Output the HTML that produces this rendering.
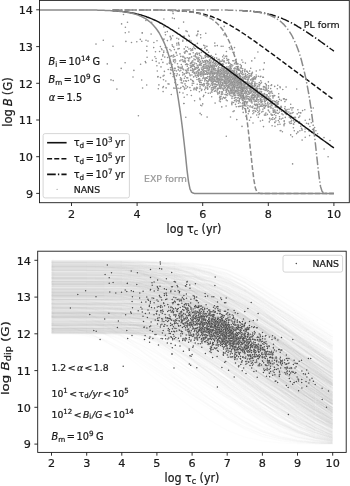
<!DOCTYPE html>
<html><head><meta charset="utf-8"><title>B decay</title>
<style>
html,body{margin:0;padding:0;background:#fff}
svg{display:block}
text{font-family:"DejaVu Sans","Liberation Sans",sans-serif;fill:#1a1a1a;stroke:#1a1a1a;stroke-width:0.22px}
.i{font-style:oblique}
.t{font-size:11.2px}
.a{font-size:9.75px;word-spacing:-1.5px}
.l{font-size:11.1px}
.p{font-size:9.4px}
.b{font-size:9.3px}
</style></head><body>
<svg width="350" height="486" viewBox="0 0 350 486">
<rect width="350" height="486" fill="#fff"/>
<defs>
<clipPath id="ct"><rect x="39.5" y="0.4" width="309.8" height="202.29999999999998"/></clipPath>
<clipPath id="cx"><rect x="112.5" y="0" width="300" height="210"/></clipPath>
<clipPath id="cx1"><rect x="176.5" y="0" width="300" height="210"/></clipPath>
<clipPath id="cx2"><rect x="242.1" y="0" width="300" height="210"/></clipPath>
<clipPath id="cb"><rect x="37.7" y="251.2" width="308.5" height="201.2"/></clipPath>
</defs>

<g clip-path="url(#ct)" fill="none">
<g stroke-linecap="round" fill="none"><path d="M232.3 81.2h0M249.6 90.1h0M210.3 55.7h0M240.4 96.3h0M243.3 96.9h0M229.5 71.8h0M284.7 123.6h0M180.8 70.2h0M206.7 66.1h0M232.4 92.9h0M203.4 62.3h0M245.7 78.8h0M236.8 77.7h0M291.9 110.0h0M177.0 55.2h0M208.3 69.3h0M232.7 77.4h0M213.8 74.2h0M254.0 96.0h0M233.5 90.7h0M233.0 85.2h0M174.4 49.6h0M125.9 41.4h0M226.4 71.6h0M259.3 108.0h0M240.2 78.1h0M212.3 59.0h0M269.8 103.7h0M212.3 83.6h0M230.2 88.4h0M214.4 67.8h0M189.2 54.1h0M204.0 71.1h0M239.0 69.4h0M264.5 101.2h0M254.7 101.7h0M234.1 110.9h0M261.9 99.8h0M302.1 140.1h0M246.3 102.3h0M234.0 60.7h0M199.0 73.9h0M253.1 90.3h0M223.4 64.5h0M291.3 116.3h0M176.8 43.3h0M257.3 90.1h0M175.7 79.8h0M264.4 101.0h0M241.3 80.6h0M187.3 66.3h0M202.6 67.2h0M267.0 94.8h0M238.1 90.7h0M231.2 85.2h0M206.9 63.2h0M271.0 114.1h0M278.5 101.6h0M208.0 74.1h0M188.9 49.0h0M231.0 89.9h0M227.3 72.3h0M244.8 99.4h0M269.7 93.7h0M214.3 58.7h0M264.0 98.2h0M260.1 99.5h0M200.1 86.9h0M222.3 64.4h0M212.9 81.2h0M228.0 70.9h0M249.9 97.3h0M248.6 79.8h0M216.8 79.7h0M165.5 34.7h0M210.8 85.3h0M271.1 85.5h0M226.9 79.1h0M250.0 101.2h0M289.9 113.7h0M203.2 75.7h0M227.2 80.6h0M217.1 70.6h0M224.7 88.2h0M328.1 156.7h0M205.7 68.1h0M212.6 80.5h0M271.1 92.7h0M210.2 64.3h0M203.0 74.1h0M244.6 84.7h0M252.3 86.0h0M184.1 74.4h0M251.2 87.6h0M240.5 85.0h0M239.9 80.8h0M220.8 79.1h0M277.5 104.5h0M173.4 74.6h0M249.9 86.1h0M200.6 61.4h0M184.4 78.2h0M261.8 89.4h0M277.9 107.8h0M209.6 73.6h0M223.5 74.1h0M197.4 47.7h0M231.1 86.3h0M236.1 73.7h0M243.2 112.4h0M256.5 108.9h0M232.4 77.2h0M272.1 114.7h0M218.8 64.3h0M217.4 89.2h0M247.6 74.7h0M211.6 77.9h0M211.5 91.2h0M205.8 33.2h0M243.8 74.4h0M291.6 120.3h0M218.2 68.1h0M248.6 98.9h0M249.1 82.0h0M195.1 73.9h0M218.6 79.6h0M226.5 75.6h0M241.0 84.7h0M225.8 79.8h0M201.2 73.8h0M208.4 70.6h0M230.7 77.2h0M260.8 100.1h0M211.7 69.7h0M165.4 47.5h0M274.4 110.4h0M274.7 86.4h0M273.7 95.5h0M239.6 106.4h0M163.9 26.9h0M187.4 64.5h0M228.5 86.0h0M209.0 79.5h0M190.1 54.0h0M224.2 61.4h0M221.1 70.9h0M226.8 90.8h0M244.3 104.9h0M232.8 60.8h0M282.8 118.2h0M254.9 82.1h0M201.8 105.7h0M218.8 71.8h0M205.9 56.3h0M243.8 105.6h0M170.5 29.5h0M207.3 78.2h0M233.5 87.3h0M185.8 117.3h0M266.4 85.8h0M211.3 89.1h0M207.2 67.0h0M254.1 99.6h0M194.0 72.8h0M239.6 87.6h0M248.7 96.5h0M261.1 104.1h0M196.8 87.4h0M203.6 77.2h0M191.0 67.2h0M251.4 96.5h0M172.9 11.7h0M199.6 62.8h0M213.2 81.3h0M256.3 76.9h0M232.3 102.8h0M250.2 105.8h0M242.3 99.4h0M210.2 76.0h0M230.1 84.4h0M220.8 80.6h0M256.9 88.4h0M266.0 87.4h0M241.9 92.4h0M211.4 73.6h0M189.8 57.9h0M258.6 95.3h0M271.0 101.5h0M236.6 72.3h0M235.1 97.4h0M265.3 105.6h0M285.7 99.7h0M239.0 79.9h0M223.3 69.6h0M257.2 94.4h0M221.3 76.7h0M236.0 97.6h0M244.3 77.9h0M235.5 81.4h0M210.8 66.7h0M188.7 35.2h0M283.7 111.3h0M176.9 38.2h0M218.7 62.5h0M257.9 52.0h0M226.3 100.1h0M243.3 85.4h0M184.0 103.5h0M228.8 91.8h0M225.6 73.3h0M227.3 72.2h0M230.2 76.1h0M247.7 82.8h0M179.9 68.0h0M253.8 112.7h0M235.2 62.9h0M195.1 68.4h0M212.7 82.8h0M222.6 83.9h0M224.2 26.4h0M265.0 96.3h0M165.8 81.0h0M214.2 88.1h0M264.6 87.1h0M218.2 70.7h0M226.4 78.2h0M241.5 68.2h0M234.2 83.3h0M208.7 83.5h0M215.3 88.0h0M188.3 60.5h0M220.2 74.6h0M225.2 81.7h0M259.1 86.1h0M251.6 89.8h0M183.6 69.8h0M228.6 61.0h0M247.2 77.0h0M229.4 69.6h0M154.9 56.8h0M253.6 91.9h0M217.0 61.1h0M242.2 91.3h0M255.5 105.4h0M243.2 96.7h0M192.2 85.3h0M234.2 86.8h0M259.1 97.1h0M219.7 61.6h0M254.4 86.5h0M228.3 62.8h0M184.8 53.2h0M250.4 83.9h0M221.3 73.9h0M268.3 110.1h0M300.3 112.8h0M200.2 72.6h0M268.5 107.2h0M209.3 77.2h0M246.0 116.2h0M205.1 47.3h0M330.0 140.5h0M251.6 75.2h0M221.1 82.5h0M250.0 91.8h0M234.7 80.3h0M262.9 109.3h0M219.4 101.0h0M268.4 81.9h0M230.9 81.3h0M240.2 64.5h0M168.2 69.5h0M188.4 80.5h0M244.7 87.7h0M270.9 101.8h0M225.0 82.0h0M302.1 129.2h0M177.5 63.8h0M265.4 106.8h0M222.5 68.4h0M235.7 95.3h0M250.2 99.3h0M256.7 115.0h0M211.7 66.4h0M252.7 97.7h0M182.9 56.9h0M237.0 85.2h0M215.1 73.6h0M267.5 103.6h0M210.1 67.8h0M219.4 61.0h0M251.6 92.4h0M174.3 60.0h0M243.1 88.0h0M178.5 42.5h0M196.4 87.8h0M200.6 55.7h0M238.0 95.4h0M224.3 86.0h0M218.0 72.4h0M212.9 64.2h0M216.6 79.1h0M226.6 77.1h0M270.1 120.0h0M247.6 98.2h0M255.3 78.1h0M238.1 79.5h0M227.1 78.1h0M214.7 80.2h0M211.9 69.0h0M181.3 64.5h0M231.8 90.5h0M184.2 97.3h0M231.6 89.5h0M208.2 70.7h0M221.9 91.8h0" stroke="#fff" stroke-opacity="0.2" stroke-width="2.2"/><path d="M232.3 81.2h0M249.6 90.1h0M210.3 55.7h0M240.4 96.3h0M243.3 96.9h0M229.5 71.8h0M284.7 123.6h0M180.8 70.2h0M206.7 66.1h0M232.4 92.9h0M203.4 62.3h0M245.7 78.8h0M236.8 77.7h0M291.9 110.0h0M177.0 55.2h0M208.3 69.3h0M232.7 77.4h0M213.8 74.2h0M254.0 96.0h0M233.5 90.7h0M233.0 85.2h0M174.4 49.6h0M125.9 41.4h0M226.4 71.6h0M259.3 108.0h0M240.2 78.1h0M212.3 59.0h0M269.8 103.7h0M212.3 83.6h0M230.2 88.4h0M214.4 67.8h0M189.2 54.1h0M204.0 71.1h0M239.0 69.4h0M264.5 101.2h0M254.7 101.7h0M234.1 110.9h0M261.9 99.8h0M302.1 140.1h0M246.3 102.3h0M234.0 60.7h0M199.0 73.9h0M253.1 90.3h0M223.4 64.5h0M291.3 116.3h0M176.8 43.3h0M257.3 90.1h0M175.7 79.8h0M264.4 101.0h0M241.3 80.6h0M187.3 66.3h0M202.6 67.2h0M267.0 94.8h0M238.1 90.7h0M231.2 85.2h0M206.9 63.2h0M271.0 114.1h0M278.5 101.6h0M208.0 74.1h0M188.9 49.0h0M231.0 89.9h0M227.3 72.3h0M244.8 99.4h0M269.7 93.7h0M214.3 58.7h0M264.0 98.2h0M260.1 99.5h0M200.1 86.9h0M222.3 64.4h0M212.9 81.2h0M228.0 70.9h0M249.9 97.3h0M248.6 79.8h0M216.8 79.7h0M165.5 34.7h0M210.8 85.3h0M271.1 85.5h0M226.9 79.1h0M250.0 101.2h0M289.9 113.7h0M203.2 75.7h0M227.2 80.6h0M217.1 70.6h0M224.7 88.2h0M328.1 156.7h0M205.7 68.1h0M212.6 80.5h0M271.1 92.7h0M210.2 64.3h0M203.0 74.1h0M244.6 84.7h0M252.3 86.0h0M184.1 74.4h0M251.2 87.6h0M240.5 85.0h0M239.9 80.8h0M220.8 79.1h0M277.5 104.5h0M173.4 74.6h0M249.9 86.1h0M200.6 61.4h0M184.4 78.2h0M261.8 89.4h0M277.9 107.8h0M209.6 73.6h0M223.5 74.1h0M197.4 47.7h0M231.1 86.3h0M236.1 73.7h0M243.2 112.4h0M256.5 108.9h0M232.4 77.2h0M272.1 114.7h0M218.8 64.3h0M217.4 89.2h0M247.6 74.7h0M211.6 77.9h0M211.5 91.2h0M205.8 33.2h0M243.8 74.4h0M291.6 120.3h0M218.2 68.1h0M248.6 98.9h0M249.1 82.0h0M195.1 73.9h0M218.6 79.6h0M226.5 75.6h0M241.0 84.7h0M225.8 79.8h0M201.2 73.8h0M208.4 70.6h0M230.7 77.2h0M260.8 100.1h0M211.7 69.7h0M165.4 47.5h0M274.4 110.4h0M274.7 86.4h0M273.7 95.5h0M239.6 106.4h0M163.9 26.9h0M187.4 64.5h0M228.5 86.0h0M209.0 79.5h0M190.1 54.0h0M224.2 61.4h0M221.1 70.9h0M226.8 90.8h0M244.3 104.9h0M232.8 60.8h0M282.8 118.2h0M254.9 82.1h0M201.8 105.7h0M218.8 71.8h0M205.9 56.3h0M243.8 105.6h0M170.5 29.5h0M207.3 78.2h0M233.5 87.3h0M185.8 117.3h0M266.4 85.8h0M211.3 89.1h0M207.2 67.0h0M254.1 99.6h0M194.0 72.8h0M239.6 87.6h0M248.7 96.5h0M261.1 104.1h0M196.8 87.4h0M203.6 77.2h0M191.0 67.2h0M251.4 96.5h0M172.9 11.7h0M199.6 62.8h0M213.2 81.3h0M256.3 76.9h0M232.3 102.8h0M250.2 105.8h0M242.3 99.4h0M210.2 76.0h0M230.1 84.4h0M220.8 80.6h0M256.9 88.4h0M266.0 87.4h0M241.9 92.4h0M211.4 73.6h0M189.8 57.9h0M258.6 95.3h0M271.0 101.5h0M236.6 72.3h0M235.1 97.4h0M265.3 105.6h0M285.7 99.7h0M239.0 79.9h0M223.3 69.6h0M257.2 94.4h0M221.3 76.7h0M236.0 97.6h0M244.3 77.9h0M235.5 81.4h0M210.8 66.7h0M188.7 35.2h0M283.7 111.3h0M176.9 38.2h0M218.7 62.5h0M257.9 52.0h0M226.3 100.1h0M243.3 85.4h0M184.0 103.5h0M228.8 91.8h0M225.6 73.3h0M227.3 72.2h0M230.2 76.1h0M247.7 82.8h0M179.9 68.0h0M253.8 112.7h0M235.2 62.9h0M195.1 68.4h0M212.7 82.8h0M222.6 83.9h0M224.2 26.4h0M265.0 96.3h0M165.8 81.0h0M214.2 88.1h0M264.6 87.1h0M218.2 70.7h0M226.4 78.2h0M241.5 68.2h0M234.2 83.3h0M208.7 83.5h0M215.3 88.0h0M188.3 60.5h0M220.2 74.6h0M225.2 81.7h0M259.1 86.1h0M251.6 89.8h0M183.6 69.8h0M228.6 61.0h0M247.2 77.0h0M229.4 69.6h0M154.9 56.8h0M253.6 91.9h0M217.0 61.1h0M242.2 91.3h0M255.5 105.4h0M243.2 96.7h0M192.2 85.3h0M234.2 86.8h0M259.1 97.1h0M219.7 61.6h0M254.4 86.5h0M228.3 62.8h0M184.8 53.2h0M250.4 83.9h0M221.3 73.9h0M268.3 110.1h0M300.3 112.8h0M200.2 72.6h0M268.5 107.2h0M209.3 77.2h0M246.0 116.2h0M205.1 47.3h0M330.0 140.5h0M251.6 75.2h0M221.1 82.5h0M250.0 91.8h0M234.7 80.3h0M262.9 109.3h0M219.4 101.0h0M268.4 81.9h0M230.9 81.3h0M240.2 64.5h0M168.2 69.5h0M188.4 80.5h0M244.7 87.7h0M270.9 101.8h0M225.0 82.0h0M302.1 129.2h0M177.5 63.8h0M265.4 106.8h0M222.5 68.4h0M235.7 95.3h0M250.2 99.3h0M256.7 115.0h0M211.7 66.4h0M252.7 97.7h0M182.9 56.9h0M237.0 85.2h0M215.1 73.6h0M267.5 103.6h0M210.1 67.8h0M219.4 61.0h0M251.6 92.4h0M174.3 60.0h0M243.1 88.0h0M178.5 42.5h0M196.4 87.8h0M200.6 55.7h0M238.0 95.4h0M224.3 86.0h0M218.0 72.4h0M212.9 64.2h0M216.6 79.1h0M226.6 77.1h0M270.1 120.0h0M247.6 98.2h0M255.3 78.1h0M238.1 79.5h0M227.1 78.1h0M214.7 80.2h0M211.9 69.0h0M181.3 64.5h0M231.8 90.5h0M184.2 97.3h0M231.6 89.5h0M208.2 70.7h0M221.9 91.8h0" stroke="#8e8e8e" stroke-width="1.6"/><path d="M219.4 63.8h0M324.0 137.6h0M195.2 55.6h0M254.9 88.9h0M206.5 49.8h0M239.4 93.1h0M201.4 52.4h0M207.5 82.1h0M247.9 108.5h0M274.7 122.3h0M260.8 76.3h0M182.9 86.2h0M226.2 76.6h0M225.3 56.5h0M233.3 73.9h0M221.2 46.2h0M256.6 101.2h0M238.0 82.4h0M215.0 83.8h0M232.8 77.8h0M278.0 103.1h0M208.1 70.5h0M262.7 77.2h0M176.9 45.0h0M301.5 128.4h0M244.3 77.6h0M198.5 74.4h0M268.9 106.7h0M208.1 66.9h0M237.3 90.1h0M217.9 82.1h0M311.3 122.7h0M234.1 81.9h0M195.7 69.2h0M248.8 73.5h0M215.0 77.3h0M244.4 86.9h0M258.0 112.6h0M247.9 88.2h0M248.5 94.3h0M265.8 115.2h0M219.0 69.8h0M235.0 100.6h0M313.3 108.0h0M227.0 83.0h0M255.9 108.2h0M178.3 69.9h0M297.8 132.0h0M218.3 69.3h0M233.1 85.2h0M230.4 71.6h0M257.1 89.0h0M220.0 84.5h0M200.3 64.4h0M255.4 88.9h0M227.8 70.8h0M165.2 32.2h0M250.4 92.4h0M226.3 81.8h0M230.9 80.3h0M203.0 70.7h0M197.3 65.5h0M243.1 103.6h0M293.4 127.8h0M231.4 83.4h0M306.5 123.2h0M213.3 74.9h0M199.4 53.4h0M207.1 117.1h0M164.4 71.4h0M218.8 79.3h0M193.6 71.2h0M232.0 76.0h0M232.1 89.0h0M212.9 66.0h0M240.7 94.6h0M244.2 89.4h0M302.0 130.3h0M226.1 84.5h0M226.0 77.9h0M240.3 75.9h0M208.1 81.7h0M249.9 100.5h0M264.0 99.3h0M224.6 68.6h0M274.4 114.5h0M255.3 95.9h0M228.9 82.7h0M197.3 68.4h0M193.9 59.0h0M225.0 94.5h0M207.2 81.3h0M224.3 87.1h0M170.8 39.7h0M247.4 85.9h0M254.3 108.4h0M259.9 70.0h0M220.4 101.8h0M244.8 70.3h0M265.3 83.5h0M251.9 101.9h0M245.8 93.2h0M240.6 90.6h0M210.0 72.6h0M243.8 87.3h0M190.8 90.5h0M254.5 94.7h0M244.3 88.5h0M274.1 103.3h0M213.5 72.0h0M266.6 98.5h0M242.2 105.5h0M191.2 63.3h0M252.6 97.9h0M209.4 86.8h0M233.9 85.1h0M194.8 63.1h0M226.1 106.0h0M271.4 105.5h0M178.7 28.3h0M197.8 61.3h0M264.8 102.0h0M187.9 72.4h0M241.6 96.6h0M277.3 113.2h0M254.2 91.2h0M127.5 22.2h0M255.6 85.6h0M280.9 130.5h0M238.5 92.0h0M179.2 48.5h0M259.0 104.1h0M283.0 114.8h0M213.1 75.8h0M236.0 92.4h0M238.4 80.5h0M217.1 65.2h0M234.3 86.0h0M196.4 63.7h0M218.2 78.7h0M219.2 67.7h0M215.8 90.2h0M265.3 101.4h0M219.2 71.4h0M257.3 105.6h0M215.7 73.5h0M260.2 76.8h0M121.2 68.4h0M196.5 35.3h0M247.0 83.1h0M202.7 103.9h0M218.4 82.1h0M262.0 93.9h0M232.0 96.7h0M185.5 80.7h0M245.9 96.9h0M317.6 133.8h0M228.0 77.5h0M212.6 77.7h0M242.9 62.2h0M263.5 105.4h0M218.9 93.6h0M228.2 80.4h0M281.2 100.4h0M247.7 85.9h0M281.4 110.5h0M157.3 71.0h0M233.2 83.8h0M223.7 68.7h0M151.7 22.3h0M211.6 67.1h0M204.5 74.1h0M182.5 83.0h0M243.4 97.3h0M241.0 81.7h0M233.3 71.9h0M218.8 64.3h0M157.8 76.9h0M215.2 72.3h0M248.8 111.4h0M277.5 103.1h0M231.2 68.6h0M234.5 47.6h0M216.0 76.4h0M280.3 107.3h0M259.1 106.6h0M230.1 82.8h0M242.5 74.2h0M230.1 88.5h0M184.6 89.2h0M233.8 73.5h0M198.7 72.9h0M261.0 89.1h0M223.4 73.4h0M217.2 79.3h0M178.0 48.9h0M209.8 73.2h0M237.3 80.3h0M231.3 92.0h0M245.5 73.8h0M254.4 86.6h0M233.4 86.9h0M207.2 85.3h0M252.8 111.0h0M216.0 79.8h0M253.0 123.0h0M218.0 64.1h0M199.0 57.7h0M235.6 80.1h0M183.4 36.4h0M251.1 76.2h0M227.0 80.0h0M230.0 80.6h0M232.8 76.3h0M194.6 100.7h0M217.1 79.7h0M186.7 73.1h0M245.1 83.0h0M249.7 71.1h0M96.0 44.1h0M192.9 62.3h0M243.5 100.2h0M205.1 62.2h0M294.5 122.3h0M145.9 62.7h0M215.0 80.7h0M246.1 101.9h0M200.0 88.6h0M279.5 116.8h0M217.2 82.0h0M194.3 88.1h0M235.5 104.4h0M234.8 81.7h0M191.6 56.9h0M211.6 70.8h0M221.7 64.9h0M213.2 78.5h0M215.1 91.1h0M222.4 60.0h0M194.3 69.5h0M208.4 61.9h0M216.2 63.2h0M202.2 85.2h0M170.2 56.4h0M213.9 88.7h0M224.4 72.4h0M293.3 117.6h0M242.5 87.3h0M243.9 91.3h0M246.2 99.1h0M180.7 68.1h0M173.4 60.1h0M223.2 77.8h0M271.6 115.1h0M266.1 90.0h0M264.2 107.9h0M244.6 85.8h0M211.9 92.3h0M213.4 62.7h0M224.4 73.3h0M181.4 80.6h0M213.2 65.1h0M229.8 78.3h0M252.6 78.6h0M245.2 82.9h0M198.3 72.4h0M292.1 108.0h0M245.7 84.1h0M216.0 76.5h0M219.3 70.2h0M284.0 125.8h0M204.7 48.3h0M237.4 88.1h0M235.4 81.3h0M241.8 92.0h0M218.2 72.9h0M257.2 97.1h0M217.1 76.0h0M238.4 106.6h0M230.6 68.3h0M244.2 93.2h0M230.6 69.2h0M196.1 72.9h0M250.7 68.3h0M228.2 87.6h0M291.5 123.2h0M239.5 85.1h0M231.7 72.0h0M208.7 61.8h0M251.6 96.8h0M249.7 93.2h0M252.4 72.2h0M247.1 79.6h0M251.2 107.1h0M232.8 78.6h0M236.4 75.5h0M235.3 86.9h0M218.5 69.8h0M235.6 75.1h0M145.3 61.6h0M252.9 113.7h0M186.1 88.2h0M181.2 82.7h0M240.0 77.6h0M209.5 59.6h0M284.2 121.6h0M251.0 99.8h0M233.8 90.1h0M223.7 90.4h0M209.8 86.7h0M204.8 74.5h0M214.2 77.4h0M204.1 83.6h0M201.2 73.9h0M221.6 79.1h0M233.0 73.3h0" stroke="#fff" stroke-opacity="0.2" stroke-width="2.2"/><path d="M219.4 63.8h0M324.0 137.6h0M195.2 55.6h0M254.9 88.9h0M206.5 49.8h0M239.4 93.1h0M201.4 52.4h0M207.5 82.1h0M247.9 108.5h0M274.7 122.3h0M260.8 76.3h0M182.9 86.2h0M226.2 76.6h0M225.3 56.5h0M233.3 73.9h0M221.2 46.2h0M256.6 101.2h0M238.0 82.4h0M215.0 83.8h0M232.8 77.8h0M278.0 103.1h0M208.1 70.5h0M262.7 77.2h0M176.9 45.0h0M301.5 128.4h0M244.3 77.6h0M198.5 74.4h0M268.9 106.7h0M208.1 66.9h0M237.3 90.1h0M217.9 82.1h0M311.3 122.7h0M234.1 81.9h0M195.7 69.2h0M248.8 73.5h0M215.0 77.3h0M244.4 86.9h0M258.0 112.6h0M247.9 88.2h0M248.5 94.3h0M265.8 115.2h0M219.0 69.8h0M235.0 100.6h0M313.3 108.0h0M227.0 83.0h0M255.9 108.2h0M178.3 69.9h0M297.8 132.0h0M218.3 69.3h0M233.1 85.2h0M230.4 71.6h0M257.1 89.0h0M220.0 84.5h0M200.3 64.4h0M255.4 88.9h0M227.8 70.8h0M165.2 32.2h0M250.4 92.4h0M226.3 81.8h0M230.9 80.3h0M203.0 70.7h0M197.3 65.5h0M243.1 103.6h0M293.4 127.8h0M231.4 83.4h0M306.5 123.2h0M213.3 74.9h0M199.4 53.4h0M207.1 117.1h0M164.4 71.4h0M218.8 79.3h0M193.6 71.2h0M232.0 76.0h0M232.1 89.0h0M212.9 66.0h0M240.7 94.6h0M244.2 89.4h0M302.0 130.3h0M226.1 84.5h0M226.0 77.9h0M240.3 75.9h0M208.1 81.7h0M249.9 100.5h0M264.0 99.3h0M224.6 68.6h0M274.4 114.5h0M255.3 95.9h0M228.9 82.7h0M197.3 68.4h0M193.9 59.0h0M225.0 94.5h0M207.2 81.3h0M224.3 87.1h0M170.8 39.7h0M247.4 85.9h0M254.3 108.4h0M259.9 70.0h0M220.4 101.8h0M244.8 70.3h0M265.3 83.5h0M251.9 101.9h0M245.8 93.2h0M240.6 90.6h0M210.0 72.6h0M243.8 87.3h0M190.8 90.5h0M254.5 94.7h0M244.3 88.5h0M274.1 103.3h0M213.5 72.0h0M266.6 98.5h0M242.2 105.5h0M191.2 63.3h0M252.6 97.9h0M209.4 86.8h0M233.9 85.1h0M194.8 63.1h0M226.1 106.0h0M271.4 105.5h0M178.7 28.3h0M197.8 61.3h0M264.8 102.0h0M187.9 72.4h0M241.6 96.6h0M277.3 113.2h0M254.2 91.2h0M127.5 22.2h0M255.6 85.6h0M280.9 130.5h0M238.5 92.0h0M179.2 48.5h0M259.0 104.1h0M283.0 114.8h0M213.1 75.8h0M236.0 92.4h0M238.4 80.5h0M217.1 65.2h0M234.3 86.0h0M196.4 63.7h0M218.2 78.7h0M219.2 67.7h0M215.8 90.2h0M265.3 101.4h0M219.2 71.4h0M257.3 105.6h0M215.7 73.5h0M260.2 76.8h0M121.2 68.4h0M196.5 35.3h0M247.0 83.1h0M202.7 103.9h0M218.4 82.1h0M262.0 93.9h0M232.0 96.7h0M185.5 80.7h0M245.9 96.9h0M317.6 133.8h0M228.0 77.5h0M212.6 77.7h0M242.9 62.2h0M263.5 105.4h0M218.9 93.6h0M228.2 80.4h0M281.2 100.4h0M247.7 85.9h0M281.4 110.5h0M157.3 71.0h0M233.2 83.8h0M223.7 68.7h0M151.7 22.3h0M211.6 67.1h0M204.5 74.1h0M182.5 83.0h0M243.4 97.3h0M241.0 81.7h0M233.3 71.9h0M218.8 64.3h0M157.8 76.9h0M215.2 72.3h0M248.8 111.4h0M277.5 103.1h0M231.2 68.6h0M234.5 47.6h0M216.0 76.4h0M280.3 107.3h0M259.1 106.6h0M230.1 82.8h0M242.5 74.2h0M230.1 88.5h0M184.6 89.2h0M233.8 73.5h0M198.7 72.9h0M261.0 89.1h0M223.4 73.4h0M217.2 79.3h0M178.0 48.9h0M209.8 73.2h0M237.3 80.3h0M231.3 92.0h0M245.5 73.8h0M254.4 86.6h0M233.4 86.9h0M207.2 85.3h0M252.8 111.0h0M216.0 79.8h0M253.0 123.0h0M218.0 64.1h0M199.0 57.7h0M235.6 80.1h0M183.4 36.4h0M251.1 76.2h0M227.0 80.0h0M230.0 80.6h0M232.8 76.3h0M194.6 100.7h0M217.1 79.7h0M186.7 73.1h0M245.1 83.0h0M249.7 71.1h0M96.0 44.1h0M192.9 62.3h0M243.5 100.2h0M205.1 62.2h0M294.5 122.3h0M145.9 62.7h0M215.0 80.7h0M246.1 101.9h0M200.0 88.6h0M279.5 116.8h0M217.2 82.0h0M194.3 88.1h0M235.5 104.4h0M234.8 81.7h0M191.6 56.9h0M211.6 70.8h0M221.7 64.9h0M213.2 78.5h0M215.1 91.1h0M222.4 60.0h0M194.3 69.5h0M208.4 61.9h0M216.2 63.2h0M202.2 85.2h0M170.2 56.4h0M213.9 88.7h0M224.4 72.4h0M293.3 117.6h0M242.5 87.3h0M243.9 91.3h0M246.2 99.1h0M180.7 68.1h0M173.4 60.1h0M223.2 77.8h0M271.6 115.1h0M266.1 90.0h0M264.2 107.9h0M244.6 85.8h0M211.9 92.3h0M213.4 62.7h0M224.4 73.3h0M181.4 80.6h0M213.2 65.1h0M229.8 78.3h0M252.6 78.6h0M245.2 82.9h0M198.3 72.4h0M292.1 108.0h0M245.7 84.1h0M216.0 76.5h0M219.3 70.2h0M284.0 125.8h0M204.7 48.3h0M237.4 88.1h0M235.4 81.3h0M241.8 92.0h0M218.2 72.9h0M257.2 97.1h0M217.1 76.0h0M238.4 106.6h0M230.6 68.3h0M244.2 93.2h0M230.6 69.2h0M196.1 72.9h0M250.7 68.3h0M228.2 87.6h0M291.5 123.2h0M239.5 85.1h0M231.7 72.0h0M208.7 61.8h0M251.6 96.8h0M249.7 93.2h0M252.4 72.2h0M247.1 79.6h0M251.2 107.1h0M232.8 78.6h0M236.4 75.5h0M235.3 86.9h0M218.5 69.8h0M235.6 75.1h0M145.3 61.6h0M252.9 113.7h0M186.1 88.2h0M181.2 82.7h0M240.0 77.6h0M209.5 59.6h0M284.2 121.6h0M251.0 99.8h0M233.8 90.1h0M223.7 90.4h0M209.8 86.7h0M204.8 74.5h0M214.2 77.4h0M204.1 83.6h0M201.2 73.9h0M221.6 79.1h0M233.0 73.3h0" stroke="#8e8e8e" stroke-width="1.6"/><path d="M274.5 103.9h0M196.9 73.2h0M235.9 80.6h0M234.9 82.2h0M225.4 72.4h0M260.0 101.2h0M185.4 61.1h0M234.3 77.9h0M244.2 83.9h0M216.3 81.4h0M240.1 92.7h0M219.7 77.1h0M212.4 66.3h0M169.0 84.1h0M171.3 70.1h0M275.0 111.2h0M251.4 73.7h0M257.0 99.7h0M170.5 69.7h0M227.2 60.0h0M191.1 70.4h0M220.7 84.0h0M221.0 85.9h0M252.9 87.8h0M268.7 93.2h0M237.6 91.7h0M203.3 96.6h0M240.5 95.3h0M199.5 55.1h0M295.5 117.7h0M262.8 96.9h0M255.6 77.7h0M158.9 84.9h0M270.1 91.7h0M262.5 101.4h0M173.1 76.6h0M242.4 103.6h0M197.2 84.3h0M156.9 65.7h0M201.1 84.3h0M209.4 79.7h0M192.4 65.7h0M222.2 77.1h0M231.2 80.1h0M221.6 72.8h0M219.8 62.6h0M219.5 65.3h0M207.2 88.4h0M218.4 88.8h0M169.6 61.1h0M256.2 75.0h0M265.1 90.5h0M246.8 93.0h0M170.5 73.4h0M241.0 91.6h0M232.0 98.4h0M233.9 68.7h0M197.9 53.2h0M216.7 79.2h0M199.8 64.8h0M268.0 105.9h0M185.4 58.6h0M217.0 77.0h0M242.6 70.5h0M170.5 37.0h0M228.8 79.1h0M257.3 88.8h0M270.9 107.7h0M267.2 95.2h0M230.7 84.2h0M220.8 77.1h0M273.2 112.1h0M212.6 65.5h0M206.3 73.9h0M289.3 117.1h0M184.2 48.9h0M213.1 70.3h0M212.2 68.1h0M186.1 73.3h0M220.3 83.7h0M251.9 82.4h0M226.9 85.4h0M229.9 65.8h0M216.7 81.9h0M213.3 61.3h0M224.3 69.8h0M297.2 113.9h0M311.2 108.0h0M125.4 27.3h0M242.3 79.7h0M262.6 120.3h0M269.6 112.1h0M217.8 71.0h0M232.7 86.8h0M212.2 71.5h0M219.9 80.0h0M261.2 94.1h0M233.0 75.8h0M253.8 78.7h0M193.6 47.0h0M284.4 98.9h0M251.4 95.5h0M209.4 69.1h0M245.5 101.4h0M238.2 88.3h0M171.2 38.4h0M219.4 78.9h0M259.2 104.2h0M211.4 79.8h0M235.0 70.1h0M261.0 102.3h0M222.3 85.4h0M233.9 93.4h0M266.2 94.7h0M230.5 73.5h0M222.9 60.3h0M180.3 79.8h0M192.5 72.3h0M227.9 72.0h0M192.7 69.0h0M227.0 72.3h0M243.7 87.2h0M196.3 57.0h0M203.4 67.3h0M228.3 68.8h0M249.4 88.0h0M259.0 111.6h0M219.9 96.3h0M230.6 68.0h0M257.6 106.3h0M190.2 75.7h0M233.8 83.5h0M208.8 84.6h0M194.9 59.5h0M219.2 74.4h0M232.8 65.2h0M223.4 80.1h0M293.6 124.3h0M243.1 86.3h0M205.9 74.3h0M227.5 60.0h0M245.8 93.9h0M235.6 78.9h0M198.0 57.2h0M246.9 104.0h0M210.6 62.2h0M247.7 101.8h0M252.3 99.0h0M254.1 78.7h0M253.8 99.4h0M284.2 120.7h0M220.0 71.4h0M187.2 57.8h0M239.6 99.2h0M220.6 64.9h0M214.4 91.2h0M237.6 83.4h0M267.6 103.2h0M232.7 87.4h0M254.9 89.0h0M264.0 105.2h0M234.3 88.4h0M260.8 83.5h0M282.8 89.5h0M213.2 72.3h0M239.9 87.1h0M237.8 86.2h0M201.4 73.2h0M200.1 99.6h0M191.6 49.7h0M272.4 93.3h0M228.7 91.3h0M201.4 114.7h0M158.3 88.8h0M240.9 89.1h0M193.2 70.8h0M89.2 57.4h0M285.1 106.7h0M211.5 83.8h0M215.1 84.2h0M242.6 108.9h0M244.3 88.1h0M256.9 104.5h0M190.7 79.3h0M243.0 74.3h0M257.8 86.1h0M209.1 68.8h0M228.9 80.4h0M238.4 78.7h0M213.8 78.7h0M227.5 79.3h0M231.5 80.1h0M214.9 87.1h0M227.8 75.1h0M210.9 63.1h0M228.9 84.9h0M229.1 81.5h0M276.8 100.7h0M201.1 65.6h0M252.0 78.7h0M217.3 73.8h0M206.8 68.2h0M247.7 72.2h0M211.5 76.9h0M251.9 85.4h0M234.3 71.4h0M231.5 74.8h0M229.3 86.5h0M226.3 89.2h0M238.2 83.6h0M230.4 66.9h0M220.1 74.5h0M273.7 111.1h0M209.8 77.0h0M232.0 85.4h0M224.4 81.3h0M257.0 105.6h0M289.0 109.3h0M240.9 82.0h0M190.2 65.3h0M225.8 80.4h0M212.7 82.0h0M232.5 88.4h0M233.8 86.9h0M246.2 96.7h0M208.7 73.3h0M236.7 91.3h0M236.0 62.3h0M246.7 102.9h0M225.7 72.5h0M222.7 71.2h0M246.2 95.6h0M253.0 78.1h0M204.9 78.3h0M233.6 102.5h0M205.4 87.1h0M265.7 99.0h0M209.9 55.5h0M213.2 89.0h0M271.5 119.1h0M240.9 97.1h0M216.3 76.4h0M293.5 120.7h0M259.0 114.6h0M300.7 126.3h0M224.3 76.3h0M217.0 91.8h0M156.0 58.5h0M186.8 63.9h0M269.0 97.4h0M223.5 85.0h0M215.6 84.4h0M281.7 109.7h0M226.2 92.5h0M229.6 81.6h0M296.7 89.0h0M211.0 66.8h0M234.3 76.9h0M198.0 65.2h0M256.8 94.9h0M257.4 105.0h0M252.2 73.1h0M242.8 93.7h0M218.1 75.9h0M214.9 65.4h0M260.8 80.8h0M242.2 71.6h0M146.7 50.9h0M185.6 64.5h0M259.4 88.3h0M202.9 78.4h0M224.6 67.3h0M239.8 76.5h0M221.1 67.7h0M248.3 99.6h0M190.2 54.0h0M243.7 88.9h0M198.4 75.3h0M240.8 72.9h0M215.8 54.2h0M195.7 54.0h0M201.8 89.4h0M236.2 64.3h0M214.5 77.3h0M246.9 71.3h0M205.5 74.1h0M262.5 95.2h0M230.8 74.3h0M185.3 76.2h0M178.1 88.2h0M188.8 58.4h0M251.4 100.2h0M159.6 51.5h0M211.7 58.0h0M241.9 84.8h0M217.2 84.9h0M207.2 67.5h0M256.9 90.8h0M255.8 92.3h0M205.0 67.1h0M196.4 90.1h0M211.7 80.8h0M222.1 68.0h0M305.1 129.0h0M211.3 65.2h0M205.6 71.2h0M250.4 75.5h0M239.3 86.7h0M241.3 65.6h0M205.6 74.3h0M285.3 117.4h0M261.6 102.1h0M256.9 97.8h0M191.0 79.6h0M239.7 81.2h0M287.1 109.6h0" stroke="#fff" stroke-opacity="0.2" stroke-width="2.2"/><path d="M274.5 103.9h0M196.9 73.2h0M235.9 80.6h0M234.9 82.2h0M225.4 72.4h0M260.0 101.2h0M185.4 61.1h0M234.3 77.9h0M244.2 83.9h0M216.3 81.4h0M240.1 92.7h0M219.7 77.1h0M212.4 66.3h0M169.0 84.1h0M171.3 70.1h0M275.0 111.2h0M251.4 73.7h0M257.0 99.7h0M170.5 69.7h0M227.2 60.0h0M191.1 70.4h0M220.7 84.0h0M221.0 85.9h0M252.9 87.8h0M268.7 93.2h0M237.6 91.7h0M203.3 96.6h0M240.5 95.3h0M199.5 55.1h0M295.5 117.7h0M262.8 96.9h0M255.6 77.7h0M158.9 84.9h0M270.1 91.7h0M262.5 101.4h0M173.1 76.6h0M242.4 103.6h0M197.2 84.3h0M156.9 65.7h0M201.1 84.3h0M209.4 79.7h0M192.4 65.7h0M222.2 77.1h0M231.2 80.1h0M221.6 72.8h0M219.8 62.6h0M219.5 65.3h0M207.2 88.4h0M218.4 88.8h0M169.6 61.1h0M256.2 75.0h0M265.1 90.5h0M246.8 93.0h0M170.5 73.4h0M241.0 91.6h0M232.0 98.4h0M233.9 68.7h0M197.9 53.2h0M216.7 79.2h0M199.8 64.8h0M268.0 105.9h0M185.4 58.6h0M217.0 77.0h0M242.6 70.5h0M170.5 37.0h0M228.8 79.1h0M257.3 88.8h0M270.9 107.7h0M267.2 95.2h0M230.7 84.2h0M220.8 77.1h0M273.2 112.1h0M212.6 65.5h0M206.3 73.9h0M289.3 117.1h0M184.2 48.9h0M213.1 70.3h0M212.2 68.1h0M186.1 73.3h0M220.3 83.7h0M251.9 82.4h0M226.9 85.4h0M229.9 65.8h0M216.7 81.9h0M213.3 61.3h0M224.3 69.8h0M297.2 113.9h0M311.2 108.0h0M125.4 27.3h0M242.3 79.7h0M262.6 120.3h0M269.6 112.1h0M217.8 71.0h0M232.7 86.8h0M212.2 71.5h0M219.9 80.0h0M261.2 94.1h0M233.0 75.8h0M253.8 78.7h0M193.6 47.0h0M284.4 98.9h0M251.4 95.5h0M209.4 69.1h0M245.5 101.4h0M238.2 88.3h0M171.2 38.4h0M219.4 78.9h0M259.2 104.2h0M211.4 79.8h0M235.0 70.1h0M261.0 102.3h0M222.3 85.4h0M233.9 93.4h0M266.2 94.7h0M230.5 73.5h0M222.9 60.3h0M180.3 79.8h0M192.5 72.3h0M227.9 72.0h0M192.7 69.0h0M227.0 72.3h0M243.7 87.2h0M196.3 57.0h0M203.4 67.3h0M228.3 68.8h0M249.4 88.0h0M259.0 111.6h0M219.9 96.3h0M230.6 68.0h0M257.6 106.3h0M190.2 75.7h0M233.8 83.5h0M208.8 84.6h0M194.9 59.5h0M219.2 74.4h0M232.8 65.2h0M223.4 80.1h0M293.6 124.3h0M243.1 86.3h0M205.9 74.3h0M227.5 60.0h0M245.8 93.9h0M235.6 78.9h0M198.0 57.2h0M246.9 104.0h0M210.6 62.2h0M247.7 101.8h0M252.3 99.0h0M254.1 78.7h0M253.8 99.4h0M284.2 120.7h0M220.0 71.4h0M187.2 57.8h0M239.6 99.2h0M220.6 64.9h0M214.4 91.2h0M237.6 83.4h0M267.6 103.2h0M232.7 87.4h0M254.9 89.0h0M264.0 105.2h0M234.3 88.4h0M260.8 83.5h0M282.8 89.5h0M213.2 72.3h0M239.9 87.1h0M237.8 86.2h0M201.4 73.2h0M200.1 99.6h0M191.6 49.7h0M272.4 93.3h0M228.7 91.3h0M201.4 114.7h0M158.3 88.8h0M240.9 89.1h0M193.2 70.8h0M89.2 57.4h0M285.1 106.7h0M211.5 83.8h0M215.1 84.2h0M242.6 108.9h0M244.3 88.1h0M256.9 104.5h0M190.7 79.3h0M243.0 74.3h0M257.8 86.1h0M209.1 68.8h0M228.9 80.4h0M238.4 78.7h0M213.8 78.7h0M227.5 79.3h0M231.5 80.1h0M214.9 87.1h0M227.8 75.1h0M210.9 63.1h0M228.9 84.9h0M229.1 81.5h0M276.8 100.7h0M201.1 65.6h0M252.0 78.7h0M217.3 73.8h0M206.8 68.2h0M247.7 72.2h0M211.5 76.9h0M251.9 85.4h0M234.3 71.4h0M231.5 74.8h0M229.3 86.5h0M226.3 89.2h0M238.2 83.6h0M230.4 66.9h0M220.1 74.5h0M273.7 111.1h0M209.8 77.0h0M232.0 85.4h0M224.4 81.3h0M257.0 105.6h0M289.0 109.3h0M240.9 82.0h0M190.2 65.3h0M225.8 80.4h0M212.7 82.0h0M232.5 88.4h0M233.8 86.9h0M246.2 96.7h0M208.7 73.3h0M236.7 91.3h0M236.0 62.3h0M246.7 102.9h0M225.7 72.5h0M222.7 71.2h0M246.2 95.6h0M253.0 78.1h0M204.9 78.3h0M233.6 102.5h0M205.4 87.1h0M265.7 99.0h0M209.9 55.5h0M213.2 89.0h0M271.5 119.1h0M240.9 97.1h0M216.3 76.4h0M293.5 120.7h0M259.0 114.6h0M300.7 126.3h0M224.3 76.3h0M217.0 91.8h0M156.0 58.5h0M186.8 63.9h0M269.0 97.4h0M223.5 85.0h0M215.6 84.4h0M281.7 109.7h0M226.2 92.5h0M229.6 81.6h0M296.7 89.0h0M211.0 66.8h0M234.3 76.9h0M198.0 65.2h0M256.8 94.9h0M257.4 105.0h0M252.2 73.1h0M242.8 93.7h0M218.1 75.9h0M214.9 65.4h0M260.8 80.8h0M242.2 71.6h0M146.7 50.9h0M185.6 64.5h0M259.4 88.3h0M202.9 78.4h0M224.6 67.3h0M239.8 76.5h0M221.1 67.7h0M248.3 99.6h0M190.2 54.0h0M243.7 88.9h0M198.4 75.3h0M240.8 72.9h0M215.8 54.2h0M195.7 54.0h0M201.8 89.4h0M236.2 64.3h0M214.5 77.3h0M246.9 71.3h0M205.5 74.1h0M262.5 95.2h0M230.8 74.3h0M185.3 76.2h0M178.1 88.2h0M188.8 58.4h0M251.4 100.2h0M159.6 51.5h0M211.7 58.0h0M241.9 84.8h0M217.2 84.9h0M207.2 67.5h0M256.9 90.8h0M255.8 92.3h0M205.0 67.1h0M196.4 90.1h0M211.7 80.8h0M222.1 68.0h0M305.1 129.0h0M211.3 65.2h0M205.6 71.2h0M250.4 75.5h0M239.3 86.7h0M241.3 65.6h0M205.6 74.3h0M285.3 117.4h0M261.6 102.1h0M256.9 97.8h0M191.0 79.6h0M239.7 81.2h0M287.1 109.6h0" stroke="#8e8e8e" stroke-width="1.6"/><path d="M240.6 90.2h0M163.1 76.1h0M204.2 85.2h0M206.8 65.2h0M272.8 117.7h0M231.5 64.8h0M218.5 66.9h0M224.1 62.0h0M214.6 80.8h0M235.1 86.3h0M162.7 55.9h0M234.8 94.8h0M254.0 89.2h0M286.8 111.5h0M201.6 63.4h0M228.6 76.8h0M193.0 69.7h0M273.0 110.1h0M250.9 99.4h0M230.4 78.2h0M244.8 71.8h0M243.1 78.7h0M207.4 74.5h0M189.3 73.3h0M232.1 73.3h0M166.1 87.9h0M223.8 72.6h0M230.5 117.0h0M237.9 75.8h0M254.8 84.6h0M191.0 50.6h0M209.7 60.1h0M324.1 149.0h0M185.0 58.2h0M188.7 68.1h0M223.6 55.2h0M237.5 88.6h0M249.7 76.1h0M206.9 70.1h0M273.7 110.2h0M241.9 83.3h0M111.0 79.9h0M210.7 79.6h0M230.9 70.4h0M229.6 68.9h0M256.9 98.4h0M230.3 79.7h0M245.1 76.2h0M217.3 45.6h0M227.6 82.1h0M242.8 95.8h0M216.8 79.3h0M259.1 92.7h0M193.5 65.3h0M240.6 87.0h0M221.4 94.6h0M309.6 119.4h0M242.7 107.5h0M194.1 88.7h0M255.2 83.2h0M290.1 123.4h0M232.8 96.2h0M234.1 89.5h0M242.6 77.4h0M243.9 98.9h0M228.3 80.6h0M206.7 50.0h0M245.8 88.3h0M192.5 48.8h0M251.5 84.3h0M222.2 84.4h0M241.1 94.1h0M252.0 97.1h0M251.2 85.2h0M231.6 91.7h0M225.1 76.2h0M264.3 62.9h0M254.5 83.9h0M261.4 102.2h0M233.4 74.3h0M240.6 106.2h0M203.8 95.4h0M184.5 60.2h0M252.3 91.2h0M228.4 72.4h0M202.9 66.6h0M240.2 94.7h0M169.9 49.5h0M288.9 112.1h0M212.4 73.7h0M185.8 85.7h0M176.1 52.2h0M270.6 102.4h0M285.2 113.2h0M226.8 78.5h0M251.8 90.3h0M187.5 69.1h0M254.3 92.5h0M184.9 61.5h0M198.7 78.8h0M293.6 124.0h0M259.1 88.7h0M198.0 67.7h0M232.4 82.6h0M195.1 59.7h0M213.4 69.0h0M209.5 63.0h0M254.2 86.1h0M276.0 102.2h0M238.8 82.6h0M226.3 73.2h0M253.9 90.1h0M198.4 58.7h0M237.5 74.5h0M205.4 57.5h0M158.0 76.5h0M224.7 80.2h0M202.1 72.5h0M113.2 80.6h0M161.0 66.9h0M255.7 101.3h0M182.7 75.0h0M221.9 76.8h0M161.5 59.5h0M266.8 89.4h0M244.1 76.8h0M226.6 91.9h0M246.8 89.4h0M217.4 74.6h0M215.0 45.9h0M297.2 121.6h0M252.5 107.6h0M225.7 94.6h0M208.3 93.2h0M286.1 87.0h0M193.4 81.3h0M234.1 77.9h0M315.9 130.7h0M252.3 80.9h0M247.6 94.3h0M186.8 64.5h0M273.0 97.9h0M231.9 79.6h0M237.5 75.6h0M175.2 68.4h0M230.5 70.1h0M204.7 80.9h0M148.0 41.1h0M211.8 76.6h0M267.4 91.1h0M264.7 99.2h0M230.4 64.0h0M205.9 67.8h0M192.9 70.9h0M243.3 90.3h0M238.5 79.3h0M163.7 39.6h0M211.9 83.1h0M237.8 85.4h0M247.5 90.3h0M285.4 110.6h0M256.4 101.2h0M225.8 79.2h0M234.0 90.5h0M146.7 85.0h0M213.1 68.6h0M228.1 90.2h0M229.7 84.9h0M229.3 47.6h0M223.1 61.3h0M242.4 72.6h0M214.5 79.0h0M197.4 43.4h0M207.4 50.2h0M212.9 72.5h0M182.5 59.8h0M220.7 71.4h0M220.5 61.3h0M171.6 55.9h0M212.2 90.4h0M240.9 86.1h0M163.7 52.4h0M219.0 84.6h0M224.6 86.1h0M219.2 74.0h0M225.4 70.3h0M225.5 77.0h0M220.4 65.2h0M263.4 77.3h0M238.0 77.2h0M218.9 78.2h0M247.3 86.2h0M196.6 77.2h0M214.3 73.9h0M192.4 80.5h0M289.3 122.0h0M182.9 40.3h0M262.7 94.7h0M174.6 73.7h0M187.2 31.6h0M247.9 86.9h0M248.0 98.5h0M199.7 81.4h0M186.0 30.9h0M217.0 77.3h0M240.8 80.9h0M208.2 72.9h0M269.8 98.7h0M214.8 43.1h0M173.1 13.6h0M251.8 91.2h0M216.9 81.7h0M226.5 86.1h0M235.5 85.2h0M244.8 71.3h0M292.6 163.9h0M271.7 91.3h0M259.7 110.1h0M224.4 80.7h0M172.2 44.9h0M201.9 75.0h0M274.6 112.0h0M146.9 46.2h0M211.1 79.0h0M184.3 52.2h0M224.6 71.7h0M250.0 89.4h0M227.5 89.4h0M175.0 82.6h0M198.8 69.9h0M244.6 108.5h0M217.7 93.9h0M147.1 57.3h0M264.7 94.2h0M210.5 65.6h0M207.2 87.1h0M203.7 58.3h0M246.9 91.6h0M276.0 112.4h0M192.3 64.4h0M183.1 61.4h0M216.9 70.2h0M262.7 104.1h0M231.9 66.8h0M233.0 76.7h0M225.0 78.8h0M263.6 89.4h0M255.0 84.0h0M260.7 96.1h0M213.2 73.3h0M258.0 99.9h0M242.4 99.9h0M246.6 92.1h0M271.9 103.7h0M300.8 112.9h0M192.9 81.2h0M239.3 101.5h0M185.1 62.2h0M248.8 92.0h0M173.7 47.1h0M238.7 84.4h0M174.9 62.7h0M210.7 58.5h0M198.2 60.2h0M156.2 61.4h0M219.5 86.2h0M210.1 75.0h0M254.8 92.3h0M200.1 113.4h0M226.6 86.1h0M223.1 71.7h0M232.0 87.5h0M260.6 89.1h0M264.8 105.7h0M229.1 84.6h0M188.9 59.0h0M221.6 87.8h0M242.8 93.3h0M211.9 68.1h0M209.5 66.6h0M233.7 87.1h0M280.0 86.7h0M236.5 81.6h0M234.1 79.5h0M225.9 90.6h0M277.6 106.7h0M233.2 86.0h0M233.9 73.4h0M220.9 74.8h0M267.4 114.4h0M215.6 81.6h0M296.3 121.3h0M309.6 135.6h0M237.5 83.4h0M172.1 64.6h0M229.7 79.2h0M200.4 80.4h0M249.4 110.1h0M229.0 62.9h0M167.3 31.6h0M263.4 86.9h0M215.1 86.5h0M277.3 88.8h0M285.4 109.9h0M263.3 96.8h0M237.0 75.6h0M291.4 116.8h0M210.5 65.9h0M278.7 93.7h0M206.4 83.4h0M208.5 55.4h0M240.3 82.2h0M205.6 92.5h0M239.8 83.9h0M290.9 113.6h0M199.5 70.1h0" stroke="#fff" stroke-opacity="0.2" stroke-width="2.2"/><path d="M240.6 90.2h0M163.1 76.1h0M204.2 85.2h0M206.8 65.2h0M272.8 117.7h0M231.5 64.8h0M218.5 66.9h0M224.1 62.0h0M214.6 80.8h0M235.1 86.3h0M162.7 55.9h0M234.8 94.8h0M254.0 89.2h0M286.8 111.5h0M201.6 63.4h0M228.6 76.8h0M193.0 69.7h0M273.0 110.1h0M250.9 99.4h0M230.4 78.2h0M244.8 71.8h0M243.1 78.7h0M207.4 74.5h0M189.3 73.3h0M232.1 73.3h0M166.1 87.9h0M223.8 72.6h0M230.5 117.0h0M237.9 75.8h0M254.8 84.6h0M191.0 50.6h0M209.7 60.1h0M324.1 149.0h0M185.0 58.2h0M188.7 68.1h0M223.6 55.2h0M237.5 88.6h0M249.7 76.1h0M206.9 70.1h0M273.7 110.2h0M241.9 83.3h0M111.0 79.9h0M210.7 79.6h0M230.9 70.4h0M229.6 68.9h0M256.9 98.4h0M230.3 79.7h0M245.1 76.2h0M217.3 45.6h0M227.6 82.1h0M242.8 95.8h0M216.8 79.3h0M259.1 92.7h0M193.5 65.3h0M240.6 87.0h0M221.4 94.6h0M309.6 119.4h0M242.7 107.5h0M194.1 88.7h0M255.2 83.2h0M290.1 123.4h0M232.8 96.2h0M234.1 89.5h0M242.6 77.4h0M243.9 98.9h0M228.3 80.6h0M206.7 50.0h0M245.8 88.3h0M192.5 48.8h0M251.5 84.3h0M222.2 84.4h0M241.1 94.1h0M252.0 97.1h0M251.2 85.2h0M231.6 91.7h0M225.1 76.2h0M264.3 62.9h0M254.5 83.9h0M261.4 102.2h0M233.4 74.3h0M240.6 106.2h0M203.8 95.4h0M184.5 60.2h0M252.3 91.2h0M228.4 72.4h0M202.9 66.6h0M240.2 94.7h0M169.9 49.5h0M288.9 112.1h0M212.4 73.7h0M185.8 85.7h0M176.1 52.2h0M270.6 102.4h0M285.2 113.2h0M226.8 78.5h0M251.8 90.3h0M187.5 69.1h0M254.3 92.5h0M184.9 61.5h0M198.7 78.8h0M293.6 124.0h0M259.1 88.7h0M198.0 67.7h0M232.4 82.6h0M195.1 59.7h0M213.4 69.0h0M209.5 63.0h0M254.2 86.1h0M276.0 102.2h0M238.8 82.6h0M226.3 73.2h0M253.9 90.1h0M198.4 58.7h0M237.5 74.5h0M205.4 57.5h0M158.0 76.5h0M224.7 80.2h0M202.1 72.5h0M113.2 80.6h0M161.0 66.9h0M255.7 101.3h0M182.7 75.0h0M221.9 76.8h0M161.5 59.5h0M266.8 89.4h0M244.1 76.8h0M226.6 91.9h0M246.8 89.4h0M217.4 74.6h0M215.0 45.9h0M297.2 121.6h0M252.5 107.6h0M225.7 94.6h0M208.3 93.2h0M286.1 87.0h0M193.4 81.3h0M234.1 77.9h0M315.9 130.7h0M252.3 80.9h0M247.6 94.3h0M186.8 64.5h0M273.0 97.9h0M231.9 79.6h0M237.5 75.6h0M175.2 68.4h0M230.5 70.1h0M204.7 80.9h0M148.0 41.1h0M211.8 76.6h0M267.4 91.1h0M264.7 99.2h0M230.4 64.0h0M205.9 67.8h0M192.9 70.9h0M243.3 90.3h0M238.5 79.3h0M163.7 39.6h0M211.9 83.1h0M237.8 85.4h0M247.5 90.3h0M285.4 110.6h0M256.4 101.2h0M225.8 79.2h0M234.0 90.5h0M146.7 85.0h0M213.1 68.6h0M228.1 90.2h0M229.7 84.9h0M229.3 47.6h0M223.1 61.3h0M242.4 72.6h0M214.5 79.0h0M197.4 43.4h0M207.4 50.2h0M212.9 72.5h0M182.5 59.8h0M220.7 71.4h0M220.5 61.3h0M171.6 55.9h0M212.2 90.4h0M240.9 86.1h0M163.7 52.4h0M219.0 84.6h0M224.6 86.1h0M219.2 74.0h0M225.4 70.3h0M225.5 77.0h0M220.4 65.2h0M263.4 77.3h0M238.0 77.2h0M218.9 78.2h0M247.3 86.2h0M196.6 77.2h0M214.3 73.9h0M192.4 80.5h0M289.3 122.0h0M182.9 40.3h0M262.7 94.7h0M174.6 73.7h0M187.2 31.6h0M247.9 86.9h0M248.0 98.5h0M199.7 81.4h0M186.0 30.9h0M217.0 77.3h0M240.8 80.9h0M208.2 72.9h0M269.8 98.7h0M214.8 43.1h0M173.1 13.6h0M251.8 91.2h0M216.9 81.7h0M226.5 86.1h0M235.5 85.2h0M244.8 71.3h0M292.6 163.9h0M271.7 91.3h0M259.7 110.1h0M224.4 80.7h0M172.2 44.9h0M201.9 75.0h0M274.6 112.0h0M146.9 46.2h0M211.1 79.0h0M184.3 52.2h0M224.6 71.7h0M250.0 89.4h0M227.5 89.4h0M175.0 82.6h0M198.8 69.9h0M244.6 108.5h0M217.7 93.9h0M147.1 57.3h0M264.7 94.2h0M210.5 65.6h0M207.2 87.1h0M203.7 58.3h0M246.9 91.6h0M276.0 112.4h0M192.3 64.4h0M183.1 61.4h0M216.9 70.2h0M262.7 104.1h0M231.9 66.8h0M233.0 76.7h0M225.0 78.8h0M263.6 89.4h0M255.0 84.0h0M260.7 96.1h0M213.2 73.3h0M258.0 99.9h0M242.4 99.9h0M246.6 92.1h0M271.9 103.7h0M300.8 112.9h0M192.9 81.2h0M239.3 101.5h0M185.1 62.2h0M248.8 92.0h0M173.7 47.1h0M238.7 84.4h0M174.9 62.7h0M210.7 58.5h0M198.2 60.2h0M156.2 61.4h0M219.5 86.2h0M210.1 75.0h0M254.8 92.3h0M200.1 113.4h0M226.6 86.1h0M223.1 71.7h0M232.0 87.5h0M260.6 89.1h0M264.8 105.7h0M229.1 84.6h0M188.9 59.0h0M221.6 87.8h0M242.8 93.3h0M211.9 68.1h0M209.5 66.6h0M233.7 87.1h0M280.0 86.7h0M236.5 81.6h0M234.1 79.5h0M225.9 90.6h0M277.6 106.7h0M233.2 86.0h0M233.9 73.4h0M220.9 74.8h0M267.4 114.4h0M215.6 81.6h0M296.3 121.3h0M309.6 135.6h0M237.5 83.4h0M172.1 64.6h0M229.7 79.2h0M200.4 80.4h0M249.4 110.1h0M229.0 62.9h0M167.3 31.6h0M263.4 86.9h0M215.1 86.5h0M277.3 88.8h0M285.4 109.9h0M263.3 96.8h0M237.0 75.6h0M291.4 116.8h0M210.5 65.9h0M278.7 93.7h0M206.4 83.4h0M208.5 55.4h0M240.3 82.2h0M205.6 92.5h0M239.8 83.9h0M290.9 113.6h0M199.5 70.1h0" stroke="#8e8e8e" stroke-width="1.6"/><path d="M180.0 67.2h0M266.2 84.5h0M229.3 94.8h0M266.6 98.9h0M193.1 72.0h0M231.6 81.4h0M244.1 102.0h0M161.5 48.8h0M224.6 82.1h0M173.8 88.1h0M183.9 61.6h0M240.8 84.1h0M203.8 62.1h0M280.2 130.7h0M231.4 64.8h0M246.6 82.6h0M248.1 91.4h0M200.5 74.0h0M234.1 52.3h0M216.9 78.1h0M214.9 86.4h0M272.7 103.7h0M223.0 88.0h0M253.1 81.2h0M225.0 75.8h0M284.9 101.6h0M178.7 39.1h0M245.0 84.9h0M292.4 136.8h0M251.9 96.6h0M257.6 90.7h0M225.5 87.7h0M167.4 40.6h0M278.6 96.9h0M236.7 70.0h0M249.1 86.2h0M220.9 96.5h0M234.7 74.3h0M225.3 83.2h0M229.7 81.5h0M207.1 65.3h0M229.6 77.5h0M217.1 85.0h0M238.7 84.7h0M252.1 94.0h0M217.0 73.4h0M254.3 97.5h0M223.4 70.5h0M212.5 84.6h0M196.8 58.1h0M277.7 85.2h0M174.8 56.5h0M211.7 96.7h0M274.6 95.8h0M176.6 75.7h0M263.3 94.4h0M186.7 40.8h0M188.3 70.1h0M275.7 117.7h0M302.6 110.6h0M230.4 90.1h0M207.2 87.5h0M205.0 55.9h0M238.6 95.5h0M227.9 87.6h0M169.3 62.9h0M227.6 78.9h0M235.4 83.1h0M251.9 85.3h0M261.5 82.2h0M237.2 87.6h0M241.3 89.1h0M182.3 67.9h0M186.2 51.0h0M235.5 68.2h0M231.3 83.7h0M233.1 84.1h0M225.0 85.4h0M261.1 105.4h0M238.9 93.2h0M225.3 71.5h0M238.4 97.6h0M241.9 91.1h0M227.4 76.4h0M298.7 123.0h0M277.9 124.6h0M203.1 68.7h0M214.7 69.1h0M198.1 75.2h0M197.5 88.1h0M209.0 79.9h0M228.6 90.7h0M199.2 69.4h0M222.2 98.9h0M257.9 95.2h0M259.3 95.0h0M257.6 95.9h0M226.3 136.3h0M177.6 84.7h0M193.2 52.8h0M140.6 64.3h0M205.1 79.4h0M272.4 95.8h0M255.8 89.0h0M172.8 35.8h0M228.5 73.5h0M251.7 85.0h0M241.7 87.2h0M255.7 111.4h0M212.8 82.4h0M231.9 88.3h0M298.8 112.6h0M233.5 81.7h0M217.9 72.4h0M133.9 70.4h0M210.1 62.4h0M136.8 41.7h0M238.8 90.2h0M268.5 110.7h0M171.9 67.1h0M217.9 81.4h0M170.5 67.8h0M246.0 75.8h0M230.6 66.1h0M121.6 23.9h0M276.2 104.0h0M187.2 51.6h0M198.2 31.2h0M246.1 92.4h0M236.4 79.8h0M298.8 117.4h0M220.7 81.4h0M286.4 99.6h0M261.5 106.1h0M278.1 104.1h0M240.1 86.1h0M205.5 63.1h0M125.3 32.8h0M225.6 77.2h0M272.6 115.2h0M208.6 70.8h0M219.6 80.3h0M218.8 79.8h0M249.2 94.1h0M203.8 83.8h0M257.2 108.0h0M229.4 92.4h0M252.8 85.8h0M185.6 70.3h0M254.5 104.4h0M231.9 79.3h0M305.2 120.3h0M184.4 36.2h0M182.8 41.3h0M211.6 87.8h0M215.6 77.1h0M196.1 75.3h0M157.0 40.8h0M237.8 89.5h0M254.6 88.8h0M238.1 66.5h0M170.2 36.4h0M238.2 100.9h0M233.3 75.3h0M253.9 94.4h0M212.3 76.9h0M242.3 89.3h0M238.7 87.7h0M249.3 77.8h0M263.5 126.6h0M254.0 77.7h0M237.0 78.9h0M211.3 80.1h0M258.4 76.2h0M227.7 69.8h0M242.7 96.9h0M245.9 91.7h0M264.8 98.5h0M221.8 106.9h0M242.8 91.2h0M233.9 82.4h0M234.8 82.3h0M171.0 50.7h0M305.2 137.3h0M202.5 60.5h0M192.2 61.2h0M141.8 41.2h0M230.9 95.6h0M205.9 54.9h0M212.6 66.0h0M226.3 76.8h0M273.0 108.4h0M255.7 105.0h0M247.9 86.7h0M199.6 78.5h0M309.0 131.0h0M243.9 85.0h0M236.2 59.3h0M285.2 112.0h0M220.1 80.6h0M222.4 92.2h0M235.0 83.7h0M246.8 98.0h0M250.4 90.4h0M239.4 94.9h0M214.3 81.1h0M243.6 96.6h0M160.4 46.6h0M240.1 102.8h0M178.6 43.6h0M221.4 64.3h0M189.7 40.3h0M244.4 104.6h0M192.7 50.1h0M230.6 80.1h0M230.5 84.4h0M218.1 68.9h0M222.1 91.9h0M200.8 84.8h0M233.4 90.5h0M234.7 72.5h0M279.2 122.0h0M274.5 103.7h0M231.1 84.6h0M203.5 74.3h0M249.1 111.4h0M214.2 66.5h0M256.3 71.0h0M218.9 71.1h0M260.8 98.7h0M197.8 75.1h0M243.8 87.9h0M228.7 59.5h0M240.7 95.9h0M273.6 111.5h0M239.1 91.0h0M265.9 113.0h0M224.2 58.3h0M228.1 76.9h0M252.9 106.3h0M237.3 80.4h0M200.2 64.6h0M254.7 104.2h0M237.3 74.2h0M192.3 83.3h0M226.9 73.8h0M251.3 83.1h0M209.9 67.1h0M206.9 46.4h0M162.0 49.7h0M195.1 76.1h0M258.7 96.4h0M234.7 91.9h0M261.6 112.0h0M284.7 108.5h0M233.0 52.3h0M250.4 93.0h0M237.2 75.2h0M290.7 134.9h0M251.9 86.6h0M229.3 92.9h0M242.3 106.6h0M200.9 64.8h0M232.0 70.6h0M245.4 86.9h0M287.0 113.0h0M220.3 82.1h0M274.3 101.3h0M235.8 91.2h0M264.6 108.2h0M242.5 98.8h0M238.8 83.4h0M125.1 62.8h0M207.7 68.8h0M233.1 75.6h0M232.9 93.7h0M184.5 88.0h0M200.0 75.1h0M201.6 57.1h0M199.8 84.6h0M249.2 93.0h0M229.5 88.0h0M197.7 34.1h0M187.1 94.7h0M217.3 88.3h0M186.6 77.7h0M291.6 117.5h0M274.9 122.6h0M201.6 58.5h0M222.6 79.5h0M179.9 60.9h0M234.5 63.7h0M234.8 77.0h0M210.0 62.3h0M248.0 88.0h0M216.2 65.9h0M239.6 98.6h0M264.6 105.3h0M279.6 118.9h0M174.3 18.6h0M248.7 92.5h0M203.5 66.1h0M197.4 54.4h0M202.4 84.5h0M199.1 59.9h0M213.6 68.6h0M214.9 70.2h0M275.3 101.6h0M251.5 96.3h0M268.4 88.1h0M216.0 84.5h0M258.3 117.3h0M268.5 90.8h0M251.0 98.2h0M215.6 64.4h0M216.5 72.8h0" stroke="#fff" stroke-opacity="0.2" stroke-width="2.2"/><path d="M180.0 67.2h0M266.2 84.5h0M229.3 94.8h0M266.6 98.9h0M193.1 72.0h0M231.6 81.4h0M244.1 102.0h0M161.5 48.8h0M224.6 82.1h0M173.8 88.1h0M183.9 61.6h0M240.8 84.1h0M203.8 62.1h0M280.2 130.7h0M231.4 64.8h0M246.6 82.6h0M248.1 91.4h0M200.5 74.0h0M234.1 52.3h0M216.9 78.1h0M214.9 86.4h0M272.7 103.7h0M223.0 88.0h0M253.1 81.2h0M225.0 75.8h0M284.9 101.6h0M178.7 39.1h0M245.0 84.9h0M292.4 136.8h0M251.9 96.6h0M257.6 90.7h0M225.5 87.7h0M167.4 40.6h0M278.6 96.9h0M236.7 70.0h0M249.1 86.2h0M220.9 96.5h0M234.7 74.3h0M225.3 83.2h0M229.7 81.5h0M207.1 65.3h0M229.6 77.5h0M217.1 85.0h0M238.7 84.7h0M252.1 94.0h0M217.0 73.4h0M254.3 97.5h0M223.4 70.5h0M212.5 84.6h0M196.8 58.1h0M277.7 85.2h0M174.8 56.5h0M211.7 96.7h0M274.6 95.8h0M176.6 75.7h0M263.3 94.4h0M186.7 40.8h0M188.3 70.1h0M275.7 117.7h0M302.6 110.6h0M230.4 90.1h0M207.2 87.5h0M205.0 55.9h0M238.6 95.5h0M227.9 87.6h0M169.3 62.9h0M227.6 78.9h0M235.4 83.1h0M251.9 85.3h0M261.5 82.2h0M237.2 87.6h0M241.3 89.1h0M182.3 67.9h0M186.2 51.0h0M235.5 68.2h0M231.3 83.7h0M233.1 84.1h0M225.0 85.4h0M261.1 105.4h0M238.9 93.2h0M225.3 71.5h0M238.4 97.6h0M241.9 91.1h0M227.4 76.4h0M298.7 123.0h0M277.9 124.6h0M203.1 68.7h0M214.7 69.1h0M198.1 75.2h0M197.5 88.1h0M209.0 79.9h0M228.6 90.7h0M199.2 69.4h0M222.2 98.9h0M257.9 95.2h0M259.3 95.0h0M257.6 95.9h0M226.3 136.3h0M177.6 84.7h0M193.2 52.8h0M140.6 64.3h0M205.1 79.4h0M272.4 95.8h0M255.8 89.0h0M172.8 35.8h0M228.5 73.5h0M251.7 85.0h0M241.7 87.2h0M255.7 111.4h0M212.8 82.4h0M231.9 88.3h0M298.8 112.6h0M233.5 81.7h0M217.9 72.4h0M133.9 70.4h0M210.1 62.4h0M136.8 41.7h0M238.8 90.2h0M268.5 110.7h0M171.9 67.1h0M217.9 81.4h0M170.5 67.8h0M246.0 75.8h0M230.6 66.1h0M121.6 23.9h0M276.2 104.0h0M187.2 51.6h0M198.2 31.2h0M246.1 92.4h0M236.4 79.8h0M298.8 117.4h0M220.7 81.4h0M286.4 99.6h0M261.5 106.1h0M278.1 104.1h0M240.1 86.1h0M205.5 63.1h0M125.3 32.8h0M225.6 77.2h0M272.6 115.2h0M208.6 70.8h0M219.6 80.3h0M218.8 79.8h0M249.2 94.1h0M203.8 83.8h0M257.2 108.0h0M229.4 92.4h0M252.8 85.8h0M185.6 70.3h0M254.5 104.4h0M231.9 79.3h0M305.2 120.3h0M184.4 36.2h0M182.8 41.3h0M211.6 87.8h0M215.6 77.1h0M196.1 75.3h0M157.0 40.8h0M237.8 89.5h0M254.6 88.8h0M238.1 66.5h0M170.2 36.4h0M238.2 100.9h0M233.3 75.3h0M253.9 94.4h0M212.3 76.9h0M242.3 89.3h0M238.7 87.7h0M249.3 77.8h0M263.5 126.6h0M254.0 77.7h0M237.0 78.9h0M211.3 80.1h0M258.4 76.2h0M227.7 69.8h0M242.7 96.9h0M245.9 91.7h0M264.8 98.5h0M221.8 106.9h0M242.8 91.2h0M233.9 82.4h0M234.8 82.3h0M171.0 50.7h0M305.2 137.3h0M202.5 60.5h0M192.2 61.2h0M141.8 41.2h0M230.9 95.6h0M205.9 54.9h0M212.6 66.0h0M226.3 76.8h0M273.0 108.4h0M255.7 105.0h0M247.9 86.7h0M199.6 78.5h0M309.0 131.0h0M243.9 85.0h0M236.2 59.3h0M285.2 112.0h0M220.1 80.6h0M222.4 92.2h0M235.0 83.7h0M246.8 98.0h0M250.4 90.4h0M239.4 94.9h0M214.3 81.1h0M243.6 96.6h0M160.4 46.6h0M240.1 102.8h0M178.6 43.6h0M221.4 64.3h0M189.7 40.3h0M244.4 104.6h0M192.7 50.1h0M230.6 80.1h0M230.5 84.4h0M218.1 68.9h0M222.1 91.9h0M200.8 84.8h0M233.4 90.5h0M234.7 72.5h0M279.2 122.0h0M274.5 103.7h0M231.1 84.6h0M203.5 74.3h0M249.1 111.4h0M214.2 66.5h0M256.3 71.0h0M218.9 71.1h0M260.8 98.7h0M197.8 75.1h0M243.8 87.9h0M228.7 59.5h0M240.7 95.9h0M273.6 111.5h0M239.1 91.0h0M265.9 113.0h0M224.2 58.3h0M228.1 76.9h0M252.9 106.3h0M237.3 80.4h0M200.2 64.6h0M254.7 104.2h0M237.3 74.2h0M192.3 83.3h0M226.9 73.8h0M251.3 83.1h0M209.9 67.1h0M206.9 46.4h0M162.0 49.7h0M195.1 76.1h0M258.7 96.4h0M234.7 91.9h0M261.6 112.0h0M284.7 108.5h0M233.0 52.3h0M250.4 93.0h0M237.2 75.2h0M290.7 134.9h0M251.9 86.6h0M229.3 92.9h0M242.3 106.6h0M200.9 64.8h0M232.0 70.6h0M245.4 86.9h0M287.0 113.0h0M220.3 82.1h0M274.3 101.3h0M235.8 91.2h0M264.6 108.2h0M242.5 98.8h0M238.8 83.4h0M125.1 62.8h0M207.7 68.8h0M233.1 75.6h0M232.9 93.7h0M184.5 88.0h0M200.0 75.1h0M201.6 57.1h0M199.8 84.6h0M249.2 93.0h0M229.5 88.0h0M197.7 34.1h0M187.1 94.7h0M217.3 88.3h0M186.6 77.7h0M291.6 117.5h0M274.9 122.6h0M201.6 58.5h0M222.6 79.5h0M179.9 60.9h0M234.5 63.7h0M234.8 77.0h0M210.0 62.3h0M248.0 88.0h0M216.2 65.9h0M239.6 98.6h0M264.6 105.3h0M279.6 118.9h0M174.3 18.6h0M248.7 92.5h0M203.5 66.1h0M197.4 54.4h0M202.4 84.5h0M199.1 59.9h0M213.6 68.6h0M214.9 70.2h0M275.3 101.6h0M251.5 96.3h0M268.4 88.1h0M216.0 84.5h0M258.3 117.3h0M268.5 90.8h0M251.0 98.2h0M215.6 64.4h0M216.5 72.8h0" stroke="#8e8e8e" stroke-width="1.6"/><path d="M160.5 77.6h0M211.1 80.9h0M224.1 82.4h0M217.9 81.5h0M225.8 97.2h0M203.1 69.8h0M213.7 61.5h0M225.1 73.8h0M224.9 98.3h0M200.5 72.0h0M184.1 57.3h0M272.8 119.5h0M232.1 74.7h0M167.1 64.1h0M234.0 95.5h0M219.7 91.5h0M234.6 68.1h0M242.7 74.7h0M228.0 85.6h0M198.8 79.5h0M214.5 72.2h0M206.7 80.5h0M238.5 103.3h0M234.4 82.8h0M190.8 42.3h0M221.9 94.2h0M195.1 44.9h0M140.3 39.4h0M271.4 101.2h0M217.8 71.4h0M224.1 86.3h0M199.4 91.7h0M196.2 72.1h0M223.0 72.2h0M236.1 99.5h0M266.3 105.2h0M229.7 75.9h0M245.5 79.1h0M228.3 87.6h0M219.9 80.7h0M271.6 84.9h0M229.4 87.1h0M202.4 70.5h0M235.2 85.0h0M239.1 90.2h0M240.8 98.1h0M219.0 80.5h0M272.4 101.2h0M175.6 61.0h0M290.2 117.2h0M268.3 98.3h0M194.5 48.2h0M230.9 70.0h0M238.4 93.1h0M186.5 71.8h0M255.0 93.9h0M204.2 84.2h0M274.6 118.9h0M266.6 96.4h0M237.2 85.5h0M278.3 120.5h0M228.2 80.3h0M194.4 66.6h0M213.3 87.9h0M251.5 84.3h0M213.0 65.7h0M257.6 110.3h0M279.3 112.3h0M256.2 87.2h0M305.0 131.8h0M195.0 68.2h0M290.6 118.3h0M187.5 86.9h0M250.8 117.4h0M257.5 94.2h0M213.6 60.5h0M271.3 104.1h0M232.5 83.6h0M193.7 83.3h0M242.6 100.3h0M269.7 98.8h0M103.3 40.3h0M216.7 58.1h0M226.1 63.1h0M220.7 69.7h0M229.9 73.9h0M203.7 65.1h0M247.4 96.2h0M231.7 103.6h0M238.6 92.6h0M217.9 92.6h0M256.2 104.3h0M268.5 107.0h0M211.5 79.0h0M207.8 88.3h0M229.6 71.4h0M170.2 60.4h0M266.5 100.2h0M240.5 87.9h0M279.7 109.7h0M231.6 84.1h0M204.1 84.6h0M264.4 115.1h0M236.9 79.9h0M201.0 76.3h0M229.7 84.1h0M172.6 46.3h0M197.0 67.3h0M131.5 42.5h0M246.4 115.2h0M213.7 87.1h0M280.2 87.8h0M226.6 71.8h0M276.4 107.2h0M240.9 76.5h0M207.9 85.2h0M242.3 95.8h0M255.7 90.9h0M183.5 86.7h0M191.2 65.7h0M162.9 54.7h0M226.3 82.1h0M163.8 51.0h0M209.2 68.7h0M193.6 76.9h0M258.1 93.7h0M257.8 107.7h0M220.3 87.4h0M256.0 88.6h0M213.4 87.3h0M249.2 99.9h0M245.1 91.7h0M223.0 88.8h0M123.5 14.5h0M183.6 22.1h0M222.0 80.8h0M282.4 131.8h0M213.9 66.5h0M229.2 75.1h0M238.3 90.4h0M202.2 70.1h0M247.7 81.0h0M275.8 106.4h0M218.7 70.6h0M223.4 69.1h0M223.8 82.1h0M237.7 98.0h0M232.7 92.3h0M176.4 71.0h0M182.9 68.9h0M251.8 83.4h0M270.7 99.5h0M237.8 64.1h0M248.0 76.9h0M190.3 48.8h0M200.6 34.7h0M234.7 76.0h0M244.2 105.5h0M240.6 95.5h0M258.9 84.2h0M207.3 61.9h0M224.7 77.9h0M219.2 73.7h0M153.9 42.5h0M234.0 94.7h0M217.6 79.5h0M204.2 78.3h0M270.7 88.6h0M206.7 72.8h0M274.6 95.5h0M237.1 76.1h0M222.8 94.0h0M226.6 94.6h0M227.8 86.1h0M215.3 62.9h0M229.5 70.4h0M179.4 75.1h0M240.4 67.9h0M199.5 59.7h0M198.7 70.8h0M234.9 74.0h0M249.8 73.7h0M261.2 97.0h0M257.2 94.8h0M275.9 121.0h0M226.9 66.7h0M210.6 72.9h0M228.6 78.2h0M261.3 96.2h0M269.3 121.9h0M219.6 92.9h0M234.6 82.1h0M180.6 77.9h0M216.3 78.3h0M204.8 68.0h0M212.9 79.5h0M210.7 73.9h0M201.6 48.7h0M230.8 83.0h0M212.0 69.2h0M226.2 79.4h0M227.9 76.7h0M212.4 73.7h0M228.5 85.6h0M204.3 72.8h0M207.2 83.6h0M277.3 110.4h0M220.6 98.5h0M269.9 92.0h0M163.5 79.7h0M234.1 77.5h0M192.8 66.3h0M238.6 80.7h0M265.9 88.9h0M229.9 80.8h0M251.5 97.2h0M228.3 82.7h0M238.1 93.9h0M225.9 75.9h0M191.1 41.1h0M228.3 81.2h0M248.8 85.1h0M233.6 72.3h0M133.0 77.0h0M201.3 68.0h0M224.1 76.7h0M194.1 64.2h0M190.6 67.5h0M252.7 94.4h0M212.6 76.2h0M203.6 64.9h0M238.2 87.8h0M264.3 108.1h0M218.9 73.7h0M242.0 126.4h0M204.8 45.7h0M290.7 113.3h0M203.8 68.7h0M240.0 96.1h0M191.4 95.5h0M304.8 109.8h0M296.6 133.6h0M240.9 95.4h0M241.4 84.3h0M244.0 81.9h0M220.0 88.0h0M222.7 56.7h0M240.7 77.6h0M240.6 82.8h0M232.0 102.0h0M190.5 70.2h0M275.7 113.0h0M224.8 81.4h0M173.1 55.8h0M231.5 73.9h0M235.4 78.2h0M240.8 93.1h0M272.0 105.7h0M249.1 86.0h0M194.0 69.7h0M280.0 124.2h0M234.0 93.5h0M248.0 105.7h0M232.8 91.0h0M290.7 104.3h0M174.3 68.2h0M260.2 106.3h0M297.9 109.7h0M216.3 86.3h0M194.3 73.2h0M181.6 79.1h0M224.2 61.0h0M217.5 90.1h0M207.6 72.4h0M275.1 107.0h0M235.3 74.8h0M178.4 67.6h0M226.7 58.3h0M236.5 87.6h0M232.4 87.6h0M253.8 89.1h0M271.0 107.9h0M234.2 78.4h0M262.4 97.5h0M261.6 101.6h0M212.6 73.0h0M215.5 86.9h0M218.0 88.5h0M219.0 88.0h0M237.0 68.6h0M261.3 92.2h0M223.2 70.5h0M232.8 87.9h0M203.0 61.9h0M268.9 99.3h0M205.4 88.2h0M217.6 79.0h0M209.8 69.7h0M236.4 74.0h0M218.5 72.4h0M229.1 80.6h0M252.6 79.2h0M180.1 88.5h0M205.7 71.0h0M239.8 70.4h0M222.6 76.4h0M210.3 71.4h0M255.2 100.2h0M234.1 80.2h0M196.2 88.6h0M230.2 67.9h0M252.0 103.0h0M250.1 99.1h0M225.6 82.4h0M164.0 75.4h0M244.5 86.6h0" stroke="#fff" stroke-opacity="0.2" stroke-width="2.2"/><path d="M160.5 77.6h0M211.1 80.9h0M224.1 82.4h0M217.9 81.5h0M225.8 97.2h0M203.1 69.8h0M213.7 61.5h0M225.1 73.8h0M224.9 98.3h0M200.5 72.0h0M184.1 57.3h0M272.8 119.5h0M232.1 74.7h0M167.1 64.1h0M234.0 95.5h0M219.7 91.5h0M234.6 68.1h0M242.7 74.7h0M228.0 85.6h0M198.8 79.5h0M214.5 72.2h0M206.7 80.5h0M238.5 103.3h0M234.4 82.8h0M190.8 42.3h0M221.9 94.2h0M195.1 44.9h0M140.3 39.4h0M271.4 101.2h0M217.8 71.4h0M224.1 86.3h0M199.4 91.7h0M196.2 72.1h0M223.0 72.2h0M236.1 99.5h0M266.3 105.2h0M229.7 75.9h0M245.5 79.1h0M228.3 87.6h0M219.9 80.7h0M271.6 84.9h0M229.4 87.1h0M202.4 70.5h0M235.2 85.0h0M239.1 90.2h0M240.8 98.1h0M219.0 80.5h0M272.4 101.2h0M175.6 61.0h0M290.2 117.2h0M268.3 98.3h0M194.5 48.2h0M230.9 70.0h0M238.4 93.1h0M186.5 71.8h0M255.0 93.9h0M204.2 84.2h0M274.6 118.9h0M266.6 96.4h0M237.2 85.5h0M278.3 120.5h0M228.2 80.3h0M194.4 66.6h0M213.3 87.9h0M251.5 84.3h0M213.0 65.7h0M257.6 110.3h0M279.3 112.3h0M256.2 87.2h0M305.0 131.8h0M195.0 68.2h0M290.6 118.3h0M187.5 86.9h0M250.8 117.4h0M257.5 94.2h0M213.6 60.5h0M271.3 104.1h0M232.5 83.6h0M193.7 83.3h0M242.6 100.3h0M269.7 98.8h0M103.3 40.3h0M216.7 58.1h0M226.1 63.1h0M220.7 69.7h0M229.9 73.9h0M203.7 65.1h0M247.4 96.2h0M231.7 103.6h0M238.6 92.6h0M217.9 92.6h0M256.2 104.3h0M268.5 107.0h0M211.5 79.0h0M207.8 88.3h0M229.6 71.4h0M170.2 60.4h0M266.5 100.2h0M240.5 87.9h0M279.7 109.7h0M231.6 84.1h0M204.1 84.6h0M264.4 115.1h0M236.9 79.9h0M201.0 76.3h0M229.7 84.1h0M172.6 46.3h0M197.0 67.3h0M131.5 42.5h0M246.4 115.2h0M213.7 87.1h0M280.2 87.8h0M226.6 71.8h0M276.4 107.2h0M240.9 76.5h0M207.9 85.2h0M242.3 95.8h0M255.7 90.9h0M183.5 86.7h0M191.2 65.7h0M162.9 54.7h0M226.3 82.1h0M163.8 51.0h0M209.2 68.7h0M193.6 76.9h0M258.1 93.7h0M257.8 107.7h0M220.3 87.4h0M256.0 88.6h0M213.4 87.3h0M249.2 99.9h0M245.1 91.7h0M223.0 88.8h0M123.5 14.5h0M183.6 22.1h0M222.0 80.8h0M282.4 131.8h0M213.9 66.5h0M229.2 75.1h0M238.3 90.4h0M202.2 70.1h0M247.7 81.0h0M275.8 106.4h0M218.7 70.6h0M223.4 69.1h0M223.8 82.1h0M237.7 98.0h0M232.7 92.3h0M176.4 71.0h0M182.9 68.9h0M251.8 83.4h0M270.7 99.5h0M237.8 64.1h0M248.0 76.9h0M190.3 48.8h0M200.6 34.7h0M234.7 76.0h0M244.2 105.5h0M240.6 95.5h0M258.9 84.2h0M207.3 61.9h0M224.7 77.9h0M219.2 73.7h0M153.9 42.5h0M234.0 94.7h0M217.6 79.5h0M204.2 78.3h0M270.7 88.6h0M206.7 72.8h0M274.6 95.5h0M237.1 76.1h0M222.8 94.0h0M226.6 94.6h0M227.8 86.1h0M215.3 62.9h0M229.5 70.4h0M179.4 75.1h0M240.4 67.9h0M199.5 59.7h0M198.7 70.8h0M234.9 74.0h0M249.8 73.7h0M261.2 97.0h0M257.2 94.8h0M275.9 121.0h0M226.9 66.7h0M210.6 72.9h0M228.6 78.2h0M261.3 96.2h0M269.3 121.9h0M219.6 92.9h0M234.6 82.1h0M180.6 77.9h0M216.3 78.3h0M204.8 68.0h0M212.9 79.5h0M210.7 73.9h0M201.6 48.7h0M230.8 83.0h0M212.0 69.2h0M226.2 79.4h0M227.9 76.7h0M212.4 73.7h0M228.5 85.6h0M204.3 72.8h0M207.2 83.6h0M277.3 110.4h0M220.6 98.5h0M269.9 92.0h0M163.5 79.7h0M234.1 77.5h0M192.8 66.3h0M238.6 80.7h0M265.9 88.9h0M229.9 80.8h0M251.5 97.2h0M228.3 82.7h0M238.1 93.9h0M225.9 75.9h0M191.1 41.1h0M228.3 81.2h0M248.8 85.1h0M233.6 72.3h0M133.0 77.0h0M201.3 68.0h0M224.1 76.7h0M194.1 64.2h0M190.6 67.5h0M252.7 94.4h0M212.6 76.2h0M203.6 64.9h0M238.2 87.8h0M264.3 108.1h0M218.9 73.7h0M242.0 126.4h0M204.8 45.7h0M290.7 113.3h0M203.8 68.7h0M240.0 96.1h0M191.4 95.5h0M304.8 109.8h0M296.6 133.6h0M240.9 95.4h0M241.4 84.3h0M244.0 81.9h0M220.0 88.0h0M222.7 56.7h0M240.7 77.6h0M240.6 82.8h0M232.0 102.0h0M190.5 70.2h0M275.7 113.0h0M224.8 81.4h0M173.1 55.8h0M231.5 73.9h0M235.4 78.2h0M240.8 93.1h0M272.0 105.7h0M249.1 86.0h0M194.0 69.7h0M280.0 124.2h0M234.0 93.5h0M248.0 105.7h0M232.8 91.0h0M290.7 104.3h0M174.3 68.2h0M260.2 106.3h0M297.9 109.7h0M216.3 86.3h0M194.3 73.2h0M181.6 79.1h0M224.2 61.0h0M217.5 90.1h0M207.6 72.4h0M275.1 107.0h0M235.3 74.8h0M178.4 67.6h0M226.7 58.3h0M236.5 87.6h0M232.4 87.6h0M253.8 89.1h0M271.0 107.9h0M234.2 78.4h0M262.4 97.5h0M261.6 101.6h0M212.6 73.0h0M215.5 86.9h0M218.0 88.5h0M219.0 88.0h0M237.0 68.6h0M261.3 92.2h0M223.2 70.5h0M232.8 87.9h0M203.0 61.9h0M268.9 99.3h0M205.4 88.2h0M217.6 79.0h0M209.8 69.7h0M236.4 74.0h0M218.5 72.4h0M229.1 80.6h0M252.6 79.2h0M180.1 88.5h0M205.7 71.0h0M239.8 70.4h0M222.6 76.4h0M210.3 71.4h0M255.2 100.2h0M234.1 80.2h0M196.2 88.6h0M230.2 67.9h0M252.0 103.0h0M250.1 99.1h0M225.6 82.4h0M164.0 75.4h0M244.5 86.6h0" stroke="#8e8e8e" stroke-width="1.6"/><path d="M205.2 79.7h0M187.7 77.9h0M250.4 89.1h0M249.6 88.2h0M248.2 79.4h0M232.4 79.5h0M186.9 70.3h0M218.5 83.5h0M199.3 64.9h0M220.3 64.8h0M281.5 111.2h0M243.9 88.3h0M270.4 100.2h0M278.2 113.5h0M267.0 98.3h0M237.7 78.7h0M250.7 79.9h0M231.2 73.3h0M239.2 74.2h0M258.2 102.1h0M197.2 71.6h0M299.8 116.1h0M262.9 111.4h0M232.5 82.3h0M256.2 92.1h0M258.1 94.2h0M241.9 87.5h0M230.1 49.1h0M197.0 79.5h0M297.9 132.0h0M245.8 81.9h0M151.1 34.1h0M183.0 93.0h0M243.9 79.1h0M241.3 91.5h0M264.8 96.3h0M212.3 75.1h0M281.5 107.3h0M213.6 69.3h0M228.9 63.1h0M230.5 92.0h0M152.4 60.3h0M279.5 99.4h0M176.3 52.9h0M236.3 101.8h0M282.0 113.9h0M219.3 73.0h0M183.8 103.5h0M260.2 93.4h0M186.9 70.8h0M220.7 69.2h0M257.3 96.9h0M251.8 60.9h0M258.3 92.3h0M198.1 67.1h0M220.5 79.4h0M244.9 82.8h0M233.8 94.2h0M220.9 88.8h0M253.6 92.4h0M231.1 89.9h0M235.9 92.0h0M227.1 79.1h0M221.4 61.3h0M221.6 70.5h0M226.4 70.9h0M272.1 125.7h0M191.9 75.0h0M309.9 126.5h0M240.9 81.2h0M251.5 74.8h0M193.9 89.8h0M242.9 102.3h0M207.6 76.8h0M198.3 76.5h0M192.5 68.5h0M248.9 77.2h0M269.6 118.4h0M233.6 93.8h0M153.7 47.6h0M252.2 83.3h0M212.7 59.2h0M271.1 103.4h0M138.4 115.7h0M268.2 107.0h0M193.1 65.3h0M200.8 74.8h0M234.5 100.6h0M241.9 60.0h0M241.8 97.6h0M241.1 86.6h0M227.2 60.3h0M211.4 72.3h0M264.8 100.9h0M219.0 62.7h0M237.8 63.8h0M229.9 93.6h0M225.4 87.3h0M185.0 83.9h0M232.0 90.5h0M208.6 52.2h0M230.2 73.3h0M295.8 121.1h0M242.7 68.8h0M244.5 87.4h0M260.4 121.0h0M223.5 75.8h0M208.2 73.2h0M253.7 95.3h0M224.3 83.2h0M245.3 88.7h0M224.7 98.1h0M203.6 66.7h0M242.2 98.9h0M245.0 69.4h0M196.7 53.1h0M243.2 83.1h0M228.8 86.3h0M232.6 89.0h0M263.5 69.4h0M142.2 33.1h0M243.8 90.3h0M208.8 65.2h0M253.9 77.3h0M248.2 78.7h0M192.9 60.7h0M180.8 56.4h0M231.9 76.6h0M222.8 63.9h0M218.9 80.8h0M227.1 95.5h0M260.4 98.8h0M222.5 66.3h0M200.6 74.5h0M207.5 60.9h0M155.5 51.7h0M179.8 71.0h0M214.0 84.7h0M226.5 75.2h0M194.4 72.9h0M263.9 89.2h0M308.5 124.0h0M214.5 66.0h0M167.6 57.5h0M221.2 85.0h0M220.2 99.1h0M225.8 83.4h0M233.9 77.2h0M199.5 81.0h0M189.9 87.6h0M258.2 99.8h0M257.0 89.4h0M235.4 79.1h0M226.4 89.7h0M228.0 78.8h0M206.3 77.8h0M261.5 95.6h0M248.7 92.0h0M243.6 95.3h0M209.3 76.6h0M234.3 98.3h0M197.4 59.0h0M205.8 66.1h0M236.6 90.7h0M128.9 32.0h0M264.4 86.8h0M162.9 62.4h0M214.6 69.2h0M208.8 70.1h0M226.5 68.1h0M241.6 93.8h0M214.3 77.1h0M236.7 76.4h0M238.0 81.6h0M262.4 94.5h0M242.1 96.2h0M209.0 63.8h0M243.0 107.2h0M266.0 90.3h0M252.5 95.2h0M241.7 93.0h0M252.9 95.3h0M178.1 66.6h0M290.7 107.8h0M176.4 75.7h0M205.4 64.2h0M198.4 61.5h0M190.0 74.9h0M183.7 81.1h0M226.4 51.5h0M237.5 87.8h0M202.6 69.8h0M210.8 80.1h0M193.2 64.7h0M201.5 90.4h0M270.2 106.4h0M183.0 56.4h0M259.7 84.9h0M219.7 88.1h0M286.3 114.5h0M286.1 110.4h0M234.5 75.9h0M213.9 83.9h0M250.8 89.7h0M236.7 86.0h0M293.1 112.5h0M162.9 87.6h0M211.6 77.5h0M214.3 73.5h0M146.0 40.3h0M249.1 75.8h0M235.2 77.1h0M275.9 115.7h0M241.3 66.9h0M234.8 87.2h0M262.1 96.1h0M241.4 85.7h0M261.6 91.8h0M195.3 56.8h0M253.9 110.6h0M236.3 106.7h0M281.3 119.0h0M223.0 88.9h0M278.0 107.2h0M199.9 98.3h0M204.2 70.8h0M239.2 100.4h0M237.4 77.4h0M245.0 92.8h0M312.6 129.5h0M236.2 66.7h0M206.1 60.4h0M239.2 86.4h0M221.4 85.9h0M199.0 78.7h0M271.9 101.2h0M213.0 89.6h0M210.3 93.1h0M212.9 67.5h0M222.3 65.5h0M262.8 94.7h0M233.5 85.9h0M215.6 68.7h0M179.0 44.9h0M219.3 85.4h0M204.5 60.8h0M236.8 72.0h0M226.8 56.3h0M249.8 83.5h0M260.8 100.4h0M186.2 50.8h0M164.8 57.1h0M236.4 88.6h0M231.1 85.2h0M247.7 107.9h0M222.5 83.1h0M224.8 71.0h0M220.7 96.9h0M244.9 97.5h0M196.9 35.8h0M222.3 82.5h0M221.9 79.1h0M239.5 79.5h0M222.2 74.2h0M233.8 71.1h0M219.3 75.5h0M203.8 72.9h0M189.3 36.3h0M254.5 97.4h0M200.7 37.8h0M215.1 103.1h0M224.0 34.9h0M257.2 97.1h0M260.9 106.3h0M233.9 84.9h0M239.1 83.4h0M259.3 82.6h0M219.7 79.0h0M265.5 106.1h0M223.2 66.7h0M223.5 76.2h0M228.9 66.9h0M212.8 62.6h0M235.2 75.0h0M240.0 87.6h0M237.9 93.0h0M175.1 59.6h0M230.6 88.2h0M195.6 68.0h0M255.5 93.0h0M275.0 126.2h0M245.0 78.1h0M246.3 86.8h0M249.9 106.7h0M244.9 98.7h0M227.1 88.7h0M227.2 100.8h0M246.9 71.4h0M206.2 67.2h0M231.9 104.7h0M116.9 89.1h0M311.7 132.5h0M201.4 71.7h0M209.6 60.4h0M231.4 82.6h0M175.0 88.2h0M218.3 63.5h0M222.2 64.2h0M226.5 83.9h0M187.6 47.3h0M257.3 94.0h0M244.9 93.1h0M235.9 90.3h0M164.0 39.0h0M180.0 53.9h0M224.1 73.0h0" stroke="#fff" stroke-opacity="0.2" stroke-width="2.2"/><path d="M205.2 79.7h0M187.7 77.9h0M250.4 89.1h0M249.6 88.2h0M248.2 79.4h0M232.4 79.5h0M186.9 70.3h0M218.5 83.5h0M199.3 64.9h0M220.3 64.8h0M281.5 111.2h0M243.9 88.3h0M270.4 100.2h0M278.2 113.5h0M267.0 98.3h0M237.7 78.7h0M250.7 79.9h0M231.2 73.3h0M239.2 74.2h0M258.2 102.1h0M197.2 71.6h0M299.8 116.1h0M262.9 111.4h0M232.5 82.3h0M256.2 92.1h0M258.1 94.2h0M241.9 87.5h0M230.1 49.1h0M197.0 79.5h0M297.9 132.0h0M245.8 81.9h0M151.1 34.1h0M183.0 93.0h0M243.9 79.1h0M241.3 91.5h0M264.8 96.3h0M212.3 75.1h0M281.5 107.3h0M213.6 69.3h0M228.9 63.1h0M230.5 92.0h0M152.4 60.3h0M279.5 99.4h0M176.3 52.9h0M236.3 101.8h0M282.0 113.9h0M219.3 73.0h0M183.8 103.5h0M260.2 93.4h0M186.9 70.8h0M220.7 69.2h0M257.3 96.9h0M251.8 60.9h0M258.3 92.3h0M198.1 67.1h0M220.5 79.4h0M244.9 82.8h0M233.8 94.2h0M220.9 88.8h0M253.6 92.4h0M231.1 89.9h0M235.9 92.0h0M227.1 79.1h0M221.4 61.3h0M221.6 70.5h0M226.4 70.9h0M272.1 125.7h0M191.9 75.0h0M309.9 126.5h0M240.9 81.2h0M251.5 74.8h0M193.9 89.8h0M242.9 102.3h0M207.6 76.8h0M198.3 76.5h0M192.5 68.5h0M248.9 77.2h0M269.6 118.4h0M233.6 93.8h0M153.7 47.6h0M252.2 83.3h0M212.7 59.2h0M271.1 103.4h0M138.4 115.7h0M268.2 107.0h0M193.1 65.3h0M200.8 74.8h0M234.5 100.6h0M241.9 60.0h0M241.8 97.6h0M241.1 86.6h0M227.2 60.3h0M211.4 72.3h0M264.8 100.9h0M219.0 62.7h0M237.8 63.8h0M229.9 93.6h0M225.4 87.3h0M185.0 83.9h0M232.0 90.5h0M208.6 52.2h0M230.2 73.3h0M295.8 121.1h0M242.7 68.8h0M244.5 87.4h0M260.4 121.0h0M223.5 75.8h0M208.2 73.2h0M253.7 95.3h0M224.3 83.2h0M245.3 88.7h0M224.7 98.1h0M203.6 66.7h0M242.2 98.9h0M245.0 69.4h0M196.7 53.1h0M243.2 83.1h0M228.8 86.3h0M232.6 89.0h0M263.5 69.4h0M142.2 33.1h0M243.8 90.3h0M208.8 65.2h0M253.9 77.3h0M248.2 78.7h0M192.9 60.7h0M180.8 56.4h0M231.9 76.6h0M222.8 63.9h0M218.9 80.8h0M227.1 95.5h0M260.4 98.8h0M222.5 66.3h0M200.6 74.5h0M207.5 60.9h0M155.5 51.7h0M179.8 71.0h0M214.0 84.7h0M226.5 75.2h0M194.4 72.9h0M263.9 89.2h0M308.5 124.0h0M214.5 66.0h0M167.6 57.5h0M221.2 85.0h0M220.2 99.1h0M225.8 83.4h0M233.9 77.2h0M199.5 81.0h0M189.9 87.6h0M258.2 99.8h0M257.0 89.4h0M235.4 79.1h0M226.4 89.7h0M228.0 78.8h0M206.3 77.8h0M261.5 95.6h0M248.7 92.0h0M243.6 95.3h0M209.3 76.6h0M234.3 98.3h0M197.4 59.0h0M205.8 66.1h0M236.6 90.7h0M128.9 32.0h0M264.4 86.8h0M162.9 62.4h0M214.6 69.2h0M208.8 70.1h0M226.5 68.1h0M241.6 93.8h0M214.3 77.1h0M236.7 76.4h0M238.0 81.6h0M262.4 94.5h0M242.1 96.2h0M209.0 63.8h0M243.0 107.2h0M266.0 90.3h0M252.5 95.2h0M241.7 93.0h0M252.9 95.3h0M178.1 66.6h0M290.7 107.8h0M176.4 75.7h0M205.4 64.2h0M198.4 61.5h0M190.0 74.9h0M183.7 81.1h0M226.4 51.5h0M237.5 87.8h0M202.6 69.8h0M210.8 80.1h0M193.2 64.7h0M201.5 90.4h0M270.2 106.4h0M183.0 56.4h0M259.7 84.9h0M219.7 88.1h0M286.3 114.5h0M286.1 110.4h0M234.5 75.9h0M213.9 83.9h0M250.8 89.7h0M236.7 86.0h0M293.1 112.5h0M162.9 87.6h0M211.6 77.5h0M214.3 73.5h0M146.0 40.3h0M249.1 75.8h0M235.2 77.1h0M275.9 115.7h0M241.3 66.9h0M234.8 87.2h0M262.1 96.1h0M241.4 85.7h0M261.6 91.8h0M195.3 56.8h0M253.9 110.6h0M236.3 106.7h0M281.3 119.0h0M223.0 88.9h0M278.0 107.2h0M199.9 98.3h0M204.2 70.8h0M239.2 100.4h0M237.4 77.4h0M245.0 92.8h0M312.6 129.5h0M236.2 66.7h0M206.1 60.4h0M239.2 86.4h0M221.4 85.9h0M199.0 78.7h0M271.9 101.2h0M213.0 89.6h0M210.3 93.1h0M212.9 67.5h0M222.3 65.5h0M262.8 94.7h0M233.5 85.9h0M215.6 68.7h0M179.0 44.9h0M219.3 85.4h0M204.5 60.8h0M236.8 72.0h0M226.8 56.3h0M249.8 83.5h0M260.8 100.4h0M186.2 50.8h0M164.8 57.1h0M236.4 88.6h0M231.1 85.2h0M247.7 107.9h0M222.5 83.1h0M224.8 71.0h0M220.7 96.9h0M244.9 97.5h0M196.9 35.8h0M222.3 82.5h0M221.9 79.1h0M239.5 79.5h0M222.2 74.2h0M233.8 71.1h0M219.3 75.5h0M203.8 72.9h0M189.3 36.3h0M254.5 97.4h0M200.7 37.8h0M215.1 103.1h0M224.0 34.9h0M257.2 97.1h0M260.9 106.3h0M233.9 84.9h0M239.1 83.4h0M259.3 82.6h0M219.7 79.0h0M265.5 106.1h0M223.2 66.7h0M223.5 76.2h0M228.9 66.9h0M212.8 62.6h0M235.2 75.0h0M240.0 87.6h0M237.9 93.0h0M175.1 59.6h0M230.6 88.2h0M195.6 68.0h0M255.5 93.0h0M275.0 126.2h0M245.0 78.1h0M246.3 86.8h0M249.9 106.7h0M244.9 98.7h0M227.1 88.7h0M227.2 100.8h0M246.9 71.4h0M206.2 67.2h0M231.9 104.7h0M116.9 89.1h0M311.7 132.5h0M201.4 71.7h0M209.6 60.4h0M231.4 82.6h0M175.0 88.2h0M218.3 63.5h0M222.2 64.2h0M226.5 83.9h0M187.6 47.3h0M257.3 94.0h0M244.9 93.1h0M235.9 90.3h0M164.0 39.0h0M180.0 53.9h0M224.1 73.0h0" stroke="#8e8e8e" stroke-width="1.6"/><path d="M246.1 77.3h0M234.9 76.3h0M266.4 97.3h0M241.5 73.8h0M197.8 75.4h0M263.7 86.6h0M253.3 88.4h0M241.1 79.5h0M225.2 79.1h0M249.8 88.5h0M237.5 81.6h0M208.4 66.8h0M237.0 84.8h0M221.8 93.1h0M211.7 72.0h0M180.9 87.6h0M278.6 97.3h0M238.4 80.5h0M190.4 63.4h0M226.3 69.0h0M246.6 77.2h0M257.6 86.8h0M142.3 32.8h0M268.1 104.2h0M270.1 96.1h0M233.4 75.2h0M293.1 107.8h0M273.6 112.3h0M227.2 74.7h0M239.4 79.9h0M248.5 86.3h0M268.5 85.9h0M236.4 82.9h0M234.0 80.0h0M256.9 83.8h0M201.8 69.3h0M223.6 74.9h0M241.7 78.7h0M295.2 117.2h0M234.3 79.5h0M240.8 71.4h0M237.5 85.4h0M201.8 58.4h0M212.5 85.3h0M230.0 76.1h0M191.6 62.4h0M294.8 117.4h0M141.7 80.0h0M212.8 87.3h0M174.8 70.4h0M230.3 79.2h0M245.6 90.5h0M236.4 71.7h0M261.6 96.4h0M252.9 79.1h0M235.4 77.8h0M212.7 56.7h0M204.7 89.7h0M262.2 106.2h0M203.5 71.6h0M245.5 76.4h0M216.3 66.5h0M222.0 66.3h0M187.8 64.5h0M219.6 97.8h0M260.3 94.2h0M206.3 71.3h0M265.2 114.1h0M208.8 55.7h0M201.2 82.5h0M237.9 90.0h0M214.4 63.6h0M191.2 66.5h0M264.4 93.5h0M249.9 93.3h0M231.8 92.8h0M230.6 90.7h0M224.3 74.2h0M251.5 100.8h0M253.1 97.7h0M218.2 78.6h0M244.1 88.5h0M238.1 77.0h0M308.3 123.5h0M208.9 57.1h0M254.8 58.1h0M253.6 79.7h0M212.3 78.3h0M255.4 111.3h0M224.7 76.2h0M253.5 97.5h0M266.5 89.1h0M213.1 75.5h0M228.6 86.8h0M227.5 73.6h0M226.3 56.1h0M250.3 87.1h0M235.0 90.3h0M255.1 95.7h0M233.9 92.5h0M184.2 73.8h0M195.2 48.8h0M256.7 89.0h0M205.5 61.4h0M234.4 86.5h0M163.9 19.0h0M260.0 91.4h0M246.2 87.7h0M234.7 84.3h0M249.5 120.2h0M186.4 81.2h0M181.0 60.1h0M215.2 70.2h0M241.1 83.4h0M179.6 92.4h0M233.1 111.6h0M252.4 86.3h0M168.1 83.9h0M247.0 102.3h0M214.8 77.3h0M234.5 87.9h0M261.4 89.1h0M195.5 54.1h0M223.4 97.4h0M238.2 82.2h0M113.0 46.3h0M247.8 79.6h0M220.6 73.1h0M248.2 113.8h0M222.6 79.5h0M182.6 72.6h0M241.7 85.4h0M234.0 74.1h0M218.7 63.5h0M211.2 81.8h0M222.1 68.9h0M273.1 96.4h0M212.9 65.7h0M196.3 67.8h0M246.7 88.0h0M216.2 66.2h0M229.3 81.1h0M234.8 93.3h0M284.0 124.4h0M219.3 79.7h0M208.6 81.1h0M248.6 83.8h0M199.7 64.9h0M163.1 91.6h0M281.1 106.4h0M145.9 20.5h0M232.8 84.3h0M237.1 93.7h0M181.7 68.1h0M214.1 79.6h0M173.6 61.4h0M200.2 64.1h0M277.1 102.2h0M230.6 89.0h0M240.8 88.2h0M230.7 83.1h0M241.7 85.8h0M272.2 102.4h0M268.4 106.3h0M182.2 66.3h0M235.8 77.9h0M268.2 96.8h0M240.2 82.1h0M169.6 63.4h0M211.5 66.3h0M218.1 59.5h0M250.4 87.3h0M214.5 57.8h0M222.8 83.4h0M171.3 94.5h0M211.1 71.2h0M251.4 91.8h0M197.9 31.4h0M197.9 70.8h0M234.3 93.5h0M200.3 61.9h0M244.2 93.3h0M219.0 82.3h0M204.4 64.8h0M283.5 98.9h0M227.7 93.8h0M255.1 97.1h0M196.0 89.3h0M231.5 90.6h0M186.4 73.0h0M206.5 77.9h0M223.8 97.6h0M234.5 86.5h0M222.0 73.4h0M198.1 58.3h0M218.7 83.1h0M217.8 81.1h0M238.4 87.7h0M245.6 75.1h0M209.2 80.1h0M209.8 74.1h0M206.9 56.4h0M209.8 79.2h0M259.6 113.5h0M173.2 57.0h0M188.9 61.0h0M227.3 74.8h0M219.1 59.4h0M216.0 72.0h0M172.4 18.0h0M246.1 91.5h0M233.9 78.4h0M228.7 63.3h0M254.1 78.7h0M219.9 86.4h0M314.6 127.5h0M267.9 102.2h0M198.9 81.0h0M251.3 87.9h0M246.0 106.1h0M263.7 95.7h0M263.7 105.7h0M167.2 52.2h0M177.2 73.9h0M242.9 95.9h0M236.8 119.6h0M219.9 76.1h0M243.5 80.2h0M233.6 81.3h0M209.5 78.8h0M299.5 121.9h0M266.7 97.9h0M294.3 130.8h0M163.4 86.5h0M265.3 103.8h0M256.5 99.1h0M273.0 100.7h0M220.2 99.6h0M216.9 79.0h0M202.1 73.9h0M211.2 61.0h0M234.7 95.5h0M237.1 100.5h0M159.1 63.1h0M229.9 75.7h0M239.4 87.7h0M217.5 78.0h0M223.6 89.9h0M237.3 69.5h0M186.1 81.0h0M213.5 81.2h0M231.3 77.3h0M224.6 75.2h0M245.4 63.1h0M142.6 88.0h0M233.4 85.7h0M173.6 55.0h0M247.3 82.3h0M251.2 102.0h0M199.7 82.5h0M221.2 76.1h0M227.2 68.3h0M203.8 66.5h0M243.6 87.7h0M291.0 121.5h0M235.9 78.6h0M194.0 56.1h0M211.3 55.5h0M166.9 47.8h0M254.7 76.7h0M221.4 80.0h0M251.0 79.8h0M213.1 76.2h0M210.4 77.8h0M274.9 110.0h0M207.8 56.9h0M253.8 98.1h0M292.3 113.0h0M213.6 69.4h0M254.8 96.4h0M233.2 71.5h0M232.3 78.9h0M107.3 63.9h0M257.2 104.4h0M202.0 80.3h0M254.0 101.0h0M223.0 46.2h0M200.7 105.2h0M229.8 75.6h0M299.9 130.8h0M226.1 81.1h0M230.4 72.7h0M236.7 87.8h0M216.5 75.1h0M203.7 45.3h0M205.7 78.1h0M239.6 82.6h0M209.6 67.5h0M207.7 89.3h0M257.8 95.6h0M257.3 94.3h0M206.0 68.2h0M232.8 70.6h0M227.6 87.9h0M229.9 81.2h0M185.3 51.9h0M235.7 91.4h0M203.4 86.0h0M227.1 83.8h0M242.9 84.0h0M255.5 78.9h0M185.7 46.8h0M213.7 68.4h0M229.2 70.5h0M198.3 67.4h0M230.9 93.8h0" stroke="#fff" stroke-opacity="0.2" stroke-width="2.2"/><path d="M246.1 77.3h0M234.9 76.3h0M266.4 97.3h0M241.5 73.8h0M197.8 75.4h0M263.7 86.6h0M253.3 88.4h0M241.1 79.5h0M225.2 79.1h0M249.8 88.5h0M237.5 81.6h0M208.4 66.8h0M237.0 84.8h0M221.8 93.1h0M211.7 72.0h0M180.9 87.6h0M278.6 97.3h0M238.4 80.5h0M190.4 63.4h0M226.3 69.0h0M246.6 77.2h0M257.6 86.8h0M142.3 32.8h0M268.1 104.2h0M270.1 96.1h0M233.4 75.2h0M293.1 107.8h0M273.6 112.3h0M227.2 74.7h0M239.4 79.9h0M248.5 86.3h0M268.5 85.9h0M236.4 82.9h0M234.0 80.0h0M256.9 83.8h0M201.8 69.3h0M223.6 74.9h0M241.7 78.7h0M295.2 117.2h0M234.3 79.5h0M240.8 71.4h0M237.5 85.4h0M201.8 58.4h0M212.5 85.3h0M230.0 76.1h0M191.6 62.4h0M294.8 117.4h0M141.7 80.0h0M212.8 87.3h0M174.8 70.4h0M230.3 79.2h0M245.6 90.5h0M236.4 71.7h0M261.6 96.4h0M252.9 79.1h0M235.4 77.8h0M212.7 56.7h0M204.7 89.7h0M262.2 106.2h0M203.5 71.6h0M245.5 76.4h0M216.3 66.5h0M222.0 66.3h0M187.8 64.5h0M219.6 97.8h0M260.3 94.2h0M206.3 71.3h0M265.2 114.1h0M208.8 55.7h0M201.2 82.5h0M237.9 90.0h0M214.4 63.6h0M191.2 66.5h0M264.4 93.5h0M249.9 93.3h0M231.8 92.8h0M230.6 90.7h0M224.3 74.2h0M251.5 100.8h0M253.1 97.7h0M218.2 78.6h0M244.1 88.5h0M238.1 77.0h0M308.3 123.5h0M208.9 57.1h0M254.8 58.1h0M253.6 79.7h0M212.3 78.3h0M255.4 111.3h0M224.7 76.2h0M253.5 97.5h0M266.5 89.1h0M213.1 75.5h0M228.6 86.8h0M227.5 73.6h0M226.3 56.1h0M250.3 87.1h0M235.0 90.3h0M255.1 95.7h0M233.9 92.5h0M184.2 73.8h0M195.2 48.8h0M256.7 89.0h0M205.5 61.4h0M234.4 86.5h0M163.9 19.0h0M260.0 91.4h0M246.2 87.7h0M234.7 84.3h0M249.5 120.2h0M186.4 81.2h0M181.0 60.1h0M215.2 70.2h0M241.1 83.4h0M179.6 92.4h0M233.1 111.6h0M252.4 86.3h0M168.1 83.9h0M247.0 102.3h0M214.8 77.3h0M234.5 87.9h0M261.4 89.1h0M195.5 54.1h0M223.4 97.4h0M238.2 82.2h0M113.0 46.3h0M247.8 79.6h0M220.6 73.1h0M248.2 113.8h0M222.6 79.5h0M182.6 72.6h0M241.7 85.4h0M234.0 74.1h0M218.7 63.5h0M211.2 81.8h0M222.1 68.9h0M273.1 96.4h0M212.9 65.7h0M196.3 67.8h0M246.7 88.0h0M216.2 66.2h0M229.3 81.1h0M234.8 93.3h0M284.0 124.4h0M219.3 79.7h0M208.6 81.1h0M248.6 83.8h0M199.7 64.9h0M163.1 91.6h0M281.1 106.4h0M145.9 20.5h0M232.8 84.3h0M237.1 93.7h0M181.7 68.1h0M214.1 79.6h0M173.6 61.4h0M200.2 64.1h0M277.1 102.2h0M230.6 89.0h0M240.8 88.2h0M230.7 83.1h0M241.7 85.8h0M272.2 102.4h0M268.4 106.3h0M182.2 66.3h0M235.8 77.9h0M268.2 96.8h0M240.2 82.1h0M169.6 63.4h0M211.5 66.3h0M218.1 59.5h0M250.4 87.3h0M214.5 57.8h0M222.8 83.4h0M171.3 94.5h0M211.1 71.2h0M251.4 91.8h0M197.9 31.4h0M197.9 70.8h0M234.3 93.5h0M200.3 61.9h0M244.2 93.3h0M219.0 82.3h0M204.4 64.8h0M283.5 98.9h0M227.7 93.8h0M255.1 97.1h0M196.0 89.3h0M231.5 90.6h0M186.4 73.0h0M206.5 77.9h0M223.8 97.6h0M234.5 86.5h0M222.0 73.4h0M198.1 58.3h0M218.7 83.1h0M217.8 81.1h0M238.4 87.7h0M245.6 75.1h0M209.2 80.1h0M209.8 74.1h0M206.9 56.4h0M209.8 79.2h0M259.6 113.5h0M173.2 57.0h0M188.9 61.0h0M227.3 74.8h0M219.1 59.4h0M216.0 72.0h0M172.4 18.0h0M246.1 91.5h0M233.9 78.4h0M228.7 63.3h0M254.1 78.7h0M219.9 86.4h0M314.6 127.5h0M267.9 102.2h0M198.9 81.0h0M251.3 87.9h0M246.0 106.1h0M263.7 95.7h0M263.7 105.7h0M167.2 52.2h0M177.2 73.9h0M242.9 95.9h0M236.8 119.6h0M219.9 76.1h0M243.5 80.2h0M233.6 81.3h0M209.5 78.8h0M299.5 121.9h0M266.7 97.9h0M294.3 130.8h0M163.4 86.5h0M265.3 103.8h0M256.5 99.1h0M273.0 100.7h0M220.2 99.6h0M216.9 79.0h0M202.1 73.9h0M211.2 61.0h0M234.7 95.5h0M237.1 100.5h0M159.1 63.1h0M229.9 75.7h0M239.4 87.7h0M217.5 78.0h0M223.6 89.9h0M237.3 69.5h0M186.1 81.0h0M213.5 81.2h0M231.3 77.3h0M224.6 75.2h0M245.4 63.1h0M142.6 88.0h0M233.4 85.7h0M173.6 55.0h0M247.3 82.3h0M251.2 102.0h0M199.7 82.5h0M221.2 76.1h0M227.2 68.3h0M203.8 66.5h0M243.6 87.7h0M291.0 121.5h0M235.9 78.6h0M194.0 56.1h0M211.3 55.5h0M166.9 47.8h0M254.7 76.7h0M221.4 80.0h0M251.0 79.8h0M213.1 76.2h0M210.4 77.8h0M274.9 110.0h0M207.8 56.9h0M253.8 98.1h0M292.3 113.0h0M213.6 69.4h0M254.8 96.4h0M233.2 71.5h0M232.3 78.9h0M107.3 63.9h0M257.2 104.4h0M202.0 80.3h0M254.0 101.0h0M223.0 46.2h0M200.7 105.2h0M229.8 75.6h0M299.9 130.8h0M226.1 81.1h0M230.4 72.7h0M236.7 87.8h0M216.5 75.1h0M203.7 45.3h0M205.7 78.1h0M239.6 82.6h0M209.6 67.5h0M207.7 89.3h0M257.8 95.6h0M257.3 94.3h0M206.0 68.2h0M232.8 70.6h0M227.6 87.9h0M229.9 81.2h0M185.3 51.9h0M235.7 91.4h0M203.4 86.0h0M227.1 83.8h0M242.9 84.0h0M255.5 78.9h0M185.7 46.8h0M213.7 68.4h0M229.2 70.5h0M198.3 67.4h0M230.9 93.8h0" stroke="#8e8e8e" stroke-width="1.6"/></g>
<path d="M38.7 9.9L40.2 9.9L41.7 9.9L43.2 9.9L44.6 9.9L46.1 9.9L47.6 9.9L49.1 9.9L50.6 9.9L52.1 9.9L53.5 9.9L55.0 9.9L56.5 9.9L58.0 9.9L59.5 9.9L61.0 9.9L62.4 9.9L63.9 9.9L65.4 9.9L66.9 9.9L68.4 9.9L69.9 9.9L71.3 9.9L72.8 9.9L74.3 9.9L75.8 9.9L77.3 9.9L78.8 9.9L80.2 9.9L81.7 10.0L83.2 10.0L84.7 10.0L86.2 10.0L87.7 10.0L89.1 10.0L90.6 10.0L92.1 10.1L93.6 10.1L95.1 10.1L96.6 10.1L98.0 10.2L99.5 10.2L101.0 10.2L102.5 10.3L104.0 10.3L105.5 10.4L106.9 10.4L108.4 10.5L109.9 10.6L111.4 10.7L112.9 10.7L114.4 10.8L115.8 10.9L117.3 11.0L118.8 11.2L120.3 11.3L121.8 11.4L123.3 11.6L124.7 11.8L126.2 12.0L127.7 12.2L129.2 12.4L130.7 12.7L132.2 12.9L133.6 13.2L135.1 13.5L136.6 13.9L138.1 14.2L139.6 14.6L141.1 15.0L142.5 15.5L144.0 15.9L145.5 16.4L147.0 17.0L148.5 17.5L150.0 18.1L151.4 18.7L152.9 19.3L154.4 20.0L155.9 20.7L157.4 21.4L158.9 22.2L160.3 23.0L161.8 23.7L163.3 24.6L164.8 25.4L166.3 26.3L167.8 27.1L169.2 28.0L170.7 29.0L172.2 29.9L173.7 30.8L175.2 31.8L176.7 32.8L178.1 33.8L179.6 34.7L181.1 35.8L182.6 36.8L184.1 37.8L185.6 38.8L187.0 39.9L188.5 40.9L190.0 42.0L191.5 43.0L193.0 44.1L194.5 45.1L195.9 46.2L197.4 47.3L198.9 48.4L200.4 49.4L201.9 50.5L203.4 51.6L204.8 52.7L206.3 53.8L207.8 54.9L209.3 56.0L210.8 57.0L212.3 58.1L213.7 59.2L215.2 60.3L216.7 61.4L218.2 62.5L219.7 63.6L221.2 64.7L222.6 65.8L224.1 66.9L225.6 68.0L227.1 69.1L228.6 70.2L230.1 71.3L231.5 72.4L233.0 73.5L234.5 74.6L236.0 75.7L237.5 76.9L239.0 78.0L240.4 79.1L241.9 80.2L243.4 81.3L244.9 82.4L246.4 83.5L247.9 84.6L249.3 85.7L250.8 86.8L252.3 87.9L253.8 89.0L255.3 90.1L256.8 91.2L258.2 92.3L259.7 93.4L261.2 94.5L262.7 95.6L264.2 96.7L265.7 97.8L267.1 98.9L268.6 100.0L270.1 101.1L271.6 102.2L273.1 103.4L274.6 104.5L276.0 105.6L277.5 106.7L279.0 107.8L280.5 108.9L282.0 110.0L283.5 111.1L284.9 112.2L286.4 113.3L287.9 114.4L289.4 115.5L290.9 116.6L292.4 117.7L293.8 118.8L295.3 119.9L296.8 120.9L298.3 122.0L299.8 123.1L301.3 124.2L302.7 125.3L304.2 126.4L305.7 127.5L307.2 128.6L308.7 129.7L310.2 130.8L311.6 131.8L313.1 132.9L314.6 134.0L316.1 135.1L317.6 136.2L319.1 137.2L320.5 138.3L322.0 139.4L323.5 140.5L325.0 141.5L326.5 142.6L328.0 143.6L329.4 144.7L330.9 145.8L332.4 146.8L333.9 147.8" stroke="#111" stroke-width="1.45" clip-path="url(#cx)"/>
<path d="M38.7 9.8L40.2 9.8L41.7 9.8L43.2 9.8L44.6 9.8L46.1 9.8L47.6 9.8L49.1 9.8L50.6 9.8L52.1 9.8L53.5 9.8L55.0 9.8L56.5 9.9L58.0 9.9L59.5 9.9L61.0 9.9L62.4 9.9L63.9 9.9L65.4 9.9L66.9 9.9L68.4 9.9L69.9 9.9L71.3 9.9L72.8 9.9L74.3 9.9L75.8 9.9L77.3 9.9L78.8 9.9L80.2 9.9L81.7 9.9L83.2 9.9L84.7 9.9L86.2 9.9L87.7 9.9L89.1 9.9L90.6 9.9L92.1 9.9L93.6 9.9L95.1 9.9L96.6 9.9L98.0 9.9L99.5 9.9L101.0 9.9L102.5 9.9L104.0 9.9L105.5 9.9L106.9 9.9L108.4 9.9L109.9 9.9L111.4 9.9L112.9 9.9L114.4 9.9L115.8 9.9L117.3 9.9L118.8 9.9L120.3 9.9L121.8 9.9L123.3 9.9L124.7 9.9L126.2 9.9L127.7 9.9L129.2 9.9L130.7 9.9L132.2 9.9L133.6 9.9L135.1 9.9L136.6 9.9L138.1 9.9L139.6 9.9L141.1 9.9L142.5 9.9L144.0 9.9L145.5 9.9L147.0 10.0L148.5 10.0L150.0 10.0L151.4 10.0L152.9 10.0L154.4 10.0L155.9 10.0L157.4 10.1L158.9 10.1L160.3 10.1L161.8 10.1L163.3 10.2L164.8 10.2L166.3 10.2L167.8 10.3L169.2 10.3L170.7 10.4L172.2 10.4L173.7 10.5L175.2 10.6L176.7 10.6L178.1 10.7L179.6 10.8L181.1 10.9L182.6 11.0L184.1 11.1L185.6 11.3L187.0 11.4L188.5 11.6L190.0 11.7L191.5 11.9L193.0 12.1L194.5 12.4L195.9 12.6L197.4 12.9L198.9 13.2L200.4 13.5L201.9 13.8L203.4 14.1L204.8 14.5L206.3 14.9L207.8 15.4L209.3 15.8L210.8 16.3L212.3 16.8L213.7 17.4L215.2 18.0L216.7 18.6L218.2 19.2L219.7 19.9L221.2 20.6L222.6 21.3L224.1 22.0L225.6 22.8L227.1 23.6L228.6 24.4L230.1 25.2L231.5 26.1L233.0 26.9L234.5 27.8L236.0 28.8L237.5 29.7L239.0 30.6L240.4 31.6L241.9 32.6L243.4 33.5L244.9 34.5L246.4 35.5L247.9 36.5L249.3 37.6L250.8 38.6L252.3 39.6L253.8 40.7L255.3 41.7L256.8 42.8L258.2 43.8L259.7 44.9L261.2 46.0L262.7 47.0L264.2 48.1L265.7 49.2L267.1 50.3L268.6 51.4L270.1 52.4L271.6 53.5L273.1 54.6L274.6 55.7L276.0 56.8L277.5 57.9L279.0 59.0L280.5 60.1L282.0 61.2L283.5 62.3L284.9 63.4L286.4 64.5L287.9 65.6L289.4 66.7L290.9 67.8L292.4 68.9L293.8 70.0L295.3 71.1L296.8 72.2L298.3 73.3L299.8 74.4L301.3 75.5L302.7 76.6L304.2 77.7L305.7 78.8L307.2 79.9L308.7 81.0L310.2 82.1L311.6 83.2L313.1 84.3L314.6 85.4L316.1 86.5L317.6 87.7L319.1 88.8L320.5 89.9L322.0 91.0L323.5 92.1L325.0 93.2L326.5 94.3L328.0 95.4L329.4 96.5L330.9 97.6L332.4 98.7L333.9 99.8" stroke="#111" stroke-width="1.45" stroke-dasharray="5.0 2.16" clip-path="url(#cx1)"/>
<path d="M38.7 9.8L40.2 9.8L41.7 9.8L43.2 9.8L44.6 9.8L46.1 9.8L47.6 9.8L49.1 9.8L50.6 9.8L52.1 9.8L53.5 9.8L55.0 9.8L56.5 9.8L58.0 9.8L59.5 9.8L61.0 9.8L62.4 9.8L63.9 9.8L65.4 9.8L66.9 9.8L68.4 9.8L69.9 9.8L71.3 9.8L72.8 9.8L74.3 9.8L75.8 9.8L77.3 9.8L78.8 9.8L80.2 9.8L81.7 9.8L83.2 9.8L84.7 9.8L86.2 9.8L87.7 9.8L89.1 9.8L90.6 9.8L92.1 9.8L93.6 9.8L95.1 9.8L96.6 9.8L98.0 9.8L99.5 9.8L101.0 9.8L102.5 9.8L104.0 9.8L105.5 9.8L106.9 9.8L108.4 9.8L109.9 9.8L111.4 9.8L112.9 9.8L114.4 9.8L115.8 9.8L117.3 9.8L118.8 9.8L120.3 9.8L121.8 9.9L123.3 9.9L124.7 9.9L126.2 9.9L127.7 9.9L129.2 9.9L130.7 9.9L132.2 9.9L133.6 9.9L135.1 9.9L136.6 9.9L138.1 9.9L139.6 9.9L141.1 9.9L142.5 9.9L144.0 9.9L145.5 9.9L147.0 9.9L148.5 9.9L150.0 9.9L151.4 9.9L152.9 9.9L154.4 9.9L155.9 9.9L157.4 9.9L158.9 9.9L160.3 9.9L161.8 9.9L163.3 9.9L164.8 9.9L166.3 9.9L167.8 9.9L169.2 9.9L170.7 9.9L172.2 9.9L173.7 9.9L175.2 9.9L176.7 9.9L178.1 9.9L179.6 9.9L181.1 9.9L182.6 9.9L184.1 9.9L185.6 9.9L187.0 9.9L188.5 9.9L190.0 9.9L191.5 9.9L193.0 9.9L194.5 9.9L195.9 9.9L197.4 9.9L198.9 9.9L200.4 9.9L201.9 9.9L203.4 9.9L204.8 9.9L206.3 9.9L207.8 9.9L209.3 9.9L210.8 9.9L212.3 9.9L213.7 10.0L215.2 10.0L216.7 10.0L218.2 10.0L219.7 10.0L221.2 10.0L222.6 10.1L224.1 10.1L225.6 10.1L227.1 10.1L228.6 10.2L230.1 10.2L231.5 10.2L233.0 10.3L234.5 10.3L236.0 10.4L237.5 10.4L239.0 10.5L240.4 10.5L241.9 10.6L243.4 10.7L244.9 10.8L246.4 10.9L247.9 11.0L249.3 11.1L250.8 11.2L252.3 11.4L253.8 11.5L255.3 11.7L256.8 11.9L258.2 12.1L259.7 12.3L261.2 12.5L262.7 12.8L264.2 13.1L265.7 13.4L267.1 13.7L268.6 14.1L270.1 14.4L271.6 14.8L273.1 15.3L274.6 15.7L276.0 16.2L277.5 16.7L279.0 17.3L280.5 17.8L282.0 18.4L283.5 19.1L284.9 19.7L286.4 20.4L287.9 21.1L289.4 21.8L290.9 22.6L292.4 23.4L293.8 24.2L295.3 25.0L296.8 25.9L298.3 26.8L299.8 27.6L301.3 28.6L302.7 29.5L304.2 30.4L305.7 31.4L307.2 32.3L308.7 33.3L310.2 34.3L311.6 35.3L313.1 36.3L314.6 37.3L316.1 38.4L317.6 39.4L319.1 40.4L320.5 41.5L322.0 42.5L323.5 43.6L325.0 44.7L326.5 45.7L328.0 46.8L329.4 47.9L330.9 49.0L332.4 50.0L333.9 51.1" stroke="#111" stroke-width="1.45" stroke-dasharray="8.64 2.16 1.35 2.16" clip-path="url(#cx2)"/>
<path d="M38.7 9.9L40.2 9.9L41.7 9.9L43.2 9.9L44.6 9.9L46.1 9.9L47.6 9.9L49.1 9.9L50.6 9.9L52.1 9.9L53.5 9.9L55.0 9.9L56.5 9.9L58.0 9.9L59.5 9.9L61.0 9.9L62.4 9.9L63.9 9.9L65.4 9.9L66.9 9.9L68.4 9.9L69.9 9.9L71.3 9.9L72.8 9.9L74.3 9.9L75.8 9.9L77.3 9.9L78.8 9.9L80.2 9.9L81.7 10.0L83.2 10.0L84.7 10.0L86.2 10.0L87.7 10.0L89.1 10.0L90.6 10.0L92.1 10.1L93.6 10.1L95.1 10.1L96.6 10.1L98.0 10.2L99.5 10.2L101.0 10.2L102.5 10.3L104.0 10.3L105.5 10.4L106.9 10.4L108.4 10.5L109.9 10.6L111.4 10.7L112.9 10.7L114.4 10.8L115.8 11.0L117.3 11.1L118.8 11.2L120.3 11.4L121.8 11.5L123.3 11.7L124.7 11.9L126.2 12.1L127.7 12.4L129.2 12.7L130.7 13.0L132.2 13.3L133.6 13.7L135.1 14.1L136.6 14.6L138.1 15.1L139.6 15.7L141.1 16.4L142.5 17.1L144.0 17.9L145.5 18.7L147.0 19.7L148.5 20.8L150.0 22.0L151.4 23.3L152.9 24.8L154.4 26.5L155.9 28.3L157.4 30.3L158.9 32.5L160.3 35.0L161.8 37.8L163.3 40.9L164.8 44.3L166.3 48.0L167.8 52.2L169.2 56.9L170.7 62.0L172.2 67.8L173.7 74.1L175.2 81.2L176.7 89.0L178.1 97.7L179.6 107.3L181.1 117.9L182.6 129.6L184.1 142.5L185.6 156.1L187.0 169.8L188.5 181.6L190.0 189.1L191.5 192.2L193.0 193.1L194.5 193.4L195.9 193.4L197.4 193.4L198.9 193.4L200.4 193.4L201.9 193.4L203.4 193.4L204.8 193.4L206.3 193.4L207.8 193.4L209.3 193.4L210.8 193.4L212.3 193.4L213.7 193.4L215.2 193.4L216.7 193.4L218.2 193.4L219.7 193.4L221.2 193.4L222.6 193.4L224.1 193.4L225.6 193.4L227.1 193.4L228.6 193.4L230.1 193.4L231.5 193.4L233.0 193.4L234.5 193.4L236.0 193.4L237.5 193.4L239.0 193.4L240.4 193.4L241.9 193.4L243.4 193.4L244.9 193.4L246.4 193.4L247.9 193.4L249.3 193.4L250.8 193.4L252.3 193.4L253.8 193.4L255.3 193.4L256.8 193.4L258.2 193.4L259.7 193.4L261.2 193.4L262.7 193.4L264.2 193.4L265.7 193.4L267.1 193.4L268.6 193.4L270.1 193.4L271.6 193.4L273.1 193.4L274.6 193.4L276.0 193.4L277.5 193.4L279.0 193.4L280.5 193.4L282.0 193.4L283.5 193.4L284.9 193.4L286.4 193.4L287.9 193.4L289.4 193.4L290.9 193.4L292.4 193.4L293.8 193.4L295.3 193.4L296.8 193.4L298.3 193.4L299.8 193.4L301.3 193.4L302.7 193.4L304.2 193.4L305.7 193.4L307.2 193.4L308.7 193.4L310.2 193.4L311.6 193.4L313.1 193.4L314.6 193.4L316.1 193.4L317.6 193.4L319.1 193.4L320.5 193.4L322.0 193.4L323.5 193.4L325.0 193.4L326.5 193.4L328.0 193.4L329.4 193.4L330.9 193.4L332.4 193.4L333.9 193.4" stroke="#8a8a8a" stroke-width="1.5"/>
<path d="M38.7 9.8L40.2 9.8L41.7 9.8L43.2 9.8L44.6 9.8L46.1 9.8L47.6 9.8L49.1 9.8L50.6 9.8L52.1 9.8L53.5 9.8L55.0 9.8L56.5 9.9L58.0 9.9L59.5 9.9L61.0 9.9L62.4 9.9L63.9 9.9L65.4 9.9L66.9 9.9L68.4 9.9L69.9 9.9L71.3 9.9L72.8 9.9L74.3 9.9L75.8 9.9L77.3 9.9L78.8 9.9L80.2 9.9L81.7 9.9L83.2 9.9L84.7 9.9L86.2 9.9L87.7 9.9L89.1 9.9L90.6 9.9L92.1 9.9L93.6 9.9L95.1 9.9L96.6 9.9L98.0 9.9L99.5 9.9L101.0 9.9L102.5 9.9L104.0 9.9L105.5 9.9L106.9 9.9L108.4 9.9L109.9 9.9L111.4 9.9L112.9 9.9L114.4 9.9L115.8 9.9L117.3 9.9L118.8 9.9L120.3 9.9L121.8 9.9L123.3 9.9L124.7 9.9L126.2 9.9L127.7 9.9L129.2 9.9L130.7 9.9L132.2 9.9L133.6 9.9L135.1 9.9L136.6 9.9L138.1 9.9L139.6 9.9L141.1 9.9L142.5 9.9L144.0 9.9L145.5 9.9L147.0 9.9L148.5 10.0L150.0 10.0L151.4 10.0L152.9 10.0L154.4 10.0L155.9 10.0L157.4 10.1L158.9 10.1L160.3 10.1L161.8 10.1L163.3 10.2L164.8 10.2L166.3 10.2L167.8 10.3L169.2 10.3L170.7 10.4L172.2 10.4L173.7 10.5L175.2 10.6L176.7 10.6L178.1 10.7L179.6 10.8L181.1 10.9L182.6 11.1L184.1 11.2L185.6 11.3L187.0 11.5L188.5 11.7L190.0 11.9L191.5 12.1L193.0 12.3L194.5 12.6L195.9 12.9L197.4 13.3L198.9 13.6L200.4 14.0L201.9 14.5L203.4 15.0L204.8 15.6L206.3 16.2L207.8 16.9L209.3 17.7L210.8 18.5L212.3 19.5L213.7 20.5L215.2 21.7L216.7 23.0L218.2 24.5L219.7 26.1L221.2 27.9L222.6 29.8L224.1 32.0L225.6 34.5L227.1 37.2L228.6 40.2L230.1 43.5L231.5 47.2L233.0 51.3L234.5 55.8L236.0 60.9L237.5 66.5L239.0 72.7L240.4 79.6L241.9 87.2L243.4 95.7L244.9 105.1L246.4 115.5L247.9 126.9L249.3 139.5L250.8 153.0L252.3 166.9L253.8 179.3L255.3 187.8L256.8 191.8L258.2 193.0L259.7 193.3L261.2 193.4L262.7 193.4L264.2 193.4L265.7 193.4L267.1 193.4L268.6 193.4L270.1 193.4L271.6 193.4L273.1 193.4L274.6 193.4L276.0 193.4L277.5 193.4L279.0 193.4L280.5 193.4L282.0 193.4L283.5 193.4L284.9 193.4L286.4 193.4L287.9 193.4L289.4 193.4L290.9 193.4L292.4 193.4L293.8 193.4L295.3 193.4L296.8 193.4L298.3 193.4L299.8 193.4L301.3 193.4L302.7 193.4L304.2 193.4L305.7 193.4L307.2 193.4L308.7 193.4L310.2 193.4L311.6 193.4L313.1 193.4L314.6 193.4L316.1 193.4L317.6 193.4L319.1 193.4L320.5 193.4L322.0 193.4L323.5 193.4L325.0 193.4L326.5 193.4L328.0 193.4L329.4 193.4L330.9 193.4L332.4 193.4L333.9 193.4" stroke="#8a8a8a" stroke-width="1.5" stroke-dasharray="5.0 2.16" clip-path="url(#cx)"/>
<path d="M38.7 9.8L40.2 9.8L41.7 9.8L43.2 9.8L44.6 9.8L46.1 9.8L47.6 9.8L49.1 9.8L50.6 9.8L52.1 9.8L53.5 9.8L55.0 9.8L56.5 9.8L58.0 9.8L59.5 9.8L61.0 9.8L62.4 9.8L63.9 9.8L65.4 9.8L66.9 9.8L68.4 9.8L69.9 9.8L71.3 9.8L72.8 9.8L74.3 9.8L75.8 9.8L77.3 9.8L78.8 9.8L80.2 9.8L81.7 9.8L83.2 9.8L84.7 9.8L86.2 9.8L87.7 9.8L89.1 9.8L90.6 9.8L92.1 9.8L93.6 9.8L95.1 9.8L96.6 9.8L98.0 9.8L99.5 9.8L101.0 9.8L102.5 9.8L104.0 9.8L105.5 9.8L106.9 9.8L108.4 9.8L109.9 9.8L111.4 9.8L112.9 9.8L114.4 9.8L115.8 9.8L117.3 9.8L118.8 9.8L120.3 9.8L121.8 9.9L123.3 9.9L124.7 9.9L126.2 9.9L127.7 9.9L129.2 9.9L130.7 9.9L132.2 9.9L133.6 9.9L135.1 9.9L136.6 9.9L138.1 9.9L139.6 9.9L141.1 9.9L142.5 9.9L144.0 9.9L145.5 9.9L147.0 9.9L148.5 9.9L150.0 9.9L151.4 9.9L152.9 9.9L154.4 9.9L155.9 9.9L157.4 9.9L158.9 9.9L160.3 9.9L161.8 9.9L163.3 9.9L164.8 9.9L166.3 9.9L167.8 9.9L169.2 9.9L170.7 9.9L172.2 9.9L173.7 9.9L175.2 9.9L176.7 9.9L178.1 9.9L179.6 9.9L181.1 9.9L182.6 9.9L184.1 9.9L185.6 9.9L187.0 9.9L188.5 9.9L190.0 9.9L191.5 9.9L193.0 9.9L194.5 9.9L195.9 9.9L197.4 9.9L198.9 9.9L200.4 9.9L201.9 9.9L203.4 9.9L204.8 9.9L206.3 9.9L207.8 9.9L209.3 9.9L210.8 9.9L212.3 9.9L213.7 10.0L215.2 10.0L216.7 10.0L218.2 10.0L219.7 10.0L221.2 10.0L222.6 10.0L224.1 10.1L225.6 10.1L227.1 10.1L228.6 10.2L230.1 10.2L231.5 10.2L233.0 10.3L234.5 10.3L236.0 10.4L237.5 10.4L239.0 10.5L240.4 10.5L241.9 10.6L243.4 10.7L244.9 10.8L246.4 10.9L247.9 11.0L249.3 11.2L250.8 11.3L252.3 11.5L253.8 11.6L255.3 11.8L256.8 12.0L258.2 12.3L259.7 12.5L261.2 12.8L262.7 13.2L264.2 13.5L265.7 13.9L267.1 14.4L268.6 14.9L270.1 15.4L271.6 16.1L273.1 16.7L274.6 17.5L276.0 18.3L277.5 19.3L279.0 20.3L280.5 21.4L282.0 22.7L283.5 24.1L284.9 25.7L286.4 27.4L287.9 29.4L289.4 31.5L290.9 33.9L292.4 36.5L293.8 39.5L295.3 42.7L296.8 46.3L298.3 50.3L299.8 54.8L301.3 59.7L302.7 65.2L304.2 71.2L305.7 78.0L307.2 85.4L308.7 93.7L310.2 102.9L311.6 113.1L313.1 124.3L314.6 136.6L316.1 150.0L317.6 163.8L319.1 176.8L320.5 186.4L322.0 191.2L323.5 192.9L325.0 193.3L326.5 193.4L328.0 193.4L329.4 193.4L330.9 193.4L332.4 193.4L333.9 193.4" stroke="#8a8a8a" stroke-width="1.5" stroke-dasharray="8.64 2.16 1.35 2.16" clip-path="url(#cx)"/>
</g>
<rect x="39.5" y="0.4" width="309.8" height="202.29999999999998" fill="none" stroke="#1a1a1a" stroke-width="0.9"/>
<path d="M71.5 202.7v3.3M137.1 202.7v3.3M202.7 202.7v3.3M268.3 202.7v3.3M333.9 202.7v3.3M39.5 193.4h-3.3M39.5 156.7h-3.3M39.5 120.0h-3.3M39.5 83.3h-3.3M39.5 46.6h-3.3M39.5 9.8h-3.3" stroke="#1a1a1a" stroke-width="0.9" fill="none"/>
<text class="t" x="71.5" y="218" text-anchor="middle">2</text>
<text class="t" x="137.1" y="218" text-anchor="middle">4</text>
<text class="t" x="202.7" y="218" text-anchor="middle">6</text>
<text class="t" x="268.3" y="218" text-anchor="middle">8</text>
<text class="t" x="333.9" y="218" text-anchor="middle">10</text>
<text class="t" x="33.0" y="197.7" text-anchor="end">9</text>
<text class="t" x="33.0" y="161.0" text-anchor="end">10</text>
<text class="t" x="33.0" y="124.3" text-anchor="end">11</text>
<text class="t" x="33.0" y="87.6" text-anchor="end">12</text>
<text class="t" x="33.0" y="50.9" text-anchor="end">13</text>
<text class="t" x="33.0" y="14.1" text-anchor="end">14</text>
<text class="l" transform="translate(194 232.9) scale(1 1.07)" text-anchor="middle">log τ<tspan dy="2.2" font-size="8px">c</tspan><tspan dy="-2.2"> (yr)</tspan></text>
<text class="l" transform="translate(11.9 102.0) rotate(-90)" style="font-size:11.7px;word-spacing:-0.9px" text-anchor="middle">log <tspan class="i">B</tspan> (G)</text>
<text class="a" x="48.5" y="65"><tspan class="i">B</tspan><tspan dy="1.8" font-size="7.2px">i</tspan><tspan dy="-1.8"> = 10</tspan><tspan dy="-4.0" font-size="7.2px">14</tspan><tspan dy="4.0" dx="0.8"> G</tspan></text>
<text class="a" x="48.5" y="82.9"><tspan class="i">B</tspan><tspan dy="1.8" font-size="7.2px">m</tspan><tspan dy="-1.8"> = 10</tspan><tspan dy="-4.0" font-size="7.2px">9</tspan><tspan dy="4.0" dx="0.8"> G</tspan></text>
<text class="a" x="48.8" y="101.4"><tspan class="i">α</tspan> = 1.5</text>
<text class="p" x="303.8" y="27.7">PL form</text>
<text class="p" x="144" y="182.2" style="fill:#999;stroke:#999">EXP form</text>
<rect x="43.1" y="133.6" width="86.3" height="64.3" rx="2" fill="#fff" fill-opacity="0.8" stroke="#ccc" stroke-width="0.8"/>
<path d="M47.1 142.7h19.5" stroke="#111" stroke-width="1.6" fill="none"/>
<text class="a" x="73.7" y="146.2">τ<tspan dy="1.8" font-size="7.2px">d</tspan><tspan dy="-1.8"> = 10</tspan><tspan dy="-4.0" font-size="7.2px">3</tspan><tspan dy="4.0" dx="0.8"> yr</tspan></text>
<path d="M47.1 158.7h19.5" stroke="#111" stroke-width="1.6" stroke-dasharray="5.0 2.16" fill="none"/>
<text class="a" x="73.7" y="162.2">τ<tspan dy="1.8" font-size="7.2px">d</tspan><tspan dy="-1.8"> = 10</tspan><tspan dy="-4.0" font-size="7.2px">5</tspan><tspan dy="4.0" dx="0.8"> yr</tspan></text>
<path d="M47.1 174.4h19.5" stroke="#111" stroke-width="1.6" stroke-dasharray="8.64 2.16 1.35 2.16" fill="none"/>
<text class="a" x="73.7" y="177.9">τ<tspan dy="1.8" font-size="7.2px">d</tspan><tspan dy="-1.8"> = 10</tspan><tspan dy="-4.0" font-size="7.2px">7</tspan><tspan dy="4.0" dx="0.8"> yr</tspan></text>
<circle cx="57.1" cy="189.3" r="0.65" fill="#9a9a9a"/>
<text class="p" x="73.7" y="192.8">NANS</text>
<g clip-path="url(#cb)" fill="none">
<g stroke="#606060" stroke-opacity="0.0158" stroke-width="1.3">
<path d="M51.5 297.1L104.2 297.3L121.8 297.6L139.4 298.7L156.9 301.5L174.5 307.5L192.1 317.3L209.7 329.5L227.2 342.9L280.0 384.0L297.5 397.4L315.1 410.2L332.7 421.7"/>
<path d="M51.5 316.2L139.4 316.4L156.9 316.8L174.5 318.1L192.1 321.3L209.7 327.8L227.2 337.5L244.8 349.1L297.5 386.4L315.1 398.6L332.7 410.3"/>
<path d="M51.5 277.0L86.7 277.1L104.2 277.4L121.8 278.5L139.4 281.2L156.9 286.8L174.5 295.5L192.1 306.1L209.7 317.4L297.5 375.9L315.1 387.5L332.7 398.8"/>
<path d="M51.5 324.7L121.8 324.9L139.4 325.4L156.9 326.6L174.5 329.8L192.1 335.8L209.7 344.4L227.2 354.5L280.0 386.5L297.5 397.1L315.1 407.2L332.7 416.6"/>
<path d="M51.5 290.8L139.4 290.9L156.9 291.2L174.5 292.0L192.1 294.2L209.7 299.5L227.2 308.9L244.8 321.4L262.4 335.6L315.1 379.9L332.7 394.5"/>
<path d="M51.5 307.0L104.2 307.3L121.8 307.9L139.4 309.7L156.9 314.2L174.5 322.3L192.1 333.5L209.7 346.3L262.4 386.5L280.0 399.5L297.5 411.9L315.1 423.0L332.7 431.7"/>
<path d="M51.5 269.6L121.8 269.7L139.4 270.0L156.9 270.8L174.5 273.0L192.1 277.9L209.7 286.2L227.2 297.0L244.8 309.0L332.7 371.3"/>
<path d="M51.5 331.1L156.9 331.2L174.5 331.5L192.1 332.5L209.7 335.1L227.2 340.5L244.8 348.9L262.4 359.2L315.1 392.8L332.7 403.8"/>
<path d="M51.5 289.5L86.7 289.7L104.2 290.2L121.8 291.6L139.4 295.0L156.9 301.3L174.5 310.1L192.1 320.1L297.5 384.1L315.1 394.5L332.7 404.7"/>
<path d="M51.5 309.9L104.2 310.0L121.8 310.3L139.4 311.2L156.9 313.7L174.5 319.3L192.1 328.9L209.7 341.5L227.2 355.4L262.4 384.3L280.0 398.4L297.5 411.8L315.1 423.6L332.7 432.7"/>
<path d="M51.5 272.2L139.4 272.3L156.9 272.7L174.5 273.8L192.1 276.6L209.7 282.8L227.2 292.4L244.8 304.4L262.4 317.3L332.7 370.6"/>
<path d="M51.5 321.6L86.7 321.7L104.2 322.0L121.8 322.9L139.4 325.3L156.9 330.5L174.5 339.1L192.1 349.9L209.7 361.6L244.8 385.8L262.4 397.7L280.0 409.0L297.5 419.4L315.1 428.2L332.7 434.8"/>
<path d="M51.5 284.0L121.8 284.2L139.4 284.6L156.9 285.7L174.5 288.5L192.1 294.2L209.7 302.8L227.2 313.1L244.8 324.2L332.7 380.8"/>
<path d="M51.5 299.4L156.9 299.6L174.5 300.1L192.1 301.4L209.7 304.6L227.2 310.7L244.8 319.3L262.4 329.1L332.7 371.1"/>
<path d="M51.5 267.9L104.2 268.2L121.8 268.7L139.4 270.3L156.9 274.3L174.5 282.2L192.1 293.5L209.7 306.8L227.2 320.8L297.5 378.2L315.1 392.3L332.7 405.8"/>
<path d="M51.5 330.6L121.8 330.7L139.4 330.9L156.9 331.6L174.5 333.5L192.1 338.0L209.7 346.1L227.2 357.1L244.8 369.4L280.0 394.9L297.5 407.1L315.1 418.4L332.7 428.0"/>
<path d="M51.5 294.5L156.9 294.6L174.5 294.9L192.1 295.7L209.7 298.0L227.2 303.0L244.8 311.3L262.4 321.8L280.0 333.4L332.7 369.5"/>
<path d="M51.5 314.1L86.7 314.3L104.2 314.7L121.8 315.9L139.4 319.0L156.9 325.0L174.5 333.7L192.1 344.0L262.4 388.1L280.0 398.9L297.5 409.2L315.1 418.8L332.7 427.0"/>
<path d="M51.5 276.1L121.8 276.3L139.4 276.8L156.9 278.3L174.5 281.8L192.1 288.2L209.7 296.8L227.2 306.6L332.7 369.1"/>
<path d="M51.5 324.6L139.4 324.7L156.9 325.0L174.5 325.9L192.1 328.5L209.7 334.2L227.2 343.7L244.8 356.0L262.4 369.4L297.5 396.8L315.1 409.8L332.7 421.5"/>
<path d="M51.5 285.0L86.7 285.1L104.2 285.4L121.8 286.1L139.4 288.2L156.9 293.0L174.5 301.4L192.1 312.5L209.7 324.7L297.5 388.8L315.1 401.2L332.7 412.8"/>
<path d="M51.5 306.7L69.1 307.1L86.7 308.2L104.2 311.3L121.8 317.4L139.4 326.5L156.9 337.3L227.2 384.3L244.8 395.8L262.4 407.0L280.0 417.3L297.5 426.2L315.1 433.2L332.7 438.0"/>
<path d="M51.5 269.9L156.9 270.0L174.5 270.4L192.1 271.6L209.7 274.4L227.2 280.2L244.8 288.7L262.4 298.9L297.5 320.6L332.7 342.8"/>
<path d="M51.5 323.8L104.2 323.9L121.8 324.3L139.4 325.2L156.9 327.7L174.5 332.7L192.1 340.4L209.7 349.7L280.0 390.1L297.5 400.0L315.1 409.4L332.7 418.2"/>
<path d="M51.5 291.6L121.8 291.7L139.4 291.9L156.9 292.5L174.5 294.3L192.1 298.8L209.7 307.4L227.2 319.6L244.8 333.7L297.5 378.7L315.1 393.5L332.7 407.7"/>
<path d="M51.5 313.0L156.9 313.1L174.5 313.4L192.1 314.2L209.7 316.3L227.2 321.3L244.8 330.1L262.4 341.8L280.0 354.9L332.7 395.4"/>
<path d="M51.5 269.6L86.7 269.9L104.2 270.6L121.8 272.4L139.4 276.8L156.9 284.7L174.5 295.3L192.1 307.3L297.5 382.9L315.1 395.2L332.7 407.0"/>
<path d="M51.5 319.3L104.2 319.4L121.8 319.7L139.4 320.5L156.9 322.7L174.5 327.6L192.1 335.7L209.7 345.9L227.2 357.1L280.0 391.6L297.5 402.7L315.1 413.2L332.7 422.6"/>
<path d="M51.5 288.5L139.4 288.7L156.9 289.0L174.5 290.0L192.1 292.6L209.7 298.0L227.2 306.1L244.8 316.0L262.4 326.5L332.7 369.8"/>
<path d="M51.5 299.4L86.7 299.6L104.2 300.0L121.8 301.2L139.4 304.5L156.9 311.3L174.5 322.2L192.1 335.5L209.7 349.8L244.8 379.3L262.4 393.8L280.0 407.7L297.5 420.3L315.1 430.5L332.7 437.3"/>
<path d="M51.5 260.5L121.8 260.7L139.4 261.2L156.9 262.7L174.5 266.4L192.1 273.7L209.7 284.3L227.2 296.8L244.8 310.1L332.7 377.8"/>
<path d="M51.5 331.8L139.4 331.9L156.9 332.1L174.5 332.7L192.1 334.5L209.7 338.7L227.2 346.3L244.8 356.6L262.4 368.2L297.5 392.4L315.1 404.2L332.7 415.2"/>
<path d="M51.5 292.1L104.2 292.3L121.8 292.8L139.4 294.3L156.9 297.9L174.5 304.5L192.1 313.9L209.7 324.6L297.5 381.8L315.1 393.0L332.7 403.9"/>
<path d="M51.5 314.5L121.8 314.6L139.4 314.8L156.9 315.4L174.5 317.1L192.1 321.2L209.7 328.2L227.2 337.3L244.8 347.5L315.1 389.7L332.7 400.0"/>
<path d="M51.5 276.1L156.9 276.3L174.5 276.7L192.1 277.8L209.7 280.9L227.2 287.5L244.8 297.9L262.4 310.9L280.0 325.0L332.7 368.6"/>
<path d="M51.5 325.6L86.7 325.8L104.2 326.4L121.8 328.0L139.4 332.0L156.9 339.6L174.5 350.3L192.1 362.7L227.2 388.6L244.8 401.3L262.4 413.3L280.0 423.9L297.5 432.3L315.1 437.9L332.7 441.1"/>
<path d="M51.5 286.3L104.2 286.4L121.8 286.6L139.4 287.3L156.9 289.2L174.5 293.7L192.1 301.6L209.7 312.0L227.2 323.6L315.1 384.5L332.7 396.4"/>
<path d="M51.5 301.7L139.4 301.8L156.9 302.1L174.5 303.0L192.1 305.3L209.7 310.2L227.2 318.3L244.8 328.3L262.4 339.2L332.7 384.2"/>
<path d="M51.5 267.2L86.7 267.3L104.2 267.5L121.8 268.2L139.4 270.1L156.9 274.5L174.5 281.6L192.1 290.8L209.7 301.0L332.7 374.8"/>
<path d="M51.5 327.6L121.8 327.8L139.4 328.2L156.9 329.5L174.5 332.8L192.1 339.8L209.7 350.4L227.2 363.3L262.4 390.9L280.0 404.5L297.5 417.0L315.1 427.6L332.7 435.3"/>
<path d="M51.5 295.5L139.4 295.6L156.9 295.8L174.5 296.3L192.1 297.8L209.7 301.6L227.2 308.9L244.8 319.4L262.4 331.5L332.7 383.3"/>
<path d="M51.5 310.4L104.2 310.6L121.8 311.0L139.4 312.3L156.9 315.5L174.5 321.9L192.1 331.2L209.7 342.3L280.0 389.7L297.5 401.2L315.1 412.2L332.7 422.0"/>
<path d="M51.5 275.6L121.8 275.7L139.4 275.9L156.9 276.4L174.5 277.9L192.1 281.6L209.7 288.3L227.2 297.5L244.8 308.0L332.7 363.7"/>
<path d="M51.5 317.1L86.7 317.4L104.2 318.0L121.8 319.6L139.4 323.5L156.9 330.2L174.5 339.1L192.1 349.0L262.4 390.0L280.0 400.0L297.5 409.5L315.1 418.4L332.7 426.1"/>
<path d="M51.5 283.6L86.7 283.9L104.2 284.3L121.8 285.7L139.4 289.4L156.9 296.6L174.5 307.4L192.1 320.3L209.7 334.0L262.4 376.0L280.0 389.8L297.5 403.2L315.1 415.6L332.7 426.3"/>
<path d="M51.5 299.6L104.2 299.7L121.8 299.9L139.4 300.5L156.9 302.2L174.5 306.3L192.1 313.9L209.7 324.4L227.2 336.5L297.5 387.4L315.1 399.7L332.7 411.5"/>
<path d="M51.5 265.8L139.4 265.9L156.9 266.2L174.5 266.9L192.1 268.9L209.7 273.5L227.2 281.4L244.8 291.6L262.4 302.9L332.7 350.3"/>
<path d="M51.5 326.2L104.2 326.5L121.8 327.1L139.4 328.7L156.9 332.7L174.5 339.6L192.1 348.9L209.7 359.3L262.4 391.7L280.0 402.2L297.5 412.1L315.1 421.2L332.7 428.8"/>
<path d="M51.5 296.1L121.8 296.2L139.4 296.4L156.9 297.2L174.5 299.2L192.1 303.6L209.7 310.8L227.2 319.8L244.8 329.7L332.7 380.8"/>
<path d="M51.5 311.6L139.4 311.7L156.9 311.8L174.5 312.3L192.1 313.8L209.7 317.5L227.2 325.1L244.8 336.6L262.4 350.3L315.1 394.5L332.7 408.6"/>
<path d="M51.5 269.4L104.2 269.6L121.8 270.0L139.4 271.2L156.9 274.3L174.5 280.8L192.1 290.9L209.7 303.3L227.2 316.6L315.1 385.1L332.7 398.4"/>
<path d="M51.5 320.6L139.4 320.8L156.9 321.3L174.5 322.7L192.1 326.3L209.7 333.2L227.2 343.2L244.8 354.8L297.5 391.8L315.1 403.8L332.7 415.0"/>
<path d="M51.5 286.2L156.9 286.3L174.5 286.5L192.1 287.1L209.7 288.8L227.2 292.9L244.8 300.1L262.4 309.8L280.0 320.8L332.7 355.6"/>
<path d="M51.5 301.4L86.7 301.6L104.2 302.1L121.8 303.6L139.4 307.2L156.9 313.8L174.5 322.8L192.1 332.9L280.0 386.6L297.5 397.0L315.1 407.1L332.7 416.5"/>
<path d="M51.5 263.8L104.2 263.9L121.8 264.3L139.4 265.2L156.9 267.9L174.5 273.8L192.1 283.8L209.7 296.7L227.2 310.9L315.1 384.7L332.7 399.0"/>
<path d="M51.5 323.8L139.4 324.0L156.9 324.4L174.5 325.5L192.1 328.6L209.7 335.0L227.2 345.0L244.8 357.1L297.5 396.4L315.1 408.9L332.7 420.3"/>
<path d="M51.5 293.2L86.7 293.3L104.2 293.7L121.8 294.6L139.4 297.2L156.9 302.7L174.5 311.5L192.1 322.5L209.7 334.5L280.0 383.8L297.5 395.8L315.1 407.4L332.7 418.1"/>
<path d="M51.5 306.8L121.8 307.0L139.4 307.4L156.9 308.6L174.5 311.5L192.1 317.5L209.7 326.4L227.2 336.8L315.1 393.3L332.7 404.2"/>
<path d="M51.5 275.2L139.4 275.2L156.9 275.4L174.5 275.9L192.1 277.3L209.7 280.7L227.2 287.1L244.8 295.8L262.4 305.8L332.7 348.3"/>
<path d="M51.5 312.4L104.2 312.6L121.8 313.2L139.4 315.0L156.9 319.2L174.5 327.4L192.1 339.1L209.7 352.6L262.4 395.2L280.0 408.7L297.5 420.9L315.1 430.7L332.7 437.4"/>
<path d="M51.5 279.6L121.8 279.7L139.4 279.9L156.9 280.7L174.5 282.7L192.1 287.5L209.7 295.9L227.2 307.1L244.8 319.7L332.7 385.7"/>
<path d="M51.5 299.1L156.9 299.2L174.5 299.5L192.1 300.4L209.7 302.9L227.2 308.1L244.8 316.7L262.4 327.5L280.0 339.2L332.7 375.6"/>
<path d="M51.5 333.4L86.7 333.6L104.2 334.0L121.8 335.3L139.4 338.6L156.9 344.8L174.5 353.8L192.1 364.2L244.8 397.1L262.4 407.6L280.0 417.3L297.5 425.9L315.1 432.7L332.7 437.5"/>
<path d="M51.5 332.1L121.8 332.3L139.4 332.9L156.9 334.5L174.5 338.1L192.1 344.7L209.7 353.5L227.2 363.4L280.0 394.3L297.5 404.2L315.1 413.6L332.7 422.1"/>
<path d="M51.5 299.0L139.4 299.1L156.9 299.4L174.5 300.5L192.1 303.2L209.7 309.2L227.2 319.1L244.8 331.6L262.4 345.3L315.1 387.6L332.7 401.3"/>
<path d="M51.5 312.1L69.1 313.7L86.7 317.8L104.2 325.3L121.8 335.9L139.4 348.1L192.1 386.6L209.7 399.1L227.2 411.1L244.8 421.8L262.4 430.5L280.0 436.7L297.5 440.4L315.1 442.4L332.7 443.3"/>
<path d="M51.5 278.5L121.8 278.7L139.4 279.0L156.9 280.0L174.5 282.7L192.1 288.3L209.7 297.0L227.2 307.8L244.8 319.4L332.7 379.3"/>
<path d="M51.5 327.8L156.9 328.0L174.5 328.4L192.1 329.6L209.7 332.7L227.2 338.7L244.8 347.4L262.4 357.7L315.1 390.3L332.7 401.0"/>
<path d="M51.5 284.1L104.2 284.3L121.8 284.7L139.4 285.7L156.9 288.3L174.5 293.6L192.1 301.5L209.7 311.0L332.7 383.2"/>
<path d="M51.5 302.2L121.8 302.3L139.4 302.5L156.9 303.2L174.5 304.9L192.1 309.3L209.7 317.5L227.2 328.9L244.8 342.0L297.5 383.4L315.1 397.0L332.7 409.9"/>
<path d="M51.5 266.1L156.9 266.2L174.5 266.4L192.1 267.2L209.7 269.3L227.2 274.2L244.8 282.6L262.4 293.6L280.0 305.8L332.7 344.1"/>
<path d="M51.5 327.4L86.7 327.5L104.2 327.9L121.8 329.0L139.4 331.9L156.9 337.8L174.5 346.7L192.1 357.4L244.8 392.0L262.4 403.2L280.0 413.8L297.5 423.2L315.1 430.9L332.7 436.5"/>
<path d="M51.5 293.7L121.8 293.9L139.4 294.4L156.9 295.8L174.5 299.1L192.1 305.4L209.7 314.3L227.2 324.5L332.7 389.8"/>
<path d="M51.5 308.1L139.4 308.2L156.9 308.4L174.5 309.0L192.1 310.6L209.7 314.4L227.2 321.0L244.8 329.7L262.4 339.5L332.7 380.1"/>
<path d="M51.5 269.4L86.7 269.5L104.2 269.7L121.8 270.5L139.4 272.6L156.9 277.8L174.5 287.1L192.1 299.6L209.7 313.8L297.5 388.6L315.1 402.9L332.7 416.3"/>
<path d="M51.5 317.6L121.8 317.7L139.4 318.0L156.9 319.0L174.5 321.5L192.1 327.1L209.7 336.5L227.2 348.4L244.8 361.5L280.0 388.4L297.5 401.5L315.1 413.8L332.7 424.6"/>
<path d="M51.5 279.1L156.9 279.3L174.5 279.7L192.1 280.8L209.7 283.7L227.2 289.9L244.8 299.2L262.4 310.6L280.0 322.8L332.7 360.4"/>
<path d="M51.5 302.7L104.2 302.8L121.8 303.1L139.4 304.0L156.9 306.5L174.5 311.8L192.1 320.2L209.7 330.5L227.2 341.7L297.5 387.8L315.1 398.9L332.7 409.6"/>
<path d="M51.5 262.0L139.4 262.2L156.9 262.6L174.5 263.7L192.1 266.6L209.7 272.3L227.2 280.7L244.8 290.6L332.7 344.4"/>
<path d="M51.5 328.8L156.9 328.9L174.5 329.1L192.1 329.8L209.7 331.9L227.2 336.7L244.8 345.6L262.4 357.8L280.0 371.6L315.1 400.0L332.7 413.3"/>
<path d="M51.5 297.4L86.7 297.7L104.2 298.4L121.8 300.5L139.4 305.3L156.9 313.9L174.5 325.2L192.1 338.0L262.4 391.2L280.0 403.9L297.5 415.8L315.1 426.1L332.7 433.9"/>
<path d="M51.5 316.0L104.2 316.1L121.8 316.4L139.4 317.3L156.9 319.8L174.5 325.1L192.1 333.8L209.7 344.7L227.2 356.5L280.0 393.0L297.5 404.7L315.1 415.6L332.7 425.1"/>
<path d="M51.5 277.3L139.4 277.4L156.9 277.8L174.5 278.9L192.1 281.8L209.7 287.6L227.2 296.3L244.8 306.7L262.4 317.8L332.7 363.5"/>
<path d="M51.5 321.5L86.7 321.6L104.2 321.9L121.8 322.8L139.4 325.2L156.9 330.3L174.5 338.1L192.1 347.7L262.4 389.4L280.0 399.6L297.5 409.4L315.1 418.4L332.7 426.3"/>
<path d="M51.5 283.9L121.8 284.2L139.4 284.7L156.9 286.4L174.5 290.5L192.1 298.4L209.7 309.9L227.2 323.3L244.8 337.5L297.5 380.7L315.1 394.8L332.7 408.3"/>
<path d="M51.5 303.8L139.4 303.9L156.9 304.1L174.5 304.8L192.1 306.7L209.7 311.3L227.2 319.6L244.8 330.6L262.4 343.1L315.1 382.3L332.7 395.2"/>
<path d="M51.5 266.7L104.2 266.9L121.8 267.5L139.4 269.1L156.9 273.0L174.5 280.2L192.1 290.2L209.7 301.6L332.7 386.4"/>
<path d="M51.5 326.6L69.1 326.9L86.7 327.9L104.2 330.4L121.8 335.7L139.4 344.0L156.9 354.1L227.2 397.9L244.8 408.4L262.4 418.0L280.0 426.4L297.5 433.1L315.1 437.7L332.7 440.6"/>
<path d="M51.5 289.3L156.9 289.4L174.5 289.7L192.1 290.6L209.7 292.9L227.2 297.7L244.8 305.3L262.4 314.7L280.0 324.9L332.7 356.3"/>
<path d="M51.5 306.6L86.7 306.9L104.2 307.5L121.8 309.3L139.4 313.7L156.9 322.0L174.5 333.6L192.1 346.8L244.8 388.8L262.4 402.3L280.0 415.0L297.5 425.9L315.1 434.1L332.7 439.3"/>
<path d="M51.5 270.0L104.2 270.1L121.8 270.4L139.4 271.2L156.9 273.3L174.5 278.2L192.1 286.7L209.7 297.9L227.2 310.2L315.1 375.0L332.7 387.8"/>
<path d="M51.5 317.2L139.4 317.3L156.9 317.6L174.5 318.6L192.1 321.1L209.7 326.5L227.2 335.1L244.8 345.8L262.4 357.3L315.1 392.6L332.7 404.0"/>
<path d="M51.5 279.7L86.7 279.8L104.2 280.1L121.8 280.9L139.4 283.0L156.9 287.7L174.5 295.4L192.1 305.1L209.7 315.8L315.1 382.2L332.7 393.0"/>
<path d="M51.5 299.7L121.8 299.8L139.4 300.1L156.9 301.1L174.5 303.6L192.1 308.7L209.7 316.5L227.2 325.9L332.7 387.4"/>
<path d="M51.5 333.7L139.4 333.8L156.9 334.0L174.5 334.5L192.1 336.2L209.7 340.4L227.2 348.4L244.8 359.6L262.4 372.5L297.5 399.3L315.1 411.9L332.7 423.2"/>
<path d="M51.5 333.1L104.2 333.3L121.8 333.8L139.4 335.2L156.9 338.7L174.5 345.6L192.1 355.6L209.7 367.3L244.8 392.0L262.4 404.1L280.0 415.4L297.5 425.3L315.1 433.0L332.7 438.2"/>
<path d="M51.5 291.6L121.8 291.7L139.4 291.9L156.9 292.5L174.5 294.2L192.1 298.2L209.7 305.4L227.2 315.2L244.8 326.3L332.7 384.9"/>
<path d="M51.5 313.6L156.9 313.8L174.5 314.0L192.1 314.7L209.7 316.7L227.2 321.2L244.8 328.7L262.4 338.2L280.0 348.7L332.7 381.2"/>
<path d="M51.5 276.3L86.7 276.4L104.2 276.8L121.8 277.9L139.4 280.6L156.9 286.0L174.5 293.9L192.1 303.3L332.7 384.6"/>
<path d="M51.5 324.4L104.2 324.6L121.8 324.8L139.4 325.5L156.9 327.6L174.5 332.5L192.1 341.5L209.7 353.9L227.2 367.9L262.4 396.9L280.0 410.7L297.5 422.9L315.1 432.4L332.7 438.5"/>
<path d="M51.5 286.8L139.4 286.9L156.9 287.2L174.5 288.1L192.1 290.5L209.7 295.9L227.2 305.1L244.8 317.0L262.4 330.0L332.7 384.2"/>
<path d="M51.5 304.1L86.7 304.2L104.2 304.4L121.8 305.1L139.4 307.1L156.9 311.7L174.5 319.8L192.1 330.5L209.7 342.3L280.0 391.8L297.5 403.7L315.1 414.8L332.7 424.6"/>
<path d="M51.5 267.6L121.8 267.7L139.4 268.0L156.9 268.9L174.5 271.3L192.1 276.4L209.7 284.6L227.2 294.9L244.8 306.0L332.7 363.9"/>
<path d="M51.5 328.7L156.9 328.9L174.5 329.3L192.1 330.4L209.7 333.1L227.2 338.7L244.8 346.9L262.4 356.7L315.1 388.3L332.7 398.6"/>
<path d="M51.5 293.2L104.2 293.4L121.8 293.8L139.4 295.1L156.9 298.6L174.5 305.7L192.1 316.7L209.7 329.9L227.2 344.2L280.0 387.9L297.5 402.0L315.1 415.1L332.7 426.3"/>
<path d="M51.5 308.9L121.8 309.0L139.4 309.2L156.9 309.7L174.5 311.3L192.1 315.2L209.7 322.7L227.2 333.4L244.8 345.9L297.5 385.4L315.1 398.4L332.7 410.7"/>
<path d="M51.5 271.9L156.9 272.0L174.5 272.2L192.1 272.9L209.7 274.8L227.2 279.2L244.8 287.0L262.4 297.4L280.0 309.1L332.7 345.9"/>
<path d="M51.5 317.0L86.7 317.3L104.2 317.9L121.8 319.5L139.4 323.4L156.9 330.4L174.5 340.0L192.1 350.7L244.8 384.4L262.4 395.5L280.0 406.2L297.5 416.1L315.1 424.9L332.7 432.0"/>
<path d="M51.5 278.7L104.2 278.8L121.8 279.1L139.4 279.8L156.9 281.8L174.5 286.1L192.1 293.4L209.7 302.7L227.2 312.9L332.7 376.4"/>
<path d="M51.5 300.6L69.1 300.9L86.7 301.6L104.2 303.8L121.8 308.8L139.4 317.8L156.9 329.9L174.5 343.5L227.2 386.2L244.8 400.1L262.4 413.2L280.0 424.6L297.5 433.3L315.1 438.9L332.7 441.8"/>
<path d="M51.5 267.4L86.7 267.6L104.2 267.9L121.8 269.0L139.4 271.8L156.9 277.8L174.5 287.4L192.1 299.1L209.7 311.9L297.5 377.6L315.1 390.6L332.7 403.1"/>
<path d="M51.5 330.0L121.8 330.2L139.4 330.6L156.9 331.9L174.5 335.2L192.1 341.6L209.7 351.1L227.2 362.2L280.0 397.5L297.5 408.7L315.1 419.0L332.7 427.8"/>
<path d="M51.5 297.0L139.4 297.0L156.9 297.2L174.5 297.8L192.1 299.3L209.7 303.1L227.2 309.9L244.8 319.2L262.4 329.7L332.7 374.4"/>
<path d="M51.5 314.1L104.2 314.3L121.8 314.8L139.4 316.1L156.9 319.3L174.5 325.3L192.1 333.7L209.7 343.5L280.0 384.8L297.5 395.0L315.1 404.8L332.7 414.1"/>
<path d="M51.5 272.3L121.8 272.4L139.4 272.7L156.9 273.5L174.5 275.8L192.1 281.0L209.7 290.2L227.2 302.3L244.8 315.7L332.7 386.1"/>
<path d="M51.5 319.2L156.9 319.4L174.5 319.7L192.1 320.7L209.7 323.4L227.2 329.1L244.8 338.4L262.4 349.8L280.0 362.3L315.1 387.7L332.7 400.2"/>
<path d="M51.5 285.2L86.7 285.4L104.2 285.9L121.8 287.3L139.4 290.8L156.9 297.6L174.5 307.2L192.1 318.3L297.5 389.3L315.1 400.7L332.7 411.6"/>
<path d="M51.5 303.5L104.2 303.6L121.8 303.8L139.4 304.4L156.9 306.1L174.5 310.1L192.1 317.2L209.7 326.6L227.2 337.1L297.5 381.0L315.1 391.8L332.7 402.3"/>
<path d="M51.5 265.5L139.4 265.7L156.9 265.9L174.5 266.7L192.1 268.7L209.7 273.2L227.2 280.5L244.8 289.6L262.4 299.5L332.7 340.8"/>
<path d="M51.5 328.9L86.7 329.1L104.2 329.4L121.8 330.3L139.4 332.8L156.9 338.4L174.5 347.8L192.1 359.8L209.7 373.0L244.8 399.8L262.4 412.4L280.0 423.6L297.5 432.3L315.1 438.1L332.7 441.3"/>
<path d="M51.5 287.3L121.8 287.4L139.4 287.8L156.9 288.9L174.5 291.8L192.1 297.9L209.7 307.3L227.2 318.8L244.8 331.2L315.1 381.9L332.7 394.3"/>
<path d="M51.5 307.5L156.9 307.7L174.5 308.2L192.1 309.5L209.7 312.8L227.2 319.3L244.8 328.7L262.4 339.5L332.7 386.0"/>
<path d="M51.5 265.9L104.2 266.1L121.8 266.5L139.4 267.6L156.9 270.4L174.5 276.1L192.1 284.5L209.7 294.5L244.8 316.1L332.7 370.7"/>
<path d="M51.5 318.2L139.4 318.4L156.9 318.9L174.5 320.3L192.1 323.6L209.7 329.6L227.2 338.0L244.8 347.5L315.1 387.7L332.7 397.5"/>
<path d="M51.5 276.9L156.9 277.1L174.5 277.4L192.1 278.3L209.7 281.0L227.2 286.9L244.8 297.1L262.4 310.2L280.0 324.7L332.7 370.1"/>
<path d="M51.5 299.0L86.7 299.2L104.2 299.7L121.8 301.0L139.4 304.5L156.9 311.6L174.5 322.2L192.1 334.8L209.7 348.3L262.4 389.3L280.0 402.5L297.5 414.9L315.1 425.6L332.7 433.7"/>
<path d="M51.5 332.0L121.8 332.3L139.4 332.9L156.9 334.5L174.5 338.5L192.1 345.9L209.7 356.2L227.2 368.0L262.4 392.6L280.0 404.6L297.5 415.8L315.1 425.5L332.7 433.1"/>
<path d="M51.5 262.0L139.4 262.1L156.9 262.4L174.5 263.1L192.1 265.0L209.7 269.5L227.2 277.2L244.8 287.2L262.4 298.4L332.7 345.2"/>
<path d="M51.5 295.0L104.2 295.3L121.8 295.9L139.4 297.5L156.9 301.4L174.5 308.2L192.1 317.3L209.7 327.6L297.5 381.7L315.1 392.3L332.7 402.6"/>
<path d="M51.5 316.0L121.8 316.2L139.4 316.5L156.9 317.6L174.5 320.4L192.1 326.8L209.7 337.1L227.2 350.2L244.8 364.5L280.0 393.6L297.5 407.6L315.1 420.2L332.7 430.5"/>
<path d="M51.5 280.1L156.9 280.3L174.5 280.7L192.1 282.0L209.7 285.3L227.2 292.1L244.8 302.3L262.4 314.7L280.0 327.9L332.7 368.6"/>
<path d="M51.5 325.0L69.1 325.9L86.7 328.5L104.2 333.9L121.8 342.8L139.4 353.8L156.9 365.8L192.1 390.2L209.7 402.1L227.2 413.3L244.8 423.3L262.4 431.4L280.0 437.0L297.5 440.5L315.1 442.4L332.7 443.3"/>
<path d="M51.5 286.4L139.4 286.6L156.9 287.1L174.5 288.3L192.1 291.5L209.7 297.8L227.2 306.9L244.8 317.5L332.7 374.8"/>
<path d="M51.5 305.0L156.9 305.0L174.5 305.2L192.1 305.8L209.7 307.3L227.2 311.0L244.8 317.5L262.4 326.5L280.0 336.6L332.7 368.5"/>
<path d="M51.5 265.6L86.7 266.0L104.2 266.6L121.8 268.6L139.4 273.4L156.9 282.2L174.5 294.3L192.1 308.0L280.0 380.8L297.5 395.1L315.1 408.7L332.7 421.0"/>
<path d="M51.5 327.0L104.2 327.1L121.8 327.4L139.4 328.3L156.9 330.6L174.5 335.9L192.1 344.8L209.7 356.3L227.2 369.0L262.4 395.0L280.0 407.5L297.5 418.9L315.1 428.5L332.7 435.5"/>
<path d="M51.5 297.8L139.4 298.0L156.9 298.4L174.5 299.4L192.1 302.1L209.7 307.9L227.2 316.9L244.8 327.9L262.4 339.8L332.7 388.5"/>
<path d="M51.5 311.3L86.7 311.4L104.2 311.7L121.8 312.6L139.4 314.9L156.9 319.9L174.5 327.9L192.1 338.0L209.7 348.9L262.4 382.6L280.0 393.7L297.5 404.4L315.1 414.5L332.7 423.5"/>
<path d="M51.5 278.0L121.8 278.2L139.4 278.6L156.9 279.6L174.5 282.3L192.1 287.8L209.7 295.9L227.2 305.5L332.7 368.7"/>
<path d="M51.5 320.5L139.4 320.6L156.9 320.8L174.5 321.4L192.1 323.3L209.7 327.8L227.2 336.3L244.8 348.0L262.4 361.4L297.5 389.4L315.1 403.0L332.7 415.8"/>
<path d="M51.5 281.5L104.2 281.7L121.8 282.3L139.4 283.8L156.9 287.6L174.5 294.9L192.1 305.4L209.7 317.5L297.5 382.7L315.1 395.4L332.7 407.7"/>
<path d="M51.5 304.2L121.8 304.3L139.4 304.5L156.9 305.1L174.5 307.0L192.1 311.3L209.7 318.9L227.2 329.0L244.8 340.5L315.1 388.3L332.7 399.9"/>
<path d="M51.5 267.1L156.9 267.2L174.5 267.5L192.1 268.3L209.7 270.4L227.2 275.2L244.8 283.0L262.4 292.9L280.0 303.6L332.7 337.2"/>
<path d="M51.5 330.8L86.7 331.0L104.2 331.4L121.8 332.5L139.4 335.5L156.9 341.2L174.5 349.4L192.1 359.0L244.8 389.6L262.4 399.6L280.0 409.2L297.5 418.1L315.1 425.9L332.7 432.2"/>
<path d="M51.5 295.0L104.2 295.1L121.8 295.3L139.4 296.1L156.9 298.1L174.5 303.0L192.1 311.7L209.7 323.5L227.2 336.8L280.0 378.7L297.5 392.5L315.1 405.8L332.7 418.0"/>
<path d="M51.5 309.3L139.4 309.4L156.9 309.7L174.5 310.6L192.1 313.0L209.7 318.4L227.2 327.2L244.8 338.5L262.4 350.9L315.1 389.1L332.7 401.4"/>
<path d="M51.5 275.3L86.7 275.4L104.2 275.6L121.8 276.3L139.4 278.4L156.9 283.0L174.5 290.8L192.1 301.0L209.7 312.4L315.1 383.5L332.7 395.0"/>
<path d="M51.5 320.7L121.8 320.9L139.4 321.2L156.9 322.1L174.5 324.5L192.1 329.5L209.7 337.5L227.2 347.4L244.8 358.0L297.5 390.6L315.1 401.1L332.7 411.2"/>
<path d="M51.5 281.3L156.9 281.5L174.5 281.9L192.1 283.0L209.7 285.8L227.2 291.3L244.8 299.3L262.4 308.8L332.7 349.7"/>
<path d="M51.5 304.6L104.2 304.9L121.8 305.4L139.4 306.8L156.9 310.6L174.5 318.2L192.1 329.7L209.7 343.5L227.2 358.2L262.4 388.1L280.0 402.5L297.5 416.0L315.1 427.4L332.7 435.5"/>
<path d="M51.5 266.8L121.8 266.9L139.4 267.1L156.9 267.7L174.5 269.4L192.1 273.6L209.7 281.6L227.2 292.8L244.8 305.7L332.7 374.3"/>
<path d="M51.5 328.7L156.9 328.8L174.5 329.0L192.1 329.8L209.7 331.8L227.2 336.6L244.8 344.8L262.4 355.5L280.0 367.5L315.1 392.1L332.7 404.1"/>
<path d="M51.5 289.2L86.7 289.4L104.2 289.7L121.8 290.8L139.4 293.6L156.9 299.3L174.5 308.1L192.1 318.7L209.7 330.0L280.0 376.6L297.5 388.1L315.1 399.3L332.7 410.0"/>
<path d="M51.5 306.1L69.1 306.6L86.7 308.0L104.2 311.5L121.8 318.0L139.4 326.9L156.9 337.0L244.8 390.7L262.4 401.0L280.0 410.9L297.5 420.0L315.1 427.7L332.7 433.8"/>
<path d="M51.5 268.4L139.4 268.5L156.9 268.8L174.5 269.6L192.1 271.9L209.7 277.4L227.2 286.9L244.8 299.5L262.4 313.6L332.7 372.8"/>
<path d="M51.5 317.4L104.2 317.7L121.8 318.4L139.4 320.3L156.9 324.8L174.5 333.1L192.1 344.3L209.7 357.1L262.4 396.7L280.0 409.3L297.5 420.6L315.1 429.9L332.7 436.5"/>
<path d="M51.5 282.1L121.8 282.3L139.4 282.5L156.9 283.4L174.5 285.6L192.1 290.7L209.7 299.1L227.2 309.9L244.8 321.8L332.7 383.7"/>
<path d="M51.5 300.6L156.9 300.8L174.5 301.1L192.1 302.1L209.7 304.8L227.2 310.3L244.8 318.8L262.4 329.2L280.0 340.3L332.7 374.7"/>
<path d="M51.5 265.3L104.2 265.4L121.8 265.7L139.4 266.5L156.9 268.7L174.5 273.5L192.1 281.2L209.7 290.7L227.2 301.0L332.7 365.2"/>
<path d="M51.5 332.0L139.4 332.2L156.9 332.7L174.5 334.2L192.1 338.1L209.7 345.7L227.2 356.9L244.8 370.2L280.0 398.2L297.5 411.5L315.1 423.3L332.7 432.5"/>
<path d="M51.5 292.5L156.9 292.6L174.5 292.8L192.1 293.4L209.7 295.2L227.2 299.6L244.8 307.5L262.4 318.5L280.0 331.0L332.7 370.5"/>
<path d="M51.5 319.1L86.7 319.4L104.2 320.1L121.8 321.9L139.4 326.2L156.9 333.9L174.5 344.2L192.1 355.8L244.8 391.8L262.4 403.4L280.0 414.3L297.5 424.0L315.1 431.7L332.7 437.2"/>
<path d="M51.5 281.9L104.2 282.0L121.8 282.3L139.4 283.1L156.9 285.3L174.5 290.1L192.1 298.0L209.7 308.0L227.2 318.9L332.7 386.5"/>
<path d="M51.5 320.0L139.4 320.1L156.9 320.5L174.5 321.5L192.1 324.0L209.7 329.3L227.2 337.3L244.8 346.9L315.1 388.3L332.7 398.4"/>
<path d="M51.5 289.9L86.7 290.0L104.2 290.4L121.8 291.6L139.4 294.8L156.9 301.5L174.5 312.0L192.1 324.8L209.7 338.7L262.4 381.3L280.0 395.2L297.5 408.6L315.1 420.6L332.7 430.4"/>
<path d="M51.5 304.0L121.8 304.2L139.4 304.7L156.9 306.1L174.5 309.8L192.1 316.9L209.7 327.2L227.2 339.3L297.5 390.8L315.1 403.2L332.7 414.9"/>
<path d="M51.5 270.7L139.4 270.8L156.9 271.0L174.5 271.6L192.1 273.3L209.7 277.5L227.2 284.9L244.8 295.0L262.4 306.3L332.7 354.4"/>
<path d="M51.5 325.9L104.2 326.2L121.8 326.7L139.4 328.1L156.9 331.6L174.5 338.2L192.1 347.3L209.7 357.7L262.4 390.5L280.0 401.1L297.5 411.3L315.1 420.6L332.7 428.4"/>
<path d="M51.5 289.2L121.8 289.3L139.4 289.5L156.9 290.1L174.5 291.8L192.1 295.8L209.7 302.7L227.2 311.6L244.8 321.5L332.7 373.3"/>
<path d="M51.5 308.9L156.9 309.1L174.5 309.5L192.1 310.6L209.7 313.6L227.2 320.0L244.8 330.1L262.4 342.7L280.0 356.2L315.1 383.9L332.7 397.5"/>
<path d="M51.5 270.7L86.7 271.0L104.2 271.5L121.8 273.1L139.4 277.1L156.9 284.5L174.5 294.9L192.1 306.9L297.5 383.6L315.1 396.1L332.7 408.1"/>
<path d="M51.5 318.3L104.2 318.5L121.8 318.7L139.4 319.4L156.9 321.3L174.5 325.7L192.1 333.4L209.7 343.5L227.2 354.7L280.0 389.7L297.5 401.1L315.1 411.8L332.7 421.6"/>
<path d="M51.5 280.5L139.4 280.6L156.9 280.9L174.5 281.7L192.1 284.0L209.7 288.9L227.2 296.8L244.8 306.5L262.4 317.1L332.7 361.1"/>
<path d="M51.5 296.1L86.7 296.2L104.2 296.4L121.8 297.1L139.4 299.0L156.9 303.3L174.5 310.3L192.1 319.3L209.7 329.2L297.5 380.2L332.7 400.1"/>
<path d="M51.5 260.9L121.8 261.1L139.4 261.6L156.9 263.0L174.5 266.5L192.1 273.9L209.7 285.2L227.2 298.9L244.8 313.6L315.1 373.9L332.7 388.7"/>
<path d="M51.5 331.4L69.1 331.6L86.7 332.0L104.2 333.2L121.8 336.4L139.4 343.1L156.9 353.3L174.5 365.6L209.7 392.1L227.2 405.1L244.8 417.1L262.4 427.3L280.0 434.8L297.5 439.5L315.1 442.0L332.7 443.2"/>
<path d="M51.5 295.0L104.2 295.2L121.8 295.6L139.4 297.0L156.9 300.4L174.5 307.1L192.1 316.9L209.7 328.5L297.5 390.8L315.1 402.8L332.7 414.1"/>
<path d="M51.5 312.1L121.8 312.2L139.4 312.4L156.9 312.9L174.5 314.5L192.1 318.4L209.7 325.5L227.2 335.1L244.8 346.1L315.1 391.9L332.7 403.0"/>
<path d="M51.5 275.3L156.9 275.4L174.5 275.7L192.1 276.4L209.7 278.3L227.2 282.7L244.8 290.0L262.4 299.4L280.0 309.7L332.7 342.1"/>
<path d="M51.5 320.6L86.7 320.8L104.2 321.4L121.8 322.9L139.4 326.8L156.9 334.5L174.5 345.9L192.1 359.5L227.2 388.2L244.8 402.4L262.4 415.5L280.0 426.8L297.5 435.0L315.1 439.9L332.7 442.3"/>
<path d="M51.5 285.3L104.2 285.4L121.8 285.6L139.4 286.3L156.9 288.1L174.5 292.4L192.1 300.5L209.7 311.6L227.2 324.3L297.5 377.9L315.1 391.1L332.7 403.9"/>
<path d="M51.5 300.9L139.4 301.1L156.9 301.3L174.5 302.1L192.1 304.2L209.7 309.1L227.2 317.4L244.8 328.1L262.4 339.9L332.7 389.0"/>
<path d="M51.5 265.5L104.2 265.8L121.8 266.5L139.4 268.3L156.9 272.4L174.5 279.8L192.1 289.5L209.7 300.4L332.7 380.4"/>
<path d="M51.5 324.5L121.8 324.7L139.4 324.9L156.9 325.7L174.5 327.8L192.1 332.5L209.7 340.0L227.2 349.4L244.8 359.6L297.5 391.1L315.1 401.3L332.7 411.0"/>
<path d="M51.5 288.6L156.9 288.8L174.5 289.3L192.1 290.7L209.7 294.4L227.2 301.8L244.8 312.9L262.4 326.1L280.0 340.3L332.7 383.5"/>
<path d="M51.5 305.6L104.2 305.8L121.8 306.2L139.4 307.3L156.9 310.4L174.5 316.7L192.1 326.6L209.7 338.5L227.2 351.3L280.0 390.6L297.5 403.2L315.1 415.0L332.7 425.3"/>
<path d="M51.5 272.8L139.4 273.1L156.9 273.6L174.5 275.0L192.1 278.5L209.7 285.2L227.2 294.9L244.8 306.2L332.7 366.9"/>
<path d="M51.5 312.7L156.9 312.8L174.5 313.0L192.1 313.6L209.7 315.2L227.2 319.2L244.8 326.3L262.4 335.8L280.0 346.5L332.7 380.0"/>
<path d="M51.5 278.7L86.7 278.9L104.2 279.4L121.8 280.9L139.4 284.4L156.9 290.9L174.5 299.6L192.1 309.5L315.1 382.9L332.7 393.1"/>
<path d="M51.5 296.8L104.2 296.9L121.8 297.2L139.4 298.2L156.9 300.8L174.5 306.6L192.1 316.3L209.7 328.7L227.2 342.4L280.0 384.7L297.5 398.4L315.1 411.5L332.7 423.1"/>
<path d="M51.5 333.2L139.4 333.4L156.9 333.7L174.5 334.9L192.1 337.9L209.7 344.2L227.2 353.8L244.8 365.5L280.0 390.7L297.5 403.0L315.1 414.7L332.7 424.8"/>
<path d="M51.5 330.4L86.7 330.6L104.2 330.9L121.8 331.8L139.4 334.3L156.9 339.7L174.5 348.3L192.1 359.0L244.8 393.9L262.4 405.2L280.0 415.8L297.5 425.0L315.1 432.4L332.7 437.6"/>
<path d="M51.5 294.4L121.8 294.6L139.4 295.0L156.9 296.2L174.5 299.1L192.1 304.9L209.7 313.6L227.2 323.8L332.7 389.9"/>
<path d="M51.5 313.9L139.4 314.0L156.9 314.1L174.5 314.6L192.1 316.0L209.7 319.4L227.2 325.6L244.8 334.2L262.4 343.9L332.7 384.9"/>
<path d="M51.5 278.1L104.2 278.3L121.8 278.9L139.4 280.6L156.9 284.8L174.5 292.8L192.1 304.1L209.7 317.1L297.5 386.5L315.1 399.9L332.7 412.6"/>
<path d="M51.5 327.2L121.8 327.3L139.4 327.6L156.9 328.3L174.5 330.3L192.1 335.0L209.7 343.2L227.2 354.1L244.8 366.2L280.0 391.2L297.5 403.3L315.1 414.7L332.7 424.7"/>
<path d="M51.5 286.4L156.9 286.5L174.5 286.8L192.1 287.7L209.7 290.1L227.2 295.3L244.8 303.6L262.4 314.1L280.0 325.5L332.7 360.8"/>
<path d="M51.5 307.0L69.1 309.1L86.7 313.7L104.2 321.2L121.8 330.8L139.4 341.3L209.7 384.9L227.2 395.5L244.8 405.8L262.4 415.4L280.0 424.0L297.5 431.1L315.1 436.3L332.7 439.7"/>
<path d="M51.5 269.2L121.8 269.4L139.4 270.0L156.9 271.5L174.5 275.2L192.1 281.6L209.7 290.3L227.2 300.0L332.7 361.3"/>
<path d="M51.5 322.9L139.4 323.1L156.9 323.4L174.5 324.5L192.1 327.4L209.7 333.9L227.2 344.4L244.8 357.6L262.4 371.9L280.0 386.6L297.5 401.0L315.1 414.5L332.7 426.1"/>
<path d="M51.5 295.6L86.7 295.7L104.2 296.0L121.8 296.8L139.4 299.3L156.9 304.7L174.5 313.9L192.1 325.7L209.7 338.8L262.4 379.5L280.0 392.9L297.5 405.8L315.1 417.7L332.7 427.8"/>
<path d="M51.5 309.7L121.8 309.9L139.4 310.2L156.9 311.3L174.5 314.1L192.1 320.0L209.7 329.3L227.2 340.5L244.8 352.7L297.5 389.9L315.1 401.8L332.7 413.2"/>
<path d="M51.5 270.4L156.9 270.6L174.5 271.0L192.1 272.3L209.7 275.6L227.2 281.9L244.8 291.1L262.4 301.8L332.7 348.0"/>
<path d="M51.5 316.9L104.2 317.1L121.8 317.4L139.4 318.5L156.9 321.3L174.5 326.8L192.1 335.1L209.7 344.9L280.0 387.4L297.5 397.8L315.1 407.8L332.7 417.1"/>
<path d="M51.5 279.5L121.8 279.6L139.4 279.8L156.9 280.5L174.5 282.4L192.1 287.1L209.7 295.8L227.2 307.9L244.8 321.7L315.1 380.2L332.7 394.6"/>
<path d="M51.5 303.4L156.9 303.5L174.5 303.8L192.1 304.6L209.7 306.9L227.2 312.1L244.8 321.0L262.4 332.5L280.0 345.3L332.7 385.2"/>
<path d="M51.5 266.0L86.7 266.2L104.2 266.6L121.8 267.8L139.4 270.8L156.9 277.1L174.5 286.5L192.1 297.7L209.7 309.8L315.1 383.7L332.7 395.7"/>
<path d="M51.5 329.1L121.8 329.4L139.4 329.9L156.9 331.3L174.5 334.8L192.1 341.4L209.7 350.7L227.2 361.3L280.0 394.8L297.5 405.5L315.1 415.6L332.7 424.5"/>
<path d="M51.5 294.4L139.4 294.5L156.9 294.7L174.5 295.3L192.1 297.0L209.7 301.0L227.2 308.0L244.8 317.0L262.4 327.2L332.7 369.5"/>
<path d="M51.5 308.3L86.7 308.5L104.2 308.7L121.8 309.4L139.4 311.6L156.9 316.6L174.5 325.6L192.1 337.7L209.7 351.3L262.4 393.9L280.0 407.5L297.5 419.8L315.1 429.8L332.7 436.8"/>
<path d="M51.5 274.8L121.8 275.0L139.4 275.3L156.9 276.2L174.5 278.7L192.1 284.2L209.7 293.3L227.2 304.9L244.8 317.6L332.7 383.4"/>
<path d="M51.5 320.9L156.9 321.0L174.5 321.4L192.1 322.5L209.7 325.4L227.2 331.4L244.8 340.5L262.4 351.5L315.1 387.2L332.7 398.9"/>
<path d="M51.5 283.6L104.2 283.7L121.8 284.0L139.4 284.9L156.9 287.4L174.5 292.6L192.1 300.8L209.7 310.8L227.2 321.7L315.1 377.9L332.7 388.9"/>
<path d="M51.5 303.5L139.4 303.7L156.9 304.1L174.5 305.2L192.1 308.1L209.7 313.7L227.2 321.9L244.8 331.6L332.7 383.5"/>
<path d="M51.5 265.9L156.9 266.0L174.5 266.2L192.1 266.9L209.7 268.9L227.2 273.7L244.8 282.4L262.4 294.2L280.0 307.5L332.7 349.9"/>
<path d="M51.5 327.4L86.7 327.7L104.2 328.3L121.8 330.0L139.4 334.2L156.9 341.9L174.5 352.5L192.1 364.6L227.2 389.9L244.8 402.3L262.4 413.9L280.0 424.2L297.5 432.3L315.1 437.8L332.7 441.0"/>
<path d="M51.5 289.2L104.2 289.3L121.8 289.6L139.4 290.3L156.9 292.4L174.5 297.0L192.1 305.0L209.7 315.3L227.2 326.7L315.1 386.2L332.7 397.8"/>
<path d="M51.5 308.6L139.4 308.7L156.9 309.0L174.5 309.9L192.1 312.4L209.7 317.5L227.2 325.6L244.8 335.5L262.4 346.3L332.7 390.2"/>
<path d="M51.5 270.2L86.7 270.3L104.2 270.6L121.8 271.3L139.4 273.4L156.9 277.8L174.5 285.1L192.1 294.2L209.7 304.2L332.7 376.6"/>
<path d="M51.5 320.1L69.1 320.6L86.7 322.2L104.2 326.2L121.8 333.9L139.4 345.0L156.9 357.9L209.7 398.5L227.2 411.3L244.8 422.7L262.4 431.7L280.0 437.7L297.5 441.1L315.1 442.8L332.7 443.5"/>
<path d="M51.5 283.2L139.4 283.3L156.9 283.5L174.5 284.1L192.1 285.7L209.7 289.7L227.2 297.1L244.8 307.5L262.4 319.4L332.7 370.2"/>
<path d="M51.5 297.3L104.2 297.5L121.8 298.0L139.4 299.3L156.9 302.7L174.5 309.2L192.1 318.5L209.7 329.4L297.5 387.7L315.1 399.1L332.7 409.9"/>
<path d="M51.5 261.1L121.8 261.1L139.4 261.3L156.9 261.9L174.5 263.5L192.1 267.3L209.7 274.2L227.2 283.4L244.8 293.7L332.7 348.3"/>
<path d="M51.5 333.7L156.9 333.8L174.5 334.1L192.1 334.8L209.7 336.7L227.2 341.0L244.8 348.1L262.4 357.0L280.0 366.7L332.7 396.6"/>
<path d="M51.5 295.4L86.7 295.6L104.2 296.2L121.8 297.8L139.4 302.0L156.9 310.1L174.5 321.9L192.1 335.7L209.7 350.3L244.8 380.0L262.4 394.6L280.0 408.6L297.5 421.1L315.1 431.1L332.7 437.8"/>
<path d="M51.5 315.6L104.2 315.7L121.8 315.9L139.4 316.6L156.9 318.5L174.5 323.2L192.1 331.5L209.7 342.9L227.2 355.7L280.0 395.7L297.5 408.4L315.1 420.0L332.7 429.5"/>
<path d="M51.5 272.0L139.4 272.1L156.9 272.4L174.5 273.2L192.1 275.5L209.7 280.7L227.2 289.2L244.8 300.2L262.4 312.2L332.7 362.1"/>
<path d="M51.5 325.9L86.7 326.0L104.2 326.2L121.8 326.9L139.4 328.8L156.9 333.2L174.5 340.8L192.1 350.7L209.7 361.7L262.4 395.6L280.0 406.4L297.5 416.5L315.1 425.3L332.7 432.4"/>
<path d="M51.5 281.9L121.8 282.0L139.4 282.3L156.9 283.2L174.5 285.4L192.1 290.3L209.7 298.1L227.2 307.7L244.8 318.0L332.7 371.7"/>
<path d="M51.5 305.9L139.4 305.9L156.9 306.1L174.5 306.6L192.1 308.2L209.7 312.1L227.2 319.9L244.8 331.3L262.4 344.8L315.1 388.0L332.7 402.1"/>
<path d="M51.5 266.4L104.2 266.6L121.8 267.0L139.4 268.2L156.9 271.5L174.5 278.2L192.1 288.3L209.7 300.4L227.2 313.5L315.1 380.3L332.7 393.4"/>
<path d="M51.5 327.6L121.8 327.7L139.4 327.8L156.9 328.4L174.5 329.9L192.1 333.6L209.7 340.6L227.2 350.5L244.8 362.0L297.5 397.9L315.1 409.3L332.7 419.7"/>
<path d="M51.5 291.1L156.9 291.2L174.5 291.4L192.1 292.1L209.7 293.9L227.2 298.1L244.8 305.4L262.4 315.1L280.0 325.9L332.7 359.9"/>
<path d="M51.5 306.6L86.7 306.7L104.2 307.1L121.8 308.0L139.4 310.5L156.9 315.7L174.5 323.6L192.1 333.2L280.0 385.5L297.5 395.8L315.1 405.7L332.7 415.1"/>
<path d="M51.5 270.1L104.2 270.2L121.8 270.4L139.4 271.0L156.9 272.7L174.5 276.9L192.1 285.0L209.7 296.5L227.2 309.9L244.8 324.0L315.1 381.5L332.7 395.5"/>
<path d="M51.5 318.5L139.4 318.6L156.9 318.8L174.5 319.5L192.1 321.6L209.7 326.3L227.2 334.6L244.8 345.7L262.4 358.2L297.5 384.0L315.1 396.8L332.7 409.0"/>
<path d="M51.5 283.1L104.2 283.4L121.8 283.9L139.4 285.6L156.9 289.6L174.5 297.0L192.1 307.0L209.7 318.4L297.5 378.7L315.1 390.6L332.7 402.1"/>
<path d="M51.5 294.9L121.8 295.0L139.4 295.2L156.9 296.0L174.5 298.0L192.1 302.5L209.7 310.0L227.2 319.8L244.8 330.5L332.7 386.3"/>
<path d="M51.5 333.1L156.9 333.2L174.5 333.5L192.1 334.4L209.7 336.8L227.2 341.8L244.8 349.4L262.4 358.8L332.7 399.4"/>
<path d="M51.5 329.0L104.2 329.2L121.8 329.5L139.4 330.6L156.9 333.5L174.5 339.8L192.1 349.8L209.7 362.3L244.8 389.6L262.4 403.0L280.0 415.5L297.5 426.3L315.1 434.4L332.7 439.4"/>
<path d="M51.5 293.2L139.4 293.4L156.9 293.9L174.5 295.2L192.1 298.5L209.7 305.2L227.2 315.2L244.8 327.0L262.4 339.6L315.1 378.3L332.7 391.0"/>
<path d="M51.5 310.3L86.7 310.6L104.2 311.1L121.8 312.7L139.4 316.5L156.9 323.5L174.5 333.3L192.1 344.4L262.4 391.4L280.0 402.8L297.5 413.5L315.1 423.1L332.7 430.9"/>
<path d="M51.5 274.0L86.7 274.3L104.2 274.9L121.8 276.6L139.4 280.7L156.9 287.7L174.5 297.1L192.1 307.6L315.1 384.8L332.7 395.5"/>
<path d="M51.5 317.5L104.2 317.6L121.8 317.9L139.4 318.6L156.9 320.7L174.5 325.2L192.1 332.4L209.7 341.5L227.2 351.5L297.5 392.2L315.1 402.0L332.7 411.3"/>
<path d="M51.5 285.5L139.4 285.7L156.9 286.2L174.5 287.5L192.1 291.0L209.7 298.1L227.2 308.7L244.8 321.4L262.4 334.9L315.1 376.4L332.7 390.1"/>
<path d="M51.5 301.7L86.7 301.9L104.2 302.3L121.8 303.4L139.4 306.3L156.9 312.4L174.5 321.8L192.1 333.3L209.7 345.6L262.4 383.4L280.0 395.8L297.5 407.7L315.1 418.6L332.7 427.8"/>
<path d="M51.5 266.7L121.8 266.9L139.4 267.4L156.9 268.7L174.5 272.1L192.1 278.6L209.7 288.0L227.2 298.8L332.7 369.1"/>
<path d="M51.5 321.8L139.4 321.9L156.9 322.1L174.5 322.7L192.1 324.3L209.7 328.2L227.2 335.0L244.8 344.1L262.4 354.4L315.1 386.6L332.7 397.2"/>
<path d="M51.5 284.0L104.2 284.2L121.8 284.7L139.4 286.1L156.9 289.4L174.5 295.4L192.1 303.8L209.7 313.3L332.7 384.3"/>
<path d="M51.5 306.5L121.8 306.7L139.4 307.0L156.9 308.0L174.5 310.6L192.1 316.6L209.7 326.7L227.2 339.8L244.8 354.3L280.0 384.3L297.5 398.9L315.1 412.8L332.7 424.8"/>
<path d="M51.5 268.4L156.9 268.6L174.5 269.0L192.1 270.1L209.7 273.2L227.2 279.6L244.8 289.7L262.4 302.1L280.0 315.5L332.7 356.9"/>
<path d="M51.5 312.5L86.7 312.7L104.2 313.3L121.8 314.9L139.4 318.9L156.9 326.3L174.5 336.7L192.1 348.5L244.8 386.0L262.4 398.2L280.0 409.9L297.5 420.5L315.1 429.3L332.7 435.8"/>
<path d="M51.5 279.4L104.2 279.5L121.8 279.8L139.4 280.5L156.9 282.4L174.5 286.9L192.1 294.6L209.7 304.7L227.2 315.8L332.7 385.7"/>
<path d="M51.5 299.2L139.4 299.3L156.9 299.6L174.5 300.5L192.1 302.8L209.7 307.8L227.2 315.6L244.8 325.3L262.4 335.8L332.7 379.1"/>
<path d="M51.5 331.6L86.7 331.8L104.2 332.1L121.8 333.2L139.4 336.1L156.9 342.4L174.5 352.7L192.1 365.8L227.2 394.3L244.8 408.2L262.4 420.7L280.0 430.8L297.5 437.5L315.1 441.2L332.7 442.9"/>
<path d="M51.5 332.3L121.8 332.6L139.4 333.0L156.9 334.3L174.5 337.6L192.1 344.4L209.7 354.6L227.2 366.9L262.4 393.1L280.0 405.8L297.5 417.6L315.1 427.6L332.7 435.0"/>
<path d="M51.5 297.2L139.4 297.3L156.9 297.4L174.5 298.0L192.1 299.5L209.7 303.3L227.2 310.5L244.8 320.5L262.4 332.2L332.7 381.6"/>
<path d="M51.5 311.9L104.2 312.1L121.8 312.5L139.4 313.8L156.9 317.0L174.5 323.3L192.1 332.3L209.7 343.0L280.0 388.4L297.5 399.5L315.1 410.1L332.7 419.7"/>
<path d="M51.5 277.8L121.8 277.9L139.4 278.1L156.9 278.6L174.5 280.2L192.1 283.8L209.7 290.4L227.2 299.4L244.8 309.5L332.7 363.0"/>
<path d="M51.5 328.2L156.9 328.4L174.5 328.7L192.1 329.7L209.7 332.4L227.2 338.4L244.8 348.4L262.4 361.2L280.0 375.1L297.5 389.2L315.1 403.1L332.7 416.0"/>
<path d="M51.5 286.8L86.7 287.0L104.2 287.5L121.8 288.9L139.4 292.5L156.9 299.6L174.5 310.0L192.1 322.3L209.7 335.3L280.0 388.3L297.5 401.1L315.1 413.2L332.7 423.8"/>
<path d="M51.5 306.0L104.2 306.1L121.8 306.3L139.4 306.9L156.9 308.6L174.5 312.7L192.1 320.2L209.7 330.3L227.2 341.9L297.5 390.3L315.1 402.0L332.7 413.1"/>
<path d="M51.5 265.0L139.4 265.1L156.9 265.4L174.5 266.1L192.1 268.1L209.7 272.7L227.2 280.4L244.8 290.2L262.4 301.1L332.7 346.5"/>
<path d="M51.5 329.6L69.1 330.8L86.7 334.0L104.2 339.9L121.8 348.4L139.4 358.2L192.1 389.3L209.7 399.4L227.2 409.1L244.8 418.2L262.4 426.1L280.0 432.4L297.5 437.1L315.1 440.1L332.7 441.9"/>
<path d="M51.5 292.6L121.8 292.7L139.4 293.1L156.9 294.2L174.5 297.2L192.1 303.6L209.7 313.8L227.2 326.6L244.8 340.4L297.5 383.1L315.1 397.0L332.7 410.2"/>
<path d="M51.5 309.5L156.9 309.8L174.5 310.2L192.1 311.5L209.7 314.9L227.2 321.8L244.8 331.9L262.4 343.9L332.7 395.3"/>
<path d="M51.5 273.2L104.2 273.4L121.8 273.7L139.4 274.8L156.9 277.7L174.5 283.6L192.1 292.6L209.7 303.6L227.2 315.3L315.1 375.6L332.7 387.5"/>
<path d="M51.5 322.8L139.4 323.0L156.9 323.5L174.5 324.8L192.1 328.1L209.7 334.4L227.2 343.4L244.8 353.7L297.5 386.7L315.1 397.5L332.7 407.9"/>
<path d="M51.5 282.7L156.9 282.8L174.5 282.9L192.1 283.5L209.7 285.1L227.2 288.9L244.8 295.5L262.4 304.4L280.0 314.2L332.7 345.4"/>
<path d="M51.5 302.1L86.7 302.4L104.2 303.1L121.8 305.2L139.4 310.1L156.9 318.8L174.5 330.6L192.1 343.9L244.8 385.6L262.4 399.2L280.0 412.0L297.5 423.4L315.1 432.3L332.7 438.2"/>
<path d="M51.5 261.5L104.2 261.6L121.8 261.9L139.4 262.8L156.9 265.2L174.5 270.6L192.1 279.5L209.7 290.8L227.2 303.2L332.7 380.4"/>
<path d="M51.5 325.9L139.4 326.0L156.9 326.4L174.5 327.5L192.1 330.3L209.7 336.2L227.2 345.1L244.8 355.8L297.5 390.6L315.1 401.9L332.7 412.7"/>
<path d="M51.5 296.9L86.7 297.0L104.2 297.3L121.8 298.2L139.4 300.6L156.9 305.7L174.5 313.7L192.1 323.6L209.7 334.2L297.5 388.9L315.1 399.5L332.7 409.7"/>
<path d="M51.5 314.9L121.8 315.1L139.4 315.5L156.9 316.6L174.5 319.4L192.1 324.9L209.7 332.9L227.2 342.4L315.1 393.0L332.7 402.8"/>
<path d="M51.5 277.9L139.4 278.0L156.9 278.3L174.5 279.0L192.1 281.1L209.7 286.2L227.2 295.4L244.8 308.0L262.4 322.3L332.7 382.4"/>
<path d="M51.5 323.4L104.2 323.7L121.8 324.3L139.4 326.0L156.9 330.3L174.5 338.3L192.1 349.4L209.7 362.2L244.8 389.1L262.4 402.2L280.0 414.5L297.5 425.3L315.1 433.5L332.7 438.8"/>
<path d="M51.5 286.7L121.8 286.9L139.4 287.1L156.9 287.8L174.5 289.9L192.1 294.7L209.7 302.9L227.2 313.7L244.8 325.7L332.7 388.4"/>
<path d="M51.5 303.5L156.9 303.6L174.5 303.9L192.1 304.8L209.7 307.3L227.2 312.5L244.8 320.9L262.4 331.2L280.0 342.5L332.7 377.2"/>
<path d="M51.5 264.5L86.7 264.7L104.2 265.1L121.8 266.4L139.4 269.7L156.9 275.8L174.5 284.6L192.1 294.7L332.7 381.1"/>
<path d="M51.5 329.4L104.2 329.6L121.8 329.8L139.4 330.7L156.9 333.0L174.5 338.4L192.1 347.9L209.7 360.5L227.2 374.5L244.8 388.8L262.4 402.9L280.0 416.1L297.5 427.2L315.1 435.3L332.7 440.0"/>
<path d="M51.5 293.2L139.4 293.4L156.9 293.7L174.5 294.7L192.1 297.4L209.7 303.4L227.2 312.9L244.8 324.9L262.4 338.0L315.1 378.3L332.7 391.5"/>
<path d="M51.5 312.3L86.7 312.4L104.2 312.7L121.8 313.5L139.4 315.8L156.9 320.8L174.5 329.3L192.1 340.1L209.7 352.0L262.4 388.7L280.0 400.6L297.5 411.9L315.1 422.1L332.7 430.4"/>
<path d="M51.5 269.0L121.8 269.2L139.4 269.5L156.9 270.5L174.5 273.2L192.1 278.7L209.7 287.2L227.2 297.6L244.8 308.8L332.7 366.2"/>
<path d="M51.5 314.5L156.9 314.7L174.5 315.1L192.1 316.3L209.7 319.4L227.2 325.4L244.8 333.9L262.4 343.8L332.7 385.9"/>
<path d="M51.5 284.0L104.2 284.3L121.8 284.8L139.4 286.3L156.9 290.1L174.5 297.8L192.1 309.1L209.7 322.4L227.2 336.6L280.0 380.1L297.5 394.3L315.1 408.0L332.7 420.3"/>
<path d="M51.5 302.8L69.1 303.1L86.7 304.0L104.2 306.6L121.8 312.2L139.4 321.4L156.9 333.1L174.5 345.9L227.2 385.3L244.8 398.2L262.4 410.4L280.0 421.4L297.5 430.4L315.1 436.7L332.7 440.5"/>
<path d="M51.5 262.0L156.9 262.1L174.5 262.3L192.1 263.1L209.7 265.2L227.2 270.1L244.8 278.3L262.4 288.9L280.0 300.5L332.7 337.1"/>
<path d="M51.5 329.9L86.7 330.1L104.2 330.5L121.8 331.6L139.4 334.5L156.9 340.3L174.5 349.0L192.1 359.3L244.8 392.4L262.4 403.1L280.0 413.3L297.5 422.4L315.1 430.0L332.7 435.7"/>
<path d="M51.5 293.3L121.8 293.6L139.4 294.0L156.9 295.4L174.5 298.7L192.1 305.0L209.7 313.6L227.2 323.4L332.7 386.2"/>
<path d="M51.5 313.5L139.4 313.6L156.9 313.9L174.5 314.8L192.1 317.2L209.7 322.7L227.2 332.2L244.8 344.4L262.4 358.0L297.5 386.1L315.1 399.8L332.7 412.8"/>
<path d="M51.5 275.7L86.7 275.8L104.2 276.0L121.8 276.7L139.4 278.7L156.9 283.4L174.5 291.6L192.1 302.6L209.7 315.0L297.5 380.1L315.1 392.8L332.7 405.2"/>
<path d="M51.5 322.4L121.8 322.5L139.4 322.8L156.9 323.7L174.5 326.0L192.1 331.2L209.7 339.6L227.2 350.2L244.8 361.7L280.0 385.4L297.5 397.0L315.1 408.2L332.7 418.5"/>
<path d="M51.5 287.6L156.9 287.8L174.5 288.1L192.1 289.2L209.7 291.9L227.2 297.5L244.8 306.0L262.4 316.2L297.5 338.1L332.7 360.4"/>
<path d="M51.5 300.5L104.2 300.7L121.8 301.0L139.4 301.9L156.9 304.2L174.5 309.1L192.1 316.7L209.7 326.0L227.2 336.1L315.1 387.7L332.7 397.8"/>
<path d="M51.5 268.0L121.8 268.1L139.4 268.3L156.9 268.8L174.5 270.4L192.1 274.3L209.7 282.0L227.2 293.0L244.8 306.0L262.4 319.7L332.7 375.8"/>
<path d="M51.5 330.2L156.9 330.3L174.5 330.5L192.1 331.1L209.7 333.0L227.2 337.4L244.8 345.4L262.4 356.1L280.0 368.2L315.1 393.1L332.7 405.2"/>
<path d="M51.5 292.0L86.7 292.3L104.2 292.8L121.8 294.5L139.4 298.4L156.9 305.5L174.5 315.3L192.1 326.5L280.0 385.3L297.5 396.8L315.1 407.8L332.7 418.0"/>
<path d="M51.5 312.7L104.2 312.9L121.8 313.1L139.4 313.8L156.9 315.7L174.5 320.1L192.1 327.5L209.7 337.1L227.2 347.6L297.5 391.0L315.1 401.5L332.7 411.5"/>
<path d="M51.5 272.5L139.4 272.7L156.9 273.0L174.5 273.9L192.1 276.2L209.7 281.0L227.2 288.6L244.8 297.8L262.4 307.8L332.7 348.8"/>
<path d="M51.5 316.1L86.7 316.3L104.2 316.7L121.8 317.8L139.4 320.9L156.9 327.6L174.5 338.3L192.1 351.7L209.7 366.2L244.8 395.6L262.4 409.6L280.0 422.0L297.5 431.9L315.1 438.2L332.7 441.6"/>
<path d="M51.5 284.6L121.8 284.8L139.4 285.3L156.9 286.6L174.5 290.2L192.1 297.3L209.7 307.9L227.2 320.4L244.8 333.8L315.1 388.3L332.7 401.5"/>
<path d="M51.5 297.7L139.4 297.8L156.9 297.9L174.5 298.5L192.1 300.2L209.7 304.2L227.2 311.7L244.8 322.0L262.4 333.8L332.7 383.7"/>
<path d="M51.5 332.3L104.2 332.5L121.8 333.0L139.4 334.4L156.9 337.8L174.5 344.3L192.1 353.6L209.7 364.3L262.4 398.2L280.0 408.9L297.5 418.8L315.1 427.3L332.7 433.9"/>
<path d="M51.5 329.2L121.8 329.3L139.4 329.5L156.9 330.0L174.5 331.7L192.1 335.6L209.7 342.4L227.2 351.5L244.8 361.7L297.5 393.4L315.1 403.7L332.7 413.3"/>
<path d="M51.5 295.8L156.9 296.0L174.5 296.3L192.1 297.4L209.7 300.3L227.2 306.7L244.8 317.1L262.4 330.1L280.0 344.3L332.7 388.2"/>
<path d="M51.5 313.5L86.7 313.8L104.2 314.3L121.8 315.8L139.4 319.7L156.9 327.1L174.5 337.8L192.1 350.2L244.8 389.9L262.4 402.8L280.0 414.8L297.5 425.3L315.1 433.3L332.7 438.6"/>
<path d="M51.5 275.6L104.2 275.7L121.8 275.9L139.4 276.6L156.9 278.4L174.5 282.7L192.1 290.5L209.7 300.9L227.2 312.6L332.7 386.5"/>
<path d="M51.5 323.7L69.1 323.9L86.7 324.4L104.2 325.8L121.8 329.4L139.4 336.0L156.9 345.3L174.5 355.9L227.2 389.6L244.8 400.6L262.4 411.0L280.0 420.6L297.5 428.6L315.1 434.8L332.7 438.9"/>
<path d="M51.5 286.8L104.2 287.2L121.8 287.8L139.4 289.6L156.9 293.8L174.5 300.9L192.1 310.1L209.7 320.2L315.1 383.9L332.7 394.3"/>
<path d="M51.5 303.0L121.8 303.2L139.4 303.6L156.9 304.8L174.5 308.0L192.1 314.7L209.7 325.3L227.2 338.3L244.8 352.3L280.0 381.0L297.5 395.1L315.1 408.6L332.7 420.8"/>
<path d="M51.5 266.1L139.4 266.2L156.9 266.3L174.5 266.8L192.1 268.3L209.7 271.9L227.2 279.0L244.8 289.4L262.4 301.6L280.0 314.6L332.7 354.3"/>
<path d="M51.5 324.1L104.2 324.3L121.8 324.7L139.4 325.9L156.9 328.9L174.5 335.1L192.1 344.4L209.7 355.4L262.4 391.1L280.0 402.7L297.5 413.7L315.1 423.4L332.7 431.3"/>
<path d="M51.5 291.3L139.4 291.6L156.9 292.1L174.5 293.5L192.1 297.0L209.7 303.6L227.2 312.7L244.8 323.3L332.7 379.4"/>
<path d="M51.5 302.9L156.9 303.0L174.5 303.2L192.1 303.8L209.7 305.6L227.2 309.5L244.8 316.4L262.4 325.4L280.0 335.4L332.7 366.7"/>
<path d="M51.5 268.0L86.7 268.2L104.2 268.6L121.8 269.9L139.4 273.4L156.9 280.5L174.5 291.2L192.1 304.1L209.7 318.0L280.0 374.8L297.5 388.9L315.1 402.5L332.7 415.2"/>
<path d="M51.5 314.3L121.8 314.5L139.4 315.1L156.9 316.7L174.5 320.6L192.1 328.0L209.7 338.5L227.2 350.7L280.0 389.0L297.5 401.5L315.1 413.2L332.7 423.6"/>
<path d="M51.5 280.9L139.4 281.0L156.9 281.2L174.5 281.9L192.1 283.8L209.7 288.3L227.2 296.0L244.8 306.2L262.4 317.6L332.7 365.4"/>
<path d="M51.5 294.0L104.2 294.3L121.8 294.8L139.4 296.4L156.9 300.2L174.5 307.0L192.1 316.3L209.7 326.8L297.5 382.1L315.1 392.9L332.7 403.4"/>
<path d="M51.5 261.9L121.8 262.0L139.4 262.2L156.9 262.9L174.5 264.8L192.1 269.0L209.7 276.1L227.2 285.2L244.8 295.1L332.7 346.9"/>
<path d="M51.5 328.9L156.9 329.1L174.5 329.5L192.1 330.7L209.7 334.0L227.2 340.8L244.8 351.1L262.4 363.7L297.5 390.7L315.1 404.0L332.7 416.3"/>
<path d="M51.5 293.8L104.2 293.9L121.8 294.3L139.4 295.3L156.9 298.0L174.5 303.8L192.1 313.0L209.7 324.4L227.2 336.8L297.5 387.6L315.1 399.9L332.7 411.6"/>
<path d="M51.5 316.5L139.4 316.7L156.9 317.1L174.5 318.3L192.1 321.5L209.7 327.7L227.2 336.9L244.8 347.7L315.1 394.1L332.7 405.2"/>
<path d="M51.5 278.8L156.9 278.8L174.5 279.0L192.1 279.5L209.7 281.0L227.2 284.6L244.8 291.2L262.4 300.3L280.0 310.6L332.7 343.3"/>
<path d="M51.5 319.6L86.7 319.8L104.2 320.4L121.8 322.0L139.4 325.6L156.9 332.1L174.5 340.7L192.1 350.4L262.4 390.7L280.0 400.5L297.5 409.8L315.1 418.5L332.7 426.1"/>
<path d="M51.5 284.7L104.2 284.9L121.8 285.3L139.4 286.4L156.9 289.3L174.5 295.8L192.1 306.3L209.7 319.5L227.2 334.0L280.0 378.7L297.5 393.4L315.1 407.5L332.7 420.3"/>
<path d="M51.5 305.7L139.4 305.9L156.9 306.3L174.5 307.6L192.1 311.0L209.7 317.9L227.2 328.3L244.8 340.7L262.4 354.0L297.5 381.1L315.1 394.4L332.7 407.2"/>
<path d="M51.5 268.1L86.7 268.3L104.2 268.6L121.8 269.7L139.4 272.5L156.9 278.5L174.5 287.7L192.1 299.0L209.7 311.2L297.5 373.9L315.1 386.2L332.7 398.4"/>
<path d="M51.5 327.8L121.8 328.1L139.4 328.5L156.9 329.8L174.5 333.1L192.1 339.4L209.7 348.6L227.2 359.3L280.0 393.2L297.5 404.2L315.1 414.5L332.7 423.6"/>
<path d="M51.5 293.2L139.4 293.3L156.9 293.5L174.5 294.1L192.1 295.6L209.7 299.4L227.2 306.1L244.8 315.1L262.4 325.3L332.7 368.2"/>
<path d="M51.5 311.1L69.1 312.6L86.7 316.5L104.2 324.3L121.8 335.7L139.4 349.2L192.1 392.4L209.7 406.3L227.2 419.0L244.8 429.4L262.4 436.6L280.0 440.7L297.5 442.7L315.1 443.5L332.7 443.9"/>
<path d="M51.5 274.6L121.8 274.7L139.4 275.0L156.9 275.8L174.5 278.1L192.1 283.3L209.7 292.2L227.2 303.8L244.8 316.6L332.7 383.5"/>
<path d="M51.5 320.0L156.9 320.2L174.5 320.5L192.1 321.5L209.7 324.2L227.2 329.9L244.8 338.9L262.4 349.9L280.0 361.8L315.1 386.1L332.7 398.0"/>
<path d="M51.5 281.3L86.7 281.6L104.2 282.1L121.8 283.5L139.4 287.0L156.9 293.7L174.5 303.0L192.1 313.6L297.5 381.8L315.1 393.0L332.7 403.8"/>
<path d="M51.5 302.8L104.2 302.9L121.8 303.1L139.4 303.8L156.9 305.5L174.5 309.5L192.1 316.4L209.7 325.5L227.2 335.6L315.1 388.3L332.7 398.5"/>
<path d="M51.5 262.4L139.4 262.5L156.9 262.9L174.5 264.1L192.1 267.1L209.7 273.6L227.2 284.0L244.8 296.8L262.4 310.8L332.7 368.5"/>
<path d="M51.5 330.4L86.7 330.5L104.2 330.8L121.8 331.7L139.4 334.2L156.9 339.7L174.5 348.8L192.1 360.4L209.7 373.0L244.8 398.5L262.4 410.6L280.0 421.5L297.5 430.4L315.1 436.7L332.7 440.4"/>
<path d="M51.5 292.2L121.8 292.3L139.4 292.7L156.9 293.8L174.5 296.7L192.1 302.7L209.7 311.9L227.2 322.9L244.8 334.7L315.1 383.0L332.7 394.9"/>
<path d="M51.5 310.2L156.9 310.5L174.5 310.9L192.1 312.3L209.7 315.7L227.2 322.1L244.8 331.1L262.4 341.6L332.7 386.0"/>
<path d="M51.5 272.7L104.2 272.9L121.8 273.3L139.4 274.4L156.9 277.3L174.5 282.9L192.1 291.1L209.7 300.8L332.7 373.9"/>
<path d="M51.5 320.0L121.8 320.1L139.4 320.4L156.9 321.1L174.5 323.1L192.1 327.8L209.7 336.5L227.2 348.3L244.8 361.6L280.0 389.3L297.5 402.8L315.1 415.4L332.7 426.3"/>
<path d="M51.5 283.1L156.9 283.2L174.5 283.5L192.1 284.4L209.7 286.7L227.2 292.0L244.8 300.8L262.4 312.1L280.0 324.6L332.7 363.3"/>
<path d="M51.5 303.4L86.7 303.6L104.2 304.0L121.8 305.3L139.4 308.5L156.9 314.8L174.5 324.0L192.1 335.0L262.4 382.3L280.0 394.0L297.5 405.2L315.1 415.7L332.7 425.0"/>
<path d="M51.5 265.0L121.8 265.3L139.4 265.8L156.9 267.3L174.5 270.9L192.1 277.6L209.7 286.8L227.2 297.2L332.7 363.6"/>
<path d="M51.5 328.0L139.4 328.1L156.9 328.3L174.5 329.0L192.1 330.8L209.7 334.9L227.2 341.8L244.8 350.7L262.4 360.6L315.1 391.0L332.7 400.9"/>
<path d="M51.5 289.8L86.7 289.9L104.2 290.2L121.8 291.0L139.4 293.2L156.9 298.3L174.5 307.2L192.1 319.1L209.7 332.3L280.0 387.5L297.5 400.8L315.1 413.4L332.7 424.4"/>
<path d="M51.5 306.0L121.8 306.1L139.4 306.4L156.9 307.4L174.5 310.0L192.1 315.6L209.7 324.6L227.2 335.9L244.8 348.2L297.5 386.1L315.1 398.4L332.7 410.1"/>
<path d="M51.5 271.0L156.9 271.2L174.5 271.6L192.1 272.7L209.7 275.7L227.2 281.8L244.8 290.8L262.4 301.6L280.0 313.1L332.7 348.4"/>
<path d="M51.5 315.8L104.2 316.0L121.8 316.3L139.4 317.3L156.9 319.8L174.5 325.1L192.1 333.2L209.7 343.1L280.0 386.1L297.5 396.7L315.1 406.9L332.7 416.4"/>
<path d="M51.5 282.4L139.4 282.6L156.9 283.0L174.5 284.2L192.1 287.1L209.7 292.8L227.2 301.0L244.8 310.4L332.7 361.2"/>
<path d="M51.5 295.4L156.9 295.5L174.5 295.8L192.1 296.6L209.7 298.9L227.2 304.2L244.8 313.6L262.4 326.3L280.0 340.4L332.7 384.8"/>
<path d="M51.5 263.0L86.7 263.3L104.2 264.0L121.8 265.9L139.4 270.6L156.9 279.0L174.5 290.3L192.1 303.2L297.5 384.6L315.1 397.8L332.7 410.4"/>
<path d="M51.5 331.3L69.1 332.1L86.7 334.3L104.2 339.3L121.8 347.7L139.4 358.6L156.9 370.4L192.1 394.8L209.7 406.5L227.2 417.3L244.8 426.7L262.4 433.9L280.0 438.6L297.5 441.4L315.1 442.8L332.7 443.5"/>
<path d="M51.5 295.0L139.4 295.2L156.9 295.5L174.5 296.6L192.1 299.3L209.7 304.9L227.2 313.5L244.8 324.0L262.4 335.2L332.7 381.2"/>
<path d="M51.5 311.3L86.7 311.4L104.2 311.7L121.8 312.6L139.4 314.9L156.9 319.7L174.5 327.5L192.1 337.1L209.7 347.4L280.0 390.0L297.5 400.2L315.1 410.1L332.7 419.2"/>
<path d="M51.5 277.5L121.8 277.7L139.4 278.2L156.9 279.8L174.5 283.7L192.1 291.5L209.7 302.9L227.2 316.4L244.8 330.7L297.5 374.6L315.1 389.1L332.7 403.1"/>
<path d="M51.5 324.8L139.4 324.9L156.9 325.1L174.5 325.7L192.1 327.5L209.7 332.0L227.2 340.0L244.8 351.1L262.4 363.6L297.5 389.7L315.1 402.5L332.7 414.5"/>
<path d="M51.5 290.0L104.2 290.2L121.8 290.8L139.4 292.3L156.9 296.0L174.5 303.1L192.1 313.0L209.7 324.5L297.5 385.5L315.1 397.4L332.7 408.8"/>
<path d="M51.5 304.8L121.8 304.9L139.4 305.2L156.9 305.8L174.5 307.6L192.1 311.8L209.7 319.2L227.2 328.9L244.8 339.7L315.1 384.8L332.7 395.9"/>
<path d="M51.5 270.1L156.9 270.2L174.5 270.5L192.1 271.3L209.7 273.4L227.2 278.1L244.8 285.6L262.4 295.0L280.0 305.3L332.7 337.0"/>
<path d="M51.5 326.0L86.7 326.2L104.2 326.8L121.8 328.5L139.4 332.8L156.9 340.9L174.5 352.4L192.1 365.7L227.2 393.6L244.8 407.1L262.4 419.4L280.0 429.5L297.5 436.6L315.1 440.6L332.7 442.6"/>
<path d="M51.5 287.2L104.2 287.3L121.8 287.6L139.4 288.3L156.9 290.3L174.5 295.0L192.1 303.4L209.7 314.5L227.2 327.0L297.5 379.3L315.1 392.2L332.7 404.6"/>
<path d="M51.5 313.7L139.4 313.8L156.9 314.1L174.5 315.0L192.1 317.4L209.7 322.6L227.2 331.1L244.8 341.8L262.4 353.4L315.1 389.3L332.7 400.9"/>
<path d="M51.5 274.9L86.7 275.0L104.2 275.2L121.8 275.9L139.4 277.9L156.9 282.5L174.5 290.0L192.1 299.8L209.7 310.5L315.1 377.7L332.7 388.7"/>
<path d="M51.5 317.3L121.8 317.4L139.4 317.7L156.9 318.6L174.5 321.0L192.1 326.0L209.7 333.7L227.2 343.1L315.1 394.4L332.7 404.2"/>
<path d="M51.5 278.5L139.4 278.6L156.9 278.7L174.5 279.3L192.1 280.9L209.7 284.9L227.2 292.7L244.8 303.9L262.4 317.0L280.0 330.8L332.7 373.1"/>
<path d="M51.5 298.9L104.2 299.1L121.8 299.6L139.4 300.9L156.9 304.2L174.5 310.9L192.1 320.9L209.7 332.8L227.2 345.3L280.0 383.9L297.5 396.4L315.1 408.4L332.7 419.4"/>
<path d="M51.5 262.1L121.8 262.2L139.4 262.4L156.9 262.9L174.5 264.5L192.1 268.3L209.7 275.4L227.2 285.2L244.8 296.4L332.7 355.9"/>
<path d="M51.5 328.3L156.9 328.4L174.5 328.7L192.1 329.3L209.7 331.2L227.2 335.5L244.8 342.9L262.4 352.4L280.0 362.9L332.7 395.3"/>
<path d="M51.5 291.4L86.7 291.6L104.2 291.9L121.8 292.9L139.4 295.5L156.9 300.8L174.5 308.6L192.1 318.0L315.1 389.6L332.7 399.5"/>
<path d="M51.5 307.4L104.2 307.5L121.8 307.7L139.4 308.3L156.9 310.1L174.5 314.4L192.1 322.5L209.7 333.8L227.2 346.8L280.0 387.8L297.5 401.1L315.1 413.6L332.7 424.5"/>
<path d="M51.5 273.0L139.4 273.1L156.9 273.3L174.5 274.1L192.1 276.2L209.7 281.0L227.2 289.3L244.8 300.2L262.4 312.3L332.7 363.1"/>
<path d="M51.5 323.0L104.2 323.3L121.8 323.9L139.4 325.7L156.9 329.8L174.5 337.1L192.1 347.0L209.7 358.0L262.4 392.5L280.0 403.7L297.5 414.1L315.1 423.5L332.7 431.1"/>
<path d="M51.5 284.5L121.8 284.7L139.4 284.9L156.9 285.7L174.5 287.8L192.1 292.4L209.7 299.9L227.2 309.5L244.8 320.0L332.7 374.3"/>
<path d="M51.5 301.4L86.7 301.8L104.2 302.5L121.8 304.6L139.4 309.0L156.9 316.2L174.5 325.2L192.1 335.0L280.0 385.6L297.5 395.4L315.1 405.0L332.7 414.0"/>
<path d="M51.5 266.9L104.2 267.1L121.8 267.5L139.4 268.8L156.9 272.1L174.5 279.2L192.1 290.3L209.7 303.9L227.2 318.6L297.5 379.2L315.1 394.0L332.7 408.2"/>
<path d="M51.5 325.4L139.4 325.7L156.9 326.2L174.5 327.7L192.1 331.5L209.7 339.0L227.2 349.8L244.8 362.5L280.0 389.3L297.5 402.5L315.1 414.8L332.7 425.5"/>
<path d="M51.5 289.3L156.9 289.4L174.5 289.6L192.1 290.2L209.7 292.0L227.2 296.3L244.8 304.1L262.4 314.6L280.0 326.6L332.7 364.3"/>
<path d="M51.5 308.0L86.7 308.3L104.2 308.8L121.8 310.4L139.4 314.2L156.9 321.2L174.5 330.8L192.1 341.8L262.4 388.0L280.0 399.3L297.5 410.0L315.1 419.8L332.7 428.2"/>
<path d="M51.5 268.2L104.2 268.3L121.8 268.5L139.4 269.2L156.9 271.1L174.5 275.4L192.1 282.6L209.7 292.0L227.2 302.4L332.7 367.5"/>
<path d="M51.5 316.5L139.4 316.7L156.9 317.1L174.5 318.4L192.1 321.7L209.7 328.7L227.2 339.5L244.8 352.9L262.4 367.2L297.5 396.3L315.1 410.0L332.7 422.3"/>
<path d="M51.5 281.3L86.7 281.5L104.2 281.8L121.8 282.8L139.4 285.6L156.9 291.5L174.5 301.1L192.1 313.1L209.7 326.1L280.0 380.2L297.5 393.4L315.1 406.2L332.7 418.0"/>
<path d="M51.5 298.9L121.8 299.1L139.4 299.5L156.9 300.7L174.5 303.9L192.1 310.2L209.7 319.8L227.2 331.2L244.8 343.3L297.5 380.4L315.1 392.6L332.7 404.4"/>
<path d="M51.5 260.4L139.4 260.5L156.9 260.7L174.5 261.2L192.1 262.7L209.7 266.3L227.2 273.1L244.8 282.5L262.4 293.2L332.7 339.2"/>
<path d="M51.5 328.5L104.2 328.7L121.8 329.1L139.4 330.4L156.9 333.4L174.5 339.4L192.1 347.9L209.7 357.8L262.4 389.2L280.0 399.5L297.5 409.4L315.1 418.5L332.7 426.4"/>
<path d="M51.5 295.8L121.8 296.0L139.4 296.2L156.9 297.0L174.5 299.2L192.1 304.4L209.7 313.5L227.2 325.8L244.8 339.7L297.5 383.0L315.1 397.2L332.7 410.6"/>
<path d="M51.5 311.5L156.9 311.7L174.5 312.0L192.1 312.9L209.7 315.5L227.2 321.2L244.8 330.4L262.4 342.1L280.0 354.9L332.7 394.2"/>
<path d="M51.5 277.0L86.7 277.2L104.2 277.6L121.8 279.0L139.4 282.4L156.9 289.1L174.5 298.8L192.1 310.1L297.5 383.2L315.1 395.2L332.7 406.6"/>
<path d="M51.5 328.7L104.2 328.8L121.8 329.0L139.4 329.6L156.9 331.2L174.5 335.1L192.1 342.1L209.7 351.6L227.2 362.3L280.0 395.5L297.5 406.1L315.1 416.1L332.7 424.8"/>
<path d="M51.5 286.4L139.4 286.5L156.9 286.7L174.5 287.5L192.1 289.4L209.7 293.8L227.2 301.1L244.8 310.3L262.4 320.4L332.7 362.6"/>
<path d="M51.5 307.5L86.7 307.6L104.2 307.9L121.8 308.8L139.4 311.2L156.9 316.7L174.5 326.2L192.1 338.5L209.7 352.1L262.4 394.3L280.0 407.7L297.5 419.9L315.1 429.9L332.7 436.8"/>
<path d="M51.5 271.9L121.8 272.0L139.4 272.4L156.9 273.4L174.5 276.2L192.1 282.2L209.7 291.7L227.2 303.4L244.8 316.1L332.7 381.4"/>
<path d="M51.5 331.0L156.9 331.2L174.5 331.6L192.1 332.9L209.7 336.1L227.2 342.6L244.8 352.0L262.4 363.0L315.1 398.1L332.7 409.2"/>
<path d="M51.5 287.9L104.2 288.0L121.8 288.4L139.4 289.4L156.9 292.2L174.5 297.8L192.1 306.3L209.7 316.4L227.2 327.3L315.1 383.0L332.7 393.9"/>
<path d="M51.5 313.7L139.4 313.9L156.9 314.4L174.5 315.7L192.1 318.8L209.7 324.8L227.2 333.3L244.8 343.0L315.1 384.2L332.7 394.3"/>
<path d="M51.5 274.8L156.9 274.9L174.5 275.2L192.1 276.0L209.7 278.3L227.2 283.5L244.8 292.7L262.4 304.7L280.0 318.0L332.7 360.1"/>
<path d="M51.5 317.9L69.1 320.0L86.7 324.8L104.2 333.1L121.8 344.1L139.4 356.3L192.1 394.2L209.7 406.3L227.2 417.4L244.8 427.0L262.4 434.3L280.0 439.0L297.5 441.6L315.1 443.0L332.7 443.6"/>
<path d="M51.5 281.2L121.8 281.4L139.4 281.9L156.9 283.3L174.5 286.8L192.1 293.6L209.7 303.1L227.2 314.1L332.7 385.0"/>
<path d="M51.5 304.8L139.4 304.9L156.9 305.1L174.5 305.7L192.1 307.4L209.7 311.4L227.2 318.5L244.8 327.8L262.4 338.2L332.7 381.9"/>
<path d="M51.5 264.5L104.2 264.7L121.8 265.3L139.4 266.7L156.9 270.1L174.5 276.4L192.1 284.9L209.7 294.6L332.7 366.5"/>
<path d="M51.5 332.0L121.8 332.2L139.4 332.5L156.9 333.5L174.5 336.2L192.1 342.3L209.7 352.6L227.2 365.7L262.4 394.5L280.0 408.6L297.5 421.2L315.1 431.3L332.7 437.9"/>
<path d="M51.5 294.6L156.9 294.7L174.5 295.2L192.1 296.4L209.7 299.5L227.2 306.1L244.8 316.3L262.4 328.7L280.0 342.0L332.7 383.0"/>
<path d="M51.5 310.8L104.2 311.0L121.8 311.3L139.4 312.3L156.9 314.9L174.5 320.6L192.1 329.6L209.7 340.8L227.2 353.0L280.0 390.3L297.5 402.3L315.1 413.7L332.7 423.7"/>
<path d="M51.5 277.0L139.4 277.2L156.9 277.6L174.5 278.8L192.1 281.9L209.7 288.0L227.2 297.0L244.8 307.7L280.0 330.6L332.7 365.7"/>
<path d="M51.5 322.4L156.9 322.5L174.5 322.6L192.1 323.2L209.7 324.6L227.2 328.1L244.8 334.6L262.4 343.4L280.0 353.6L332.7 385.6"/>
<path d="M51.5 281.7L86.7 282.1L104.2 282.9L121.8 285.1L139.4 290.3L156.9 299.6L174.5 312.1L192.1 326.1L262.4 385.0L280.0 399.3L297.5 412.8L315.1 424.6L332.7 433.5"/>
<path d="M51.5 307.4L104.2 307.6L121.8 307.9L139.4 308.8L156.9 311.4L174.5 317.2L192.1 326.5L209.7 338.4L227.2 351.4L280.0 391.4L297.5 404.2L315.1 416.1L332.7 426.4"/>
<path d="M51.5 267.4L139.4 267.6L156.9 268.0L174.5 269.1L192.1 272.1L209.7 278.3L227.2 287.7L244.8 299.0L262.4 311.1L332.7 360.8"/>
<path d="M51.5 325.3L86.7 325.4L104.2 325.7L121.8 326.7L139.4 329.2L156.9 334.6L174.5 342.9L192.1 353.2L262.4 397.9L280.0 408.6L297.5 418.4L315.1 426.9L332.7 433.5"/>
<path d="M51.5 292.3L121.8 292.5L139.4 292.9L156.9 294.1L174.5 297.0L192.1 302.8L209.7 311.2L227.2 321.1L332.7 384.7"/>
<path d="M51.5 309.3L139.4 309.4L156.9 309.7L174.5 310.4L192.1 312.5L209.7 317.4L227.2 326.4L244.8 338.5L262.4 352.2L315.1 395.0L332.7 408.6"/>
<path d="M51.5 274.1L104.2 274.4L121.8 275.0L139.4 276.7L156.9 280.8L174.5 288.6L192.1 299.4L209.7 311.9L297.5 378.0L315.1 391.0L332.7 403.6"/>
<path d="M51.5 316.8L121.8 316.9L139.4 317.1L156.9 317.8L174.5 319.9L192.1 324.5L209.7 332.5L227.2 343.0L244.8 354.6L297.5 390.7L315.1 402.3L332.7 413.3"/>
<path d="M51.5 281.7L156.9 281.9L174.5 282.2L192.1 283.1L209.7 285.5L227.2 290.6L244.8 298.8L262.4 308.9L280.0 319.8L332.7 353.7"/>
<path d="M51.5 297.0L86.7 297.2L104.2 297.6L121.8 298.9L139.4 302.2L156.9 308.2L174.5 316.7L192.1 326.5L297.5 389.2L315.1 399.3L332.7 409.0"/>
<path d="M51.5 333.2L104.2 333.3L121.8 333.6L139.4 334.4L156.9 336.7L174.5 342.0L192.1 351.2L209.7 363.3L227.2 376.8L244.8 390.6L262.4 404.1L280.0 416.6L297.5 427.3L315.1 435.1L332.7 439.8"/>
<path d="M51.5 331.9L139.4 332.1L156.9 332.4L174.5 333.4L192.1 336.1L209.7 341.9L227.2 351.2L244.8 362.7L297.5 400.4L315.1 412.2L332.7 422.8"/>
<path d="M51.5 296.1L86.7 296.2L104.2 296.5L121.8 297.3L139.4 299.6L156.9 304.5L174.5 312.8L192.1 323.3L209.7 334.8L280.0 382.6L297.5 394.3L315.1 405.6L332.7 416.2"/>
<path d="M51.5 313.3L69.1 313.7L86.7 314.9L104.2 318.0L121.8 324.0L139.4 332.7L156.9 343.0L227.2 387.0L244.8 397.7L262.4 408.1L280.0 417.7L297.5 426.0L315.1 432.7L332.7 437.5"/>
<path d="M51.5 276.8L156.9 277.0L174.5 277.4L192.1 278.6L209.7 281.7L227.2 287.5L244.8 295.8L262.4 305.5L332.7 346.9"/>
<path d="M51.5 325.6L104.2 325.8L121.8 326.3L139.4 327.8L156.9 331.5L174.5 339.0L192.1 349.9L209.7 362.7L244.8 389.9L262.4 403.3L280.0 415.7L297.5 426.4L315.1 434.3L332.7 439.3"/>
<path d="M51.5 283.7L121.8 283.8L139.4 284.0L156.9 284.6L174.5 286.4L192.1 290.7L209.7 298.4L227.2 309.1L244.8 321.1L332.7 384.9"/>
<path d="M51.5 304.0L156.9 304.1L174.5 304.3L192.1 305.1L209.7 307.2L227.2 312.0L244.8 320.0L262.4 330.2L280.0 341.5L332.7 376.8"/>
<path d="M51.5 266.0L86.7 266.1L104.2 266.5L121.8 267.6L139.4 270.5L156.9 276.2L174.5 284.7L192.1 294.8L227.2 316.4L332.7 382.3"/>
<path d="M51.5 330.5L121.8 330.7L139.4 331.2L156.9 332.5L174.5 335.8L192.1 341.9L209.7 350.3L227.2 359.9L280.0 390.0L297.5 399.8L315.1 409.3L332.7 418.0"/>
<path d="M51.5 288.7L139.4 288.9L156.9 289.2L174.5 290.1L192.1 292.7L209.7 298.6L227.2 308.7L244.8 321.7L262.4 336.1L315.1 380.9L332.7 395.6"/>
<path d="M51.5 304.4L86.7 304.5L104.2 304.7L121.8 305.5L139.4 307.6L156.9 312.6L174.5 321.3L192.1 332.9L209.7 345.9L262.4 386.5L280.0 399.7L297.5 412.2L315.1 423.3L332.7 432.0"/>
<path d="M51.5 270.9L121.8 271.1L139.4 271.4L156.9 272.3L174.5 274.8L192.1 280.3L209.7 289.1L227.2 300.2L244.8 312.4L332.7 375.2"/>
<path d="M51.5 321.5L156.9 321.7L174.5 322.0L192.1 323.2L209.7 326.1L227.2 332.0L244.8 340.9L262.4 351.4L332.7 396.8"/>
<path d="M51.5 281.4L104.2 281.6L121.8 281.9L139.4 282.8L156.9 285.3L174.5 290.4L192.1 298.4L209.7 308.1L227.2 318.6L332.7 383.2"/>
<path d="M51.5 300.0L121.8 300.1L139.4 300.3L156.9 300.9L174.5 302.5L192.1 306.8L209.7 314.9L227.2 326.7L244.8 340.3L297.5 384.0L315.1 398.3L332.7 411.8"/>
<path d="M51.5 262.6L156.9 262.7L174.5 263.0L192.1 263.7L209.7 265.7L227.2 270.4L244.8 278.8L262.4 290.1L280.0 302.9L332.7 343.1"/>
<path d="M51.5 330.3L86.7 330.5L104.2 331.2L121.8 332.9L139.4 337.1L156.9 344.6L174.5 354.8L192.1 366.4L227.2 390.6L244.8 402.3L262.4 413.5L280.0 423.4L297.5 431.3L315.1 437.0L332.7 440.4"/>
<path d="M51.5 291.9L104.2 292.0L121.8 292.3L139.4 293.0L156.9 295.1L174.5 299.7L192.1 307.5L209.7 317.5L227.2 328.4L315.1 385.3L332.7 396.4"/>
<path d="M51.5 312.4L139.4 312.5L156.9 312.9L174.5 313.8L192.1 316.2L209.7 321.4L227.2 329.2L244.8 338.8L332.7 391.3"/>
<path d="M51.5 274.1L86.7 274.3L104.2 274.7L121.8 275.8L139.4 278.8L156.9 285.3L174.5 295.7L192.1 308.6L209.7 322.6L280.0 380.4L297.5 394.5L315.1 408.1L332.7 420.3"/>
<path d="M51.5 322.1L121.8 322.3L139.4 322.8L156.9 324.1L174.5 327.6L192.1 334.5L209.7 344.8L227.2 356.9L280.0 395.5L297.5 407.9L315.1 419.2L332.7 428.6"/>
<path d="M51.5 283.6L139.4 283.7L156.9 283.9L174.5 284.4L192.1 286.1L209.7 290.0L227.2 297.3L244.8 307.3L262.4 318.8L332.7 367.3"/>
<path d="M51.5 300.0L104.2 300.2L121.8 300.7L139.4 302.0L156.9 305.4L174.5 311.8L192.1 320.8L209.7 331.3L297.5 387.2L315.1 398.1L332.7 408.5"/>
<path d="M51.5 266.5L121.8 266.6L139.4 266.8L156.9 267.4L174.5 269.0L192.1 272.9L209.7 279.6L227.2 288.5L244.8 298.4L332.7 350.9"/>
<path d="M51.5 323.7L86.7 324.1L104.2 325.0L121.8 327.5L139.4 333.2L156.9 342.7L174.5 355.0L192.1 368.5L227.2 396.2L244.8 409.3L262.4 421.2L280.0 430.8L297.5 437.3L315.1 441.0L332.7 442.7"/>
<path d="M51.5 290.4L86.7 290.6L104.2 291.1L121.8 292.6L139.4 296.4L156.9 303.7L174.5 314.0L192.1 326.1L280.0 390.5L297.5 402.9L315.1 414.5L332.7 424.7"/>
<path d="M51.5 307.6L104.2 307.7L121.8 307.9L139.4 308.6L156.9 310.4L174.5 314.6L192.1 322.2L209.7 332.3L227.2 343.6L297.5 390.9L315.1 402.4L332.7 413.1"/>
<path d="M51.5 270.5L139.4 270.7L156.9 270.9L174.5 271.7L192.1 273.9L209.7 278.6L227.2 286.4L244.8 296.1L262.4 306.8L332.7 351.3"/>
<path d="M51.5 313.2L104.2 313.5L121.8 314.2L139.4 316.0L156.9 320.1L174.5 327.0L192.1 336.0L209.7 345.9L280.0 386.9L297.5 396.9L315.1 406.5L332.7 415.6"/>
<path d="M51.5 280.9L121.8 281.1L139.4 281.5L156.9 282.7L174.5 285.8L192.1 292.3L209.7 302.6L227.2 315.1L244.8 328.7L315.1 384.2L332.7 397.8"/>
<path d="M51.5 294.9L139.4 294.9L156.9 295.1L174.5 295.6L192.1 297.0L209.7 300.6L227.2 307.6L244.8 317.6L262.4 329.5L332.7 380.1"/>
<path d="M51.5 264.1L104.2 264.3L121.8 264.7L139.4 265.8L156.9 268.8L174.5 274.9L192.1 284.0L209.7 294.7L227.2 306.2L332.7 377.1"/>
<path d="M51.5 333.0L139.4 333.2L156.9 333.7L174.5 335.1L192.1 338.6L209.7 345.0L227.2 353.9L244.8 364.1L297.5 396.1L315.1 406.4L332.7 415.9"/>
<path d="M51.5 293.8L156.9 293.9L174.5 294.1L192.1 294.7L209.7 296.5L227.2 300.4L244.8 307.1L262.4 315.9L280.0 325.6L332.7 356.2"/>
<path d="M51.5 312.7L86.7 312.9L104.2 313.4L121.8 314.8L139.4 318.5L156.9 326.1L174.5 337.5L192.1 351.1L244.8 395.0L262.4 409.0L280.0 421.5L297.5 431.4L315.1 437.9L332.7 441.4"/>
<path d="M51.5 279.7L104.2 279.8L121.8 280.0L139.4 280.6L156.9 282.3L174.5 286.5L192.1 294.4L209.7 305.5L227.2 318.2L315.1 386.1L332.7 399.2"/>
<path d="M51.5 326.1L139.4 326.3L156.9 326.5L174.5 327.2L192.1 329.3L209.7 334.0L227.2 342.1L244.8 352.8L262.4 364.6L297.5 389.2L315.1 401.2L332.7 412.5"/>
<path d="M51.5 284.7L104.2 285.0L121.8 285.6L139.4 287.3L156.9 291.3L174.5 298.5L192.1 308.2L209.7 319.1L315.1 388.2L332.7 399.4"/>
<path d="M51.5 307.9L121.8 308.0L139.4 308.2L156.9 309.0L174.5 311.0L192.1 315.5L209.7 322.9L227.2 332.3L244.8 342.6L315.1 385.3L332.7 395.8"/>
<path d="M51.5 267.0L156.9 267.2L174.5 267.7L192.1 269.0L209.7 272.5L227.2 279.7L244.8 290.8L262.4 304.1L280.0 318.4L332.7 362.5"/>
<path d="M51.5 329.2L104.2 329.4L121.8 329.7L139.4 330.8L156.9 333.7L174.5 339.9L192.1 349.6L209.7 361.5L262.4 400.3L280.0 412.5L297.5 423.3L315.1 431.9L332.7 437.7"/>
<path d="M51.5 291.3L139.4 291.5L156.9 292.0L174.5 293.3L192.1 296.6L209.7 303.2L227.2 312.9L244.8 324.2L332.7 385.3"/>
<path d="M51.5 304.5L156.9 304.6L174.5 304.8L192.1 305.3L209.7 306.9L227.2 310.7L244.8 317.7L262.4 327.1L280.0 337.9L332.7 371.8"/>
<path d="M51.5 269.5L86.7 269.7L104.2 270.2L121.8 271.6L139.4 275.0L156.9 281.3L174.5 290.0L192.1 299.9L332.7 384.6"/>
<path d="M51.5 317.0L104.2 317.1L121.8 317.4L139.4 318.3L156.9 320.8L174.5 326.4L192.1 335.9L209.7 348.4L227.2 362.1L262.4 390.4L280.0 404.1L297.5 416.8L315.1 427.5L332.7 435.3"/>
<path d="M51.5 285.1L139.4 285.3L156.9 285.7L174.5 286.8L192.1 289.6L209.7 295.7L227.2 305.3L244.8 317.1L262.4 329.9L332.7 382.4"/>
<path d="M51.5 300.6L69.1 302.3L86.7 306.4L104.2 313.7L121.8 323.8L139.4 335.2L209.7 383.4L227.2 395.2L244.8 406.5L262.4 417.1L280.0 426.2L297.5 433.4L315.1 438.2L332.7 441.1"/>
<path d="M51.5 263.6L121.8 263.8L139.4 264.1L156.9 265.2L174.5 268.0L192.1 273.7L209.7 282.3L227.2 292.5L244.8 303.5L332.7 359.7"/>
<path d="M51.5 330.5L156.9 330.8L174.5 331.2L192.1 332.5L209.7 335.8L227.2 341.8L244.8 350.3L262.4 360.1L315.1 390.8L332.7 400.8"/>
<path d="M51.5 290.6L104.2 290.9L121.8 291.4L139.4 293.0L156.9 297.0L174.5 304.8L192.1 316.0L209.7 329.2L280.0 385.2L297.5 398.9L315.1 411.9L332.7 423.3"/>
<path d="M51.5 315.8L121.8 315.9L139.4 316.1L156.9 316.8L174.5 318.7L192.1 323.2L209.7 331.3L227.2 342.1L244.8 354.4L297.5 392.5L315.1 404.8L332.7 416.2"/>
<path d="M51.5 274.5L156.9 274.6L174.5 274.9L192.1 275.7L209.7 278.0L227.2 283.0L244.8 291.2L262.4 301.7L280.0 313.2L332.7 349.0"/>
<path d="M51.5 320.9L86.7 321.1L104.2 321.5L121.8 322.7L139.4 325.7L156.9 331.7L174.5 340.4L192.1 350.6L262.4 394.0L280.0 404.5L297.5 414.3L315.1 423.2L332.7 430.5"/>
<path d="M51.5 286.1L121.8 286.3L139.4 286.8L156.9 288.3L174.5 291.8L192.1 298.1L209.7 306.7L227.2 316.4L332.7 378.2"/>
<path d="M51.5 298.9L139.4 299.1L156.9 299.4L174.5 300.3L192.1 302.8L209.7 308.5L227.2 318.0L244.8 330.1L262.4 343.5L315.1 384.8L332.7 398.2"/>
<path d="M51.5 268.8L86.7 268.9L104.2 269.2L121.8 270.0L139.4 272.1L156.9 276.9L174.5 285.2L192.1 296.1L209.7 308.3L315.1 384.5L332.7 396.9"/>
<path d="M51.5 325.7L121.8 325.8L139.4 326.1L156.9 327.1L174.5 329.5L192.1 334.8L209.7 343.3L227.2 353.7L244.8 365.0L280.0 388.1L297.5 399.4L315.1 410.2L332.7 420.1"/>
<path d="M51.5 288.8L156.9 289.0L174.5 289.4L192.1 290.5L209.7 293.4L227.2 299.2L244.8 307.6L262.4 317.7L332.7 361.0"/>
<path d="M51.5 312.2L104.2 312.4L121.8 312.7L139.4 313.7L156.9 316.1L174.5 321.2L192.1 328.8L209.7 338.1L297.5 388.4L315.1 398.2L332.7 407.6"/>
<path d="M51.5 273.8L121.8 273.9L139.4 274.1L156.9 274.7L174.5 276.5L192.1 281.0L209.7 289.6L227.2 301.6L244.8 315.5L332.7 389.7"/>
<path d="M51.5 318.7L156.9 318.8L174.5 319.1L192.1 319.8L209.7 322.0L227.2 327.0L244.8 335.7L262.4 347.3L280.0 360.2L315.1 386.9L332.7 400.0"/>
<path d="M51.5 278.1L86.7 278.2L104.2 278.6L121.8 279.7L139.4 282.6L156.9 288.7L174.5 298.0L192.1 309.3L209.7 321.4L297.5 383.7L315.1 395.9L332.7 407.5"/>
<path d="M51.5 296.1L121.8 296.3L139.4 296.8L156.9 298.1L174.5 301.5L192.1 307.9L209.7 317.2L227.2 327.9L315.1 385.2L332.7 396.3"/>
<path d="M51.5 333.6L139.4 333.7L156.9 333.9L174.5 334.5L192.1 336.1L209.7 339.9L227.2 346.7L244.8 355.7L262.4 365.9L315.1 397.2L332.7 407.2"/>
<path d="M51.5 330.9L86.7 331.0L104.2 331.3L121.8 332.0L139.4 334.0L156.9 338.8L174.5 347.6L192.1 359.7L209.7 373.4L244.8 401.5L262.4 414.6L280.0 425.9L297.5 434.4L315.1 439.5L332.7 442.1"/>
<path d="M51.5 299.6L121.8 299.8L139.4 300.0L156.9 300.9L174.5 303.3L192.1 308.6L209.7 317.6L227.2 329.2L244.8 342.0L297.5 381.7L315.1 394.8L332.7 407.3"/>
<path d="M51.5 312.6L156.9 312.8L174.5 313.1L192.1 314.2L209.7 317.0L227.2 322.8L244.8 331.8L262.4 342.8L280.0 354.7L332.7 391.1"/>
<path d="M51.5 277.5L104.2 277.6L121.8 277.9L139.4 278.8L156.9 281.1L174.5 286.1L192.1 294.2L209.7 304.3L227.2 315.3L332.7 383.3"/>
<path d="M51.5 319.8L69.1 320.0L86.7 320.6L104.2 322.2L121.8 326.1L139.4 332.9L156.9 341.9L174.5 352.0L244.8 393.6L262.4 403.7L280.0 413.1L297.5 421.8L315.1 429.0L332.7 434.7"/>
<path d="M51.5 282.5L156.9 282.6L174.5 282.9L192.1 283.5L209.7 285.4L227.2 290.0L244.8 298.5L262.4 310.3L280.0 323.7L332.7 366.6"/>
<path d="M51.5 299.0L86.7 299.3L104.2 300.0L121.8 302.0L139.4 306.8L156.9 315.2L174.5 326.3L192.1 338.7L262.4 390.7L280.0 403.2L297.5 414.9L315.1 425.1L332.7 433.1"/>
<path d="M51.5 265.6L104.2 265.7L121.8 266.0L139.4 266.9L156.9 269.3L174.5 274.6L192.1 283.1L209.7 293.8L227.2 305.4L332.7 377.9"/>
<path d="M51.5 325.1L139.4 325.2L156.9 325.6L174.5 326.7L192.1 329.5L209.7 335.2L227.2 343.7L244.8 353.9L315.1 397.7L332.7 408.1"/>
<path d="M51.5 292.4L86.7 292.6L104.2 292.9L121.8 293.8L139.4 296.2L156.9 301.1L174.5 308.9L192.1 318.3L209.7 328.4L297.5 380.4L315.1 390.7L332.7 400.7"/>
<path d="M51.5 308.3L121.8 308.6L139.4 309.2L156.9 310.8L174.5 314.8L192.1 322.6L209.7 333.8L227.2 346.8L280.0 388.5L297.5 402.0L315.1 414.6L332.7 425.6"/>
<path d="M51.5 274.5L139.4 274.6L156.9 274.8L174.5 275.5L192.1 277.4L209.7 282.0L227.2 290.0L244.8 300.9L262.4 313.1L332.7 364.6"/>
<path d="M51.5 315.7L104.2 316.0L121.8 316.5L139.4 318.1L156.9 321.9L174.5 329.0L192.1 338.8L209.7 350.0L262.4 385.2L280.0 396.7L297.5 407.8L315.1 418.0L332.7 426.9"/>
<path d="M51.5 283.6L121.8 283.7L139.4 283.9L156.9 284.6L174.5 286.5L192.1 290.9L209.7 298.2L227.2 307.7L244.8 318.3L332.7 373.4"/>
<path d="M51.5 299.8L156.9 299.9L174.5 300.2L192.1 301.1L209.7 303.3L227.2 308.1L244.8 315.6L262.4 324.9L280.0 334.8L332.7 365.6"/>
<path d="M51.5 264.4L86.7 264.7L104.2 265.3L121.8 267.1L139.4 271.4L156.9 279.5L174.5 290.9L192.1 303.8L297.5 386.6L315.1 399.9L332.7 412.5"/>
<path d="M51.5 330.2L104.2 330.3L121.8 330.6L139.4 331.4L156.9 333.5L174.5 338.3L192.1 346.6L209.7 357.5L227.2 369.5L262.4 394.2L280.0 406.1L297.5 417.2L315.1 426.7L332.7 434.0"/>
<path d="M51.5 291.4L139.4 291.6L156.9 291.9L174.5 292.8L192.1 295.3L209.7 300.6L227.2 309.1L244.8 319.5L262.4 330.9L332.7 377.6"/>
<path d="M51.5 312.1L86.7 312.2L104.2 312.4L121.8 313.2L139.4 315.3L156.9 319.9L174.5 327.5L192.1 337.0L209.7 347.5L280.0 390.5L297.5 401.0L315.1 410.9L332.7 420.0"/>
<path d="M51.5 273.6L121.8 273.7L139.4 274.0L156.9 275.0L174.5 277.5L192.1 282.5L209.7 290.2L227.2 299.4L262.4 319.4L332.7 360.2"/>
<path d="M51.5 322.2L139.4 322.3L156.9 322.6L174.5 323.2L192.1 325.1L209.7 329.6L227.2 338.3L244.8 350.6L262.4 364.7L297.5 394.1L315.1 408.3L332.7 421.0"/>
<path d="M51.5 280.1L104.2 280.4L121.8 280.9L139.4 282.4L156.9 286.2L174.5 293.7L192.1 304.6L209.7 317.3L227.2 330.8L297.5 385.7L315.1 399.1L332.7 411.7"/>
<path d="M51.5 303.1L121.8 303.2L139.4 303.4L156.9 304.0L174.5 305.8L192.1 310.1L209.7 317.9L227.2 328.5L244.8 340.4L315.1 390.4L332.7 402.5"/>
<path d="M51.5 262.6L156.9 262.7L174.5 263.0L192.1 263.8L209.7 265.9L227.2 270.7L244.8 278.7L262.4 288.9L280.0 300.1L332.7 335.1"/>
<path d="M51.5 319.8L86.7 320.0L104.2 320.4L121.8 321.5L139.4 324.5L156.9 330.2L174.5 338.7L192.1 348.6L262.4 391.3L280.0 401.6L297.5 411.5L315.1 420.5L332.7 428.2"/>
<path d="M51.5 293.3L104.2 293.4L121.8 293.6L139.4 294.4L156.9 296.4L174.5 301.3L192.1 310.3L209.7 322.7L227.2 336.7L280.0 380.8L297.5 395.3L315.1 409.2L332.7 421.6"/>
<path d="M51.5 308.5L69.1 308.7L86.7 309.3L104.2 310.9L121.8 314.9L139.4 322.6L156.9 333.5L174.5 346.1L227.2 386.1L244.8 399.1L262.4 411.5L280.0 422.6L297.5 431.4L315.1 437.5L332.7 440.9"/>
<path d="M51.5 269.9L86.7 270.0L104.2 270.3L121.8 271.0L139.4 273.0L156.9 277.6L174.5 285.7L192.1 296.3L209.7 308.1L315.1 382.6L332.7 394.7"/>
<path d="M51.5 312.8L121.8 312.9L139.4 313.2L156.9 314.1L174.5 316.5L192.1 321.6L209.7 329.8L227.2 340.0L244.8 351.1L297.5 385.2L315.1 396.4L332.7 407.1"/>
<path d="M51.5 279.7L156.9 279.9L174.5 280.3L192.1 281.4L209.7 284.1L227.2 289.7L244.8 297.9L262.4 307.7L332.7 350.3"/>
<path d="M51.5 296.2L104.2 296.4L121.8 296.8L139.4 298.2L156.9 301.6L174.5 308.7L192.1 319.6L209.7 332.8L227.2 347.0L280.0 390.3L297.5 404.1L315.1 417.0L332.7 427.8"/>
<path d="M51.5 261.9L121.8 262.0L139.4 262.2L156.9 262.7L174.5 264.3L192.1 268.2L209.7 275.7L227.2 286.4L244.8 298.7L280.0 325.1L332.7 365.1"/>
<path d="M51.5 332.3L156.9 332.4L174.5 332.6L192.1 333.3L209.7 335.2L227.2 339.6L244.8 347.3L262.4 357.7L280.0 369.2L315.1 393.0L332.7 404.6"/>
<path d="M51.5 299.6L86.7 299.8L104.2 300.4L121.8 302.1L139.4 306.0L156.9 313.0L174.5 322.5L192.1 333.2L280.0 389.3L297.5 400.2L315.1 410.6L332.7 420.1"/>
<path d="M51.5 313.3L104.2 313.4L121.8 313.7L139.4 314.4L156.9 316.4L174.5 320.8L192.1 328.0L209.7 337.2L227.2 347.4L297.5 389.1L315.1 399.2L332.7 409.0"/>
<path d="M51.5 285.1L139.4 285.3L156.9 285.8L174.5 287.1L192.1 290.5L209.7 297.5L227.2 308.2L244.8 321.2L262.4 335.1L315.1 377.9L332.7 391.9"/>
<path d="M51.5 328.6L86.7 328.8L104.2 329.1L121.8 330.2L139.4 333.0L156.9 339.0L174.5 348.5L192.1 360.2L244.8 398.1L262.4 410.1L280.0 421.0L297.5 430.0L315.1 436.4L332.7 440.2"/>
<path d="M51.5 283.6L121.8 283.8L139.4 284.2L156.9 285.5L174.5 288.8L192.1 295.2L209.7 304.6L227.2 315.7L332.7 387.5"/>
<path d="M51.5 305.6L139.4 305.7L156.9 305.9L174.5 306.4L192.1 308.0L209.7 311.7L227.2 318.5L244.8 327.8L262.4 338.3L332.7 382.6"/>
<path d="M51.5 271.3L104.2 271.5L121.8 271.9L139.4 273.2L156.9 276.4L174.5 282.4L192.1 290.9L209.7 300.6L332.7 373.3"/>
<path d="M51.5 324.0L121.8 324.2L139.4 324.4L156.9 325.3L174.5 327.5L192.1 332.8L209.7 341.9L227.2 353.9L244.8 367.2L280.0 394.5L297.5 407.7L315.1 419.6L332.7 429.5"/>
<path d="M51.5 289.9L156.9 290.0L174.5 290.4L192.1 291.4L209.7 294.0L227.2 299.8L244.8 309.0L262.4 320.4L280.0 332.8L332.7 371.3"/>
<path d="M51.5 308.1L86.7 308.3L104.2 308.8L121.8 310.2L139.4 313.8L156.9 320.5L174.5 330.0L192.1 341.1L262.4 387.9L280.0 399.3L297.5 410.2L315.1 420.2L332.7 428.6"/>
<path d="M51.5 274.8L104.2 274.9L121.8 275.1L139.4 275.7L156.9 277.4L174.5 281.4L192.1 288.5L209.7 297.8L227.2 308.3L332.7 374.2"/>
<path d="M51.5 318.4L139.4 318.5L156.9 318.8L174.5 319.5L192.1 321.6L209.7 326.1L227.2 333.3L244.8 342.4L262.4 352.3L332.7 392.8"/>
<path d="M51.5 281.9L86.7 282.1L104.2 282.4L121.8 283.4L139.4 286.1L156.9 292.3L174.5 302.5L192.1 315.7L209.7 330.2L262.4 375.2L280.0 390.1L297.5 404.5L315.1 417.7L332.7 428.6"/>
<path d="M51.5 305.1L121.8 305.3L139.4 305.7L156.9 306.9L174.5 310.1L192.1 316.7L209.7 326.9L227.2 339.3L244.8 352.6L280.0 379.8L297.5 393.3L315.1 406.2L332.7 418.1"/>
<path d="M51.5 263.3L139.4 263.4L156.9 263.6L174.5 264.1L192.1 265.5L209.7 269.1L227.2 276.1L244.8 286.2L262.4 297.9L332.7 348.1"/>
<path d="M51.5 332.2L69.1 333.2L86.7 335.9L104.2 341.4L121.8 350.0L139.4 360.5L192.1 394.4L209.7 405.4L227.2 415.6L244.8 424.7L262.4 431.9L280.0 437.1L297.5 440.4L315.1 442.2L332.7 443.2"/>
<path d="M51.5 291.6L139.4 291.9L156.9 292.4L174.5 293.8L192.1 297.4L209.7 303.8L227.2 312.7L244.8 322.9L332.7 376.7"/>
<path d="M51.5 310.0L156.9 310.1L174.5 310.4L192.1 311.4L209.7 313.9L227.2 319.8L244.8 329.7L262.4 342.5L280.0 356.6L315.1 385.7L332.7 400.0"/>
<path d="M51.5 277.6L86.7 277.8L104.2 278.3L121.8 279.6L139.4 283.0L156.9 290.0L174.5 300.3L192.1 312.7L209.7 325.8L280.0 379.7L297.5 392.9L315.1 405.7L332.7 417.4"/>
<path d="M51.5 323.5L121.8 323.7L139.4 324.3L156.9 325.9L174.5 329.8L192.1 337.1L209.7 347.2L227.2 358.8L280.0 395.1L297.5 406.8L315.1 417.5L332.7 426.8"/>
<path d="M51.5 284.9L139.4 285.0L156.9 285.2L174.5 285.9L192.1 287.9L209.7 292.3L227.2 299.8L244.8 309.7L262.4 320.6L332.7 366.4"/>
<path d="M51.5 302.3L104.2 302.5L121.8 303.1L139.4 304.7L156.9 308.5L174.5 315.2L192.1 324.2L209.7 334.3L297.5 387.2L315.1 397.5L332.7 407.4"/>
<path d="M51.5 267.9L121.8 268.1L139.4 268.4L156.9 269.4L174.5 272.3L192.1 278.4L209.7 288.6L227.2 301.4L244.8 315.4L315.1 373.4L332.7 387.7"/>
<path d="M51.5 326.9L156.9 327.1L174.5 327.6L192.1 328.8L209.7 332.1L227.2 338.7L244.8 348.7L262.4 360.8L315.1 399.3L332.7 411.4"/>
<path d="M51.5 288.6L104.2 288.7L121.8 289.1L139.4 290.1L156.9 292.8L174.5 298.6L192.1 307.5L209.7 318.5L227.2 330.3L297.5 378.9L315.1 390.9L332.7 402.5"/>
<path d="M51.5 307.4L139.4 307.6L156.9 308.0L174.5 309.3L192.1 312.4L209.7 318.6L227.2 327.5L244.8 337.9L315.1 382.6L332.7 393.6"/>
<path d="M51.5 268.9L156.9 269.0L174.5 269.2L192.1 269.7L209.7 271.3L227.2 274.9L244.8 281.4L262.4 290.2L280.0 300.1L332.7 331.5"/>
<path d="M51.5 317.0L86.7 317.3L104.2 318.0L121.8 319.9L139.4 324.6L156.9 333.2L174.5 345.0L192.1 358.4L227.2 386.3L244.8 400.0L262.4 412.9L280.0 424.3L297.5 433.0L315.1 438.6L332.7 441.7"/>
<path d="M51.5 282.7L104.2 282.9L121.8 283.2L139.4 284.0L156.9 286.3L174.5 291.5L192.1 300.3L209.7 311.6L227.2 324.0L297.5 376.0L315.1 388.8L332.7 401.3"/>
<path d="M51.5 303.1L139.4 303.3L156.9 303.6L174.5 304.6L192.1 307.3L209.7 313.0L227.2 321.8L244.8 332.6L262.4 344.3L315.1 380.1L332.7 391.8"/>
<path d="M51.5 260.6L86.7 260.7L104.2 261.0L121.8 261.8L139.4 264.1L156.9 269.0L174.5 276.9L192.1 286.8L209.7 297.5L332.7 375.5"/>
<path d="M51.5 333.2L121.8 333.3L139.4 333.7L156.9 334.7L174.5 337.4L192.1 342.7L209.7 350.7L227.2 360.2L280.0 390.5L297.5 400.5L315.1 410.0L332.7 418.8"/>
<path d="M51.5 296.5L139.4 296.6L156.9 296.8L174.5 297.4L192.1 299.2L209.7 303.7L227.2 312.0L244.8 323.4L262.4 336.6L332.7 391.8"/>
<path d="M51.5 314.7L104.2 315.0L121.8 315.5L139.4 317.0L156.9 320.7L174.5 327.9L192.1 338.1L209.7 350.0L262.4 387.8L280.0 400.1L297.5 411.8L315.1 422.3L332.7 430.8"/>
<path d="M51.5 280.8L121.8 280.9L139.4 281.2L156.9 281.8L174.5 283.6L192.1 287.8L209.7 295.3L227.2 305.3L244.8 316.5L332.7 375.5"/>
<path d="M51.5 324.1L156.9 324.3L174.5 324.5L192.1 325.3L209.7 327.5L227.2 332.2L244.8 339.8L262.4 349.5L280.0 360.0L332.7 392.4"/>
<path d="M51.5 292.4L86.7 292.6L104.2 292.9L121.8 294.1L139.4 297.0L156.9 302.6L174.5 310.7L192.1 320.2L297.5 381.3L315.1 391.3L332.7 401.1"/>
<path d="M51.5 306.2L69.1 307.0L86.7 309.3L104.2 314.7L121.8 324.2L139.4 336.9L156.9 351.1L209.7 395.4L227.2 409.4L244.8 421.9L262.4 431.7L280.0 438.1L297.5 441.5L315.1 443.1L332.7 443.7"/>
<path d="M51.5 270.1L139.4 270.3L156.9 270.6L174.5 271.6L192.1 274.1L209.7 279.9L227.2 289.3L244.8 301.4L262.4 314.5L332.7 369.2"/>
<path d="M51.5 323.7L86.7 323.8L104.2 324.1L121.8 324.9L139.4 327.0L156.9 331.9L174.5 340.2L192.1 351.0L209.7 363.0L244.8 387.6L262.4 399.7L280.0 411.2L297.5 421.5L315.1 430.1L332.7 436.2"/>
<path d="M51.5 290.1L121.8 290.2L139.4 290.6L156.9 291.5L174.5 294.0L192.1 299.4L209.7 307.8L227.2 318.2L244.8 329.5L332.7 387.2"/>
<path d="M51.5 310.0L156.9 310.1L174.5 310.5L192.1 311.7L209.7 314.6L227.2 320.4L244.8 328.9L262.4 338.8L332.7 381.5"/>
<path d="M51.5 272.4L104.2 272.6L121.8 273.1L139.4 274.5L156.9 278.2L174.5 285.6L192.1 296.9L209.7 310.3L227.2 324.7L297.5 383.5L315.1 397.8L332.7 411.4"/>
<path d="M51.5 317.0L121.8 317.1L139.4 317.3L156.9 317.9L174.5 319.6L192.1 323.7L209.7 331.5L227.2 342.5L244.8 355.0L297.5 394.5L315.1 407.1L332.7 418.7"/>
<path d="M51.5 283.6L156.9 283.7L174.5 284.0L192.1 284.7L209.7 286.7L227.2 291.4L244.8 299.4L262.4 310.0L280.0 321.8L332.7 358.7"/>
<path d="M51.5 300.8L86.7 301.0L104.2 301.3L121.8 302.4L139.4 305.1L156.9 310.8L174.5 319.4L192.1 329.8L209.7 340.9L280.0 386.3L297.5 397.4L315.1 408.0L332.7 417.9"/>
<path d="M51.5 264.3L121.8 264.5L139.4 265.0L156.9 266.3L174.5 269.5L192.1 275.5L209.7 284.1L227.2 294.0L332.7 357.8"/>
<path d="M51.5 324.5L139.4 324.7L156.9 324.9L174.5 325.7L192.1 328.0L209.7 333.3L227.2 342.6L244.8 354.9L262.4 368.6L297.5 396.7L315.1 410.0L332.7 422.0"/>
<path d="M51.5 293.2L104.2 293.5L121.8 294.2L139.4 296.1L156.9 300.6L174.5 308.7L192.1 319.7L209.7 332.1L280.0 384.6L297.5 397.4L315.1 409.6L332.7 420.7"/>
<path d="M51.5 316.2L121.8 316.3L139.4 316.6L156.9 317.4L174.5 319.6L192.1 324.6L209.7 332.9L227.2 343.5L244.8 355.1L297.5 391.1L315.1 402.6L332.7 413.6"/>
<path d="M51.5 273.2L156.9 273.4L174.5 273.7L192.1 274.7L209.7 277.3L227.2 282.8L244.8 291.1L262.4 301.3L280.0 312.3L332.7 346.0"/>
<path d="M51.5 315.1L104.2 315.2L121.8 315.5L139.4 316.3L156.9 318.6L174.5 323.3L192.1 330.8L209.7 340.2L227.2 350.3L297.5 391.7L315.1 401.7L332.7 411.3"/>
<path d="M51.5 286.4L139.4 286.6L156.9 287.1L174.5 288.6L192.1 292.3L209.7 299.8L227.2 310.9L244.8 323.9L262.4 337.8L315.1 380.2L332.7 394.1"/>
<path d="M51.5 294.7L156.9 294.8L174.5 295.0L192.1 295.6L209.7 297.4L227.2 301.7L244.8 309.5L262.4 320.2L280.0 332.4L332.7 371.1"/>
<path d="M51.5 266.0L86.7 266.3L104.2 266.9L121.8 268.7L139.4 273.0L156.9 280.6L174.5 290.7L192.1 302.0L315.1 385.6L332.7 397.2"/>
<path d="M51.5 323.3L104.2 323.4L121.8 323.7L139.4 324.5L156.9 326.6L174.5 331.4L192.1 339.1L209.7 348.9L227.2 359.5L280.0 392.3L297.5 402.8L315.1 412.8L332.7 421.9"/>
<path d="M51.5 290.1L139.4 290.2L156.9 290.6L174.5 291.6L192.1 294.1L209.7 299.3L227.2 307.2L244.8 316.6L332.7 368.0"/>
<path d="M51.5 307.8L86.7 308.0L104.2 308.4L121.8 309.6L139.4 312.7L156.9 319.2L174.5 329.5L192.1 342.0L209.7 355.5L244.8 383.1L262.4 396.6L280.0 409.5L297.5 421.2L315.1 430.6L332.7 437.1"/>
<path d="M51.5 273.2L121.8 273.4L139.4 273.9L156.9 275.4L174.5 278.9L192.1 285.9L209.7 296.0L227.2 307.8L262.4 333.1L332.7 384.1"/>
<path d="M51.5 318.8L69.1 319.0L86.7 319.4L104.2 320.6L121.8 323.7L139.4 329.9L156.9 339.0L174.5 349.8L244.8 396.0L262.4 407.0L280.0 417.2L297.5 426.1L315.1 433.1L332.7 437.9"/>
<path d="M51.5 284.5L104.2 284.7L121.8 285.2L139.4 286.6L156.9 290.1L174.5 296.5L192.1 305.5L209.7 315.8L315.1 381.1L332.7 391.8"/>
<path d="M51.5 295.4L121.8 295.5L139.4 295.7L156.9 296.3L174.5 298.0L192.1 302.0L209.7 308.7L227.2 317.5L244.8 327.2L332.7 378.1"/>
<path d="M51.5 263.8L156.9 264.0L174.5 264.4L192.1 265.6L209.7 268.9L227.2 275.8L244.8 286.6L262.4 300.0L280.0 314.5L332.7 359.5"/>
<path d="M51.5 332.2L86.7 332.5L104.2 333.1L121.8 334.8L139.4 339.0L156.9 346.9L174.5 357.9L192.1 370.6L227.2 396.9L244.8 409.5L262.4 420.9L280.0 430.2L297.5 436.8L315.1 440.6L332.7 442.5"/>
<path d="M51.5 295.5L104.2 295.6L121.8 295.9L139.4 296.6L156.9 298.6L174.5 303.4L192.1 311.5L209.7 322.2L227.2 334.1L297.5 383.9L315.1 396.0L332.7 407.7"/>
<path d="M51.5 316.1L139.4 316.3L156.9 316.6L174.5 317.5L192.1 319.9L209.7 325.1L227.2 333.3L244.8 343.6L262.4 354.8L315.1 389.0L332.7 400.1"/>
<path d="M51.5 277.8L86.7 277.9L104.2 278.1L121.8 278.9L139.4 280.9L156.9 285.4L174.5 292.8L192.1 302.3L209.7 312.6L315.1 377.0L332.7 387.6"/>
<path d="M51.5 324.1L121.8 324.3L139.4 324.7L156.9 326.1L174.5 329.6L192.1 336.8L209.7 347.8L227.2 361.1L262.4 389.6L280.0 403.6L297.5 416.5L315.1 427.5L332.7 435.4"/>
<path d="M51.5 288.2L139.4 288.3L156.9 288.5L174.5 289.0L192.1 290.6L209.7 294.6L227.2 302.2L244.8 313.0L262.4 325.5L332.7 378.7"/>
<path d="M51.5 305.4L104.2 305.6L121.8 306.0L139.4 307.3L156.9 310.7L174.5 317.3L192.1 326.9L209.7 338.3L280.0 386.9L297.5 398.8L315.1 410.2L332.7 420.5"/>
<path d="M51.5 268.6L121.8 268.7L139.4 268.9L156.9 269.4L174.5 271.0L192.1 274.8L209.7 281.8L227.2 291.3L244.8 302.0L332.7 358.9"/>
<path d="M51.5 330.7L156.9 330.9L174.5 331.1L192.1 331.8L209.7 333.7L227.2 338.0L244.8 345.2L262.4 354.4L280.0 364.5L332.7 395.6"/>
<path d="M51.5 294.6L86.7 294.9L104.2 295.4L121.8 296.9L139.4 300.7L156.9 308.2L174.5 319.4L192.1 332.7L209.7 346.7L262.4 389.6L280.0 403.3L297.5 416.1L315.1 427.0L332.7 434.9"/>
<path d="M51.5 312.0L104.2 312.1L121.8 312.3L139.4 312.9L156.9 314.7L174.5 319.0L192.1 326.9L209.7 337.7L227.2 350.1L280.0 389.0L297.5 401.6L315.1 413.5L332.7 424.0"/>
<path d="M51.5 273.0L139.4 273.1L156.9 273.4L174.5 274.2L192.1 276.3L209.7 281.1L227.2 289.2L244.8 299.7L262.4 311.3L332.7 359.7"/>
<path d="M51.5 316.1L104.2 316.4L121.8 317.0L139.4 318.8L156.9 322.9L174.5 330.1L192.1 339.6L209.7 350.3L262.4 383.6L280.0 394.5L297.5 405.1L315.1 415.0L332.7 423.9"/>
<path d="M51.5 279.2L121.8 279.3L139.4 279.5L156.9 280.3L174.5 282.4L192.1 287.0L209.7 294.4L227.2 303.7L244.8 313.8L332.7 366.1"/>
<path d="M51.5 300.2L156.9 300.4L174.5 300.9L192.1 302.3L209.7 305.9L227.2 313.1L244.8 324.0L262.4 336.9L280.0 350.7L315.1 378.8L332.7 392.6"/>
<path d="M51.5 262.0L104.2 262.1L121.8 262.5L139.4 263.7L156.9 266.7L174.5 272.9L192.1 282.5L209.7 294.2L227.2 306.8L332.7 384.4"/>
<path d="M51.5 330.5L139.4 330.7L156.9 331.2L174.5 332.5L192.1 336.0L209.7 342.6L227.2 352.1L244.8 363.1L297.5 397.9L315.1 409.0L332.7 419.1"/>
<path d="M51.5 291.5L156.9 291.6L174.5 291.8L192.1 292.3L209.7 294.0L227.2 297.9L244.8 304.9L262.4 314.2L280.0 324.7L332.7 357.8"/>
<path d="M51.5 313.3L69.1 315.5L86.7 320.2L104.2 327.6L121.8 336.8L139.4 346.8L209.7 387.7L227.2 397.7L244.8 407.3L262.4 416.3L280.0 424.3L297.5 430.9L315.1 435.9L332.7 439.3"/>
<path d="M51.5 274.7L104.2 274.9L121.8 275.2L139.4 276.1L156.9 278.6L174.5 284.4L192.1 293.8L209.7 306.0L227.2 319.3L297.5 374.7L315.1 388.4L332.7 401.7"/>
<path d="M51.5 322.2L139.4 322.4L156.9 322.8L174.5 323.9L192.1 326.9L209.7 333.0L227.2 342.5L244.8 354.0L297.5 391.3L315.1 403.4L332.7 414.7"/>
<path d="M51.5 284.8L86.7 285.0L104.2 285.3L121.8 286.2L139.4 288.7L156.9 294.0L174.5 302.5L192.1 313.0L209.7 324.3L297.5 382.9L315.1 394.3L332.7 405.4"/>
<path d="M51.5 298.9L121.8 299.0L139.4 299.4L156.9 300.6L174.5 303.5L192.1 309.2L209.7 317.7L227.2 327.7L315.1 381.8L332.7 392.5"/>
<path d="M51.5 269.1L139.4 269.2L156.9 269.4L174.5 269.9L192.1 271.3L209.7 274.6L227.2 280.7L244.8 289.1L262.4 298.7L332.7 339.4"/>
<path d="M51.5 326.1L104.2 326.4L121.8 327.1L139.4 328.9L156.9 333.4L174.5 341.9L192.1 353.9L209.7 367.8L244.8 396.7L262.4 410.4L280.0 422.7L297.5 432.2L315.1 438.4L332.7 441.6"/>
<path d="M51.5 290.7L121.8 290.9L139.4 291.1L156.9 291.9L174.5 294.0L192.1 299.1L209.7 307.8L227.2 319.4L244.8 332.3L315.1 386.3L332.7 399.4"/>
<path d="M51.5 305.6L156.9 305.7L174.5 306.0L192.1 307.0L209.7 309.5L227.2 315.0L244.8 323.9L262.4 335.0L280.0 347.0L332.7 384.1"/>
<path d="M51.5 266.9L86.7 267.1L104.2 267.6L121.8 268.9L139.4 272.3L156.9 278.8L174.5 288.0L192.1 298.8L315.1 379.3L332.7 390.6"/>
<path d="M51.5 317.7L104.2 317.8L121.8 317.9L139.4 318.5L156.9 320.2L174.5 324.0L192.1 330.8L209.7 339.9L227.2 350.0L297.5 392.3L315.1 402.5L332.7 412.2"/>
<path d="M51.5 286.5L139.4 286.7L156.9 287.0L174.5 288.1L192.1 291.0L209.7 297.3L227.2 307.6L244.8 320.5L262.4 334.6L315.1 378.2L332.7 392.6"/>
<path d="M51.5 297.2L86.7 297.3L104.2 297.6L121.8 298.5L139.4 300.8L156.9 306.2L174.5 315.2L192.1 326.8L209.7 339.6L262.4 379.3L280.0 392.4L297.5 405.0L315.1 416.8L332.7 426.8"/>
<path d="M51.5 260.4L121.8 260.6L139.4 260.9L156.9 262.0L174.5 264.8L192.1 270.6L209.7 279.6L227.2 290.7L244.8 302.6L332.7 364.1"/>
<path d="M51.5 262.2L156.9 262.4L174.5 262.9L192.1 264.1L209.7 267.4L227.2 273.6L244.8 282.6L262.4 293.1L332.7 338.4"/>
<path d="M51.5 295.7L104.2 295.9L121.8 296.2L139.4 297.3L156.9 300.0L174.5 305.5L192.1 313.6L209.7 323.3L315.1 386.3L332.7 396.5"/>
<path d="M51.5 313.7L121.8 313.8L139.4 314.0L156.9 314.6L174.5 316.5L192.1 321.1L209.7 329.6L227.2 341.4L244.8 354.9L297.5 397.0L315.1 410.2L332.7 422.1"/>
<path d="M51.5 282.0L156.9 282.2L174.5 282.4L192.1 283.2L209.7 285.5L227.2 290.6L244.8 299.3L262.4 310.6L280.0 323.1L332.7 362.4"/>
<path d="M51.5 321.2L86.7 321.4L104.2 321.8L121.8 322.9L139.4 325.9L156.9 332.1L174.5 341.3L192.1 352.3L244.8 387.8L262.4 399.4L280.0 410.5L297.5 420.6L315.1 429.0L332.7 435.3"/>
<path d="M51.5 284.9L121.8 285.2L139.4 285.7L156.9 287.1L174.5 290.6L192.1 297.1L209.7 306.2L227.2 316.7L332.7 383.5"/>
<path d="M51.5 303.8L139.4 303.9L156.9 304.1L174.5 304.7L192.1 306.4L209.7 310.4L227.2 317.2L244.8 326.1L262.4 336.0L332.7 377.5"/>
<path d="M51.5 270.0L86.7 270.1L104.2 270.3L121.8 271.1L139.4 273.2L156.9 278.1L174.5 286.9L192.1 298.7L209.7 312.1L297.5 382.3L315.1 396.0L332.7 409.1"/>
<path d="M51.5 329.1L69.1 329.5L86.7 330.7L104.2 333.8L121.8 340.1L139.4 349.8L156.9 361.5L209.7 399.0L227.2 410.8L244.8 421.5L262.4 430.2L280.0 436.4L297.5 440.3L315.1 442.3L332.7 443.3"/>
<path d="M51.5 292.0L156.9 292.2L174.5 292.5L192.1 293.6L209.7 296.5L227.2 302.4L244.8 311.4L262.4 322.2L280.0 333.7L332.7 369.3"/>
<path d="M51.5 307.8L104.2 308.0L121.8 308.3L139.4 309.2L156.9 311.6L174.5 316.7L192.1 324.8L209.7 334.6L227.2 345.3L297.5 389.1L315.1 399.7L332.7 409.8"/>
<path d="M51.5 274.4L139.4 274.6L156.9 275.0L174.5 276.1L192.1 278.9L209.7 284.5L227.2 292.5L244.8 302.0L332.7 353.3"/>
<path d="M51.5 314.8L156.9 314.9L174.5 315.1L192.1 315.8L209.7 317.8L227.2 322.4L244.8 330.9L262.4 342.4L280.0 355.4L332.7 396.1"/>
<path d="M51.5 280.5L86.7 280.8L104.2 281.4L121.8 283.1L139.4 287.2L156.9 294.8L174.5 305.2L192.1 317.1L280.0 380.3L297.5 392.7L315.1 404.7L332.7 415.9"/>
<path d="M51.5 304.7L104.2 304.8L121.8 305.1L139.4 305.8L156.9 307.8L174.5 312.4L192.1 320.2L209.7 330.4L227.2 341.6L297.5 388.0L315.1 399.3L332.7 410.0"/>
<path d="M51.5 332.6L139.4 332.8L156.9 333.1L174.5 334.0L192.1 336.4L209.7 341.5L227.2 349.4L244.8 359.1L297.5 390.9L315.1 401.3L332.7 411.2"/>
<path d="M51.5 329.2L86.7 329.4L104.2 329.6L121.8 330.4L139.4 332.4L156.9 336.8L174.5 343.9L192.1 352.9L209.7 362.6L262.4 392.5L280.0 402.2L297.5 411.4L315.1 419.9L332.7 427.2"/>
<path d="M51.5 294.1L121.8 294.3L139.4 294.9L156.9 296.3L174.5 300.2L192.1 307.9L209.7 319.6L227.2 333.5L244.8 348.3L280.0 378.5L297.5 393.4L315.1 407.6L332.7 420.5"/>
<path d="M51.5 311.0L139.4 311.1L156.9 311.3L174.5 311.9L192.1 313.7L209.7 318.0L227.2 326.1L244.8 337.4L262.4 350.3L315.1 391.1L332.7 404.2"/>
<path d="M51.5 278.7L104.2 278.9L121.8 279.4L139.4 280.8L156.9 284.5L174.5 291.5L192.1 301.6L209.7 313.3L315.1 388.9L332.7 401.1"/>
<path d="M51.5 320.0L121.8 320.1L139.4 320.3L156.9 320.9L174.5 322.6L192.1 326.8L209.7 334.1L227.2 343.9L244.8 355.0L297.5 389.5L315.1 400.7L332.7 411.4"/>
<path d="M51.5 289.3L156.9 289.4L174.5 289.7L192.1 290.4L209.7 292.5L227.2 297.1L244.8 304.7L262.4 314.2L280.0 324.7L332.7 357.2"/>
<path d="M51.5 304.4L86.7 304.7L104.2 305.2L121.8 306.9L139.4 311.0L156.9 319.1L174.5 330.9L192.1 344.6L244.8 388.6L262.4 402.9L280.0 416.1L297.5 427.3L315.1 435.4L332.7 440.1"/>
<path d="M51.5 262.2L104.2 262.3L121.8 262.5L139.4 263.2L156.9 265.2L174.5 269.8L192.1 278.2L209.7 289.6L227.2 302.4L332.7 383.7"/>
<path d="M51.5 322.1L139.4 322.3L156.9 322.5L174.5 323.4L192.1 325.7L209.7 330.8L227.2 339.4L244.8 350.3L262.4 362.2L297.5 386.7L315.1 398.7L332.7 410.2"/>
<path d="M51.5 289.1L86.7 289.2L104.2 289.4L121.8 290.1L139.4 292.0L156.9 296.4L174.5 304.0L192.1 313.9L209.7 324.9L297.5 382.3L315.1 393.5L332.7 404.4"/>
<path d="M51.5 308.9L121.8 309.0L139.4 309.3L156.9 310.1L174.5 312.4L192.1 317.3L209.7 325.0L227.2 334.6L244.8 345.0L315.1 387.5L332.7 397.8"/>
<path d="M51.5 267.7L139.4 267.8L156.9 268.0L174.5 268.5L192.1 270.1L209.7 274.0L227.2 281.8L244.8 293.2L262.4 306.6L280.0 320.9L332.7 364.8"/>
<path d="M51.5 315.9L104.2 316.1L121.8 316.6L139.4 317.8L156.9 321.1L174.5 327.8L192.1 337.8L209.7 350.0L262.4 389.2L280.0 401.9L297.5 413.9L315.1 424.5L332.7 432.7"/>
<path d="M51.5 278.6L121.8 278.7L139.4 278.8L156.9 279.4L174.5 280.9L192.1 284.6L209.7 291.7L227.2 301.6L244.8 313.0L332.7 374.2"/>
<path d="M51.5 296.0L86.7 296.3L104.2 296.9L121.8 298.6L139.4 302.6L156.9 309.8L174.5 319.3L192.1 330.1L280.0 386.5L297.5 397.5L315.1 408.0L332.7 417.8"/>
<path d="M51.5 263.2L86.7 263.3L104.2 263.6L121.8 264.6L139.4 267.1L156.9 272.3L174.5 280.2L192.1 289.8L209.7 300.0L332.7 374.1"/>
<path d="M51.5 331.5L104.2 331.6L121.8 331.8L139.4 332.4L156.9 334.1L174.5 338.3L192.1 346.4L209.7 357.9L227.2 371.2L262.4 398.8L280.0 411.9L297.5 423.5L315.1 432.5L332.7 438.4"/>
<path d="M51.5 301.4L139.4 301.6L156.9 301.8L174.5 302.5L192.1 304.5L209.7 309.3L227.2 317.6L244.8 328.7L262.4 341.2L315.1 380.2L332.7 393.0"/>
<path d="M51.5 311.6L104.2 311.9L121.8 312.5L139.4 314.2L156.9 318.2L174.5 325.5L192.1 335.5L209.7 346.9L262.4 382.7L280.0 394.4L297.5 405.8L315.1 416.4L332.7 425.6"/>
<path d="M51.5 281.8L121.8 281.9L139.4 282.2L156.9 282.9L174.5 284.9L192.1 289.4L209.7 297.0L227.2 306.7L244.8 317.4L332.7 373.3"/>
<path d="M51.5 325.6L156.9 325.7L174.5 326.0L192.1 326.9L209.7 329.3L227.2 334.3L244.8 342.0L262.4 351.4L332.7 392.2"/>
<path d="M51.5 288.9L104.2 289.1L121.8 289.5L139.4 290.6L156.9 293.5L174.5 299.7L192.1 309.8L209.7 322.3L227.2 335.9L280.0 378.0L297.5 391.8L315.1 405.1L332.7 417.4"/>
<path d="M51.5 304.1L139.4 304.3L156.9 304.8L174.5 306.1L192.1 309.4L209.7 316.2L227.2 326.1L244.8 337.9L315.1 388.8L332.7 401.1"/>
<path d="M51.5 267.3L156.9 267.4L174.5 267.6L192.1 268.1L209.7 269.7L227.2 273.5L244.8 280.6L262.4 290.4L280.0 301.6L332.7 337.0"/>
<path d="M51.5 328.0L86.7 328.2L104.2 328.8L121.8 330.4L139.4 334.3L156.9 341.2L174.5 350.4L192.1 360.8L244.8 393.2L262.4 403.7L280.0 413.5L297.5 422.4L315.1 429.9L332.7 435.5"/>
<path d="M51.5 290.8L104.2 290.9L121.8 291.1L139.4 291.8L156.9 293.8L174.5 298.1L192.1 305.3L209.7 314.3L227.2 324.2L332.7 385.6"/>
<path d="M51.5 309.3L139.4 309.5L156.9 310.0L174.5 311.4L192.1 315.1L209.7 322.6L227.2 334.0L244.8 347.8L262.4 362.5L297.5 392.2L315.1 406.5L332.7 419.5"/>
<path d="M51.5 273.8L86.7 274.0L104.2 274.4L121.8 275.5L139.4 278.5L156.9 284.9L174.5 295.0L192.1 307.4L209.7 320.7L280.0 375.7L297.5 389.3L315.1 402.5L332.7 414.8"/>
<path d="M51.5 324.0L121.8 324.2L139.4 324.7L156.9 326.0L174.5 329.5L192.1 336.3L209.7 346.3L227.2 357.9L280.0 394.9L297.5 406.7L315.1 417.7L332.7 427.0"/>
<path d="M51.5 288.1L139.4 288.2L156.9 288.4L174.5 289.0L192.1 290.6L209.7 294.6L227.2 301.8L244.8 311.5L262.4 322.5L332.7 369.0"/>
<path d="M51.5 306.5L104.2 306.7L121.8 307.2L139.4 308.6L156.9 312.0L174.5 318.3L192.1 327.1L209.7 337.2L297.5 390.9L315.1 401.2L332.7 411.1"/>
<path d="M51.5 264.6L121.8 264.7L139.4 265.0L156.9 265.9L174.5 268.3L192.1 274.0L209.7 283.7L227.2 296.4L244.8 310.6L332.7 384.6"/>
<path d="M51.5 331.6L156.9 331.8L174.5 332.1L192.1 333.2L209.7 336.0L227.2 342.2L244.8 351.9L262.4 363.9L297.5 390.0L315.1 402.9L332.7 414.9"/>
<path d="M51.5 294.7L86.7 294.9L104.2 295.4L121.8 296.9L139.4 300.7L156.9 307.8L174.5 317.9L192.1 329.5L280.0 391.0L297.5 402.9L315.1 414.0L332.7 423.9"/>
<path d="M51.5 312.2L104.2 312.3L121.8 312.5L139.4 313.1L156.9 315.0L174.5 319.2L192.1 326.6L209.7 336.4L227.2 347.3L297.5 392.7L315.1 403.6L332.7 413.9"/>
<path d="M51.5 276.5L139.4 276.6L156.9 276.9L174.5 277.7L192.1 279.9L209.7 284.6L227.2 292.2L244.8 301.7L262.4 312.0L332.7 354.8"/>
<path d="M51.5 325.2L69.1 327.1L86.7 331.8L104.2 340.4L121.8 352.4L139.4 366.0L174.5 394.3L192.1 407.9L209.7 420.3L227.2 430.3L244.8 437.1L262.4 440.9L280.0 442.8L297.5 443.6L332.7 444.0"/>
<path d="M51.5 288.6L121.8 288.8L139.4 289.2L156.9 290.4L174.5 293.5L192.1 299.9L209.7 309.9L227.2 321.9L244.8 334.8L315.1 387.7L332.7 400.5"/>
<path d="M51.5 307.9L139.4 307.9L156.9 308.1L174.5 308.6L192.1 310.0L209.7 313.6L227.2 320.5L244.8 330.3L262.4 341.6L332.7 389.9"/>
<path d="M51.5 264.0L104.2 264.1L121.8 264.6L139.4 265.7L156.9 268.8L174.5 274.8L192.1 283.6L209.7 294.0L244.8 316.4L332.7 373.1"/>
<path d="M51.5 324.4L139.4 324.6L156.9 325.1L174.5 326.6L192.1 330.1L209.7 336.4L227.2 345.1L244.8 355.0L297.5 386.1L315.1 396.3L332.7 406.2"/>
<path d="M51.5 292.8L156.9 293.0L174.5 293.3L192.1 294.2L209.7 296.7L227.2 302.5L244.8 312.1L262.4 324.5L280.0 338.2L332.7 380.7"/>
<path d="M51.5 308.8L86.7 308.9L104.2 309.4L121.8 310.7L139.4 314.1L156.9 320.9L174.5 331.0L192.1 342.9L262.4 394.3L280.0 406.6L297.5 417.9L315.1 427.5L332.7 434.7"/>
<path d="M51.5 270.3L121.8 270.6L139.4 271.2L156.9 272.7L174.5 276.6L192.1 283.8L209.7 293.7L227.2 304.9L332.7 377.0"/>
<path d="M51.5 313.6L139.4 313.7L156.9 314.0L174.5 314.7L192.1 316.6L209.7 320.9L227.2 328.3L244.8 337.9L262.4 348.6L332.7 392.6"/>
<path d="M51.5 281.9L104.2 282.2L121.8 282.8L139.4 284.4L156.9 288.1L174.5 294.7L192.1 303.5L209.7 313.4L332.7 385.9"/>
<path d="M51.5 298.5L121.8 298.7L139.4 299.0L156.9 300.0L174.5 302.8L192.1 308.9L209.7 318.7L227.2 331.1L244.8 344.6L297.5 386.3L315.1 399.9L332.7 412.6"/>
<path d="M51.5 333.0L156.9 333.2L174.5 333.6L192.1 334.9L209.7 338.1L227.2 344.6L244.8 354.3L262.4 366.0L297.5 390.9L315.1 403.1L332.7 414.5"/>
<path d="M51.5 262.7L104.2 262.9L121.8 263.2L139.4 264.2L156.9 266.9L174.5 272.6L192.1 281.3L209.7 292.0L227.2 303.5L332.7 374.6"/>
<path d="M51.5 297.2L139.4 297.4L156.9 297.8L174.5 299.0L192.1 302.2L209.7 308.2L227.2 316.9L244.8 327.1L332.7 381.7"/>
<path d="M51.5 313.9L156.9 314.0L174.5 314.2L192.1 314.7L209.7 316.2L227.2 319.8L244.8 326.2L262.4 334.8L280.0 344.5L332.7 375.0"/>
<path d="M51.5 278.8L86.7 279.1L104.2 279.9L121.8 282.0L139.4 287.0L156.9 296.2L174.5 308.7L192.1 323.0L262.4 382.9L280.0 397.6L297.5 411.4L315.1 423.6L332.7 433.0"/>
<path d="M51.5 318.2L104.2 318.3L121.8 318.6L139.4 319.5L156.9 322.0L174.5 327.5L192.1 336.8L209.7 348.8L227.2 361.9L262.4 388.8L280.0 401.9L297.5 414.3L315.1 425.0L332.7 433.3"/>
<path d="M51.5 284.3L139.4 284.5L156.9 284.8L174.5 285.9L192.1 288.8L209.7 294.8L227.2 304.2L244.8 315.5L262.4 327.7L332.7 378.0"/>
<path d="M51.5 304.2L86.7 304.4L104.2 304.7L121.8 305.6L139.4 308.0L156.9 313.2L174.5 321.5L192.1 331.8L209.7 343.1L280.0 389.2L297.5 400.3L315.1 411.0L332.7 420.6"/>
<path d="M51.5 270.1L121.8 270.3L139.4 270.7L156.9 271.8L174.5 274.6L192.1 280.3L209.7 288.6L227.2 298.5L332.7 363.2"/>
<path d="M51.5 325.6L139.4 325.7L156.9 326.0L174.5 326.7L192.1 328.6L209.7 333.4L227.2 342.2L244.8 354.4L262.4 368.2L297.5 396.9L315.1 410.5L332.7 422.6"/>
<path d="M51.5 289.4L104.2 289.7L121.8 290.3L139.4 291.9L156.9 295.9L174.5 303.5L192.1 314.3L209.7 326.9L280.0 380.4L297.5 393.6L315.1 406.3L332.7 418.0"/>
<path d="M51.5 310.6L69.1 310.9L86.7 311.9L104.2 314.5L121.8 320.1L139.4 329.0L156.9 340.0L174.5 352.0L227.2 388.7L244.8 400.6L262.4 411.9L280.0 422.0L297.5 430.3L315.1 436.3L332.7 440.1"/>
<path d="M51.5 273.5L156.9 273.6L174.5 273.9L192.1 274.8L209.7 277.1L227.2 282.0L244.8 290.1L262.4 300.2L280.0 311.3L332.7 345.6"/>
<path d="M51.5 321.8L86.7 322.0L104.2 322.4L121.8 323.7L139.4 326.7L156.9 332.7L174.5 341.1L192.1 351.0L262.4 392.9L280.0 403.0L297.5 412.6L315.1 421.3L332.7 428.7"/>
<path d="M51.5 281.9L104.2 282.0L121.8 282.2L139.4 283.0L156.9 285.2L174.5 290.3L192.1 299.5L209.7 311.7L227.2 325.4L297.5 383.1L315.1 397.2L332.7 410.6"/>
<path d="M51.5 298.1L139.4 298.2L156.9 298.5L174.5 299.5L192.1 302.0L209.7 307.7L227.2 316.9L244.8 328.5L262.4 341.3L315.1 380.8L332.7 393.7"/>
<path d="M51.5 261.0L86.7 261.1L104.2 261.4L121.8 262.2L139.4 264.3L156.9 269.1L174.5 277.2L192.1 287.8L209.7 299.4L332.7 384.7"/>
<path d="M51.5 328.6L121.8 328.7L139.4 329.1L156.9 330.0L174.5 332.5L192.1 337.8L209.7 346.0L227.2 356.1L280.0 389.2L297.5 400.0L315.1 410.3L332.7 419.8"/>
<path d="M51.5 291.3L156.9 291.5L174.5 291.9L192.1 293.0L209.7 296.0L227.2 301.7L244.8 309.9L262.4 319.6L332.7 361.4"/>
<path d="M51.5 312.9L104.2 313.1L121.8 313.6L139.4 315.0L156.9 318.6L174.5 325.9L192.1 336.8L209.7 349.8L262.4 391.6L280.0 405.1L297.5 417.6L315.1 428.0L332.7 435.5"/>
<path d="M51.5 275.9L121.8 276.0L139.4 276.2L156.9 276.8L174.5 278.4L192.1 282.5L209.7 290.2L227.2 300.8L244.8 313.0L332.7 377.9"/>
<path d="M51.5 318.0L156.9 318.1L174.5 318.3L192.1 319.1L209.7 321.1L227.2 325.6L244.8 333.5L262.4 343.8L280.0 355.2L332.7 390.7"/>
<path d="M51.5 283.0L86.7 283.1L104.2 283.5L121.8 284.5L139.4 287.3L156.9 292.8L174.5 301.3L192.1 311.4L209.7 322.2L297.5 377.8L315.1 388.7L332.7 399.4"/>
<path d="M51.5 304.2L121.8 304.4L139.4 304.9L156.9 306.2L174.5 309.3L192.1 315.3L209.7 323.7L227.2 333.4L315.1 384.8L332.7 394.9"/>
<path d="M51.5 264.5L139.4 264.6L156.9 264.9L174.5 265.7L192.1 267.9L209.7 273.1L227.2 282.2L244.8 294.1L262.4 307.4L332.7 363.3"/>
<path d="M51.5 323.4L104.2 323.8L121.8 324.4L139.4 326.3L156.9 330.7L174.5 338.6L192.1 349.3L209.7 361.3L244.8 386.4L262.4 398.8L280.0 410.5L297.5 421.2L315.1 429.9L332.7 436.2"/>
<path d="M51.5 287.0L121.8 287.1L139.4 287.4L156.9 288.2L174.5 290.4L192.1 295.3L209.7 303.4L227.2 313.7L244.8 325.1L332.7 383.9"/>
<path d="M51.5 306.7L156.9 306.9L174.5 307.2L192.1 308.2L209.7 310.8L227.2 316.2L244.8 324.4L262.4 334.3L332.7 377.6"/>
<path d="M51.5 271.4L104.2 271.5L121.8 271.8L139.4 272.6L156.9 274.8L174.5 279.5L192.1 286.9L209.7 296.1L227.2 305.9L332.7 367.4"/>
<path d="M51.5 315.2L121.8 315.3L139.4 315.5L156.9 316.1L174.5 317.6L192.1 321.7L209.7 329.7L227.2 341.4L244.8 355.2L280.0 384.6L297.5 399.1L315.1 412.8L332.7 424.7"/>
<path d="M51.5 275.5L156.9 275.6L174.5 275.8L192.1 276.5L209.7 278.4L227.2 282.9L244.8 291.2L262.4 302.6L280.0 315.5L332.7 356.3"/>
<path d="M51.5 297.5L86.7 297.7L104.2 298.3L121.8 299.9L139.4 303.9L156.9 311.4L174.5 321.7L192.1 333.4L262.4 383.2L280.0 395.4L297.5 407.2L315.1 418.0L332.7 427.3"/>
<path d="M51.5 262.6L104.2 262.7L121.8 262.9L139.4 263.6L156.9 265.6L174.5 270.1L192.1 277.8L209.7 287.7L227.2 298.8L332.7 368.4"/>
<path d="M51.5 332.1L69.1 332.3L86.7 332.8L104.2 334.3L121.8 337.9L139.4 344.4L156.9 353.3L174.5 363.4L227.2 395.0L244.8 405.1L262.4 414.7L280.0 423.2L297.5 430.3L315.1 435.7L332.7 439.3"/>
<path d="M51.5 298.9L86.7 299.1L104.2 299.4L121.8 300.5L139.4 303.4L156.9 309.7L174.5 320.0L192.1 333.0L209.7 347.2L262.4 390.9L280.0 404.9L297.5 417.7L315.1 428.5L332.7 436.0"/>
<path d="M51.5 313.9L121.8 314.1L139.4 314.6L156.9 315.8L174.5 319.2L192.1 325.9L209.7 336.2L227.2 348.4L280.0 387.9L297.5 400.8L315.1 413.0L332.7 423.7"/>
<path d="M51.5 278.4L139.4 278.5L156.9 278.6L174.5 279.2L192.1 280.7L209.7 284.5L227.2 291.7L244.8 301.7L262.4 313.2L332.7 362.4"/>
<path d="M51.5 321.4L104.2 321.6L121.8 322.1L139.4 323.4L156.9 326.6L174.5 332.8L192.1 341.9L209.7 352.4L262.4 386.1L280.0 397.1L297.5 407.8L315.1 417.6L332.7 426.2"/>
<path d="M51.5 286.6L121.8 286.7L139.4 286.9L156.9 287.5L174.5 289.0L192.1 292.7L209.7 299.3L227.2 308.2L244.8 318.2L332.7 371.2"/>
<path d="M51.5 302.8L156.9 303.0L174.5 303.3L192.1 304.3L209.7 307.0L227.2 313.1L244.8 323.0L262.4 335.7L280.0 349.6L332.7 392.4"/>
<path d="M51.5 263.2L86.7 263.4L104.2 263.9L121.8 265.4L139.4 269.0L156.9 276.1L174.5 286.4L192.1 298.6L209.7 311.5L297.5 377.6L315.1 390.6L332.7 403.1"/>
<path d="M51.5 328.7L104.2 328.8L121.8 329.0L139.4 329.6L156.9 331.3L174.5 335.4L192.1 342.8L209.7 352.9L227.2 364.3L262.4 388.1L280.0 399.8L297.5 410.9L315.1 421.0L332.7 429.4"/>
<path d="M51.5 293.4L139.4 293.5L156.9 293.8L174.5 294.5L192.1 296.5L209.7 301.1L227.2 308.8L244.8 318.6L262.4 329.4L332.7 374.2"/>
<path d="M51.5 308.8L104.2 309.1L121.8 309.7L139.4 311.4L156.9 315.4L174.5 322.2L192.1 331.2L209.7 341.2L280.0 382.8L297.5 393.0L315.1 402.9L332.7 412.4"/>
<path d="M51.5 273.3L121.8 273.5L139.4 273.8L156.9 275.0L174.5 277.9L192.1 284.3L209.7 294.5L227.2 307.1L244.8 320.9L315.1 377.5L332.7 391.4"/>
<path d="M51.5 318.7L156.9 318.9L174.5 319.4L192.1 320.7L209.7 324.2L227.2 331.0L244.8 341.0L262.4 352.9L315.1 391.0L332.7 403.4"/>
<path d="M51.5 283.7L104.2 283.8L121.8 284.2L139.4 285.3L156.9 288.2L174.5 294.1L192.1 303.1L209.7 314.0L227.2 325.6L315.1 385.2L332.7 396.8"/>
<path d="M51.5 299.4L139.4 299.6L156.9 300.1L174.5 301.4L192.1 304.7L209.7 311.0L227.2 320.0L244.8 330.3L332.7 385.3"/>
<path d="M51.5 263.7L156.9 263.8L174.5 264.0L192.1 264.6L209.7 266.2L227.2 270.0L244.8 276.6L262.4 285.4L280.0 295.2L332.7 326.2"/>
<path d="M51.5 262.0L86.7 262.2L104.2 262.6L121.8 263.8L139.4 267.1L156.9 273.8L174.5 284.2L192.1 296.8L209.7 310.3L297.5 379.9L315.1 393.5L332.7 406.6"/>
<path d="M51.5 294.3L121.8 294.6L139.4 295.1L156.9 296.6L174.5 300.3L192.1 307.4L209.7 317.6L227.2 329.4L297.5 380.1L315.1 392.6L332.7 404.6"/>
<path d="M51.5 311.4L139.4 311.5L156.9 311.7L174.5 312.3L192.1 314.1L209.7 318.3L227.2 325.7L244.8 335.7L262.4 346.8L332.7 393.3"/>
<path d="M51.5 272.7L104.2 272.9L121.8 273.5L139.4 274.9L156.9 278.5L174.5 285.1L192.1 294.1L209.7 304.4L332.7 380.8"/>
<path d="M51.5 322.7L121.8 322.8L139.4 323.0L156.9 323.6L174.5 325.4L192.1 329.5L209.7 336.3L227.2 345.1L244.8 354.9L297.5 385.1L315.1 395.0L332.7 404.6"/>
<path d="M51.5 286.4L156.9 286.6L174.5 287.1L192.1 288.3L209.7 291.7L227.2 298.7L244.8 309.7L262.4 323.2L280.0 337.7L332.7 382.3"/>
<path d="M51.5 300.8L69.1 301.7L86.7 304.3L104.2 310.1L121.8 319.5L139.4 331.5L156.9 344.6L209.7 385.1L227.2 398.3L244.8 410.8L262.4 422.0L280.0 431.1L297.5 437.3L315.1 440.8L332.7 442.6"/>
<path d="M51.5 267.6L139.4 267.8L156.9 268.2L174.5 269.5L192.1 272.7L209.7 279.1L227.2 288.7L244.8 300.2L262.4 312.4L332.7 362.5"/>
<path d="M51.5 325.7L156.9 325.8L174.5 325.9L192.1 326.5L209.7 328.0L227.2 331.6L244.8 338.4L262.4 347.9L280.0 358.7L332.7 392.6"/>
<path d="M51.5 288.1L86.7 288.4L104.2 289.0L121.8 290.7L139.4 294.6L156.9 301.5L174.5 310.6L192.1 320.8L297.5 385.0L315.1 395.5L332.7 405.6"/>
<path d="M51.5 305.9L104.2 306.0L121.8 306.4L139.4 307.5L156.9 310.4L174.5 316.9L192.1 327.2L209.7 340.2L227.2 354.4L262.4 383.4L280.0 397.6L297.5 411.1L315.1 423.1L332.7 432.4"/>
<path d="M51.5 270.8L139.4 271.0L156.9 271.4L174.5 272.8L192.1 276.2L209.7 283.0L227.2 293.3L244.8 305.5L262.4 318.6L332.7 372.1"/>
<path d="M51.5 319.3L86.7 319.5L104.2 319.8L121.8 320.9L139.4 323.8L156.9 329.7L174.5 338.8L192.1 349.9L244.8 386.1L262.4 397.9L280.0 409.3L297.5 419.7L315.1 428.5L332.7 435.0"/>
<path d="M51.5 277.7L121.8 277.9L139.4 278.3L156.9 279.7L174.5 282.9L192.1 289.3L209.7 298.3L227.2 308.9L332.7 377.0"/>
<path d="M51.5 299.4L139.4 299.5L156.9 299.6L174.5 300.2L192.1 301.8L209.7 305.5L227.2 312.2L244.8 321.1L262.4 331.2L332.7 373.3"/>
<path d="M51.5 262.8L104.2 263.1L121.8 263.8L139.4 265.8L156.9 270.4L174.5 279.1L192.1 291.0L209.7 304.5L297.5 376.3L315.1 390.5L332.7 404.2"/>
<path d="M51.5 327.1L121.8 327.2L139.4 327.5L156.9 328.3L174.5 330.6L192.1 335.8L209.7 344.6L227.2 355.9L244.8 368.4L280.0 394.1L297.5 406.4L315.1 417.8L332.7 427.5"/>
<path d="M51.5 292.9L156.9 293.1L174.5 293.4L192.1 294.4L209.7 297.1L227.2 302.8L244.8 311.7L262.4 322.5L280.0 334.3L332.7 370.5"/>
<path d="M51.5 315.8L86.7 316.0L104.2 316.5L121.8 317.9L139.4 321.5L156.9 328.1L174.5 337.3L192.1 347.8L262.4 392.0L280.0 402.7L297.5 412.8L315.1 421.9L332.7 429.6"/>
<path d="M51.5 277.7L104.2 277.8L121.8 278.0L139.4 278.6L156.9 280.4L174.5 284.4L192.1 291.3L209.7 300.2L227.2 310.2L332.7 372.9"/>
<path d="M51.5 323.1L139.4 323.2L156.9 323.6L174.5 324.8L192.1 327.8L209.7 334.3L227.2 344.5L244.8 357.1L297.5 398.1L315.1 411.1L332.7 422.7"/>
<path d="M51.5 287.5L86.7 287.6L104.2 287.9L121.8 288.8L139.4 291.4L156.9 296.9L174.5 305.9L192.1 317.3L209.7 329.7L280.0 381.3L297.5 393.9L315.1 406.1L332.7 417.3"/>
<path d="M51.5 308.5L121.8 308.7L139.4 309.1L156.9 310.2L174.5 313.1L192.1 319.1L209.7 328.2L227.2 339.0L297.5 386.0L315.1 397.6L332.7 408.6"/>
<path d="M51.5 265.5L156.9 265.8L174.5 266.2L192.1 267.6L209.7 271.0L227.2 277.4L244.8 286.3L262.4 296.6L332.7 340.7"/>
<path d="M51.5 325.3L104.2 325.5L121.8 325.9L139.4 327.0L156.9 329.9L174.5 335.5L192.1 343.7L209.7 353.2L280.0 393.6L297.5 403.4L315.1 412.7L332.7 421.1"/>
<path d="M51.5 289.8L121.8 289.9L139.4 290.1L156.9 290.8L174.5 292.8L192.1 297.6L209.7 306.2L227.2 317.8L244.8 330.9L315.1 386.0L332.7 399.4"/>
<path d="M51.5 309.6L156.9 309.8L174.5 310.1L192.1 310.9L209.7 313.3L227.2 318.6L244.8 327.3L262.4 338.4L280.0 350.6L332.7 388.3"/>
<path d="M51.5 271.5L86.7 271.7L104.2 272.1L121.8 273.4L139.4 276.5L156.9 282.8L174.5 292.0L192.1 302.8L227.2 326.0L315.1 384.7L332.7 396.1"/>
<path d="M51.5 316.7L69.1 317.3L86.7 318.9L104.2 322.7L121.8 329.5L139.4 338.6L156.9 348.9L227.2 391.9L244.8 402.3L262.4 412.1L280.0 421.1L297.5 428.7L315.1 434.6L332.7 438.6"/>
<path d="M51.5 283.5L139.4 283.6L156.9 283.9L174.5 284.5L192.1 286.4L209.7 290.5L227.2 297.4L244.8 306.2L262.4 316.0L332.7 356.6"/>
<path d="M51.5 300.3L86.7 300.4L104.2 300.7L121.8 301.6L139.4 304.1L156.9 309.8L174.5 319.6L192.1 332.6L209.7 347.1L262.4 392.0L280.0 406.4L297.5 419.4L315.1 430.0L332.7 437.2"/>
<path d="M51.5 264.1L121.8 264.2L139.4 264.6L156.9 265.6L174.5 268.5L192.1 274.7L209.7 284.6L227.2 296.9L244.8 310.2L332.7 379.3"/>
<path d="M51.5 327.8L156.9 328.0L174.5 328.4L192.1 329.7L209.7 333.0L227.2 339.7L244.8 349.4L262.4 361.0L315.1 397.9L332.7 409.6"/>
<path d="M51.5 292.0L104.2 292.2L121.8 292.6L139.4 293.6L156.9 296.4L174.5 302.2L192.1 310.9L209.7 321.5L227.2 332.9L297.5 379.5L315.1 391.0L332.7 402.2"/>
<path d="M51.5 314.0L139.4 314.2L156.9 314.7L174.5 316.0L192.1 319.2L209.7 325.3L227.2 334.0L244.8 344.1L315.1 387.0L332.7 397.5"/>
<path d="M51.5 275.7L156.9 275.8L174.5 276.1L192.1 276.9L209.7 279.2L227.2 284.6L244.8 294.1L262.4 306.8L280.0 320.9L332.7 365.4"/>
<path d="M51.5 316.2L86.7 316.5L104.2 317.2L121.8 319.2L139.4 323.9L156.9 332.4L174.5 343.8L192.1 356.6L244.8 396.4L262.4 409.0L280.0 420.4L297.5 429.8L315.1 436.5L332.7 440.4"/>
<path d="M51.5 285.7L104.2 285.8L121.8 286.1L139.4 287.0L156.9 289.3L174.5 294.5L192.1 303.2L209.7 314.1L227.2 326.1L315.1 388.1L332.7 400.0"/>
<path d="M51.5 301.5L139.4 301.7L156.9 302.0L174.5 303.1L192.1 305.8L209.7 311.5L227.2 320.2L244.8 330.6L262.4 341.8L332.7 387.6"/>
<path d="M51.5 266.5L86.7 266.6L104.2 266.9L121.8 267.8L139.4 270.2L156.9 275.1L174.5 282.9L192.1 292.5L209.7 302.9L332.7 377.9"/>
<path d="M51.5 321.9L121.8 322.2L139.4 322.7L156.9 324.3L174.5 328.3L192.1 336.2L209.7 347.6L227.2 361.1L262.4 389.5L280.0 403.4L297.5 416.3L315.1 427.3L332.7 435.2"/>
<path d="M51.5 288.2L139.4 288.3L156.9 288.5L174.5 289.2L192.1 291.1L209.7 295.6L227.2 303.7L244.8 314.8L262.4 327.4L332.7 380.4"/>
<path d="M51.5 307.4L104.2 307.7L121.8 308.2L139.4 309.8L156.9 313.6L174.5 320.7L192.1 330.7L209.7 342.1L280.0 390.5L297.5 402.2L315.1 413.3L332.7 423.1"/>
<path d="M51.5 272.4L121.8 272.5L139.4 272.7L156.9 273.3L174.5 275.2L192.1 279.5L209.7 286.9L227.2 296.6L244.8 307.4L332.7 364.1"/>
<path d="M51.5 316.2L156.9 316.3L174.5 316.6L192.1 317.4L209.7 319.6L227.2 324.4L244.8 331.9L262.4 341.3L280.0 351.5L332.7 382.9"/>
<path d="M51.5 277.0L86.7 277.3L104.2 277.9L121.8 279.6L139.4 283.9L156.9 292.1L174.5 303.7L192.1 317.0L280.0 388.2L297.5 402.0L315.1 414.8L332.7 425.9"/>
<path d="M51.5 295.7L104.2 295.8L121.8 296.1L139.4 296.8L156.9 298.9L174.5 303.7L192.1 312.1L209.7 323.3L227.2 335.7L297.5 387.7L315.1 400.3L332.7 412.2"/>
<path d="M51.5 263.5L139.4 263.6L156.9 264.0L174.5 264.9L192.1 267.3L209.7 272.6L227.2 281.2L244.8 291.9L262.4 303.5L332.7 351.8"/>
<path d="M51.5 330.0L86.7 330.1L104.2 330.4L121.8 331.1L139.4 333.1L156.9 337.7L174.5 345.3L192.1 355.1L209.7 365.7L244.8 387.7L262.4 398.4L280.0 408.8L297.5 418.3L315.1 426.6L332.7 433.2"/>
<path d="M51.5 297.4L121.8 297.5L139.4 297.8L156.9 298.8L174.5 301.2L192.1 306.2L209.7 314.0L227.2 323.4L262.4 343.8L332.7 385.3"/>
<path d="M51.5 317.7L69.1 317.8L86.7 318.2L104.2 319.4L121.8 322.7L139.4 329.5L156.9 339.9L174.5 352.6L227.2 393.7L244.8 406.9L262.4 419.0L280.0 429.0L297.5 436.1L315.1 440.3L332.7 442.4"/>
<path d="M51.5 278.1L104.2 278.4L121.8 278.8L139.4 280.2L156.9 283.6L174.5 290.4L192.1 300.4L209.7 312.2L227.2 324.8L297.5 376.3L315.1 389.0L332.7 401.3"/>
<path d="M51.5 325.8L121.8 325.9L139.4 326.1L156.9 326.6L174.5 328.2L192.1 332.1L209.7 339.3L227.2 349.1L244.8 360.2L297.5 395.0L315.1 406.2L332.7 416.6"/>
<path d="M51.5 288.9L156.9 289.1L174.5 289.3L192.1 290.0L209.7 291.9L227.2 296.3L244.8 303.7L262.4 313.2L280.0 323.8L332.7 356.7"/>
<path d="M51.5 307.5L86.7 307.6L104.2 308.0L121.8 309.0L139.4 311.6L156.9 316.9L174.5 324.8L192.1 334.2L280.0 385.1L297.5 395.1L315.1 404.8L332.7 413.9"/>
<path d="M51.5 269.5L104.2 269.6L121.8 269.8L139.4 270.5L156.9 272.5L174.5 277.3L192.1 286.2L209.7 298.7L227.2 312.9L315.1 388.1L332.7 402.6"/>
<path d="M51.5 330.1L139.4 330.2L156.9 330.5L174.5 331.4L192.1 333.7L209.7 339.0L227.2 348.1L244.8 359.9L262.4 373.0L297.5 399.6L315.1 412.1L332.7 423.2"/>
<path d="M51.5 296.1L104.2 296.5L121.8 297.1L139.4 299.1L156.9 303.6L174.5 311.6L192.1 322.3L209.7 334.2L280.0 384.3L297.5 396.6L315.1 408.4L332.7 419.1"/>
<path d="M51.5 309.4L121.8 309.5L139.4 309.8L156.9 310.7L174.5 312.9L192.1 318.0L209.7 326.1L227.2 336.4L244.8 347.6L297.5 382.3L315.1 393.7L332.7 404.7"/>
<path d="M51.5 275.0L156.9 275.2L174.5 275.6L192.1 276.6L209.7 279.3L227.2 284.7L244.8 293.0L262.4 302.8L297.5 324.2L332.7 345.9"/>
<path d="M51.5 317.1L104.2 317.3L121.8 317.7L139.4 318.9L156.9 322.3L174.5 329.3L192.1 340.2L209.7 353.6L227.2 367.9L262.4 396.8L280.0 410.5L297.5 422.7L315.1 432.2L332.7 438.3"/>
<path d="M51.5 281.8L121.8 281.9L139.4 282.1L156.9 282.6L174.5 284.1L192.1 287.9L209.7 295.3L227.2 306.0L244.8 318.6L332.7 385.7"/>
<path d="M51.5 300.0L156.9 300.1L174.5 300.3L192.1 301.0L209.7 302.8L227.2 307.1L244.8 314.8L262.4 325.2L280.0 336.9L332.7 373.9"/>
<path d="M51.5 264.3L86.7 264.5L104.2 265.1L121.8 266.7L139.4 270.5L156.9 277.4L174.5 286.9L192.1 297.8L315.1 378.1L332.7 389.4"/>
<path d="M51.5 328.3L104.2 328.4L121.8 328.6L139.4 329.3L156.9 331.2L174.5 335.5L192.1 342.7L209.7 352.0L227.2 362.2L280.0 393.6L297.5 403.7L315.1 413.3L332.7 421.9"/>
<path d="M51.5 295.3L139.4 295.5L156.9 295.9L174.5 297.1L192.1 300.5L209.7 307.4L227.2 318.1L244.8 331.2L262.4 345.4L315.1 388.6L332.7 402.5"/>
<path d="M51.5 315.2L86.7 315.3L104.2 315.7L121.8 316.7L139.4 319.4L156.9 325.3L174.5 334.8L192.1 346.6L209.7 359.4L244.8 385.6L262.4 398.4L280.0 410.6L297.5 421.6L315.1 430.5L332.7 436.8"/>
<path d="M51.5 275.4L121.8 275.6L139.4 276.0L156.9 277.2L174.5 280.4L192.1 286.7L209.7 296.2L227.2 307.4L244.8 319.3L332.7 380.3"/>
<path d="M51.5 328.3L139.4 328.4L156.9 328.5L174.5 329.1L192.1 330.6L209.7 334.2L227.2 340.9L244.8 350.2L262.4 360.8L315.1 393.9L332.7 404.6"/>
<path d="M51.5 286.2L104.2 286.4L121.8 286.8L139.4 288.1L156.9 291.2L174.5 297.1L192.1 305.5L209.7 315.3L332.7 388.6"/>
<path d="M51.5 303.2L121.8 303.3L139.4 303.6L156.9 304.4L174.5 306.6L192.1 311.7L209.7 320.8L227.2 332.9L244.8 346.4L297.5 388.7L315.1 402.4L332.7 415.2"/>
<path d="M51.5 267.9L156.9 268.1L174.5 268.4L192.1 269.3L209.7 271.9L227.2 277.6L244.8 286.7L262.4 298.3L280.0 310.9L332.7 350.0"/>
<path d="M51.5 325.0L69.1 327.3L86.7 332.2L104.2 340.5L121.8 350.9L139.4 362.5L174.5 386.1L192.1 397.7L209.7 408.9L227.2 419.1L244.8 427.8L262.4 434.4L280.0 438.8L297.5 441.4L315.1 442.8L332.7 443.5"/>
<path d="M51.5 288.3L104.2 288.4L121.8 288.6L139.4 289.2L156.9 290.9L174.5 294.8L192.1 301.7L209.7 311.1L227.2 321.7L332.7 388.2"/>
<path d="M51.5 308.0L139.4 308.2L156.9 308.4L174.5 309.1L192.1 311.1L209.7 315.5L227.2 322.7L244.8 331.8L262.4 341.8L332.7 383.1"/>
<path d="M51.5 272.5L86.7 272.6L104.2 272.9L121.8 273.8L139.4 276.2L156.9 281.7L174.5 291.0L192.1 303.1L209.7 316.5L297.5 386.4L315.1 399.9L332.7 412.6"/>
<path d="M51.5 315.0L121.8 315.2L139.4 315.5L156.9 316.6L174.5 319.4L192.1 325.4L209.7 334.8L227.2 346.3L244.8 358.7L280.0 384.0L297.5 396.5L315.1 408.4L332.7 419.3"/>
<path d="M51.5 282.3L156.9 282.5L174.5 282.9L192.1 284.2L209.7 287.5L227.2 293.9L244.8 303.2L262.4 314.1L332.7 361.3"/>
<path d="M51.5 300.1L104.2 300.2L121.8 300.6L139.4 301.7L156.9 304.4L174.5 310.0L192.1 318.4L209.7 328.5L297.5 382.9L315.1 393.6L332.7 404.0"/>
<path d="M51.5 260.7L139.4 260.9L156.9 261.3L174.5 262.6L192.1 265.8L209.7 271.8L227.2 280.2L244.8 289.8L332.7 341.0"/>
<path d="M51.5 331.1L156.9 331.2L174.5 331.5L192.1 332.4L209.7 334.9L227.2 340.6L244.8 350.5L262.4 363.3L280.0 377.6L297.5 392.1L315.1 406.3L332.7 419.2"/>
<path d="M51.5 291.1L86.7 291.2L104.2 291.7L121.8 293.0L139.4 296.3L156.9 303.2L174.5 313.5L192.1 326.0L209.7 339.3L262.4 380.3L280.0 393.7L297.5 406.6L315.1 418.5L332.7 428.4"/>
<path d="M51.5 314.5L121.8 314.8L139.4 315.3L156.9 316.9L174.5 320.7L192.1 327.9L209.7 338.1L227.2 349.8L280.0 387.0L297.5 399.1L315.1 410.7L332.7 421.1"/>
<path d="M51.5 281.6L139.4 281.7L156.9 281.9L174.5 282.6L192.1 284.4L209.7 288.7L227.2 296.2L244.8 306.1L262.4 317.2L332.7 363.6"/>
<path d="M51.5 321.7L104.2 322.0L121.8 322.5L139.4 324.1L156.9 327.8L174.5 334.4L192.1 343.4L209.7 353.6L262.4 385.5L280.0 396.0L297.5 406.1L315.1 415.6L332.7 424.1"/>
<path d="M51.5 283.6L121.8 283.8L139.4 284.1L156.9 285.1L174.5 287.8L192.1 293.9L209.7 304.1L227.2 317.0L244.8 331.2L297.5 375.3L315.1 389.9L332.7 403.9"/>
<path d="M51.5 305.2L156.9 305.4L174.5 305.8L192.1 307.0L209.7 310.2L227.2 316.8L244.8 326.8L262.4 339.0L280.0 352.1L332.7 392.0"/>
<path d="M51.5 264.6L104.2 264.7L121.8 265.0L139.4 266.0L156.9 268.7L174.5 274.3L192.1 283.2L209.7 294.3L227.2 306.3L332.7 380.5"/>
<path d="M51.5 323.8L139.4 324.0L156.9 324.4L174.5 325.6L192.1 328.6L209.7 334.7L227.2 343.6L244.8 354.1L297.5 387.8L315.1 398.8L332.7 409.4"/>
<path d="M51.5 292.6L156.9 292.7L174.5 292.8L192.1 293.4L209.7 294.8L227.2 298.3L244.8 304.8L262.4 313.6L280.0 323.6L332.7 355.4"/>
<path d="M51.5 310.6L86.7 310.9L104.2 311.7L121.8 314.0L139.4 319.2L156.9 328.4L174.5 340.6L192.1 354.4L227.2 382.9L244.8 397.0L262.4 410.4L280.0 422.3L297.5 431.8L315.1 438.0L332.7 441.4"/>
<path d="M51.5 275.6L104.2 275.7L121.8 276.0L139.4 277.0L156.9 279.6L174.5 285.3L192.1 294.6L209.7 306.3L227.2 319.1L315.1 385.0L332.7 397.9"/>
<path d="M51.5 317.4L139.4 317.6L156.9 318.0L174.5 319.2L192.1 322.2L209.7 328.4L227.2 337.6L244.8 348.7L315.1 396.4L332.7 407.8"/>
<path d="M51.5 280.3L86.7 280.4L104.2 280.7L121.8 281.7L139.4 284.3L156.9 289.6L174.5 297.9L192.1 308.1L209.7 319.0L315.1 386.5L332.7 397.4"/>
<path d="M51.5 299.1L69.1 299.6L86.7 300.9L104.2 304.2L121.8 310.3L139.4 318.9L156.9 328.7L244.8 380.9L262.4 391.2L280.0 401.2L297.5 410.8L315.1 419.6L332.7 427.2"/>
<path d="M51.5 266.3L139.4 266.4L156.9 266.7L174.5 267.4L192.1 269.5L209.7 274.5L227.2 283.3L244.8 295.3L262.4 308.7L332.7 365.5"/>
<path d="M51.5 331.9L104.2 332.2L121.8 332.8L139.4 334.5L156.9 338.6L174.5 346.3L192.1 357.0L209.7 369.1L244.8 394.4L262.4 406.6L280.0 417.8L297.5 427.4L315.1 434.6L332.7 439.2"/>
<path d="M51.5 296.6L121.8 296.8L139.4 297.0L156.9 297.7L174.5 299.8L192.1 304.4L209.7 312.4L227.2 322.7L244.8 334.2L315.1 381.9L332.7 393.6"/>
<path d="M51.5 315.4L156.9 315.6L174.5 315.9L192.1 316.8L209.7 319.2L227.2 324.3L244.8 332.4L262.4 342.4L280.0 353.1L332.7 386.1"/>
<path d="M51.5 278.1L86.7 278.3L104.2 278.8L121.8 280.1L139.4 283.3L156.9 289.3L174.5 297.8L192.1 307.5L315.1 379.8L332.7 390.0"/>
<path d="M51.5 324.6L104.2 324.7L121.8 325.0L139.4 325.8L156.9 328.1L174.5 333.4L192.1 342.5L209.7 354.4L227.2 367.7L262.4 394.9L280.0 407.9L297.5 419.8L315.1 429.6L332.7 436.4"/>
<path d="M51.5 284.6L139.4 284.8L156.9 285.1L174.5 286.1L192.1 288.8L209.7 294.6L227.2 303.8L244.8 315.2L262.4 327.6L332.7 378.6"/>
<path d="M51.5 301.6L86.7 301.7L104.2 302.0L121.8 302.8L139.4 305.1L156.9 310.1L174.5 318.2L192.1 328.6L209.7 339.9L280.0 386.8L297.5 398.2L315.1 409.1L332.7 419.1"/>
<path d="M51.5 264.4L121.8 264.6L139.4 264.9L156.9 265.9L174.5 268.6L192.1 274.0L209.7 282.2L227.2 292.2L244.8 302.9L332.7 357.8"/>
<path d="M51.5 325.6L156.9 325.8L174.5 326.2L192.1 327.5L209.7 330.5L227.2 336.4L244.8 344.6L262.4 354.1L332.7 394.2"/>
<path d="M51.5 290.3L104.2 290.6L121.8 291.2L139.4 292.8L156.9 296.9L174.5 305.0L192.1 316.8L209.7 330.7L227.2 345.3L280.0 390.0L297.5 404.3L315.1 417.5L332.7 428.4"/>
<path d="M51.5 307.2L121.8 307.3L139.4 307.5L156.9 308.2L174.5 310.1L192.1 314.8L209.7 323.2L227.2 334.5L244.8 347.4L297.5 387.9L315.1 401.0L332.7 413.3"/>
<path d="M51.5 269.1L156.9 269.2L174.5 269.5L192.1 270.4L209.7 272.7L227.2 277.8L244.8 286.3L262.4 297.3L280.0 309.3L332.7 346.9"/>
<path d="M51.5 317.1L86.7 317.2L104.2 317.6L121.8 318.9L139.4 321.9L156.9 328.1L174.5 337.1L192.1 347.7L262.4 393.3L280.0 404.2L297.5 414.5L315.1 423.7L332.7 431.2"/>
<path d="M51.5 279.5L121.8 279.7L139.4 280.3L156.9 281.7L174.5 285.3L192.1 291.8L209.7 300.7L227.2 310.8L332.7 375.3"/>
<path d="M51.5 298.7L139.4 298.8L156.9 299.1L174.5 300.1L192.1 302.7L209.7 308.6L227.2 318.5L244.8 331.2L262.4 345.3L315.1 389.0L332.7 403.1"/>
<path d="M51.5 262.4L86.7 262.5L104.2 262.8L121.8 263.6L139.4 265.7L156.9 270.6L174.5 279.3L192.1 290.7L209.7 303.5L315.1 383.9L332.7 396.9"/>
<path d="M51.5 332.9L121.8 333.1L139.4 333.4L156.9 334.3L174.5 336.8L192.1 342.3L209.7 351.0L227.2 361.9L280.0 397.7L297.5 409.1L315.1 419.5L332.7 428.4"/>
<path d="M51.5 298.8L156.9 299.0L174.5 299.4L192.1 300.5L209.7 303.5L227.2 309.3L244.8 318.1L262.4 328.6L332.7 373.8"/>
<path d="M51.5 312.3L104.2 312.4L121.8 312.7L139.4 313.7L156.9 316.1L174.5 321.3L192.1 329.2L209.7 338.8L297.5 391.1L315.1 401.3L332.7 411.0"/>
<path d="M51.5 281.4L121.8 281.5L139.4 281.7L156.9 282.3L174.5 284.0L192.1 288.2L209.7 296.3L227.2 307.9L244.8 321.3L315.1 378.7L332.7 392.8"/>
<path d="M51.5 322.8L86.7 323.1L104.2 323.8L121.8 325.7L139.4 330.2L156.9 338.4L174.5 349.4L192.1 361.8L227.2 387.7L244.8 400.3L262.4 412.3L280.0 423.0L297.5 431.5L315.1 437.4L332.7 440.8"/>
<path d="M51.5 290.2L86.7 290.5L104.2 291.1L121.8 292.8L139.4 297.0L156.9 304.5L174.5 314.7L192.1 326.1L280.0 386.5L297.5 398.2L315.1 409.4L332.7 419.7"/>
<path d="M51.5 302.0L104.2 302.1L121.8 302.4L139.4 303.2L156.9 305.2L174.5 309.9L192.1 317.6L209.7 327.4L227.2 338.2L297.5 382.9L315.1 393.9L332.7 404.5"/>
<path d="M51.5 266.7L139.4 266.9L156.9 267.2L174.5 268.1L192.1 270.6L209.7 275.7L227.2 283.5L244.8 293.0L262.4 303.2L332.7 345.2"/>
<path d="M51.5 330.3L86.7 330.4L104.2 330.8L121.8 332.0L139.4 335.0L156.9 341.5L174.5 351.7L192.1 364.3L227.2 391.6L244.8 405.0L262.4 417.4L280.0 427.8L297.5 435.4L315.1 440.0L332.7 442.3"/>
<path d="M51.5 292.7L121.8 292.9L139.4 293.4L156.9 294.8L174.5 298.2L192.1 305.1L209.7 315.3L227.2 327.2L315.1 391.4L332.7 403.7"/>
<path d="M51.5 312.6L139.4 312.7L156.9 312.9L174.5 313.5L192.1 315.1L209.7 319.1L227.2 326.3L244.8 336.2L262.4 347.5L315.1 382.9L332.7 394.5"/>
<path d="M51.5 273.4L104.2 273.7L121.8 274.1L139.4 275.5L156.9 278.9L174.5 285.3L192.1 294.2L209.7 304.6L332.7 381.9"/>
<path d="M51.5 318.3L121.8 318.4L139.4 318.6L156.9 319.2L174.5 320.8L192.1 324.7L209.7 331.4L227.2 340.2L244.8 350.0L315.1 390.8L332.7 400.7"/>
<path d="M51.5 276.7L156.9 276.8L174.5 277.2L192.1 278.3L209.7 281.1L227.2 287.3L244.8 297.2L262.4 309.6L280.0 323.0L332.7 364.7"/>
<path d="M51.5 304.0L86.7 304.2L104.2 304.7L121.8 306.3L139.4 310.0L156.9 317.2L174.5 327.5L192.1 339.3L262.4 389.7L280.0 401.9L297.5 413.4L315.1 423.6L332.7 431.7"/>
<path d="M51.5 261.3L104.2 261.4L121.8 261.6L139.4 262.3L156.9 264.1L174.5 268.3L192.1 275.8L209.7 285.8L227.2 297.0L332.7 367.6"/>
<path d="M51.5 332.0L139.4 332.2L156.9 332.4L174.5 333.2L192.1 335.4L209.7 340.1L227.2 347.8L244.8 357.4L262.4 367.9L297.5 389.3L315.1 399.8L332.7 409.8"/>
<path d="M51.5 293.4L104.2 293.7L121.8 294.3L139.4 296.2L156.9 300.3L174.5 307.2L192.1 316.0L209.7 325.8L315.1 386.7L332.7 396.6"/>
<path d="M51.5 310.4L121.8 310.6L139.4 311.0L156.9 312.3L174.5 315.7L192.1 322.8L209.7 333.9L227.2 347.4L244.8 361.9L280.0 391.2L297.5 405.4L315.1 418.4L332.7 429.1"/>
<path d="M51.5 274.4L139.4 274.4L156.9 274.6L174.5 275.2L192.1 276.7L209.7 280.6L227.2 288.1L244.8 298.9L262.4 311.6L297.5 338.5L332.7 365.8"/>
<path d="M51.5 320.6L104.2 320.8L121.8 321.2L139.4 322.5L156.9 325.7L174.5 332.3L192.1 341.9L209.7 353.4L262.4 390.1L280.0 402.0L297.5 413.3L315.1 423.3L332.7 431.4"/>
<path d="M51.5 285.2L121.8 285.3L139.4 285.5L156.9 286.0L174.5 287.6L192.1 291.3L209.7 298.2L227.2 307.7L244.8 318.5L332.7 376.1"/>
<path d="M51.5 303.2L156.9 303.3L174.5 303.5L192.1 304.2L209.7 306.0L227.2 310.2L244.8 317.4L262.4 326.6L280.0 336.9L332.7 369.0"/>
<path d="M51.5 266.1L86.7 266.3L104.2 266.8L121.8 268.2L139.4 271.9L156.9 279.4L174.5 290.6L192.1 304.1L209.7 318.4L280.0 377.0L297.5 391.4L315.1 405.3L332.7 418.1"/>
<path d="M51.5 323.4L104.2 323.5L121.8 323.7L139.4 324.3L156.9 326.0L174.5 330.2L192.1 338.0L209.7 348.9L227.2 361.4L262.4 387.6L280.0 400.4L297.5 412.6L315.1 423.3L332.7 431.9"/>
<path d="M51.5 292.7L139.4 292.8L156.9 293.1L174.5 293.8L192.1 295.8L209.7 300.5L227.2 308.6L244.8 319.2L262.4 330.9L332.7 379.8"/>
<path d="M51.5 309.5L69.1 310.8L86.7 314.1L104.2 320.3L121.8 329.4L139.4 339.9L209.7 384.9L227.2 396.0L244.8 406.6L262.4 416.6L280.0 425.3L297.5 432.3L315.1 437.2L332.7 440.4"/>
<path d="M51.5 273.8L121.8 273.9L139.4 274.2L156.9 274.9L174.5 277.0L192.1 281.5L209.7 288.8L227.2 298.1L244.8 308.3L332.7 361.3"/>
<path d="M51.5 319.1L156.9 319.3L174.5 319.8L192.1 321.1L209.7 324.7L227.2 331.8L244.8 342.7L262.4 355.7L315.1 397.7L332.7 410.9"/>
<path d="M51.5 282.0L104.2 282.2L121.8 282.5L139.4 283.6L156.9 286.5L174.5 292.7L192.1 302.3L209.7 314.1L227.2 326.9L297.5 379.3L315.1 392.2L332.7 404.7"/>
<path d="M51.5 296.1L139.4 296.3L156.9 296.8L174.5 298.1L192.1 301.4L209.7 308.0L227.2 317.5L244.8 328.7L332.7 388.6"/>
<path d="M51.5 330.4L156.9 330.5L174.5 330.7L192.1 331.3L209.7 332.9L227.2 336.7L244.8 343.6L262.4 352.9L280.0 363.5L332.7 396.3"/>
<path d="M51.5 328.8L86.7 329.0L104.2 329.5L121.8 330.9L139.4 334.4L156.9 340.6L174.5 349.2L192.1 359.0L244.8 389.8L262.4 399.8L280.0 409.4L297.5 418.3L315.1 426.1L332.7 432.4"/>
<path d="M51.5 297.8L104.2 297.9L121.8 298.2L139.4 299.1L156.9 301.6L174.5 307.2L192.1 316.7L209.7 328.9L227.2 342.4L280.0 384.4L297.5 398.1L315.1 411.1L332.7 422.6"/>
<path d="M51.5 313.3L139.4 313.5L156.9 313.9L174.5 315.0L192.1 317.8L209.7 323.9L227.2 333.4L244.8 345.0L262.4 357.5L297.5 383.0L315.1 395.6L332.7 407.7"/>
<path d="M51.5 279.3L86.7 279.5L104.2 279.8L121.8 280.6L139.4 283.1L156.9 288.3L174.5 296.7L192.1 307.3L209.7 318.8L297.5 378.3L315.1 390.0L332.7 401.4"/>
<path d="M51.5 321.7L121.8 321.9L139.4 322.2L156.9 323.3L174.5 326.1L192.1 331.8L209.7 340.3L227.2 350.4L297.5 393.7L315.1 404.2L332.7 414.0"/>
<path d="M51.5 283.0L156.9 283.3L174.5 283.7L192.1 285.1L209.7 288.3L227.2 294.4L244.8 302.8L262.4 312.5L332.7 353.6"/>
<path d="M51.5 303.0L104.2 303.2L121.8 303.8L139.4 305.4L156.9 309.4L174.5 317.2L192.1 328.2L209.7 341.1L262.4 382.1L280.0 395.6L297.5 408.6L315.1 420.3L332.7 429.9"/>
<path d="M51.5 265.6L121.8 265.7L139.4 265.9L156.9 266.6L174.5 268.5L192.1 273.0L209.7 281.0L227.2 291.8L244.8 303.8L332.7 367.3"/>
<path d="M51.5 327.6L156.9 327.7L174.5 328.0L192.1 328.9L209.7 331.1L227.2 336.1L244.8 344.3L262.4 354.6L280.0 365.8L315.1 388.8L332.7 400.1"/>
<path d="M51.5 295.0L86.7 295.2L104.2 295.6L121.8 296.8L139.4 299.9L156.9 305.8L174.5 314.5L192.1 324.5L297.5 389.4L315.1 399.8L332.7 409.8"/>
<path d="M51.5 313.4L121.8 313.7L139.4 314.2L156.9 315.7L174.5 319.2L192.1 325.5L209.7 334.0L227.2 343.6L297.5 383.9L315.1 393.8L332.7 403.4"/>
<path d="M51.5 272.4L139.4 272.5L156.9 272.9L174.5 273.9L192.1 276.8L209.7 283.1L227.2 293.6L244.8 306.9L262.4 321.4L332.7 382.0"/>
<path d="M51.5 316.8L86.7 316.9L104.2 317.2L121.8 318.0L139.4 320.4L156.9 325.7L174.5 334.8L192.1 346.7L209.7 359.8L244.8 387.0L262.4 400.2L280.0 412.8L297.5 423.8L315.1 432.5L332.7 438.2"/>
<path d="M51.5 278.5L121.8 278.6L139.4 279.0L156.9 280.0L174.5 282.7L192.1 288.5L209.7 297.7L227.2 309.1L244.8 321.3L332.7 384.4"/>
<path d="M51.5 300.5L156.9 300.7L174.5 301.1L192.1 302.4L209.7 305.6L227.2 311.8L244.8 320.9L262.4 331.7L332.7 378.0"/>
<path d="M51.5 262.8L104.2 263.0L121.8 263.3L139.4 264.3L156.9 267.0L174.5 272.5L192.1 280.7L209.7 290.6L244.8 312.0L332.7 366.5"/>
<path d="M51.5 329.1L69.1 329.5L86.7 330.5L104.2 333.2L121.8 339.3L139.4 349.4L156.9 362.3L174.5 376.5L192.1 390.9L209.7 405.0L227.2 417.9L244.8 428.7L262.4 436.3L280.0 440.6L297.5 442.6L315.1 443.5L332.7 443.9"/>
<path d="M51.5 290.4L156.9 290.5L174.5 290.8L192.1 291.6L209.7 293.8L227.2 298.9L244.8 307.7L262.4 319.3L280.0 332.2L332.7 372.6"/>
<path d="M51.5 311.4L86.7 311.5L104.2 311.9L121.8 313.1L139.4 316.1L156.9 322.2L174.5 331.5L192.1 342.8L209.7 354.9L262.4 391.8L280.0 403.6L297.5 414.7L315.1 424.5L332.7 432.2"/>
<path d="M51.5 276.9L121.8 277.2L139.4 277.6L156.9 279.0L174.5 282.5L192.1 289.0L209.7 298.3L227.2 309.0L332.7 377.8"/>
<path d="M51.5 317.9L139.4 318.0L156.9 318.2L174.5 318.8L192.1 320.5L209.7 324.4L227.2 331.2L244.8 340.3L262.4 350.5L332.7 392.7"/>
<path d="M51.5 282.7L86.7 282.8L104.2 283.1L121.8 283.8L139.4 285.8L156.9 290.7L174.5 299.6L192.1 311.8L209.7 325.6L280.0 383.6L297.5 397.7L315.1 411.2L332.7 423.1"/>
<path d="M51.5 301.1L121.8 301.3L139.4 301.6L156.9 302.5L174.5 304.9L192.1 310.3L209.7 319.3L227.2 330.9L244.8 343.7L297.5 383.3L315.1 396.3L332.7 408.7"/>
<path d="M51.5 268.1L156.9 268.3L174.5 268.7L192.1 269.7L209.7 272.6L227.2 278.4L244.8 287.5L262.4 298.6L280.0 310.5L332.7 347.3"/>
<path d="M51.5 325.0L104.2 325.1L121.8 325.4L139.4 326.3L156.9 328.7L174.5 333.8L192.1 341.9L209.7 352.0L227.2 362.9L280.0 396.2L297.5 406.8L315.1 416.7L332.7 425.4"/>
<path d="M51.5 292.1L139.4 292.3L156.9 292.7L174.5 293.8L192.1 296.5L209.7 302.1L227.2 310.2L244.8 319.9L332.7 372.4"/>
<path d="M51.5 311.2L156.9 311.3L174.5 311.5L192.1 312.2L209.7 314.1L227.2 318.7L244.8 327.3L262.4 339.1L280.0 352.5L332.7 394.7"/>
<path d="M51.5 270.4L86.7 270.7L104.2 271.4L121.8 273.4L139.4 278.0L156.9 286.3L174.5 297.3L192.1 309.7L280.0 375.1L297.5 388.0L315.1 400.6L332.7 412.5"/>
<path d="M51.5 316.8L104.2 316.9L121.8 317.2L139.4 318.1L156.9 320.4L174.5 325.5L192.1 333.9L209.7 344.5L227.2 356.1L280.0 391.7L297.5 403.2L315.1 414.0L332.7 423.6"/>
<path d="M51.5 277.8L139.4 277.9L156.9 278.3L174.5 279.3L192.1 282.1L209.7 287.7L227.2 296.1L244.8 306.3L262.4 317.2L332.7 361.9"/>
<path d="M51.5 294.2L86.7 294.3L104.2 294.6L121.8 295.5L139.4 297.8L156.9 302.6L174.5 310.3L192.1 319.6L209.7 329.7L297.5 381.6L315.1 391.8L332.7 401.7"/>
<path d="M51.5 260.7L121.8 261.0L139.4 261.5L156.9 263.1L174.5 267.0L192.1 274.6L209.7 285.7L227.2 298.7L244.8 312.5L332.7 382.8"/>
<path d="M51.5 329.3L139.4 329.4L156.9 329.6L174.5 330.2L192.1 332.1L209.7 336.5L227.2 344.4L244.8 355.2L262.4 367.2L297.5 392.3L315.1 404.5L332.7 415.9"/>
<path d="M51.5 297.9L104.2 298.1L121.8 298.7L139.4 300.2L156.9 304.0L174.5 310.9L192.1 320.6L209.7 331.7L297.5 390.5L315.1 401.9L332.7 412.6"/>
<path d="M51.5 313.2L121.8 313.3L139.4 313.5L156.9 314.2L174.5 316.0L192.1 320.2L209.7 327.5L227.2 336.9L244.8 347.4L315.1 391.0L332.7 401.5"/>
<path d="M51.5 281.0L156.9 281.2L174.5 281.5L192.1 282.3L209.7 284.5L227.2 289.2L244.8 296.6L262.4 305.8L280.0 315.7L332.7 346.5"/>
<path d="M51.5 323.9L86.7 324.1L104.2 324.8L121.8 326.7L139.4 331.3L156.9 340.0L174.5 352.3L192.1 366.3L227.2 395.6L244.8 409.7L262.4 422.2L280.0 432.0L297.5 438.3L315.1 441.6L332.7 443.1"/>
</g>
<g stroke-linecap="round" fill="none"><path d="M223.8 331.7h0M242.3 340.6h0M200.2 306.2h0M232.5 346.8h0M235.6 347.4h0M220.8 322.3h0M279.9 374.2h0M168.6 320.7h0M196.3 316.6h0M224.0 343.5h0M192.9 312.8h0M238.2 329.4h0M228.7 328.3h0M287.7 360.6h0M164.6 305.7h0M198.1 319.8h0M224.2 327.9h0M204.0 324.7h0M247.1 346.5h0M225.1 341.3h0M224.6 335.8h0M161.7 300.1h0M109.8 291.9h0M217.5 322.2h0M252.7 358.5h0M232.3 328.7h0M202.4 309.5h0M264.0 354.2h0M202.4 334.1h0M221.6 339.0h0M204.7 318.3h0M177.7 304.6h0M193.5 321.6h0M231.0 319.9h0M258.4 351.7h0M247.8 352.3h0M225.7 361.5h0M255.5 350.4h0M298.6 390.8h0M238.8 352.9h0M225.6 311.2h0M188.1 324.5h0M246.2 340.9h0M214.3 315.0h0M287.1 366.9h0M164.3 293.8h0M250.6 340.7h0M163.2 330.4h0M258.3 351.6h0M233.5 331.2h0M175.6 316.8h0M192.0 317.8h0M261.0 345.3h0M230.0 341.3h0M222.7 335.7h0M196.6 313.7h0M265.3 364.7h0M273.3 352.2h0M197.8 324.6h0M177.3 299.5h0M222.4 340.4h0M218.4 322.8h0M237.2 350.0h0M263.9 344.2h0M204.6 309.2h0M257.8 348.8h0M253.7 350.1h0M189.3 337.4h0M213.1 315.0h0M203.0 331.8h0M219.2 321.4h0M242.6 347.9h0M241.2 330.4h0M207.2 330.2h0M152.2 285.2h0M200.7 335.8h0M265.4 336.0h0M218.0 329.6h0M242.7 351.8h0M285.5 364.3h0M192.6 326.2h0M218.4 331.2h0M207.5 321.1h0M215.7 338.7h0M326.5 407.3h0M195.3 318.6h0M202.7 331.0h0M265.4 343.3h0M200.2 314.8h0M192.5 324.6h0M237.0 335.3h0M245.3 336.5h0M172.1 325.0h0M244.0 338.2h0M232.6 335.6h0M232.0 331.4h0M211.5 329.6h0M272.3 355.1h0M160.7 325.1h0M242.6 336.6h0M189.9 311.9h0M172.5 328.8h0M255.5 340.0h0M272.6 358.4h0M199.5 324.2h0M214.4 324.6h0M186.5 298.2h0M222.6 336.9h0M227.8 324.3h0M235.5 363.0h0M249.7 359.5h0M224.0 327.7h0M266.5 365.3h0M209.3 314.8h0M207.9 339.7h0M240.2 325.2h0M201.7 328.5h0M201.5 341.7h0M195.4 283.7h0M236.1 324.9h0M287.4 370.9h0M208.7 318.7h0M241.3 349.5h0M241.8 332.5h0M183.9 324.5h0M209.1 330.2h0M217.6 326.2h0M233.1 335.2h0M216.8 330.4h0M190.5 324.3h0M198.2 321.1h0M222.1 327.7h0M254.4 350.7h0M201.7 320.3h0M152.1 298.0h0M268.9 360.9h0M269.3 336.9h0M268.2 346.1h0M231.6 357.0h0M150.5 277.4h0M175.7 315.0h0M219.7 336.6h0M198.9 330.1h0M178.6 304.5h0M215.1 311.9h0M211.9 321.4h0M217.9 341.4h0M236.6 355.5h0M224.4 311.3h0M278.0 368.8h0M248.0 332.6h0M191.1 356.3h0M209.3 322.3h0M195.6 306.8h0M236.1 356.2h0M157.6 280.0h0M197.1 328.7h0M225.1 337.9h0M174.0 367.9h0M260.4 336.3h0M201.3 339.7h0M196.9 317.6h0M247.2 350.2h0M182.8 323.4h0M231.7 338.1h0M241.3 347.0h0M254.7 354.7h0M185.8 337.9h0M193.1 327.7h0M179.6 317.8h0M244.3 347.0h0M160.2 262.1h0M188.8 313.3h0M203.3 331.8h0M249.6 327.4h0M223.8 353.3h0M243.0 356.4h0M234.6 350.0h0M200.1 326.6h0M221.5 335.0h0M211.5 331.1h0M250.2 338.9h0M259.9 337.9h0M234.1 343.0h0M201.4 324.1h0M178.3 308.4h0M252.0 345.9h0M265.3 352.0h0M228.4 322.9h0M226.9 348.0h0M259.2 356.2h0M281.0 350.3h0M231.0 330.5h0M214.2 320.1h0M250.5 345.0h0M212.0 327.2h0M227.8 348.2h0M236.7 328.5h0M227.2 332.0h0M200.8 317.2h0M177.1 285.6h0M278.9 361.9h0M164.4 288.7h0M209.2 313.0h0M251.2 302.6h0M217.4 350.6h0M235.7 335.9h0M172.1 354.1h0M220.1 342.3h0M216.6 323.8h0M218.4 322.7h0M221.5 326.7h0M240.3 333.3h0M167.7 318.6h0M246.9 363.3h0M226.9 313.4h0M184.0 318.9h0M202.8 333.4h0M213.4 334.5h0M215.2 276.9h0M258.9 346.9h0M152.5 331.6h0M204.5 338.7h0M258.4 337.6h0M208.8 321.2h0M217.5 328.7h0M233.7 318.8h0M225.8 333.9h0M198.6 334.1h0M205.6 338.5h0M176.6 311.0h0M210.8 325.1h0M216.2 332.3h0M252.5 336.7h0M244.5 340.4h0M171.6 320.3h0M219.9 311.5h0M239.8 327.6h0M220.7 320.2h0M140.9 307.3h0M246.7 342.4h0M207.4 311.7h0M234.4 341.9h0M248.7 355.9h0M235.5 347.2h0M180.8 335.9h0M225.9 337.3h0M252.5 347.6h0M210.3 312.1h0M247.5 337.0h0M219.5 313.4h0M172.9 303.7h0M243.2 334.4h0M212.0 324.5h0M262.4 360.7h0M296.7 363.4h0M189.4 323.2h0M262.6 357.8h0M199.1 327.8h0M238.5 366.8h0M194.7 297.8h0M328.5 391.1h0M244.5 325.8h0M211.8 333.1h0M242.8 342.3h0M226.4 330.9h0M256.6 359.9h0M210.0 351.6h0M262.5 332.4h0M222.4 331.8h0M232.2 315.0h0M155.2 320.1h0M176.7 331.0h0M237.1 338.3h0M265.2 352.4h0M216.0 332.6h0M298.6 379.8h0M165.1 314.4h0M259.3 357.4h0M213.3 318.9h0M227.4 345.8h0M243.0 349.8h0M250.0 365.6h0M201.8 316.9h0M245.7 348.3h0M170.9 307.4h0M228.9 335.7h0M205.4 324.1h0M261.6 354.2h0M200.0 318.3h0M210.0 311.6h0M244.5 343.0h0M161.6 310.5h0M235.4 338.6h0M166.1 293.0h0M185.3 338.3h0M189.9 306.3h0M229.9 346.0h0M215.2 336.5h0M208.5 323.0h0M203.0 314.7h0M207.0 329.6h0M217.7 327.6h0M264.4 370.6h0M240.2 348.8h0M248.5 328.6h0M230.0 330.1h0M218.2 328.7h0M205.0 330.7h0M201.9 319.5h0M169.2 315.0h0M223.3 341.0h0M172.3 347.8h0M223.0 340.0h0M198.0 321.2h0M212.7 342.4h0" stroke="#fff" stroke-opacity="0.25" stroke-width="2.2"/><path d="M223.8 331.7h0M242.3 340.6h0M200.2 306.2h0M232.5 346.8h0M235.6 347.4h0M220.8 322.3h0M279.9 374.2h0M168.6 320.7h0M196.3 316.6h0M224.0 343.5h0M192.9 312.8h0M238.2 329.4h0M228.7 328.3h0M287.7 360.6h0M164.6 305.7h0M198.1 319.8h0M224.2 327.9h0M204.0 324.7h0M247.1 346.5h0M225.1 341.3h0M224.6 335.8h0M161.7 300.1h0M109.8 291.9h0M217.5 322.2h0M252.7 358.5h0M232.3 328.7h0M202.4 309.5h0M264.0 354.2h0M202.4 334.1h0M221.6 339.0h0M204.7 318.3h0M177.7 304.6h0M193.5 321.6h0M231.0 319.9h0M258.4 351.7h0M247.8 352.3h0M225.7 361.5h0M255.5 350.4h0M298.6 390.8h0M238.8 352.9h0M225.6 311.2h0M188.1 324.5h0M246.2 340.9h0M214.3 315.0h0M287.1 366.9h0M164.3 293.8h0M250.6 340.7h0M163.2 330.4h0M258.3 351.6h0M233.5 331.2h0M175.6 316.8h0M192.0 317.8h0M261.0 345.3h0M230.0 341.3h0M222.7 335.7h0M196.6 313.7h0M265.3 364.7h0M273.3 352.2h0M197.8 324.6h0M177.3 299.5h0M222.4 340.4h0M218.4 322.8h0M237.2 350.0h0M263.9 344.2h0M204.6 309.2h0M257.8 348.8h0M253.7 350.1h0M189.3 337.4h0M213.1 315.0h0M203.0 331.8h0M219.2 321.4h0M242.6 347.9h0M241.2 330.4h0M207.2 330.2h0M152.2 285.2h0M200.7 335.8h0M265.4 336.0h0M218.0 329.6h0M242.7 351.8h0M285.5 364.3h0M192.6 326.2h0M218.4 331.2h0M207.5 321.1h0M215.7 338.7h0M326.5 407.3h0M195.3 318.6h0M202.7 331.0h0M265.4 343.3h0M200.2 314.8h0M192.5 324.6h0M237.0 335.3h0M245.3 336.5h0M172.1 325.0h0M244.0 338.2h0M232.6 335.6h0M232.0 331.4h0M211.5 329.6h0M272.3 355.1h0M160.7 325.1h0M242.6 336.6h0M189.9 311.9h0M172.5 328.8h0M255.5 340.0h0M272.6 358.4h0M199.5 324.2h0M214.4 324.6h0M186.5 298.2h0M222.6 336.9h0M227.8 324.3h0M235.5 363.0h0M249.7 359.5h0M224.0 327.7h0M266.5 365.3h0M209.3 314.8h0M207.9 339.7h0M240.2 325.2h0M201.7 328.5h0M201.5 341.7h0M195.4 283.7h0M236.1 324.9h0M287.4 370.9h0M208.7 318.7h0M241.3 349.5h0M241.8 332.5h0M183.9 324.5h0M209.1 330.2h0M217.6 326.2h0M233.1 335.2h0M216.8 330.4h0M190.5 324.3h0M198.2 321.1h0M222.1 327.7h0M254.4 350.7h0M201.7 320.3h0M152.1 298.0h0M268.9 360.9h0M269.3 336.9h0M268.2 346.1h0M231.6 357.0h0M150.5 277.4h0M175.7 315.0h0M219.7 336.6h0M198.9 330.1h0M178.6 304.5h0M215.1 311.9h0M211.9 321.4h0M217.9 341.4h0M236.6 355.5h0M224.4 311.3h0M278.0 368.8h0M248.0 332.6h0M191.1 356.3h0M209.3 322.3h0M195.6 306.8h0M236.1 356.2h0M157.6 280.0h0M197.1 328.7h0M225.1 337.9h0M174.0 367.9h0M260.4 336.3h0M201.3 339.7h0M196.9 317.6h0M247.2 350.2h0M182.8 323.4h0M231.7 338.1h0M241.3 347.0h0M254.7 354.7h0M185.8 337.9h0M193.1 327.7h0M179.6 317.8h0M244.3 347.0h0M160.2 262.1h0M188.8 313.3h0M203.3 331.8h0M249.6 327.4h0M223.8 353.3h0M243.0 356.4h0M234.6 350.0h0M200.1 326.6h0M221.5 335.0h0M211.5 331.1h0M250.2 338.9h0M259.9 337.9h0M234.1 343.0h0M201.4 324.1h0M178.3 308.4h0M252.0 345.9h0M265.3 352.0h0M228.4 322.9h0M226.9 348.0h0M259.2 356.2h0M281.0 350.3h0M231.0 330.5h0M214.2 320.1h0M250.5 345.0h0M212.0 327.2h0M227.8 348.2h0M236.7 328.5h0M227.2 332.0h0M200.8 317.2h0M177.1 285.6h0M278.9 361.9h0M164.4 288.7h0M209.2 313.0h0M251.2 302.6h0M217.4 350.6h0M235.7 335.9h0M172.1 354.1h0M220.1 342.3h0M216.6 323.8h0M218.4 322.7h0M221.5 326.7h0M240.3 333.3h0M167.7 318.6h0M246.9 363.3h0M226.9 313.4h0M184.0 318.9h0M202.8 333.4h0M213.4 334.5h0M215.2 276.9h0M258.9 346.9h0M152.5 331.6h0M204.5 338.7h0M258.4 337.6h0M208.8 321.2h0M217.5 328.7h0M233.7 318.8h0M225.8 333.9h0M198.6 334.1h0M205.6 338.5h0M176.6 311.0h0M210.8 325.1h0M216.2 332.3h0M252.5 336.7h0M244.5 340.4h0M171.6 320.3h0M219.9 311.5h0M239.8 327.6h0M220.7 320.2h0M140.9 307.3h0M246.7 342.4h0M207.4 311.7h0M234.4 341.9h0M248.7 355.9h0M235.5 347.2h0M180.8 335.9h0M225.9 337.3h0M252.5 347.6h0M210.3 312.1h0M247.5 337.0h0M219.5 313.4h0M172.9 303.7h0M243.2 334.4h0M212.0 324.5h0M262.4 360.7h0M296.7 363.4h0M189.4 323.2h0M262.6 357.8h0M199.1 327.8h0M238.5 366.8h0M194.7 297.8h0M328.5 391.1h0M244.5 325.8h0M211.8 333.1h0M242.8 342.3h0M226.4 330.9h0M256.6 359.9h0M210.0 351.6h0M262.5 332.4h0M222.4 331.8h0M232.2 315.0h0M155.2 320.1h0M176.7 331.0h0M237.1 338.3h0M265.2 352.4h0M216.0 332.6h0M298.6 379.8h0M165.1 314.4h0M259.3 357.4h0M213.3 318.9h0M227.4 345.8h0M243.0 349.8h0M250.0 365.6h0M201.8 316.9h0M245.7 348.3h0M170.9 307.4h0M228.9 335.7h0M205.4 324.1h0M261.6 354.2h0M200.0 318.3h0M210.0 311.6h0M244.5 343.0h0M161.6 310.5h0M235.4 338.6h0M166.1 293.0h0M185.3 338.3h0M189.9 306.3h0M229.9 346.0h0M215.2 336.5h0M208.5 323.0h0M203.0 314.7h0M207.0 329.6h0M217.7 327.6h0M264.4 370.6h0M240.2 348.8h0M248.5 328.6h0M230.0 330.1h0M218.2 328.7h0M205.0 330.7h0M201.9 319.5h0M169.2 315.0h0M223.3 341.0h0M172.3 347.8h0M223.0 340.0h0M198.0 321.2h0M212.7 342.4h0" stroke="#4a4a4a" stroke-width="1.5"/><path d="M210.0 314.3h0M322.1 388.2h0M184.1 306.1h0M248.1 339.4h0M196.1 300.3h0M231.4 343.6h0M190.7 303.0h0M197.3 332.6h0M240.6 359.1h0M269.2 372.9h0M254.4 326.8h0M170.9 336.7h0M217.3 327.2h0M216.4 307.0h0M224.9 324.5h0M212.0 296.7h0M249.9 351.8h0M230.0 333.0h0M205.3 334.3h0M224.4 328.4h0M272.8 353.7h0M197.9 321.0h0M256.4 327.7h0M164.4 295.5h0M298.0 379.0h0M236.6 328.2h0M187.6 324.9h0M263.1 357.3h0M197.9 317.4h0M229.2 340.7h0M208.4 332.6h0M308.5 373.3h0M225.8 332.4h0M184.6 319.7h0M241.5 324.0h0M205.3 327.9h0M236.8 337.4h0M251.3 363.2h0M240.6 338.7h0M241.1 344.8h0M259.7 365.8h0M209.6 320.3h0M226.7 351.1h0M310.7 358.6h0M218.1 333.5h0M249.2 358.7h0M165.9 320.4h0M294.0 382.6h0M208.8 319.8h0M224.6 335.8h0M221.8 322.1h0M250.4 339.6h0M210.6 335.1h0M189.5 314.9h0M248.5 339.5h0M219.0 321.3h0M152.0 282.7h0M243.2 342.9h0M217.3 332.3h0M222.3 330.9h0M192.5 321.3h0M186.3 316.0h0M235.4 354.2h0M289.3 378.4h0M222.9 334.0h0M303.4 373.8h0M203.5 325.4h0M188.6 303.9h0M196.8 367.7h0M151.1 321.9h0M209.4 329.9h0M182.4 321.8h0M223.5 326.5h0M223.6 339.5h0M203.0 316.5h0M232.8 345.1h0M236.5 339.9h0M298.5 380.9h0M217.1 335.1h0M217.0 328.5h0M232.4 326.4h0M197.9 332.3h0M242.6 351.1h0M257.8 349.9h0M215.6 319.1h0M268.9 365.1h0M248.5 346.5h0M220.1 333.3h0M186.3 318.9h0M182.7 309.6h0M216.0 345.1h0M196.9 331.9h0M215.2 337.7h0M157.9 290.2h0M240.0 336.4h0M247.3 358.9h0M253.3 320.6h0M211.1 352.4h0M237.3 320.8h0M259.2 334.0h0M244.9 352.5h0M238.3 343.8h0M232.7 341.2h0M199.9 323.2h0M236.1 337.9h0M179.4 341.0h0M247.6 345.2h0M236.7 339.0h0M268.6 353.9h0M203.7 322.5h0M260.6 349.1h0M234.4 356.1h0M179.8 313.8h0M245.6 348.5h0M199.3 337.4h0M225.5 335.6h0M183.6 313.6h0M217.1 356.6h0M265.8 356.1h0M166.4 278.7h0M186.8 311.9h0M258.6 352.6h0M176.3 322.9h0M233.8 347.2h0M272.1 363.8h0M247.3 341.8h0M111.5 272.7h0M248.8 336.1h0M275.9 381.1h0M230.5 342.6h0M166.9 299.0h0M252.5 354.7h0M278.1 365.4h0M203.2 326.4h0M227.7 343.0h0M230.4 331.1h0M207.6 315.7h0M225.9 336.5h0M185.3 314.2h0M208.7 329.3h0M209.8 318.3h0M206.2 340.8h0M259.2 352.0h0M209.8 321.9h0M250.7 356.2h0M206.0 324.0h0M253.7 327.4h0M104.7 318.9h0M185.4 285.8h0M239.6 333.6h0M192.1 354.4h0M208.9 332.6h0M255.7 344.5h0M223.5 347.2h0M173.7 331.2h0M238.4 347.4h0M315.2 384.4h0M219.2 328.0h0M202.7 328.2h0M235.2 312.7h0M257.2 356.0h0M209.4 344.1h0M219.4 330.9h0M276.2 351.0h0M240.3 336.5h0M276.5 361.1h0M143.5 321.5h0M224.8 334.3h0M214.7 319.3h0M137.4 272.7h0M201.6 317.6h0M194.0 324.7h0M170.4 333.5h0M235.7 347.8h0M233.1 332.2h0M224.8 322.5h0M209.4 314.8h0M144.0 327.4h0M205.5 322.8h0M241.5 362.0h0M272.2 353.7h0M222.6 319.2h0M226.2 298.1h0M206.3 327.0h0M275.3 357.9h0M252.5 357.2h0M221.5 333.4h0M234.7 324.7h0M221.4 339.1h0M172.7 339.7h0M225.4 324.1h0M187.8 323.4h0M254.6 339.6h0M214.3 324.0h0M207.6 329.9h0M165.7 299.4h0M199.7 323.7h0M229.2 330.8h0M222.7 342.6h0M238.0 324.4h0M247.5 337.2h0M225.0 337.5h0M197.0 335.9h0M245.8 361.6h0M206.4 330.3h0M246.0 373.6h0M208.5 314.7h0M188.1 308.2h0M227.3 330.7h0M171.5 286.8h0M244.0 326.8h0M218.1 330.6h0M221.4 331.1h0M224.3 326.9h0M183.4 351.3h0M207.6 330.2h0M175.0 323.6h0M237.6 333.6h0M242.5 321.6h0M77.8 294.6h0M181.6 312.8h0M235.9 350.8h0M194.7 312.7h0M290.5 372.9h0M131.3 313.2h0M205.3 331.3h0M238.6 352.5h0M189.2 339.2h0M274.4 367.3h0M207.7 332.6h0M183.1 338.6h0M227.3 355.0h0M226.5 332.2h0M180.2 307.4h0M201.6 321.3h0M212.5 315.4h0M203.3 329.1h0M205.4 341.7h0M213.3 310.5h0M183.1 320.0h0M198.2 312.4h0M206.6 313.7h0M191.6 335.7h0M157.3 306.9h0M204.1 339.2h0M215.3 323.0h0M289.2 368.2h0M234.8 337.9h0M236.3 341.9h0M238.7 349.6h0M168.5 318.6h0M160.7 310.6h0M214.0 328.4h0M266.0 365.6h0M260.1 340.6h0M258.0 358.5h0M237.0 336.4h0M202.0 342.9h0M203.5 313.2h0M215.4 323.8h0M169.2 331.2h0M203.4 315.6h0M221.1 328.8h0M245.6 329.2h0M237.7 333.4h0M187.3 322.9h0M287.9 358.6h0M238.2 334.6h0M206.3 327.0h0M209.9 320.8h0M279.3 376.4h0M194.2 298.8h0M229.3 338.7h0M227.1 331.9h0M234.0 342.6h0M208.7 323.5h0M250.5 347.7h0M207.5 326.6h0M230.3 357.1h0M222.0 318.9h0M236.6 343.8h0M222.0 319.7h0M185.0 323.4h0M243.5 318.9h0M219.5 338.1h0M287.3 373.8h0M231.6 335.7h0M223.2 322.6h0M198.5 312.3h0M244.5 347.4h0M242.5 343.7h0M245.3 322.8h0M239.6 330.2h0M244.0 357.7h0M224.3 329.2h0M228.2 326.0h0M227.1 337.4h0M209.1 320.3h0M227.3 325.7h0M130.6 312.1h0M245.9 364.3h0M174.4 338.8h0M169.1 333.2h0M232.1 328.2h0M199.3 310.1h0M279.5 372.2h0M243.9 350.3h0M225.5 340.7h0M214.6 340.9h0M199.7 337.2h0M194.3 325.1h0M204.4 327.9h0M193.6 334.2h0M190.5 324.4h0M212.4 329.7h0M224.5 323.8h0" stroke="#fff" stroke-opacity="0.25" stroke-width="2.2"/><path d="M210.0 314.3h0M322.1 388.2h0M184.1 306.1h0M248.1 339.4h0M196.1 300.3h0M231.4 343.6h0M190.7 303.0h0M197.3 332.6h0M240.6 359.1h0M269.2 372.9h0M254.4 326.8h0M170.9 336.7h0M217.3 327.2h0M216.4 307.0h0M224.9 324.5h0M212.0 296.7h0M249.9 351.8h0M230.0 333.0h0M205.3 334.3h0M224.4 328.4h0M272.8 353.7h0M197.9 321.0h0M256.4 327.7h0M164.4 295.5h0M298.0 379.0h0M236.6 328.2h0M187.6 324.9h0M263.1 357.3h0M197.9 317.4h0M229.2 340.7h0M208.4 332.6h0M308.5 373.3h0M225.8 332.4h0M184.6 319.7h0M241.5 324.0h0M205.3 327.9h0M236.8 337.4h0M251.3 363.2h0M240.6 338.7h0M241.1 344.8h0M259.7 365.8h0M209.6 320.3h0M226.7 351.1h0M310.7 358.6h0M218.1 333.5h0M249.2 358.7h0M165.9 320.4h0M294.0 382.6h0M208.8 319.8h0M224.6 335.8h0M221.8 322.1h0M250.4 339.6h0M210.6 335.1h0M189.5 314.9h0M248.5 339.5h0M219.0 321.3h0M152.0 282.7h0M243.2 342.9h0M217.3 332.3h0M222.3 330.9h0M192.5 321.3h0M186.3 316.0h0M235.4 354.2h0M289.3 378.4h0M222.9 334.0h0M303.4 373.8h0M203.5 325.4h0M188.6 303.9h0M196.8 367.7h0M151.1 321.9h0M209.4 329.9h0M182.4 321.8h0M223.5 326.5h0M223.6 339.5h0M203.0 316.5h0M232.8 345.1h0M236.5 339.9h0M298.5 380.9h0M217.1 335.1h0M217.0 328.5h0M232.4 326.4h0M197.9 332.3h0M242.6 351.1h0M257.8 349.9h0M215.6 319.1h0M268.9 365.1h0M248.5 346.5h0M220.1 333.3h0M186.3 318.9h0M182.7 309.6h0M216.0 345.1h0M196.9 331.9h0M215.2 337.7h0M157.9 290.2h0M240.0 336.4h0M247.3 358.9h0M253.3 320.6h0M211.1 352.4h0M237.3 320.8h0M259.2 334.0h0M244.9 352.5h0M238.3 343.8h0M232.7 341.2h0M199.9 323.2h0M236.1 337.9h0M179.4 341.0h0M247.6 345.2h0M236.7 339.0h0M268.6 353.9h0M203.7 322.5h0M260.6 349.1h0M234.4 356.1h0M179.8 313.8h0M245.6 348.5h0M199.3 337.4h0M225.5 335.6h0M183.6 313.6h0M217.1 356.6h0M265.8 356.1h0M166.4 278.7h0M186.8 311.9h0M258.6 352.6h0M176.3 322.9h0M233.8 347.2h0M272.1 363.8h0M247.3 341.8h0M111.5 272.7h0M248.8 336.1h0M275.9 381.1h0M230.5 342.6h0M166.9 299.0h0M252.5 354.7h0M278.1 365.4h0M203.2 326.4h0M227.7 343.0h0M230.4 331.1h0M207.6 315.7h0M225.9 336.5h0M185.3 314.2h0M208.7 329.3h0M209.8 318.3h0M206.2 340.8h0M259.2 352.0h0M209.8 321.9h0M250.7 356.2h0M206.0 324.0h0M253.7 327.4h0M104.7 318.9h0M185.4 285.8h0M239.6 333.6h0M192.1 354.4h0M208.9 332.6h0M255.7 344.5h0M223.5 347.2h0M173.7 331.2h0M238.4 347.4h0M315.2 384.4h0M219.2 328.0h0M202.7 328.2h0M235.2 312.7h0M257.2 356.0h0M209.4 344.1h0M219.4 330.9h0M276.2 351.0h0M240.3 336.5h0M276.5 361.1h0M143.5 321.5h0M224.8 334.3h0M214.7 319.3h0M137.4 272.7h0M201.6 317.6h0M194.0 324.7h0M170.4 333.5h0M235.7 347.8h0M233.1 332.2h0M224.8 322.5h0M209.4 314.8h0M144.0 327.4h0M205.5 322.8h0M241.5 362.0h0M272.2 353.7h0M222.6 319.2h0M226.2 298.1h0M206.3 327.0h0M275.3 357.9h0M252.5 357.2h0M221.5 333.4h0M234.7 324.7h0M221.4 339.1h0M172.7 339.7h0M225.4 324.1h0M187.8 323.4h0M254.6 339.6h0M214.3 324.0h0M207.6 329.9h0M165.7 299.4h0M199.7 323.7h0M229.2 330.8h0M222.7 342.6h0M238.0 324.4h0M247.5 337.2h0M225.0 337.5h0M197.0 335.9h0M245.8 361.6h0M206.4 330.3h0M246.0 373.6h0M208.5 314.7h0M188.1 308.2h0M227.3 330.7h0M171.5 286.8h0M244.0 326.8h0M218.1 330.6h0M221.4 331.1h0M224.3 326.9h0M183.4 351.3h0M207.6 330.2h0M175.0 323.6h0M237.6 333.6h0M242.5 321.6h0M77.8 294.6h0M181.6 312.8h0M235.9 350.8h0M194.7 312.7h0M290.5 372.9h0M131.3 313.2h0M205.3 331.3h0M238.6 352.5h0M189.2 339.2h0M274.4 367.3h0M207.7 332.6h0M183.1 338.6h0M227.3 355.0h0M226.5 332.2h0M180.2 307.4h0M201.6 321.3h0M212.5 315.4h0M203.3 329.1h0M205.4 341.7h0M213.3 310.5h0M183.1 320.0h0M198.2 312.4h0M206.6 313.7h0M191.6 335.7h0M157.3 306.9h0M204.1 339.2h0M215.3 323.0h0M289.2 368.2h0M234.8 337.9h0M236.3 341.9h0M238.7 349.6h0M168.5 318.6h0M160.7 310.6h0M214.0 328.4h0M266.0 365.6h0M260.1 340.6h0M258.0 358.5h0M237.0 336.4h0M202.0 342.9h0M203.5 313.2h0M215.4 323.8h0M169.2 331.2h0M203.4 315.6h0M221.1 328.8h0M245.6 329.2h0M237.7 333.4h0M187.3 322.9h0M287.9 358.6h0M238.2 334.6h0M206.3 327.0h0M209.9 320.8h0M279.3 376.4h0M194.2 298.8h0M229.3 338.7h0M227.1 331.9h0M234.0 342.6h0M208.7 323.5h0M250.5 347.7h0M207.5 326.6h0M230.3 357.1h0M222.0 318.9h0M236.6 343.8h0M222.0 319.7h0M185.0 323.4h0M243.5 318.9h0M219.5 338.1h0M287.3 373.8h0M231.6 335.7h0M223.2 322.6h0M198.5 312.3h0M244.5 347.4h0M242.5 343.7h0M245.3 322.8h0M239.6 330.2h0M244.0 357.7h0M224.3 329.2h0M228.2 326.0h0M227.1 337.4h0M209.1 320.3h0M227.3 325.7h0M130.6 312.1h0M245.9 364.3h0M174.4 338.8h0M169.1 333.2h0M232.1 328.2h0M199.3 310.1h0M279.5 372.2h0M243.9 350.3h0M225.5 340.7h0M214.6 340.9h0M199.7 337.2h0M194.3 325.1h0M204.4 327.9h0M193.6 334.2h0M190.5 324.4h0M212.4 329.7h0M224.5 323.8h0" stroke="#4a4a4a" stroke-width="1.5"/><path d="M269.0 354.4h0M185.9 323.7h0M227.7 331.2h0M226.6 332.7h0M216.4 322.9h0M253.5 351.8h0M173.6 311.7h0M226.0 328.4h0M236.6 334.5h0M206.7 331.9h0M232.2 343.3h0M210.3 327.6h0M202.5 316.8h0M156.0 334.6h0M158.5 320.6h0M269.6 361.7h0M244.3 324.3h0M250.3 350.3h0M157.6 320.2h0M218.3 310.6h0M179.6 320.9h0M211.4 334.6h0M211.7 336.4h0M245.9 338.3h0M262.8 343.7h0M229.5 342.2h0M192.8 347.2h0M232.6 345.9h0M188.6 305.6h0M291.6 368.3h0M256.5 347.5h0M248.7 328.2h0M145.1 335.4h0M264.3 342.2h0M256.2 352.0h0M160.4 327.1h0M234.6 354.1h0M186.2 334.9h0M143.0 316.2h0M190.4 334.9h0M199.3 330.3h0M181.1 316.2h0M213.0 327.6h0M222.6 330.7h0M212.4 323.3h0M210.4 313.1h0M210.1 315.8h0M196.9 339.0h0M208.9 339.3h0M156.6 311.6h0M249.4 325.5h0M258.9 341.0h0M239.4 343.6h0M157.5 323.9h0M233.1 342.2h0M223.5 349.0h0M225.5 319.3h0M186.9 303.7h0M207.1 329.7h0M189.0 315.3h0M262.1 356.5h0M173.5 309.1h0M207.4 327.6h0M234.9 321.0h0M157.6 287.5h0M220.0 329.7h0M250.6 339.3h0M265.2 358.3h0M261.3 345.8h0M222.1 334.8h0M211.5 327.6h0M267.7 362.7h0M202.7 316.0h0M196.0 324.5h0M284.9 367.7h0M172.2 299.5h0M203.2 320.8h0M202.3 318.6h0M174.3 323.8h0M210.9 334.2h0M244.9 333.0h0M218.1 335.9h0M221.2 316.3h0M207.2 332.5h0M203.5 311.8h0M215.3 320.3h0M293.4 364.5h0M308.4 358.6h0M109.2 277.8h0M234.6 330.3h0M256.3 370.9h0M263.7 362.7h0M208.2 321.5h0M224.2 337.3h0M202.3 322.0h0M210.5 330.6h0M254.8 344.7h0M224.6 326.4h0M246.8 329.2h0M182.4 297.5h0M279.6 349.5h0M244.3 346.1h0M199.3 319.7h0M238.0 352.0h0M230.1 338.8h0M158.4 288.8h0M210.0 329.4h0M252.7 354.8h0M201.4 330.4h0M226.7 320.6h0M254.6 352.9h0M213.1 336.0h0M225.5 344.0h0M260.1 345.3h0M221.9 324.0h0M213.8 310.8h0M168.1 330.3h0M181.1 322.8h0M219.1 322.5h0M181.3 319.5h0M218.2 322.8h0M236.1 337.8h0M185.3 307.5h0M192.8 317.9h0M219.6 319.4h0M242.1 338.5h0M252.4 362.2h0M210.5 346.9h0M222.0 318.5h0M251.0 356.9h0M178.8 326.3h0M225.4 334.1h0M198.7 335.1h0M183.7 310.0h0M209.8 325.0h0M224.4 315.8h0M214.3 330.6h0M289.5 374.9h0M235.4 336.8h0M195.6 324.8h0M218.6 310.5h0M238.3 344.4h0M227.4 329.4h0M187.1 307.7h0M239.4 354.6h0M200.6 312.8h0M240.3 352.4h0M245.2 349.5h0M247.2 329.3h0M246.9 350.0h0M279.4 371.3h0M210.6 322.0h0M175.5 308.3h0M231.6 349.8h0M211.3 315.4h0M204.6 341.8h0M229.5 334.0h0M261.7 353.8h0M224.2 338.0h0M248.1 339.6h0M257.8 355.8h0M226.0 339.0h0M254.4 334.1h0M277.9 340.0h0M203.4 322.8h0M232.0 337.7h0M229.7 336.7h0M190.7 323.7h0M189.3 350.2h0M180.2 300.2h0M266.8 343.9h0M220.0 341.8h0M190.7 365.3h0M144.5 339.4h0M233.1 339.6h0M181.9 321.3h0M70.4 307.9h0M280.4 357.3h0M201.5 334.4h0M205.4 334.7h0M234.8 359.5h0M236.7 338.6h0M250.2 355.0h0M179.2 329.9h0M235.3 324.8h0M251.1 336.6h0M198.9 319.3h0M220.2 331.0h0M230.3 329.3h0M204.0 329.2h0M218.6 329.8h0M223.0 330.7h0M205.2 337.6h0M219.0 325.6h0M200.9 313.6h0M220.1 335.4h0M220.4 332.1h0M271.5 351.3h0M190.3 316.1h0M244.9 329.3h0M207.8 324.4h0M196.5 318.7h0M240.3 322.8h0M201.5 327.4h0M244.8 336.0h0M226.0 322.0h0M222.9 325.3h0M220.6 337.1h0M217.4 339.8h0M230.2 334.2h0M221.8 317.5h0M210.8 325.1h0M268.2 361.7h0M199.7 327.6h0M223.5 335.9h0M215.3 331.9h0M250.3 356.1h0M284.6 359.9h0M233.0 332.5h0M178.7 315.8h0M216.8 330.9h0M202.8 332.6h0M224.1 339.0h0M225.4 337.5h0M238.7 347.2h0M198.6 323.8h0M228.6 341.9h0M227.8 312.8h0M239.2 353.4h0M216.7 323.1h0M213.5 321.7h0M238.7 346.2h0M246.0 328.6h0M194.5 328.9h0M225.2 353.1h0M195.0 337.6h0M259.7 349.6h0M199.9 306.0h0M203.3 339.6h0M265.9 369.7h0M233.0 347.7h0M206.6 327.0h0M289.4 371.3h0M252.4 365.2h0M297.1 377.0h0M215.2 326.8h0M207.4 342.4h0M142.0 309.0h0M175.1 314.5h0M263.2 348.0h0M214.4 335.5h0M205.9 334.9h0M276.8 360.3h0M217.3 343.0h0M220.9 332.1h0M292.8 339.5h0M201.0 317.3h0M225.9 327.4h0M187.0 315.7h0M250.0 345.5h0M250.7 355.6h0M245.2 323.6h0M235.1 344.3h0M208.6 326.5h0M205.2 315.9h0M254.4 331.4h0M234.4 322.1h0M132.1 301.4h0M173.8 315.1h0M252.9 338.9h0M192.4 328.9h0M215.6 317.9h0M231.8 327.1h0M211.8 318.2h0M241.0 350.1h0M178.7 304.5h0M236.0 339.5h0M187.5 325.9h0M232.9 323.5h0M206.1 304.7h0M184.6 304.5h0M191.1 340.0h0M228.0 314.9h0M204.7 327.8h0M239.5 321.8h0M195.1 324.7h0M256.2 345.8h0M222.2 324.8h0M173.4 326.8h0M165.7 338.8h0M177.2 308.9h0M244.3 350.8h0M145.9 302.0h0M201.8 308.5h0M234.1 335.3h0M207.7 335.4h0M196.9 318.0h0M250.1 341.4h0M249.0 342.9h0M194.5 317.7h0M185.3 340.7h0M201.7 331.3h0M212.9 318.5h0M301.8 379.6h0M201.3 315.7h0M195.2 321.7h0M243.2 326.0h0M231.3 337.3h0M233.4 316.1h0M195.3 324.9h0M280.6 368.0h0M255.3 352.7h0M250.1 348.3h0M179.6 330.2h0M231.7 331.8h0M282.5 360.2h0" stroke="#fff" stroke-opacity="0.25" stroke-width="2.2"/><path d="M269.0 354.4h0M185.9 323.7h0M227.7 331.2h0M226.6 332.7h0M216.4 322.9h0M253.5 351.8h0M173.6 311.7h0M226.0 328.4h0M236.6 334.5h0M206.7 331.9h0M232.2 343.3h0M210.3 327.6h0M202.5 316.8h0M156.0 334.6h0M158.5 320.6h0M269.6 361.7h0M244.3 324.3h0M250.3 350.3h0M157.6 320.2h0M218.3 310.6h0M179.6 320.9h0M211.4 334.6h0M211.7 336.4h0M245.9 338.3h0M262.8 343.7h0M229.5 342.2h0M192.8 347.2h0M232.6 345.9h0M188.6 305.6h0M291.6 368.3h0M256.5 347.5h0M248.7 328.2h0M145.1 335.4h0M264.3 342.2h0M256.2 352.0h0M160.4 327.1h0M234.6 354.1h0M186.2 334.9h0M143.0 316.2h0M190.4 334.9h0M199.3 330.3h0M181.1 316.2h0M213.0 327.6h0M222.6 330.7h0M212.4 323.3h0M210.4 313.1h0M210.1 315.8h0M196.9 339.0h0M208.9 339.3h0M156.6 311.6h0M249.4 325.5h0M258.9 341.0h0M239.4 343.6h0M157.5 323.9h0M233.1 342.2h0M223.5 349.0h0M225.5 319.3h0M186.9 303.7h0M207.1 329.7h0M189.0 315.3h0M262.1 356.5h0M173.5 309.1h0M207.4 327.6h0M234.9 321.0h0M157.6 287.5h0M220.0 329.7h0M250.6 339.3h0M265.2 358.3h0M261.3 345.8h0M222.1 334.8h0M211.5 327.6h0M267.7 362.7h0M202.7 316.0h0M196.0 324.5h0M284.9 367.7h0M172.2 299.5h0M203.2 320.8h0M202.3 318.6h0M174.3 323.8h0M210.9 334.2h0M244.9 333.0h0M218.1 335.9h0M221.2 316.3h0M207.2 332.5h0M203.5 311.8h0M215.3 320.3h0M293.4 364.5h0M308.4 358.6h0M109.2 277.8h0M234.6 330.3h0M256.3 370.9h0M263.7 362.7h0M208.2 321.5h0M224.2 337.3h0M202.3 322.0h0M210.5 330.6h0M254.8 344.7h0M224.6 326.4h0M246.8 329.2h0M182.4 297.5h0M279.6 349.5h0M244.3 346.1h0M199.3 319.7h0M238.0 352.0h0M230.1 338.8h0M158.4 288.8h0M210.0 329.4h0M252.7 354.8h0M201.4 330.4h0M226.7 320.6h0M254.6 352.9h0M213.1 336.0h0M225.5 344.0h0M260.1 345.3h0M221.9 324.0h0M213.8 310.8h0M168.1 330.3h0M181.1 322.8h0M219.1 322.5h0M181.3 319.5h0M218.2 322.8h0M236.1 337.8h0M185.3 307.5h0M192.8 317.9h0M219.6 319.4h0M242.1 338.5h0M252.4 362.2h0M210.5 346.9h0M222.0 318.5h0M251.0 356.9h0M178.8 326.3h0M225.4 334.1h0M198.7 335.1h0M183.7 310.0h0M209.8 325.0h0M224.4 315.8h0M214.3 330.6h0M289.5 374.9h0M235.4 336.8h0M195.6 324.8h0M218.6 310.5h0M238.3 344.4h0M227.4 329.4h0M187.1 307.7h0M239.4 354.6h0M200.6 312.8h0M240.3 352.4h0M245.2 349.5h0M247.2 329.3h0M246.9 350.0h0M279.4 371.3h0M210.6 322.0h0M175.5 308.3h0M231.6 349.8h0M211.3 315.4h0M204.6 341.8h0M229.5 334.0h0M261.7 353.8h0M224.2 338.0h0M248.1 339.6h0M257.8 355.8h0M226.0 339.0h0M254.4 334.1h0M277.9 340.0h0M203.4 322.8h0M232.0 337.7h0M229.7 336.7h0M190.7 323.7h0M189.3 350.2h0M180.2 300.2h0M266.8 343.9h0M220.0 341.8h0M190.7 365.3h0M144.5 339.4h0M233.1 339.6h0M181.9 321.3h0M70.4 307.9h0M280.4 357.3h0M201.5 334.4h0M205.4 334.7h0M234.8 359.5h0M236.7 338.6h0M250.2 355.0h0M179.2 329.9h0M235.3 324.8h0M251.1 336.6h0M198.9 319.3h0M220.2 331.0h0M230.3 329.3h0M204.0 329.2h0M218.6 329.8h0M223.0 330.7h0M205.2 337.6h0M219.0 325.6h0M200.9 313.6h0M220.1 335.4h0M220.4 332.1h0M271.5 351.3h0M190.3 316.1h0M244.9 329.3h0M207.8 324.4h0M196.5 318.7h0M240.3 322.8h0M201.5 327.4h0M244.8 336.0h0M226.0 322.0h0M222.9 325.3h0M220.6 337.1h0M217.4 339.8h0M230.2 334.2h0M221.8 317.5h0M210.8 325.1h0M268.2 361.7h0M199.7 327.6h0M223.5 335.9h0M215.3 331.9h0M250.3 356.1h0M284.6 359.9h0M233.0 332.5h0M178.7 315.8h0M216.8 330.9h0M202.8 332.6h0M224.1 339.0h0M225.4 337.5h0M238.7 347.2h0M198.6 323.8h0M228.6 341.9h0M227.8 312.8h0M239.2 353.4h0M216.7 323.1h0M213.5 321.7h0M238.7 346.2h0M246.0 328.6h0M194.5 328.9h0M225.2 353.1h0M195.0 337.6h0M259.7 349.6h0M199.9 306.0h0M203.3 339.6h0M265.9 369.7h0M233.0 347.7h0M206.6 327.0h0M289.4 371.3h0M252.4 365.2h0M297.1 377.0h0M215.2 326.8h0M207.4 342.4h0M142.0 309.0h0M175.1 314.5h0M263.2 348.0h0M214.4 335.5h0M205.9 334.9h0M276.8 360.3h0M217.3 343.0h0M220.9 332.1h0M292.8 339.5h0M201.0 317.3h0M225.9 327.4h0M187.0 315.7h0M250.0 345.5h0M250.7 355.6h0M245.2 323.6h0M235.1 344.3h0M208.6 326.5h0M205.2 315.9h0M254.4 331.4h0M234.4 322.1h0M132.1 301.4h0M173.8 315.1h0M252.9 338.9h0M192.4 328.9h0M215.6 317.9h0M231.8 327.1h0M211.8 318.2h0M241.0 350.1h0M178.7 304.5h0M236.0 339.5h0M187.5 325.9h0M232.9 323.5h0M206.1 304.7h0M184.6 304.5h0M191.1 340.0h0M228.0 314.9h0M204.7 327.8h0M239.5 321.8h0M195.1 324.7h0M256.2 345.8h0M222.2 324.8h0M173.4 326.8h0M165.7 338.8h0M177.2 308.9h0M244.3 350.8h0M145.9 302.0h0M201.8 308.5h0M234.1 335.3h0M207.7 335.4h0M196.9 318.0h0M250.1 341.4h0M249.0 342.9h0M194.5 317.7h0M185.3 340.7h0M201.7 331.3h0M212.9 318.5h0M301.8 379.6h0M201.3 315.7h0M195.2 321.7h0M243.2 326.0h0M231.3 337.3h0M233.4 316.1h0M195.3 324.9h0M280.6 368.0h0M255.3 352.7h0M250.1 348.3h0M179.6 330.2h0M231.7 331.8h0M282.5 360.2h0" stroke="#4a4a4a" stroke-width="1.5"/><path d="M232.7 340.8h0M149.6 326.7h0M193.7 335.7h0M196.5 315.7h0M267.2 368.3h0M223.0 315.4h0M209.1 317.4h0M215.0 312.5h0M204.8 331.4h0M226.8 336.9h0M149.3 306.4h0M226.5 345.4h0M247.1 339.7h0M282.3 362.1h0M190.9 313.9h0M219.8 327.3h0M181.7 320.2h0M267.4 360.7h0M243.8 349.9h0M221.8 328.7h0M237.2 322.3h0M235.4 329.2h0M197.1 325.1h0M177.8 323.8h0M223.6 323.8h0M152.9 338.4h0M214.8 323.1h0M221.9 367.6h0M229.9 326.4h0M247.9 335.1h0M179.5 301.1h0M199.6 310.6h0M322.2 399.6h0M173.2 308.7h0M177.1 318.6h0M214.5 305.7h0M229.4 339.2h0M242.5 326.6h0M196.6 320.7h0M268.2 360.8h0M234.1 333.9h0M93.8 330.4h0M200.7 330.1h0M222.3 321.0h0M220.9 319.4h0M250.2 349.0h0M221.7 330.2h0M237.6 326.7h0M207.7 296.1h0M218.8 332.6h0M235.0 346.4h0M207.3 329.8h0M252.5 343.3h0M182.2 315.8h0M232.7 337.6h0M212.1 345.2h0M306.7 370.0h0M234.9 358.1h0M182.9 339.3h0M248.4 333.8h0M285.8 374.0h0M224.4 346.8h0M225.7 340.0h0M234.9 327.9h0M236.2 349.5h0M219.6 331.1h0M196.4 300.5h0M238.3 338.9h0M181.2 299.3h0M244.4 334.9h0M213.0 335.0h0M233.2 344.7h0M244.9 347.6h0M244.1 335.7h0M223.1 342.3h0M216.1 326.7h0M258.1 313.5h0M247.6 334.4h0M255.0 352.8h0M225.0 324.8h0M232.7 356.8h0M193.3 345.9h0M172.6 310.7h0M245.3 341.8h0M219.6 322.9h0M192.3 317.1h0M232.3 345.2h0M157.0 300.0h0M284.5 362.7h0M202.5 324.2h0M174.0 336.3h0M163.6 302.7h0M264.9 352.9h0M280.6 363.8h0M217.9 329.1h0M244.7 340.9h0M175.8 319.7h0M247.4 343.0h0M173.1 312.1h0M187.8 329.4h0M289.5 374.6h0M252.5 339.2h0M187.1 318.2h0M223.9 333.1h0M183.9 310.2h0M203.6 319.5h0M199.4 313.5h0M247.3 336.7h0M270.6 352.8h0M230.8 333.2h0M217.4 323.7h0M246.9 340.7h0M187.5 309.2h0M229.3 325.1h0M195.0 308.0h0M144.2 327.0h0M215.7 330.8h0M191.4 323.0h0M96.2 331.2h0M147.4 317.4h0M248.9 351.9h0M170.7 325.6h0M212.7 327.4h0M148.0 310.0h0M260.8 339.9h0M236.5 327.4h0M217.7 342.4h0M239.4 339.9h0M207.8 325.1h0M205.3 296.4h0M293.4 372.2h0M245.4 358.2h0M216.8 345.1h0M198.1 343.8h0M281.5 337.6h0M182.2 331.8h0M225.7 328.4h0M313.4 381.3h0M245.2 331.5h0M240.3 344.9h0M175.1 315.0h0M267.4 348.5h0M223.4 330.1h0M229.4 326.1h0M162.6 318.9h0M221.9 320.7h0M194.2 331.4h0M133.4 291.6h0M201.9 327.2h0M261.4 341.7h0M258.5 349.8h0M221.8 314.5h0M195.5 318.4h0M181.6 321.4h0M235.6 340.8h0M230.4 329.8h0M150.3 290.0h0M202.0 333.6h0M229.7 335.9h0M240.1 340.9h0M280.7 361.2h0M249.7 351.8h0M216.8 329.7h0M225.6 341.1h0M132.0 335.5h0M203.2 319.1h0M219.3 340.8h0M221.0 335.5h0M220.7 298.1h0M214.0 311.9h0M234.7 323.1h0M204.7 329.6h0M186.4 293.9h0M197.2 300.7h0M203.0 323.0h0M170.5 310.3h0M211.4 322.0h0M211.1 311.8h0M158.8 306.4h0M202.3 340.9h0M233.0 336.7h0M150.4 302.9h0M209.5 335.1h0M215.6 336.6h0M209.8 324.5h0M216.4 320.8h0M216.6 327.6h0M211.1 315.7h0M257.2 327.8h0M229.9 327.7h0M209.4 328.7h0M239.9 336.8h0M185.6 327.8h0M204.5 324.4h0M181.1 331.1h0M284.9 372.6h0M170.9 290.8h0M256.4 345.2h0M161.9 324.2h0M175.5 282.1h0M240.5 337.4h0M240.6 349.0h0M188.9 331.9h0M174.2 281.4h0M207.4 327.9h0M233.0 331.5h0M198.0 323.5h0M264.0 349.3h0M205.1 293.6h0M160.4 264.1h0M244.7 341.8h0M207.3 332.2h0M217.6 336.6h0M227.2 335.7h0M237.2 321.9h0M288.4 414.6h0M266.0 341.8h0M253.2 360.6h0M215.4 331.3h0M159.4 295.4h0M191.2 325.5h0M269.1 362.6h0M132.4 296.7h0M201.1 329.6h0M172.4 302.7h0M215.5 322.3h0M242.8 340.0h0M218.7 339.9h0M162.4 333.1h0M187.9 320.5h0M237.1 359.1h0M208.1 344.4h0M132.5 307.8h0M258.6 344.8h0M200.5 316.2h0M196.9 337.6h0M193.1 308.9h0M239.5 342.2h0M270.6 363.0h0M181.0 314.9h0M171.1 311.9h0M207.3 320.7h0M256.4 354.7h0M223.4 317.3h0M224.6 327.3h0M216.0 329.4h0M257.4 340.0h0M248.2 334.6h0M254.2 346.7h0M203.3 323.9h0M251.4 350.4h0M234.6 350.5h0M239.2 342.7h0M266.2 354.3h0M297.3 363.5h0M181.6 331.8h0M231.3 352.1h0M173.3 312.7h0M241.5 342.6h0M161.0 297.6h0M230.7 335.0h0M162.3 313.2h0M200.7 309.0h0M187.3 310.8h0M142.3 311.9h0M210.1 336.7h0M200.0 325.5h0M247.9 342.8h0M189.3 364.0h0M217.8 336.7h0M214.0 322.3h0M223.5 338.0h0M254.1 339.7h0M258.6 356.2h0M220.4 335.2h0M177.3 309.5h0M212.3 338.3h0M235.1 343.8h0M202.0 318.6h0M199.4 317.1h0M225.3 337.7h0M274.9 337.3h0M228.3 332.2h0M225.8 330.0h0M217.0 341.1h0M272.3 357.3h0M224.8 336.5h0M225.6 324.0h0M211.6 325.3h0M261.5 365.0h0M205.9 332.1h0M292.5 371.9h0M306.7 386.2h0M229.4 333.9h0M159.3 315.1h0M221.1 329.8h0M189.6 330.9h0M242.2 360.7h0M220.2 313.4h0M154.1 282.1h0M257.2 337.4h0M205.4 337.0h0M272.0 339.4h0M280.7 360.5h0M257.1 347.4h0M228.8 326.2h0M287.1 367.4h0M200.5 316.4h0M273.5 344.3h0M196.1 334.0h0M198.3 305.9h0M232.4 332.7h0M195.2 343.0h0M231.9 334.5h0M286.6 364.2h0M188.7 320.6h0" stroke="#fff" stroke-opacity="0.25" stroke-width="2.2"/><path d="M232.7 340.8h0M149.6 326.7h0M193.7 335.7h0M196.5 315.7h0M267.2 368.3h0M223.0 315.4h0M209.1 317.4h0M215.0 312.5h0M204.8 331.4h0M226.8 336.9h0M149.3 306.4h0M226.5 345.4h0M247.1 339.7h0M282.3 362.1h0M190.9 313.9h0M219.8 327.3h0M181.7 320.2h0M267.4 360.7h0M243.8 349.9h0M221.8 328.7h0M237.2 322.3h0M235.4 329.2h0M197.1 325.1h0M177.8 323.8h0M223.6 323.8h0M152.9 338.4h0M214.8 323.1h0M221.9 367.6h0M229.9 326.4h0M247.9 335.1h0M179.5 301.1h0M199.6 310.6h0M322.2 399.6h0M173.2 308.7h0M177.1 318.6h0M214.5 305.7h0M229.4 339.2h0M242.5 326.6h0M196.6 320.7h0M268.2 360.8h0M234.1 333.9h0M93.8 330.4h0M200.7 330.1h0M222.3 321.0h0M220.9 319.4h0M250.2 349.0h0M221.7 330.2h0M237.6 326.7h0M207.7 296.1h0M218.8 332.6h0M235.0 346.4h0M207.3 329.8h0M252.5 343.3h0M182.2 315.8h0M232.7 337.6h0M212.1 345.2h0M306.7 370.0h0M234.9 358.1h0M182.9 339.3h0M248.4 333.8h0M285.8 374.0h0M224.4 346.8h0M225.7 340.0h0M234.9 327.9h0M236.2 349.5h0M219.6 331.1h0M196.4 300.5h0M238.3 338.9h0M181.2 299.3h0M244.4 334.9h0M213.0 335.0h0M233.2 344.7h0M244.9 347.6h0M244.1 335.7h0M223.1 342.3h0M216.1 326.7h0M258.1 313.5h0M247.6 334.4h0M255.0 352.8h0M225.0 324.8h0M232.7 356.8h0M193.3 345.9h0M172.6 310.7h0M245.3 341.8h0M219.6 322.9h0M192.3 317.1h0M232.3 345.2h0M157.0 300.0h0M284.5 362.7h0M202.5 324.2h0M174.0 336.3h0M163.6 302.7h0M264.9 352.9h0M280.6 363.8h0M217.9 329.1h0M244.7 340.9h0M175.8 319.7h0M247.4 343.0h0M173.1 312.1h0M187.8 329.4h0M289.5 374.6h0M252.5 339.2h0M187.1 318.2h0M223.9 333.1h0M183.9 310.2h0M203.6 319.5h0M199.4 313.5h0M247.3 336.7h0M270.6 352.8h0M230.8 333.2h0M217.4 323.7h0M246.9 340.7h0M187.5 309.2h0M229.3 325.1h0M195.0 308.0h0M144.2 327.0h0M215.7 330.8h0M191.4 323.0h0M96.2 331.2h0M147.4 317.4h0M248.9 351.9h0M170.7 325.6h0M212.7 327.4h0M148.0 310.0h0M260.8 339.9h0M236.5 327.4h0M217.7 342.4h0M239.4 339.9h0M207.8 325.1h0M205.3 296.4h0M293.4 372.2h0M245.4 358.2h0M216.8 345.1h0M198.1 343.8h0M281.5 337.6h0M182.2 331.8h0M225.7 328.4h0M313.4 381.3h0M245.2 331.5h0M240.3 344.9h0M175.1 315.0h0M267.4 348.5h0M223.4 330.1h0M229.4 326.1h0M162.6 318.9h0M221.9 320.7h0M194.2 331.4h0M133.4 291.6h0M201.9 327.2h0M261.4 341.7h0M258.5 349.8h0M221.8 314.5h0M195.5 318.4h0M181.6 321.4h0M235.6 340.8h0M230.4 329.8h0M150.3 290.0h0M202.0 333.6h0M229.7 335.9h0M240.1 340.9h0M280.7 361.2h0M249.7 351.8h0M216.8 329.7h0M225.6 341.1h0M132.0 335.5h0M203.2 319.1h0M219.3 340.8h0M221.0 335.5h0M220.7 298.1h0M214.0 311.9h0M234.7 323.1h0M204.7 329.6h0M186.4 293.9h0M197.2 300.7h0M203.0 323.0h0M170.5 310.3h0M211.4 322.0h0M211.1 311.8h0M158.8 306.4h0M202.3 340.9h0M233.0 336.7h0M150.4 302.9h0M209.5 335.1h0M215.6 336.6h0M209.8 324.5h0M216.4 320.8h0M216.6 327.6h0M211.1 315.7h0M257.2 327.8h0M229.9 327.7h0M209.4 328.7h0M239.9 336.8h0M185.6 327.8h0M204.5 324.4h0M181.1 331.1h0M284.9 372.6h0M170.9 290.8h0M256.4 345.2h0M161.9 324.2h0M175.5 282.1h0M240.5 337.4h0M240.6 349.0h0M188.9 331.9h0M174.2 281.4h0M207.4 327.9h0M233.0 331.5h0M198.0 323.5h0M264.0 349.3h0M205.1 293.6h0M160.4 264.1h0M244.7 341.8h0M207.3 332.2h0M217.6 336.6h0M227.2 335.7h0M237.2 321.9h0M288.4 414.6h0M266.0 341.8h0M253.2 360.6h0M215.4 331.3h0M159.4 295.4h0M191.2 325.5h0M269.1 362.6h0M132.4 296.7h0M201.1 329.6h0M172.4 302.7h0M215.5 322.3h0M242.8 340.0h0M218.7 339.9h0M162.4 333.1h0M187.9 320.5h0M237.1 359.1h0M208.1 344.4h0M132.5 307.8h0M258.6 344.8h0M200.5 316.2h0M196.9 337.6h0M193.1 308.9h0M239.5 342.2h0M270.6 363.0h0M181.0 314.9h0M171.1 311.9h0M207.3 320.7h0M256.4 354.7h0M223.4 317.3h0M224.6 327.3h0M216.0 329.4h0M257.4 340.0h0M248.2 334.6h0M254.2 346.7h0M203.3 323.9h0M251.4 350.4h0M234.6 350.5h0M239.2 342.7h0M266.2 354.3h0M297.3 363.5h0M181.6 331.8h0M231.3 352.1h0M173.3 312.7h0M241.5 342.6h0M161.0 297.6h0M230.7 335.0h0M162.3 313.2h0M200.7 309.0h0M187.3 310.8h0M142.3 311.9h0M210.1 336.7h0M200.0 325.5h0M247.9 342.8h0M189.3 364.0h0M217.8 336.7h0M214.0 322.3h0M223.5 338.0h0M254.1 339.7h0M258.6 356.2h0M220.4 335.2h0M177.3 309.5h0M212.3 338.3h0M235.1 343.8h0M202.0 318.6h0M199.4 317.1h0M225.3 337.7h0M274.9 337.3h0M228.3 332.2h0M225.8 330.0h0M217.0 341.1h0M272.3 357.3h0M224.8 336.5h0M225.6 324.0h0M211.6 325.3h0M261.5 365.0h0M205.9 332.1h0M292.5 371.9h0M306.7 386.2h0M229.4 333.9h0M159.3 315.1h0M221.1 329.8h0M189.6 330.9h0M242.2 360.7h0M220.2 313.4h0M154.1 282.1h0M257.2 337.4h0M205.4 337.0h0M272.0 339.4h0M280.7 360.5h0M257.1 347.4h0M228.8 326.2h0M287.1 367.4h0M200.5 316.4h0M273.5 344.3h0M196.1 334.0h0M198.3 305.9h0M232.4 332.7h0M195.2 343.0h0M231.9 334.5h0M286.6 364.2h0M188.7 320.6h0" stroke="#4a4a4a" stroke-width="1.5"/><path d="M167.7 317.7h0M260.2 335.1h0M220.6 345.4h0M260.6 349.5h0M181.9 322.6h0M223.1 332.0h0M236.5 352.6h0M147.9 299.3h0M215.6 332.6h0M161.1 338.6h0M171.9 312.1h0M232.9 334.6h0M193.3 312.6h0M275.2 381.3h0M222.9 315.3h0M239.2 333.1h0M240.7 342.0h0M189.8 324.5h0M225.8 302.8h0M207.3 328.7h0M205.2 337.0h0M267.1 354.3h0M213.9 338.6h0M246.2 331.7h0M216.0 326.3h0M280.2 352.2h0M166.4 289.6h0M237.4 335.5h0M288.2 387.4h0M244.8 347.1h0M250.9 341.2h0M216.5 338.3h0M154.2 291.1h0M273.4 347.5h0M228.6 320.5h0M241.8 336.7h0M211.6 347.1h0M226.4 324.9h0M216.4 333.8h0M221.0 332.1h0M196.8 315.8h0M221.0 328.1h0M207.6 335.5h0M230.7 335.3h0M245.1 344.5h0M207.4 323.9h0M247.4 348.0h0M214.3 321.1h0M202.6 335.2h0M185.8 308.6h0M272.5 335.8h0M162.2 307.0h0M201.8 347.3h0M269.2 346.4h0M164.1 326.2h0M257.1 345.0h0M175.0 291.3h0M176.7 320.6h0M270.3 368.3h0M299.2 361.2h0M221.8 340.7h0M196.9 338.1h0M194.6 306.4h0M230.5 346.1h0M219.1 338.2h0M156.3 313.4h0M218.8 329.5h0M227.1 333.7h0M244.8 335.9h0M255.1 332.7h0M229.0 338.1h0M233.4 339.7h0M170.3 318.4h0M174.5 301.5h0M227.3 318.7h0M222.8 334.3h0M224.6 334.7h0M216.0 336.0h0M254.7 356.0h0M230.9 343.8h0M216.3 322.0h0M230.3 348.1h0M234.1 341.6h0M218.5 326.9h0M294.9 373.6h0M272.7 375.2h0M192.5 319.3h0M204.9 319.7h0M187.2 325.7h0M186.5 338.7h0M198.9 330.5h0M219.9 341.3h0M188.4 320.0h0M213.0 349.5h0M251.3 345.8h0M252.8 345.6h0M250.9 346.5h0M217.4 387.0h0M165.3 335.3h0M181.9 303.3h0M125.6 314.8h0M194.7 329.9h0M266.8 346.3h0M249.0 339.5h0M160.0 286.3h0M219.8 324.1h0M244.6 335.6h0M233.9 337.8h0M248.9 362.0h0M202.9 333.0h0M223.4 338.9h0M295.1 363.2h0M225.1 332.2h0M208.4 322.9h0M118.4 321.0h0M200.0 312.9h0M121.5 292.2h0M230.8 340.8h0M262.7 361.2h0M159.1 317.7h0M208.4 332.0h0M157.6 318.3h0M238.5 326.3h0M222.0 316.6h0M105.1 274.4h0M270.9 354.6h0M175.4 302.1h0M187.3 281.6h0M238.7 343.0h0M228.3 330.4h0M295.0 368.0h0M211.4 331.9h0M281.8 350.1h0M255.1 356.7h0M272.9 354.7h0M232.2 336.7h0M195.1 313.6h0M109.2 283.3h0M216.7 327.8h0M267.0 365.8h0M198.5 321.4h0M210.2 330.8h0M209.4 330.3h0M241.9 344.6h0M193.3 334.3h0M250.5 358.6h0M220.7 343.0h0M245.8 336.3h0M173.8 320.8h0M247.6 355.0h0M223.4 329.8h0M301.9 370.9h0M172.5 286.7h0M170.8 291.7h0M201.6 338.4h0M206.0 327.7h0M185.0 325.8h0M143.1 291.3h0M229.7 340.0h0M247.7 339.4h0M230.0 317.0h0M157.3 286.8h0M230.2 351.5h0M224.9 325.8h0M246.9 345.0h0M202.4 327.4h0M234.6 339.9h0M230.7 338.2h0M242.0 328.4h0M257.2 377.2h0M247.0 328.2h0M228.9 329.4h0M201.3 330.6h0M251.8 326.7h0M218.9 320.3h0M234.9 347.5h0M238.4 342.2h0M258.7 349.1h0M212.6 357.4h0M235.1 341.8h0M225.5 333.0h0M226.5 332.9h0M158.1 301.2h0M301.9 387.9h0M191.8 311.0h0M180.8 311.7h0M126.8 291.6h0M222.4 346.2h0M195.6 305.4h0M202.7 316.5h0M217.4 327.4h0M267.4 359.0h0M248.9 355.5h0M240.5 337.3h0M188.8 329.0h0M306.0 381.6h0M236.2 335.6h0M228.0 309.8h0M280.5 362.6h0M210.7 331.1h0M213.3 342.7h0M226.7 334.2h0M239.4 348.5h0M243.2 341.0h0M231.5 345.5h0M204.5 331.7h0M235.9 347.2h0M146.8 297.1h0M232.2 353.4h0M166.3 294.1h0M212.1 314.8h0M178.2 290.8h0M236.8 355.2h0M181.3 300.7h0M222.0 330.7h0M221.8 334.9h0M208.6 319.4h0M212.9 342.5h0M190.1 335.4h0M225.0 341.1h0M226.4 323.0h0M274.1 372.6h0M269.1 354.3h0M222.5 335.2h0M192.9 324.9h0M241.8 362.0h0M204.4 317.0h0M249.5 321.5h0M209.4 321.7h0M254.3 349.3h0M186.9 325.6h0M236.1 338.5h0M220.0 310.0h0M232.8 346.4h0M268.1 362.1h0M231.2 341.6h0M259.8 363.6h0M215.1 308.8h0M219.3 327.5h0M245.8 356.9h0M229.1 331.0h0M189.4 315.1h0M247.9 354.8h0M229.2 324.7h0M180.9 333.8h0M218.0 324.3h0M244.2 333.6h0M199.9 317.6h0M196.6 296.9h0M148.5 300.2h0M184.0 326.6h0M252.1 346.9h0M226.4 342.4h0M255.2 362.6h0M280.0 359.0h0M224.5 302.8h0M243.2 343.5h0M229.0 325.8h0M286.4 385.5h0M244.8 337.2h0M220.6 343.4h0M234.6 357.2h0M190.2 315.3h0M223.5 321.1h0M237.9 337.5h0M282.4 363.6h0M210.9 332.7h0M268.9 351.8h0M227.6 341.7h0M258.5 358.7h0M234.8 349.4h0M230.7 334.0h0M108.9 313.3h0M197.4 319.3h0M224.7 326.1h0M224.5 344.2h0M172.6 338.6h0M189.2 325.6h0M190.9 307.6h0M189.0 335.1h0M242.0 343.6h0M220.8 338.5h0M186.7 284.5h0M175.3 345.3h0M207.7 338.9h0M174.9 328.3h0M287.4 368.1h0M269.5 373.2h0M190.9 309.0h0M213.5 330.0h0M167.7 311.5h0M226.2 314.2h0M226.5 327.5h0M200.0 312.8h0M240.7 338.5h0M206.6 316.4h0M231.6 349.2h0M258.4 355.8h0M274.5 369.5h0M161.7 269.1h0M241.4 343.0h0M193.0 316.6h0M186.4 304.9h0M191.7 335.0h0M188.3 310.5h0M203.8 319.1h0M205.2 320.7h0M269.9 352.1h0M244.4 346.9h0M262.5 338.7h0M206.4 335.0h0M251.7 367.9h0M262.7 341.3h0M243.9 348.8h0M206.0 314.9h0M206.9 323.4h0" stroke="#fff" stroke-opacity="0.25" stroke-width="2.2"/><path d="M167.7 317.7h0M260.2 335.1h0M220.6 345.4h0M260.6 349.5h0M181.9 322.6h0M223.1 332.0h0M236.5 352.6h0M147.9 299.3h0M215.6 332.6h0M161.1 338.6h0M171.9 312.1h0M232.9 334.6h0M193.3 312.6h0M275.2 381.3h0M222.9 315.3h0M239.2 333.1h0M240.7 342.0h0M189.8 324.5h0M225.8 302.8h0M207.3 328.7h0M205.2 337.0h0M267.1 354.3h0M213.9 338.6h0M246.2 331.7h0M216.0 326.3h0M280.2 352.2h0M166.4 289.6h0M237.4 335.5h0M288.2 387.4h0M244.8 347.1h0M250.9 341.2h0M216.5 338.3h0M154.2 291.1h0M273.4 347.5h0M228.6 320.5h0M241.8 336.7h0M211.6 347.1h0M226.4 324.9h0M216.4 333.8h0M221.0 332.1h0M196.8 315.8h0M221.0 328.1h0M207.6 335.5h0M230.7 335.3h0M245.1 344.5h0M207.4 323.9h0M247.4 348.0h0M214.3 321.1h0M202.6 335.2h0M185.8 308.6h0M272.5 335.8h0M162.2 307.0h0M201.8 347.3h0M269.2 346.4h0M164.1 326.2h0M257.1 345.0h0M175.0 291.3h0M176.7 320.6h0M270.3 368.3h0M299.2 361.2h0M221.8 340.7h0M196.9 338.1h0M194.6 306.4h0M230.5 346.1h0M219.1 338.2h0M156.3 313.4h0M218.8 329.5h0M227.1 333.7h0M244.8 335.9h0M255.1 332.7h0M229.0 338.1h0M233.4 339.7h0M170.3 318.4h0M174.5 301.5h0M227.3 318.7h0M222.8 334.3h0M224.6 334.7h0M216.0 336.0h0M254.7 356.0h0M230.9 343.8h0M216.3 322.0h0M230.3 348.1h0M234.1 341.6h0M218.5 326.9h0M294.9 373.6h0M272.7 375.2h0M192.5 319.3h0M204.9 319.7h0M187.2 325.7h0M186.5 338.7h0M198.9 330.5h0M219.9 341.3h0M188.4 320.0h0M213.0 349.5h0M251.3 345.8h0M252.8 345.6h0M250.9 346.5h0M217.4 387.0h0M165.3 335.3h0M181.9 303.3h0M125.6 314.8h0M194.7 329.9h0M266.8 346.3h0M249.0 339.5h0M160.0 286.3h0M219.8 324.1h0M244.6 335.6h0M233.9 337.8h0M248.9 362.0h0M202.9 333.0h0M223.4 338.9h0M295.1 363.2h0M225.1 332.2h0M208.4 322.9h0M118.4 321.0h0M200.0 312.9h0M121.5 292.2h0M230.8 340.8h0M262.7 361.2h0M159.1 317.7h0M208.4 332.0h0M157.6 318.3h0M238.5 326.3h0M222.0 316.6h0M105.1 274.4h0M270.9 354.6h0M175.4 302.1h0M187.3 281.6h0M238.7 343.0h0M228.3 330.4h0M295.0 368.0h0M211.4 331.9h0M281.8 350.1h0M255.1 356.7h0M272.9 354.7h0M232.2 336.7h0M195.1 313.6h0M109.2 283.3h0M216.7 327.8h0M267.0 365.8h0M198.5 321.4h0M210.2 330.8h0M209.4 330.3h0M241.9 344.6h0M193.3 334.3h0M250.5 358.6h0M220.7 343.0h0M245.8 336.3h0M173.8 320.8h0M247.6 355.0h0M223.4 329.8h0M301.9 370.9h0M172.5 286.7h0M170.8 291.7h0M201.6 338.4h0M206.0 327.7h0M185.0 325.8h0M143.1 291.3h0M229.7 340.0h0M247.7 339.4h0M230.0 317.0h0M157.3 286.8h0M230.2 351.5h0M224.9 325.8h0M246.9 345.0h0M202.4 327.4h0M234.6 339.9h0M230.7 338.2h0M242.0 328.4h0M257.2 377.2h0M247.0 328.2h0M228.9 329.4h0M201.3 330.6h0M251.8 326.7h0M218.9 320.3h0M234.9 347.5h0M238.4 342.2h0M258.7 349.1h0M212.6 357.4h0M235.1 341.8h0M225.5 333.0h0M226.5 332.9h0M158.1 301.2h0M301.9 387.9h0M191.8 311.0h0M180.8 311.7h0M126.8 291.6h0M222.4 346.2h0M195.6 305.4h0M202.7 316.5h0M217.4 327.4h0M267.4 359.0h0M248.9 355.5h0M240.5 337.3h0M188.8 329.0h0M306.0 381.6h0M236.2 335.6h0M228.0 309.8h0M280.5 362.6h0M210.7 331.1h0M213.3 342.7h0M226.7 334.2h0M239.4 348.5h0M243.2 341.0h0M231.5 345.5h0M204.5 331.7h0M235.9 347.2h0M146.8 297.1h0M232.2 353.4h0M166.3 294.1h0M212.1 314.8h0M178.2 290.8h0M236.8 355.2h0M181.3 300.7h0M222.0 330.7h0M221.8 334.9h0M208.6 319.4h0M212.9 342.5h0M190.1 335.4h0M225.0 341.1h0M226.4 323.0h0M274.1 372.6h0M269.1 354.3h0M222.5 335.2h0M192.9 324.9h0M241.8 362.0h0M204.4 317.0h0M249.5 321.5h0M209.4 321.7h0M254.3 349.3h0M186.9 325.6h0M236.1 338.5h0M220.0 310.0h0M232.8 346.4h0M268.1 362.1h0M231.2 341.6h0M259.8 363.6h0M215.1 308.8h0M219.3 327.5h0M245.8 356.9h0M229.1 331.0h0M189.4 315.1h0M247.9 354.8h0M229.2 324.7h0M180.9 333.8h0M218.0 324.3h0M244.2 333.6h0M199.9 317.6h0M196.6 296.9h0M148.5 300.2h0M184.0 326.6h0M252.1 346.9h0M226.4 342.4h0M255.2 362.6h0M280.0 359.0h0M224.5 302.8h0M243.2 343.5h0M229.0 325.8h0M286.4 385.5h0M244.8 337.2h0M220.6 343.4h0M234.6 357.2h0M190.2 315.3h0M223.5 321.1h0M237.9 337.5h0M282.4 363.6h0M210.9 332.7h0M268.9 351.8h0M227.6 341.7h0M258.5 358.7h0M234.8 349.4h0M230.7 334.0h0M108.9 313.3h0M197.4 319.3h0M224.7 326.1h0M224.5 344.2h0M172.6 338.6h0M189.2 325.6h0M190.9 307.6h0M189.0 335.1h0M242.0 343.6h0M220.8 338.5h0M186.7 284.5h0M175.3 345.3h0M207.7 338.9h0M174.9 328.3h0M287.4 368.1h0M269.5 373.2h0M190.9 309.0h0M213.5 330.0h0M167.7 311.5h0M226.2 314.2h0M226.5 327.5h0M200.0 312.8h0M240.7 338.5h0M206.6 316.4h0M231.6 349.2h0M258.4 355.8h0M274.5 369.5h0M161.7 269.1h0M241.4 343.0h0M193.0 316.6h0M186.4 304.9h0M191.7 335.0h0M188.3 310.5h0M203.8 319.1h0M205.2 320.7h0M269.9 352.1h0M244.4 346.9h0M262.5 338.7h0M206.4 335.0h0M251.7 367.9h0M262.7 341.3h0M243.9 348.8h0M206.0 314.9h0M206.9 323.4h0" stroke="#4a4a4a" stroke-width="1.5"/><path d="M146.9 328.1h0M201.1 331.5h0M215.0 333.0h0M208.4 332.0h0M216.9 347.8h0M192.5 320.3h0M203.9 312.0h0M216.1 324.3h0M215.9 348.8h0M189.8 322.6h0M172.2 307.8h0M267.2 370.1h0M223.6 325.3h0M154.0 314.7h0M225.6 346.1h0M210.3 342.1h0M226.2 318.7h0M235.0 325.2h0M219.2 336.2h0M187.9 330.1h0M204.7 322.7h0M196.4 331.0h0M230.4 353.9h0M226.1 333.3h0M179.3 292.8h0M212.7 344.7h0M183.9 295.4h0M125.2 289.9h0M265.7 351.8h0M208.3 321.9h0M215.0 336.8h0M188.6 342.2h0M185.2 322.6h0M213.9 322.7h0M227.9 350.1h0M260.3 355.8h0M221.0 326.5h0M238.0 329.6h0M219.6 338.2h0M210.5 331.3h0M265.9 335.4h0M220.8 337.7h0M191.8 321.1h0M226.9 335.5h0M231.2 340.7h0M232.9 348.7h0M209.6 331.1h0M266.7 351.8h0M163.1 311.5h0M285.9 367.8h0M262.4 348.9h0M183.3 298.7h0M222.3 320.5h0M230.4 343.7h0M174.7 322.3h0M248.1 344.5h0M193.7 334.8h0M269.1 369.5h0M260.6 347.0h0M229.1 336.0h0M273.1 371.1h0M219.4 330.9h0M183.2 317.1h0M203.5 338.5h0M244.4 334.8h0M203.1 316.2h0M250.9 360.9h0M274.1 362.9h0M249.5 337.8h0M301.7 382.4h0M183.9 318.8h0M286.3 368.9h0M175.8 337.4h0M243.7 368.0h0M250.8 344.7h0M203.8 311.0h0M265.6 354.7h0M224.0 334.1h0M182.5 333.8h0M234.9 350.9h0M263.9 349.4h0M85.6 290.8h0M207.1 308.6h0M217.2 313.6h0M211.4 320.2h0M221.2 324.5h0M193.2 315.6h0M240.0 346.8h0M223.2 354.2h0M230.6 343.2h0M208.4 343.2h0M249.5 354.9h0M262.6 357.6h0M201.5 329.5h0M197.6 338.9h0M220.9 322.0h0M157.3 310.9h0M260.5 350.7h0M232.6 338.4h0M274.6 360.3h0M223.1 334.7h0M193.6 335.1h0M258.2 365.7h0M228.7 330.4h0M190.3 326.9h0M221.1 334.6h0M159.9 296.8h0M186.0 317.8h0M115.8 293.0h0M238.9 365.8h0M203.9 337.7h0M275.2 338.4h0M217.7 322.3h0M271.1 357.8h0M233.1 327.0h0M197.7 335.7h0M234.5 346.4h0M248.9 341.4h0M171.5 337.2h0M179.7 316.3h0M149.4 305.2h0M217.4 332.7h0M150.4 301.5h0M199.0 319.3h0M182.4 327.5h0M251.5 344.2h0M251.1 358.2h0M211.0 338.0h0M249.2 339.1h0M203.6 337.8h0M241.9 350.5h0M237.6 342.3h0M213.9 339.3h0M107.3 265.0h0M171.7 272.6h0M212.8 331.3h0M277.6 382.5h0M204.1 317.0h0M220.5 325.6h0M230.2 340.9h0M191.6 320.7h0M240.3 331.6h0M270.5 357.0h0M209.3 321.2h0M214.3 319.6h0M214.7 332.7h0M229.6 348.5h0M224.2 342.8h0M163.9 321.5h0M170.9 319.5h0M244.7 333.9h0M265.0 350.1h0M229.7 314.7h0M240.6 327.4h0M178.9 299.3h0M189.8 285.1h0M226.4 326.6h0M236.6 356.1h0M232.7 346.1h0M252.3 334.8h0M197.0 312.4h0M215.7 328.4h0M209.8 324.3h0M139.8 293.0h0M225.6 345.3h0M208.1 330.1h0M193.7 328.8h0M265.0 339.1h0M196.4 323.4h0M269.2 346.1h0M228.9 326.6h0M213.6 344.6h0M217.8 345.1h0M219.0 336.7h0M205.6 313.4h0M220.8 321.0h0M167.1 325.7h0M232.5 318.5h0M188.7 310.3h0M187.8 321.3h0M226.7 324.6h0M242.6 324.3h0M254.8 347.5h0M250.5 345.4h0M270.6 371.6h0M218.0 317.2h0M200.5 323.4h0M219.8 328.8h0M254.9 346.8h0M263.4 372.5h0M210.3 343.5h0M226.3 332.6h0M168.4 328.4h0M206.6 328.8h0M194.4 318.6h0M203.1 330.0h0M200.7 324.5h0M190.9 299.2h0M222.3 333.6h0M202.1 319.7h0M217.3 330.0h0M219.1 327.2h0M202.5 324.2h0M219.7 336.1h0M193.8 323.3h0M196.9 334.1h0M272.1 360.9h0M211.2 349.1h0M264.1 342.5h0M150.1 330.2h0M225.7 328.0h0M181.5 316.9h0M230.6 331.2h0M259.8 339.4h0M221.2 331.4h0M244.4 347.8h0M219.5 333.2h0M230.0 344.4h0M217.0 326.4h0M179.6 291.6h0M219.6 331.7h0M241.5 335.7h0M225.2 322.9h0M117.4 327.5h0M190.6 318.5h0M215.0 327.2h0M182.9 314.7h0M179.1 318.0h0M245.7 345.0h0M202.7 326.7h0M193.1 315.4h0M230.1 338.4h0M258.1 358.6h0M209.5 324.2h0M234.2 377.0h0M194.4 296.2h0M286.4 363.9h0M193.3 319.2h0M232.1 346.7h0M180.0 346.0h0M301.5 360.3h0M292.7 384.2h0M233.1 346.0h0M233.6 334.9h0M236.4 332.5h0M210.6 338.6h0M213.5 307.2h0M232.9 328.2h0M232.7 333.4h0M223.5 352.6h0M179.0 320.7h0M270.3 363.6h0M215.8 332.0h0M160.4 306.3h0M222.9 324.4h0M227.2 328.7h0M232.9 343.6h0M266.4 356.2h0M241.8 336.6h0M182.7 320.2h0M274.9 374.8h0M225.7 344.1h0M240.6 356.2h0M224.3 341.6h0M286.4 354.9h0M161.7 318.7h0M253.8 356.8h0M294.1 360.3h0M206.7 336.9h0M183.1 323.7h0M169.5 329.7h0M215.2 311.5h0M208.0 340.7h0M197.3 323.0h0M269.7 357.6h0M227.1 325.3h0M166.0 318.1h0M217.8 308.8h0M228.3 338.2h0M223.9 338.1h0M246.9 339.7h0M265.3 358.5h0M225.9 328.9h0M256.0 348.0h0M255.3 352.2h0M202.7 323.6h0M205.8 337.4h0M208.5 339.1h0M209.6 338.5h0M228.8 319.2h0M254.9 342.8h0M214.0 321.0h0M224.3 338.5h0M192.4 312.4h0M263.0 349.9h0M195.0 338.8h0M208.1 329.6h0M199.7 320.3h0M228.3 324.5h0M209.0 322.9h0M220.3 331.1h0M245.6 329.7h0M167.9 339.1h0M195.3 321.5h0M231.9 321.0h0M213.4 326.9h0M200.2 321.9h0M248.4 350.8h0M225.8 330.8h0M185.1 339.1h0M221.6 318.4h0M244.9 353.5h0M242.9 349.6h0M216.7 332.9h0M150.7 326.0h0M236.9 337.2h0" stroke="#fff" stroke-opacity="0.25" stroke-width="2.2"/><path d="M146.9 328.1h0M201.1 331.5h0M215.0 333.0h0M208.4 332.0h0M216.9 347.8h0M192.5 320.3h0M203.9 312.0h0M216.1 324.3h0M215.9 348.8h0M189.8 322.6h0M172.2 307.8h0M267.2 370.1h0M223.6 325.3h0M154.0 314.7h0M225.6 346.1h0M210.3 342.1h0M226.2 318.7h0M235.0 325.2h0M219.2 336.2h0M187.9 330.1h0M204.7 322.7h0M196.4 331.0h0M230.4 353.9h0M226.1 333.3h0M179.3 292.8h0M212.7 344.7h0M183.9 295.4h0M125.2 289.9h0M265.7 351.8h0M208.3 321.9h0M215.0 336.8h0M188.6 342.2h0M185.2 322.6h0M213.9 322.7h0M227.9 350.1h0M260.3 355.8h0M221.0 326.5h0M238.0 329.6h0M219.6 338.2h0M210.5 331.3h0M265.9 335.4h0M220.8 337.7h0M191.8 321.1h0M226.9 335.5h0M231.2 340.7h0M232.9 348.7h0M209.6 331.1h0M266.7 351.8h0M163.1 311.5h0M285.9 367.8h0M262.4 348.9h0M183.3 298.7h0M222.3 320.5h0M230.4 343.7h0M174.7 322.3h0M248.1 344.5h0M193.7 334.8h0M269.1 369.5h0M260.6 347.0h0M229.1 336.0h0M273.1 371.1h0M219.4 330.9h0M183.2 317.1h0M203.5 338.5h0M244.4 334.8h0M203.1 316.2h0M250.9 360.9h0M274.1 362.9h0M249.5 337.8h0M301.7 382.4h0M183.9 318.8h0M286.3 368.9h0M175.8 337.4h0M243.7 368.0h0M250.8 344.7h0M203.8 311.0h0M265.6 354.7h0M224.0 334.1h0M182.5 333.8h0M234.9 350.9h0M263.9 349.4h0M85.6 290.8h0M207.1 308.6h0M217.2 313.6h0M211.4 320.2h0M221.2 324.5h0M193.2 315.6h0M240.0 346.8h0M223.2 354.2h0M230.6 343.2h0M208.4 343.2h0M249.5 354.9h0M262.6 357.6h0M201.5 329.5h0M197.6 338.9h0M220.9 322.0h0M157.3 310.9h0M260.5 350.7h0M232.6 338.4h0M274.6 360.3h0M223.1 334.7h0M193.6 335.1h0M258.2 365.7h0M228.7 330.4h0M190.3 326.9h0M221.1 334.6h0M159.9 296.8h0M186.0 317.8h0M115.8 293.0h0M238.9 365.8h0M203.9 337.7h0M275.2 338.4h0M217.7 322.3h0M271.1 357.8h0M233.1 327.0h0M197.7 335.7h0M234.5 346.4h0M248.9 341.4h0M171.5 337.2h0M179.7 316.3h0M149.4 305.2h0M217.4 332.7h0M150.4 301.5h0M199.0 319.3h0M182.4 327.5h0M251.5 344.2h0M251.1 358.2h0M211.0 338.0h0M249.2 339.1h0M203.6 337.8h0M241.9 350.5h0M237.6 342.3h0M213.9 339.3h0M107.3 265.0h0M171.7 272.6h0M212.8 331.3h0M277.6 382.5h0M204.1 317.0h0M220.5 325.6h0M230.2 340.9h0M191.6 320.7h0M240.3 331.6h0M270.5 357.0h0M209.3 321.2h0M214.3 319.6h0M214.7 332.7h0M229.6 348.5h0M224.2 342.8h0M163.9 321.5h0M170.9 319.5h0M244.7 333.9h0M265.0 350.1h0M229.7 314.7h0M240.6 327.4h0M178.9 299.3h0M189.8 285.1h0M226.4 326.6h0M236.6 356.1h0M232.7 346.1h0M252.3 334.8h0M197.0 312.4h0M215.7 328.4h0M209.8 324.3h0M139.8 293.0h0M225.6 345.3h0M208.1 330.1h0M193.7 328.8h0M265.0 339.1h0M196.4 323.4h0M269.2 346.1h0M228.9 326.6h0M213.6 344.6h0M217.8 345.1h0M219.0 336.7h0M205.6 313.4h0M220.8 321.0h0M167.1 325.7h0M232.5 318.5h0M188.7 310.3h0M187.8 321.3h0M226.7 324.6h0M242.6 324.3h0M254.8 347.5h0M250.5 345.4h0M270.6 371.6h0M218.0 317.2h0M200.5 323.4h0M219.8 328.8h0M254.9 346.8h0M263.4 372.5h0M210.3 343.5h0M226.3 332.6h0M168.4 328.4h0M206.6 328.8h0M194.4 318.6h0M203.1 330.0h0M200.7 324.5h0M190.9 299.2h0M222.3 333.6h0M202.1 319.7h0M217.3 330.0h0M219.1 327.2h0M202.5 324.2h0M219.7 336.1h0M193.8 323.3h0M196.9 334.1h0M272.1 360.9h0M211.2 349.1h0M264.1 342.5h0M150.1 330.2h0M225.7 328.0h0M181.5 316.9h0M230.6 331.2h0M259.8 339.4h0M221.2 331.4h0M244.4 347.8h0M219.5 333.2h0M230.0 344.4h0M217.0 326.4h0M179.6 291.6h0M219.6 331.7h0M241.5 335.7h0M225.2 322.9h0M117.4 327.5h0M190.6 318.5h0M215.0 327.2h0M182.9 314.7h0M179.1 318.0h0M245.7 345.0h0M202.7 326.7h0M193.1 315.4h0M230.1 338.4h0M258.1 358.6h0M209.5 324.2h0M234.2 377.0h0M194.4 296.2h0M286.4 363.9h0M193.3 319.2h0M232.1 346.7h0M180.0 346.0h0M301.5 360.3h0M292.7 384.2h0M233.1 346.0h0M233.6 334.9h0M236.4 332.5h0M210.6 338.6h0M213.5 307.2h0M232.9 328.2h0M232.7 333.4h0M223.5 352.6h0M179.0 320.7h0M270.3 363.6h0M215.8 332.0h0M160.4 306.3h0M222.9 324.4h0M227.2 328.7h0M232.9 343.6h0M266.4 356.2h0M241.8 336.6h0M182.7 320.2h0M274.9 374.8h0M225.7 344.1h0M240.6 356.2h0M224.3 341.6h0M286.4 354.9h0M161.7 318.7h0M253.8 356.8h0M294.1 360.3h0M206.7 336.9h0M183.1 323.7h0M169.5 329.7h0M215.2 311.5h0M208.0 340.7h0M197.3 323.0h0M269.7 357.6h0M227.1 325.3h0M166.0 318.1h0M217.8 308.8h0M228.3 338.2h0M223.9 338.1h0M246.9 339.7h0M265.3 358.5h0M225.9 328.9h0M256.0 348.0h0M255.3 352.2h0M202.7 323.6h0M205.8 337.4h0M208.5 339.1h0M209.6 338.5h0M228.8 319.2h0M254.9 342.8h0M214.0 321.0h0M224.3 338.5h0M192.4 312.4h0M263.0 349.9h0M195.0 338.8h0M208.1 329.6h0M199.7 320.3h0M228.3 324.5h0M209.0 322.9h0M220.3 331.1h0M245.6 329.7h0M167.9 339.1h0M195.3 321.5h0M231.9 321.0h0M213.4 326.9h0M200.2 321.9h0M248.4 350.8h0M225.8 330.8h0M185.1 339.1h0M221.6 318.4h0M244.9 353.5h0M242.9 349.6h0M216.7 332.9h0M150.7 326.0h0M236.9 337.2h0" stroke="#4a4a4a" stroke-width="1.5"/><path d="M194.7 330.2h0M176.0 328.4h0M243.3 339.6h0M242.4 338.8h0M240.8 330.0h0M223.9 330.0h0M175.1 320.8h0M209.0 334.0h0M188.5 315.5h0M211.0 315.3h0M276.6 361.8h0M236.3 338.9h0M264.7 350.8h0M273.0 364.1h0M261.0 348.9h0M229.6 329.3h0M243.6 330.5h0M222.6 323.9h0M231.2 324.7h0M251.5 352.6h0M186.2 322.2h0M296.1 366.7h0M256.6 362.0h0M224.1 332.8h0M249.4 342.6h0M251.4 344.7h0M234.1 338.0h0M221.5 299.6h0M185.9 330.0h0M294.2 382.6h0M238.3 332.4h0M136.8 284.6h0M171.0 343.6h0M236.2 329.7h0M233.5 342.1h0M258.7 346.9h0M202.3 325.6h0M276.5 357.9h0M203.8 319.8h0M220.1 313.6h0M221.9 342.6h0M138.2 310.8h0M274.4 350.0h0M163.8 303.4h0M228.1 352.4h0M277.1 364.5h0M209.9 323.6h0M171.9 354.1h0M253.7 343.9h0M175.1 321.3h0M211.4 319.7h0M250.6 347.4h0M244.8 311.5h0M251.7 342.9h0M187.2 317.6h0M211.1 330.0h0M237.4 333.4h0M225.5 344.8h0M211.6 339.4h0M246.7 342.9h0M222.6 340.4h0M227.7 342.6h0M218.2 329.6h0M212.1 311.8h0M212.4 321.0h0M217.5 321.5h0M266.5 376.3h0M180.5 325.5h0M306.9 377.1h0M233.1 331.7h0M244.4 325.4h0M182.7 340.4h0M235.2 352.8h0M197.3 327.4h0M187.4 327.0h0M181.2 319.1h0M241.6 327.8h0M263.8 369.0h0M225.2 344.4h0M139.6 298.1h0M245.2 333.8h0M202.8 309.7h0M265.4 354.0h0M123.2 366.3h0M262.3 357.6h0M181.8 315.8h0M190.0 325.3h0M226.2 351.2h0M234.1 310.5h0M234.0 348.2h0M233.2 337.2h0M218.3 310.8h0M201.5 322.8h0M258.7 351.5h0M209.6 313.2h0M229.7 314.3h0M221.3 344.2h0M216.5 337.9h0M173.2 334.4h0M223.5 341.1h0M198.4 302.7h0M221.6 323.8h0M291.9 371.7h0M235.0 319.3h0M236.9 338.0h0M253.9 371.6h0M214.4 326.3h0M198.0 323.7h0M246.8 345.8h0M215.2 333.7h0M237.7 339.3h0M215.7 348.6h0M193.1 317.2h0M234.4 349.5h0M237.4 319.9h0M185.7 303.7h0M235.5 333.7h0M220.0 336.9h0M224.1 339.6h0M257.2 319.9h0M127.3 283.6h0M236.1 340.8h0M198.6 315.8h0M247.0 327.9h0M240.9 329.2h0M181.6 311.2h0M168.6 306.9h0M223.4 327.1h0M213.7 314.4h0M209.4 331.3h0M218.3 346.1h0M254.0 349.3h0M213.3 316.8h0M189.8 325.0h0M197.2 311.5h0M141.5 302.2h0M167.5 321.5h0M204.2 335.2h0M217.6 325.7h0M183.2 323.4h0M257.7 339.7h0M305.5 374.6h0M204.7 316.5h0M154.5 308.0h0M212.0 335.6h0M210.9 349.7h0M216.9 334.0h0M225.6 327.8h0M188.7 331.6h0M178.4 338.2h0M251.6 350.4h0M250.3 339.9h0M227.1 329.6h0M217.5 340.2h0M219.2 329.4h0M196.0 328.3h0M255.2 346.2h0M241.4 342.6h0M236.0 345.9h0M199.2 327.1h0M226.0 348.9h0M186.5 309.5h0M195.4 316.6h0M228.5 341.3h0M113.1 282.4h0M258.2 337.3h0M149.4 312.9h0M204.8 319.8h0M198.7 320.6h0M217.6 318.6h0M233.8 344.4h0M204.5 327.7h0M228.5 326.9h0M229.9 332.2h0M256.1 345.1h0M234.4 346.8h0M198.8 314.3h0M235.3 357.8h0M259.9 340.9h0M245.5 345.8h0M233.9 343.6h0M245.9 345.9h0M165.7 317.2h0M286.4 358.4h0M163.9 326.3h0M195.0 314.7h0M187.5 312.0h0M178.5 325.5h0M171.7 331.6h0M217.5 302.0h0M229.3 338.4h0M192.0 320.4h0M200.8 330.7h0M181.9 315.2h0M190.8 341.0h0M264.4 356.9h0M171.0 306.9h0M253.2 335.4h0M210.3 338.7h0M281.6 365.1h0M281.5 361.0h0M226.2 326.4h0M204.0 334.4h0M243.7 340.3h0M228.5 336.5h0M289.0 363.1h0M149.4 338.2h0M201.6 328.0h0M204.6 324.0h0M131.3 290.8h0M241.8 326.4h0M226.9 327.6h0M270.5 366.3h0M233.5 317.5h0M226.5 337.7h0M255.8 346.7h0M233.6 336.3h0M255.2 342.4h0M184.1 307.3h0M246.9 361.2h0M228.1 357.3h0M276.3 369.6h0M213.9 339.4h0M272.8 357.8h0M189.1 348.9h0M193.7 321.3h0M231.2 350.9h0M229.3 327.9h0M237.4 343.3h0M309.8 380.1h0M228.0 317.3h0M195.7 310.9h0M231.2 336.9h0M212.1 336.5h0M188.1 329.3h0M266.3 351.8h0M203.2 340.1h0M200.3 343.7h0M203.0 318.0h0M213.1 316.0h0M256.5 345.3h0M225.1 336.4h0M205.9 319.2h0M166.7 295.4h0M209.9 335.9h0M194.0 311.3h0M228.6 322.5h0M218.0 306.8h0M242.6 334.0h0M254.4 351.0h0M174.5 301.3h0M151.5 307.6h0M228.2 339.1h0M222.6 335.8h0M240.3 358.5h0M213.3 333.6h0M215.7 321.5h0M211.4 347.5h0M237.3 348.1h0M185.9 286.3h0M213.1 333.0h0M212.7 329.6h0M231.6 330.1h0M213.0 324.7h0M225.4 321.6h0M209.9 326.0h0M193.3 323.4h0M177.7 286.8h0M247.6 348.0h0M190.0 288.3h0M205.4 353.6h0M214.9 285.4h0M250.5 347.7h0M254.5 356.8h0M225.5 335.4h0M231.1 334.0h0M252.7 333.1h0M210.4 329.5h0M259.3 356.7h0M214.0 317.2h0M214.4 326.7h0M220.2 317.5h0M203.0 313.1h0M226.9 325.5h0M232.1 338.2h0M229.8 343.6h0M162.6 310.1h0M222.0 338.7h0M184.5 318.5h0M248.7 343.5h0M269.6 376.8h0M237.5 328.6h0M238.8 337.4h0M242.7 357.3h0M237.3 349.3h0M218.2 339.3h0M218.3 351.3h0M239.4 321.9h0M195.9 317.7h0M223.4 355.3h0M100.1 339.6h0M308.9 383.1h0M190.7 322.2h0M199.5 311.0h0M222.9 333.1h0M162.5 338.8h0M208.9 314.0h0M213.0 314.7h0M217.6 334.4h0M175.9 297.8h0M250.6 344.6h0M237.4 343.7h0M227.7 340.9h0M150.6 289.5h0M167.8 304.4h0M215.0 323.5h0" stroke="#fff" stroke-opacity="0.25" stroke-width="2.2"/><path d="M194.7 330.2h0M176.0 328.4h0M243.3 339.6h0M242.4 338.8h0M240.8 330.0h0M223.9 330.0h0M175.1 320.8h0M209.0 334.0h0M188.5 315.5h0M211.0 315.3h0M276.6 361.8h0M236.3 338.9h0M264.7 350.8h0M273.0 364.1h0M261.0 348.9h0M229.6 329.3h0M243.6 330.5h0M222.6 323.9h0M231.2 324.7h0M251.5 352.6h0M186.2 322.2h0M296.1 366.7h0M256.6 362.0h0M224.1 332.8h0M249.4 342.6h0M251.4 344.7h0M234.1 338.0h0M221.5 299.6h0M185.9 330.0h0M294.2 382.6h0M238.3 332.4h0M136.8 284.6h0M171.0 343.6h0M236.2 329.7h0M233.5 342.1h0M258.7 346.9h0M202.3 325.6h0M276.5 357.9h0M203.8 319.8h0M220.1 313.6h0M221.9 342.6h0M138.2 310.8h0M274.4 350.0h0M163.8 303.4h0M228.1 352.4h0M277.1 364.5h0M209.9 323.6h0M171.9 354.1h0M253.7 343.9h0M175.1 321.3h0M211.4 319.7h0M250.6 347.4h0M244.8 311.5h0M251.7 342.9h0M187.2 317.6h0M211.1 330.0h0M237.4 333.4h0M225.5 344.8h0M211.6 339.4h0M246.7 342.9h0M222.6 340.4h0M227.7 342.6h0M218.2 329.6h0M212.1 311.8h0M212.4 321.0h0M217.5 321.5h0M266.5 376.3h0M180.5 325.5h0M306.9 377.1h0M233.1 331.7h0M244.4 325.4h0M182.7 340.4h0M235.2 352.8h0M197.3 327.4h0M187.4 327.0h0M181.2 319.1h0M241.6 327.8h0M263.8 369.0h0M225.2 344.4h0M139.6 298.1h0M245.2 333.8h0M202.8 309.7h0M265.4 354.0h0M123.2 366.3h0M262.3 357.6h0M181.8 315.8h0M190.0 325.3h0M226.2 351.2h0M234.1 310.5h0M234.0 348.2h0M233.2 337.2h0M218.3 310.8h0M201.5 322.8h0M258.7 351.5h0M209.6 313.2h0M229.7 314.3h0M221.3 344.2h0M216.5 337.9h0M173.2 334.4h0M223.5 341.1h0M198.4 302.7h0M221.6 323.8h0M291.9 371.7h0M235.0 319.3h0M236.9 338.0h0M253.9 371.6h0M214.4 326.3h0M198.0 323.7h0M246.8 345.8h0M215.2 333.7h0M237.7 339.3h0M215.7 348.6h0M193.1 317.2h0M234.4 349.5h0M237.4 319.9h0M185.7 303.7h0M235.5 333.7h0M220.0 336.9h0M224.1 339.6h0M257.2 319.9h0M127.3 283.6h0M236.1 340.8h0M198.6 315.8h0M247.0 327.9h0M240.9 329.2h0M181.6 311.2h0M168.6 306.9h0M223.4 327.1h0M213.7 314.4h0M209.4 331.3h0M218.3 346.1h0M254.0 349.3h0M213.3 316.8h0M189.8 325.0h0M197.2 311.5h0M141.5 302.2h0M167.5 321.5h0M204.2 335.2h0M217.6 325.7h0M183.2 323.4h0M257.7 339.7h0M305.5 374.6h0M204.7 316.5h0M154.5 308.0h0M212.0 335.6h0M210.9 349.7h0M216.9 334.0h0M225.6 327.8h0M188.7 331.6h0M178.4 338.2h0M251.6 350.4h0M250.3 339.9h0M227.1 329.6h0M217.5 340.2h0M219.2 329.4h0M196.0 328.3h0M255.2 346.2h0M241.4 342.6h0M236.0 345.9h0M199.2 327.1h0M226.0 348.9h0M186.5 309.5h0M195.4 316.6h0M228.5 341.3h0M113.1 282.4h0M258.2 337.3h0M149.4 312.9h0M204.8 319.8h0M198.7 320.6h0M217.6 318.6h0M233.8 344.4h0M204.5 327.7h0M228.5 326.9h0M229.9 332.2h0M256.1 345.1h0M234.4 346.8h0M198.8 314.3h0M235.3 357.8h0M259.9 340.9h0M245.5 345.8h0M233.9 343.6h0M245.9 345.9h0M165.7 317.2h0M286.4 358.4h0M163.9 326.3h0M195.0 314.7h0M187.5 312.0h0M178.5 325.5h0M171.7 331.6h0M217.5 302.0h0M229.3 338.4h0M192.0 320.4h0M200.8 330.7h0M181.9 315.2h0M190.8 341.0h0M264.4 356.9h0M171.0 306.9h0M253.2 335.4h0M210.3 338.7h0M281.6 365.1h0M281.5 361.0h0M226.2 326.4h0M204.0 334.4h0M243.7 340.3h0M228.5 336.5h0M289.0 363.1h0M149.4 338.2h0M201.6 328.0h0M204.6 324.0h0M131.3 290.8h0M241.8 326.4h0M226.9 327.6h0M270.5 366.3h0M233.5 317.5h0M226.5 337.7h0M255.8 346.7h0M233.6 336.3h0M255.2 342.4h0M184.1 307.3h0M246.9 361.2h0M228.1 357.3h0M276.3 369.6h0M213.9 339.4h0M272.8 357.8h0M189.1 348.9h0M193.7 321.3h0M231.2 350.9h0M229.3 327.9h0M237.4 343.3h0M309.8 380.1h0M228.0 317.3h0M195.7 310.9h0M231.2 336.9h0M212.1 336.5h0M188.1 329.3h0M266.3 351.8h0M203.2 340.1h0M200.3 343.7h0M203.0 318.0h0M213.1 316.0h0M256.5 345.3h0M225.1 336.4h0M205.9 319.2h0M166.7 295.4h0M209.9 335.9h0M194.0 311.3h0M228.6 322.5h0M218.0 306.8h0M242.6 334.0h0M254.4 351.0h0M174.5 301.3h0M151.5 307.6h0M228.2 339.1h0M222.6 335.8h0M240.3 358.5h0M213.3 333.6h0M215.7 321.5h0M211.4 347.5h0M237.3 348.1h0M185.9 286.3h0M213.1 333.0h0M212.7 329.6h0M231.6 330.1h0M213.0 324.7h0M225.4 321.6h0M209.9 326.0h0M193.3 323.4h0M177.7 286.8h0M247.6 348.0h0M190.0 288.3h0M205.4 353.6h0M214.9 285.4h0M250.5 347.7h0M254.5 356.8h0M225.5 335.4h0M231.1 334.0h0M252.7 333.1h0M210.4 329.5h0M259.3 356.7h0M214.0 317.2h0M214.4 326.7h0M220.2 317.5h0M203.0 313.1h0M226.9 325.5h0M232.1 338.2h0M229.8 343.6h0M162.6 310.1h0M222.0 338.7h0M184.5 318.5h0M248.7 343.5h0M269.6 376.8h0M237.5 328.6h0M238.8 337.4h0M242.7 357.3h0M237.3 349.3h0M218.2 339.3h0M218.3 351.3h0M239.4 321.9h0M195.9 317.7h0M223.4 355.3h0M100.1 339.6h0M308.9 383.1h0M190.7 322.2h0M199.5 311.0h0M222.9 333.1h0M162.5 338.8h0M208.9 314.0h0M213.0 314.7h0M217.6 334.4h0M175.9 297.8h0M250.6 344.6h0M237.4 343.7h0M227.7 340.9h0M150.6 289.5h0M167.8 304.4h0M215.0 323.5h0" stroke="#4a4a4a" stroke-width="1.5"/><path d="M238.6 327.8h0M226.6 326.8h0M260.4 347.9h0M233.7 324.4h0M186.9 326.0h0M257.4 337.1h0M246.3 338.9h0M233.2 330.0h0M216.2 329.6h0M242.6 339.1h0M229.4 332.1h0M198.2 317.3h0M228.9 335.4h0M212.5 343.6h0M201.8 322.5h0M168.8 338.1h0M273.4 347.9h0M230.4 331.0h0M179.0 313.9h0M217.4 319.5h0M239.1 327.8h0M250.9 337.3h0M127.4 283.2h0M262.2 354.8h0M264.3 346.7h0M225.0 325.7h0M289.0 358.4h0M268.1 362.9h0M218.4 325.3h0M231.5 330.4h0M241.2 336.9h0M262.6 336.4h0M228.2 333.4h0M225.7 330.6h0M250.2 334.3h0M191.1 319.8h0M214.5 325.4h0M233.9 329.2h0M291.2 367.8h0M226.0 330.1h0M232.9 321.9h0M229.4 336.0h0M191.2 308.9h0M202.6 335.8h0M221.3 326.7h0M180.2 312.9h0M290.8 368.0h0M126.8 330.5h0M202.9 337.9h0M162.2 321.0h0M221.6 329.7h0M238.1 341.0h0M228.3 322.2h0M255.2 347.0h0M245.9 329.7h0M227.1 328.3h0M202.8 307.2h0M194.3 340.3h0M255.8 356.8h0M193.0 322.2h0M238.0 326.9h0M206.7 317.0h0M212.7 316.8h0M176.1 315.0h0M210.2 348.4h0M253.9 344.7h0M196.0 321.9h0M259.1 364.6h0M198.7 306.2h0M190.5 333.0h0M229.9 340.5h0M204.6 314.1h0M179.8 317.0h0M258.3 344.1h0M242.6 343.9h0M223.3 343.4h0M222.0 341.3h0M215.2 324.7h0M244.4 351.4h0M246.1 348.3h0M208.7 329.2h0M236.4 339.1h0M230.0 327.5h0M305.3 374.1h0M198.7 307.6h0M247.9 308.6h0M246.6 330.3h0M202.4 328.8h0M248.6 361.9h0M215.7 326.8h0M246.5 348.1h0M260.5 339.7h0M203.2 326.0h0M219.8 337.4h0M218.6 324.1h0M217.4 306.6h0M243.2 337.7h0M226.7 340.8h0M248.3 346.3h0M225.5 343.0h0M172.2 324.4h0M184.0 299.4h0M250.0 339.6h0M195.1 311.9h0M226.1 337.1h0M150.5 269.4h0M253.5 341.9h0M238.7 338.2h0M226.4 334.8h0M242.2 370.8h0M174.7 331.8h0M168.9 310.6h0M205.5 320.7h0M233.2 334.0h0M167.3 343.0h0M224.7 362.2h0M245.4 336.8h0M155.0 334.5h0M239.6 352.9h0M205.0 327.8h0M226.2 338.5h0M255.0 339.7h0M184.4 304.6h0M214.3 347.9h0M230.2 332.8h0M96.0 296.8h0M240.4 330.1h0M211.3 323.6h0M240.8 364.4h0M213.4 330.1h0M170.6 323.2h0M233.8 336.0h0M225.6 324.6h0M209.2 314.0h0M201.3 332.4h0M212.9 319.4h0M267.6 346.9h0M203.0 316.3h0M185.3 318.3h0M239.2 338.6h0M206.6 316.7h0M220.6 331.7h0M226.5 343.9h0M279.2 375.0h0M209.9 330.2h0M198.4 331.6h0M241.3 334.3h0M188.8 315.4h0M149.6 342.2h0M276.1 357.0h0M131.2 271.0h0M224.3 334.9h0M229.0 344.3h0M169.6 318.6h0M204.3 330.1h0M160.9 311.9h0M189.4 314.6h0M271.8 352.8h0M222.0 339.5h0M233.0 338.8h0M222.1 333.7h0M233.9 336.4h0M266.5 353.0h0M262.5 356.9h0M170.1 316.8h0M227.6 328.4h0M262.3 347.4h0M232.3 332.7h0M156.6 314.0h0M201.5 316.8h0M208.6 310.0h0M243.3 337.9h0M204.7 308.3h0M213.7 334.0h0M158.5 345.1h0M201.1 321.7h0M244.3 342.3h0M186.9 281.9h0M187.0 321.4h0M226.0 344.0h0M189.5 312.4h0M236.6 343.9h0M209.5 332.8h0M193.9 315.3h0M278.7 349.4h0M218.9 344.4h0M248.3 347.7h0M184.9 339.9h0M223.0 341.2h0M174.6 323.6h0M196.2 328.4h0M214.7 348.1h0M226.2 337.1h0M212.8 323.9h0M187.1 308.8h0M209.3 333.6h0M208.3 331.6h0M230.4 338.2h0M238.1 325.6h0M199.1 330.7h0M199.7 324.6h0M196.6 306.9h0M199.8 329.8h0M253.1 364.1h0M160.5 307.6h0M177.3 311.5h0M218.4 325.3h0M209.7 309.9h0M206.4 322.5h0M159.6 268.5h0M238.6 342.1h0M225.5 328.9h0M219.9 313.8h0M247.2 329.3h0M210.5 337.0h0M312.0 378.2h0M262.0 352.8h0M188.0 331.5h0M244.1 338.5h0M238.5 356.7h0M257.4 346.3h0M257.4 356.3h0M154.1 302.7h0M164.8 324.5h0M235.1 346.5h0M228.6 370.2h0M210.6 326.6h0M235.8 330.8h0M225.2 331.8h0M199.3 329.3h0M295.8 372.5h0M260.7 348.5h0M290.3 381.4h0M150.0 337.1h0M259.2 354.4h0M249.8 349.7h0M267.4 351.3h0M210.8 350.1h0M207.3 329.6h0M191.5 324.4h0M201.2 311.5h0M226.4 346.1h0M228.9 351.1h0M145.4 313.6h0M221.3 326.2h0M231.4 338.2h0M208.0 328.5h0M214.5 340.5h0M229.2 320.1h0M174.3 331.6h0M203.7 331.7h0M222.7 327.8h0M215.5 325.8h0M237.8 313.6h0M127.7 338.5h0M225.0 336.3h0M160.9 305.5h0M239.9 332.8h0M244.1 352.6h0M188.9 333.0h0M212.0 326.6h0M218.4 318.8h0M193.2 317.1h0M236.0 338.2h0M286.8 372.1h0M227.7 329.1h0M182.7 306.6h0M201.3 306.0h0M153.7 298.3h0M247.8 327.2h0M212.2 330.5h0M243.9 330.4h0M203.2 326.7h0M200.4 328.3h0M269.4 360.6h0M197.5 307.4h0M246.9 348.6h0M288.1 363.6h0M203.8 319.9h0M248.0 346.9h0M224.8 322.0h0M223.8 329.5h0M89.8 314.5h0M250.5 355.0h0M191.3 330.8h0M247.1 351.5h0M213.8 296.7h0M190.0 355.8h0M221.2 326.2h0M296.3 381.4h0M217.2 331.7h0M221.8 323.2h0M228.6 338.4h0M206.9 325.6h0M193.2 295.7h0M195.3 328.6h0M231.6 333.2h0M199.5 318.0h0M197.5 339.9h0M251.1 346.2h0M250.6 344.9h0M195.6 318.7h0M224.4 321.1h0M218.8 338.5h0M221.3 331.7h0M173.5 302.4h0M227.5 341.9h0M192.8 336.6h0M218.3 334.4h0M235.2 334.5h0M248.7 329.5h0M173.9 297.3h0M203.8 319.0h0M220.4 321.0h0M187.4 318.0h0M222.3 344.4h0" stroke="#fff" stroke-opacity="0.25" stroke-width="2.2"/><path d="M238.6 327.8h0M226.6 326.8h0M260.4 347.9h0M233.7 324.4h0M186.9 326.0h0M257.4 337.1h0M246.3 338.9h0M233.2 330.0h0M216.2 329.6h0M242.6 339.1h0M229.4 332.1h0M198.2 317.3h0M228.9 335.4h0M212.5 343.6h0M201.8 322.5h0M168.8 338.1h0M273.4 347.9h0M230.4 331.0h0M179.0 313.9h0M217.4 319.5h0M239.1 327.8h0M250.9 337.3h0M127.4 283.2h0M262.2 354.8h0M264.3 346.7h0M225.0 325.7h0M289.0 358.4h0M268.1 362.9h0M218.4 325.3h0M231.5 330.4h0M241.2 336.9h0M262.6 336.4h0M228.2 333.4h0M225.7 330.6h0M250.2 334.3h0M191.1 319.8h0M214.5 325.4h0M233.9 329.2h0M291.2 367.8h0M226.0 330.1h0M232.9 321.9h0M229.4 336.0h0M191.2 308.9h0M202.6 335.8h0M221.3 326.7h0M180.2 312.9h0M290.8 368.0h0M126.8 330.5h0M202.9 337.9h0M162.2 321.0h0M221.6 329.7h0M238.1 341.0h0M228.3 322.2h0M255.2 347.0h0M245.9 329.7h0M227.1 328.3h0M202.8 307.2h0M194.3 340.3h0M255.8 356.8h0M193.0 322.2h0M238.0 326.9h0M206.7 317.0h0M212.7 316.8h0M176.1 315.0h0M210.2 348.4h0M253.9 344.7h0M196.0 321.9h0M259.1 364.6h0M198.7 306.2h0M190.5 333.0h0M229.9 340.5h0M204.6 314.1h0M179.8 317.0h0M258.3 344.1h0M242.6 343.9h0M223.3 343.4h0M222.0 341.3h0M215.2 324.7h0M244.4 351.4h0M246.1 348.3h0M208.7 329.2h0M236.4 339.1h0M230.0 327.5h0M305.3 374.1h0M198.7 307.6h0M247.9 308.6h0M246.6 330.3h0M202.4 328.8h0M248.6 361.9h0M215.7 326.8h0M246.5 348.1h0M260.5 339.7h0M203.2 326.0h0M219.8 337.4h0M218.6 324.1h0M217.4 306.6h0M243.2 337.7h0M226.7 340.8h0M248.3 346.3h0M225.5 343.0h0M172.2 324.4h0M184.0 299.4h0M250.0 339.6h0M195.1 311.9h0M226.1 337.1h0M150.5 269.4h0M253.5 341.9h0M238.7 338.2h0M226.4 334.8h0M242.2 370.8h0M174.7 331.8h0M168.9 310.6h0M205.5 320.7h0M233.2 334.0h0M167.3 343.0h0M224.7 362.2h0M245.4 336.8h0M155.0 334.5h0M239.6 352.9h0M205.0 327.8h0M226.2 338.5h0M255.0 339.7h0M184.4 304.6h0M214.3 347.9h0M230.2 332.8h0M96.0 296.8h0M240.4 330.1h0M211.3 323.6h0M240.8 364.4h0M213.4 330.1h0M170.6 323.2h0M233.8 336.0h0M225.6 324.6h0M209.2 314.0h0M201.3 332.4h0M212.9 319.4h0M267.6 346.9h0M203.0 316.3h0M185.3 318.3h0M239.2 338.6h0M206.6 316.7h0M220.6 331.7h0M226.5 343.9h0M279.2 375.0h0M209.9 330.2h0M198.4 331.6h0M241.3 334.3h0M188.8 315.4h0M149.6 342.2h0M276.1 357.0h0M131.2 271.0h0M224.3 334.9h0M229.0 344.3h0M169.6 318.6h0M204.3 330.1h0M160.9 311.9h0M189.4 314.6h0M271.8 352.8h0M222.0 339.5h0M233.0 338.8h0M222.1 333.7h0M233.9 336.4h0M266.5 353.0h0M262.5 356.9h0M170.1 316.8h0M227.6 328.4h0M262.3 347.4h0M232.3 332.7h0M156.6 314.0h0M201.5 316.8h0M208.6 310.0h0M243.3 337.9h0M204.7 308.3h0M213.7 334.0h0M158.5 345.1h0M201.1 321.7h0M244.3 342.3h0M186.9 281.9h0M187.0 321.4h0M226.0 344.0h0M189.5 312.4h0M236.6 343.9h0M209.5 332.8h0M193.9 315.3h0M278.7 349.4h0M218.9 344.4h0M248.3 347.7h0M184.9 339.9h0M223.0 341.2h0M174.6 323.6h0M196.2 328.4h0M214.7 348.1h0M226.2 337.1h0M212.8 323.9h0M187.1 308.8h0M209.3 333.6h0M208.3 331.6h0M230.4 338.2h0M238.1 325.6h0M199.1 330.7h0M199.7 324.6h0M196.6 306.9h0M199.8 329.8h0M253.1 364.1h0M160.5 307.6h0M177.3 311.5h0M218.4 325.3h0M209.7 309.9h0M206.4 322.5h0M159.6 268.5h0M238.6 342.1h0M225.5 328.9h0M219.9 313.8h0M247.2 329.3h0M210.5 337.0h0M312.0 378.2h0M262.0 352.8h0M188.0 331.5h0M244.1 338.5h0M238.5 356.7h0M257.4 346.3h0M257.4 356.3h0M154.1 302.7h0M164.8 324.5h0M235.1 346.5h0M228.6 370.2h0M210.6 326.6h0M235.8 330.8h0M225.2 331.8h0M199.3 329.3h0M295.8 372.5h0M260.7 348.5h0M290.3 381.4h0M150.0 337.1h0M259.2 354.4h0M249.8 349.7h0M267.4 351.3h0M210.8 350.1h0M207.3 329.6h0M191.5 324.4h0M201.2 311.5h0M226.4 346.1h0M228.9 351.1h0M145.4 313.6h0M221.3 326.2h0M231.4 338.2h0M208.0 328.5h0M214.5 340.5h0M229.2 320.1h0M174.3 331.6h0M203.7 331.7h0M222.7 327.8h0M215.5 325.8h0M237.8 313.6h0M127.7 338.5h0M225.0 336.3h0M160.9 305.5h0M239.9 332.8h0M244.1 352.6h0M188.9 333.0h0M212.0 326.6h0M218.4 318.8h0M193.2 317.1h0M236.0 338.2h0M286.8 372.1h0M227.7 329.1h0M182.7 306.6h0M201.3 306.0h0M153.7 298.3h0M247.8 327.2h0M212.2 330.5h0M243.9 330.4h0M203.2 326.7h0M200.4 328.3h0M269.4 360.6h0M197.5 307.4h0M246.9 348.6h0M288.1 363.6h0M203.8 319.9h0M248.0 346.9h0M224.8 322.0h0M223.8 329.5h0M89.8 314.5h0M250.5 355.0h0M191.3 330.8h0M247.1 351.5h0M213.8 296.7h0M190.0 355.8h0M221.2 326.2h0M296.3 381.4h0M217.2 331.7h0M221.8 323.2h0M228.6 338.4h0M206.9 325.6h0M193.2 295.7h0M195.3 328.6h0M231.6 333.2h0M199.5 318.0h0M197.5 339.9h0M251.1 346.2h0M250.6 344.9h0M195.6 318.7h0M224.4 321.1h0M218.8 338.5h0M221.3 331.7h0M173.5 302.4h0M227.5 341.9h0M192.8 336.6h0M218.3 334.4h0M235.2 334.5h0M248.7 329.5h0M173.9 297.3h0M203.8 319.0h0M220.4 321.0h0M187.4 318.0h0M222.3 344.4h0" stroke="#4a4a4a" stroke-width="1.5"/></g>
</g>
<rect x="37.7" y="251.2" width="308.5" height="201.2" fill="none" stroke="#1a1a1a" stroke-width="0.9"/>
<path d="M51.5 452.4v3.3M86.7 452.4v3.3M121.8 452.4v3.3M156.9 452.4v3.3M192.1 452.4v3.3M227.2 452.4v3.3M262.4 452.4v3.3M297.5 452.4v3.3M332.7 452.4v3.3M37.7 444.1h-3.3M37.7 407.3h-3.3M37.7 370.6h-3.3M37.7 333.8h-3.3M37.7 297.1h-3.3M37.7 260.3h-3.3" stroke="#1a1a1a" stroke-width="0.9" fill="none"/>
<text class="t" x="51.5" y="467.0" text-anchor="middle">2</text>
<text class="t" x="86.7" y="467.0" text-anchor="middle">3</text>
<text class="t" x="121.8" y="467.0" text-anchor="middle">4</text>
<text class="t" x="156.9" y="467.0" text-anchor="middle">5</text>
<text class="t" x="192.1" y="467.0" text-anchor="middle">6</text>
<text class="t" x="227.2" y="467.0" text-anchor="middle">7</text>
<text class="t" x="262.4" y="467.0" text-anchor="middle">8</text>
<text class="t" x="297.5" y="467.0" text-anchor="middle">9</text>
<text class="t" x="332.7" y="467.0" text-anchor="middle">10</text>
<text class="t" x="30.9" y="448.4" text-anchor="end">9</text>
<text class="t" x="30.9" y="411.6" text-anchor="end">10</text>
<text class="t" x="30.9" y="374.9" text-anchor="end">11</text>
<text class="t" x="30.9" y="338.1" text-anchor="end">12</text>
<text class="t" x="30.9" y="301.4" text-anchor="end">13</text>
<text class="t" x="30.9" y="264.6" text-anchor="end">14</text>
<text class="l" transform="translate(192 481.5) scale(1 1.07)" text-anchor="middle">log τ<tspan dy="2.2" font-size="8px">c</tspan><tspan dy="-2.2"> (yr)</tspan></text>
<text class="l" transform="translate(8.8 358.1) rotate(-90) scale(1.21 1)" text-anchor="middle">log <tspan class="i">B</tspan><tspan dy="2.2" font-size="8px">dip</tspan><tspan dy="-2.2"> (G)</tspan></text>
<text class="a b" x="51.5" y="370.5">1.2 &lt; <tspan class="i">α</tspan> &lt; 1.8</text>
<text class="a b" x="51.5" y="396.5">10<tspan dy="-4.0" font-size="7px">1</tspan><tspan dy="4.0"> &lt; τ</tspan><tspan dy="1.8" font-size="7px">d</tspan><tspan dy="-1.8" dx="0.7" class="i">/yr</tspan> &lt; 10<tspan dy="-4.0" font-size="7px">5</tspan></text>
<text class="a b" x="51.5" y="417.5">10<tspan dy="-4.0" font-size="7px">12</tspan><tspan dy="4.0"> &lt; </tspan><tspan class="i">B</tspan><tspan dy="1.8" font-size="7px">i</tspan><tspan dy="-1.8" dx="0.7" class="i">/G</tspan> &lt; 10<tspan dy="-4.0" font-size="7px">14</tspan></text>
<text class="a" x="51.5" y="439.8"><tspan class="i">B</tspan><tspan dy="1.8" font-size="7.2px">m</tspan><tspan dy="-1.8"> = 10</tspan><tspan dy="-4.0" font-size="7.2px">9</tspan><tspan dy="4.0" dx="0.8"> G</tspan></text>
<rect x="283" y="255.3" width="59.6" height="16.8" rx="2" fill="#fff" fill-opacity="0.8" stroke="#ccc" stroke-width="0.8"/>
<circle cx="296.3" cy="263.6" r="0.75" fill="#4a4a4a"/>
<text class="p" x="312.6" y="266.9">NANS</text>
</svg></body></html>
